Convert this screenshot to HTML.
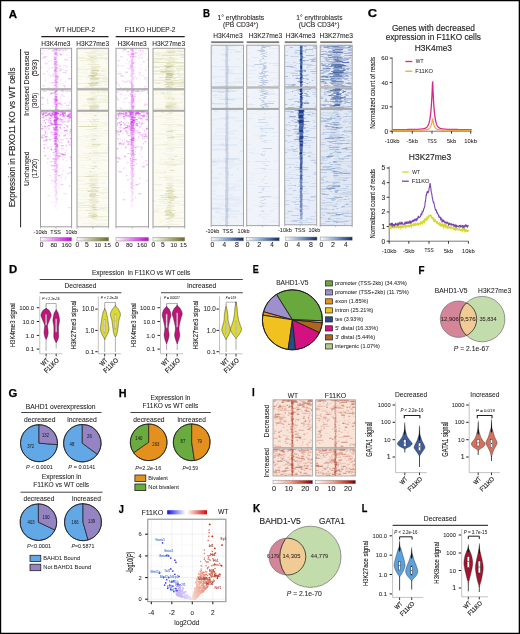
<!DOCTYPE html>
<html><head><meta charset="utf-8"><style>
html,body{margin:0;padding:0;background:#fff;overflow:hidden;width:520px;height:634px;}
svg{display:block;font-family:"Liberation Sans", sans-serif;will-change:transform;}
text{stroke:#231f20;stroke-width:0.18px;}
</style></head><body>
<svg width="520" height="634" viewBox="0 0 520 634" font-family="Liberation Sans, sans-serif" fill="#231f20">
<rect x="0" y="0" width="520" height="634" fill="#fff"/>
<defs><filter id="soft" x="-5%" y="-5%" width="110%" height="110%"><feGaussianBlur stdDeviation="0.35"/></filter></defs>
<text x="8.70" y="17.59" font-size="10.6" font-weight="bold" fill="#000" style="stroke:#000;stroke-width:0.25px" textLength="8.3" lengthAdjust="spacingAndGlyphs">A</text>
<text x="75.14" y="32.10" font-size="6.396" text-anchor="middle" style="stroke-width:0.06px" textLength="39.68" lengthAdjust="spacingAndGlyphs">WT HUDEP-2</text>
<text x="150.09" y="32.16" font-size="6.549" text-anchor="middle" style="stroke-width:0.07px" textLength="50.83" lengthAdjust="spacingAndGlyphs">F11KO HUDEP-2</text>
<line x1="41.30" y1="36.60" x2="108.50" y2="36.60" stroke="#231f20" stroke-width="1.1" />
<line x1="115.70" y1="36.60" x2="184.70" y2="36.60" stroke="#231f20" stroke-width="1.1" />
<text x="55.93" y="45.66" font-size="6.543" text-anchor="middle" style="stroke-width:0.07px" textLength="29.10" lengthAdjust="spacingAndGlyphs">H3K4me3</text>
<text x="92.68" y="45.66" font-size="6.557" text-anchor="middle" style="stroke-width:0.07px" textLength="32.81" lengthAdjust="spacingAndGlyphs">H3K27me3</text>
<text x="132.13" y="45.66" font-size="6.543" text-anchor="middle" style="stroke-width:0.07px" textLength="29.10" lengthAdjust="spacingAndGlyphs">H3K4me3</text>
<text x="168.73" y="45.66" font-size="6.557" text-anchor="middle" style="stroke-width:0.07px" textLength="32.81" lengthAdjust="spacingAndGlyphs">H3K27me3</text>
<rect x="40.50" y="48.30" width="31.10" height="40.50" fill="#ffffff" />
<g filter="url(#soft)">
<path fill="#cc22e6" fill-opacity="0.08" d="M65.6 48.3h3.3v1.0h-3.3zM43.6 48.3h1.8v1.0h-1.8zM40.5 52.3h0.7v1.0h-0.7zM67.1 55.3h2.0v1.0h-2.0zM57.2 58.3h1.3v1.0h-1.3zM46.3 58.3h1.4v1.0h-1.4zM63.9 61.3h1.2v1.0h-1.2zM70.8 62.3h0.8v1.0h-0.8zM66.5 64.3h0.5v1.0h-0.5zM67.5 68.3h1.5v1.0h-1.5zM40.6 74.3h1.1v1.0h-1.1zM45.2 77.3h0.8v1.0h-0.8zM57.9 84.3h1.5v1.0h-1.5zM68.7 84.3h2.3v1.0h-2.3zM57.4 85.3h1.4v1.0h-1.4zM64.1 86.3h0.6v1.0h-0.6z"/>
<path fill="#cc22e6" fill-opacity="0.16" d="M42.3 48.3h1.4v1.0h-1.4zM45.7 48.3h0.8v1.0h-0.8zM55.7 49.3h2.3v1.0h-2.3zM56.6 49.3h1.6v1.0h-1.6zM50.9 49.3h2.8v1.0h-2.8zM57.7 50.3h2.2v1.0h-2.2zM43.8 50.3h0.5v1.0h-0.5zM62.7 50.3h1.4v1.0h-1.4zM69.6 50.3h1.1v1.0h-1.1zM46.4 50.3h0.6v1.0h-0.6zM71.0 51.3h0.6v1.0h-0.6zM62.5 51.3h0.9v1.0h-0.9zM63.0 53.3h1.2v1.0h-1.2zM58.4 53.3h3.2v1.0h-3.2zM54.1 54.3h1.1v1.0h-1.1zM52.5 55.3h0.8v1.0h-0.8zM68.8 57.3h2.3v1.0h-2.3zM41.3 58.3h1.7v1.0h-1.7zM58.4 59.3h0.5v1.0h-0.5zM69.5 60.3h1.9v1.0h-1.9zM53.3 62.3h1.3v1.0h-1.3zM45.8 62.3h0.8v1.0h-0.8zM51.3 63.3h0.6v1.0h-0.6zM63.0 65.3h3.5v1.0h-3.5zM59.3 65.3h2.3v1.0h-2.3zM70.0 66.3h0.8v1.0h-0.8zM58.6 66.3h1.9v1.0h-1.9zM59.8 69.3h1.8v1.0h-1.8zM48.1 74.3h1.8v1.0h-1.8zM50.0 75.3h4.2v1.0h-4.2zM71.1 75.3h0.5v1.0h-0.5zM52.8 76.3h1.8v1.0h-1.8zM68.2 78.3h2.6v1.0h-2.6zM45.0 79.3h0.9v1.0h-0.9zM44.4 80.3h1.3v1.0h-1.3zM55.1 81.3h1.5v1.0h-1.5zM49.3 82.3h4.2v1.0h-4.2zM60.1 83.3h1.2v1.0h-1.2zM70.3 86.3h1.3v1.0h-1.3zM47.6 87.3h1.8v1.0h-1.8z"/>
<path fill="#cc22e6" fill-opacity="0.26" d="M55.3 48.3h2.5v1.0h-2.5zM53.4 48.3h2.1v1.0h-2.1zM69.5 48.3h0.6v1.0h-0.6zM49.8 48.3h1.0v1.0h-1.0zM59.8 48.3h1.0v1.0h-1.0zM70.2 48.3h0.8v1.0h-0.8zM64.4 48.3h1.1v1.0h-1.1zM58.6 49.3h4.2v1.0h-4.2zM65.6 49.3h2.2v1.0h-2.2zM47.7 49.3h1.8v1.0h-1.8zM62.2 49.3h3.4v1.0h-3.4zM55.5 49.3h1.4v1.0h-1.4zM61.4 49.3h0.7v1.0h-0.7zM63.9 49.3h0.7v1.0h-0.7zM55.1 50.3h2.3v1.0h-2.3zM59.4 50.3h2.0v1.0h-2.0zM57.2 50.3h1.3v1.0h-1.3zM65.3 50.3h0.7v1.0h-0.7zM44.6 50.3h0.6v1.0h-0.6zM42.3 50.3h0.7v1.0h-0.7zM54.2 51.3h2.7v1.0h-2.7zM53.1 51.3h0.8v1.0h-0.8zM40.5 53.3h2.9v1.0h-2.9zM66.6 54.3h0.7v1.0h-0.7zM59.8 54.3h0.9v1.0h-0.9zM55.6 55.3h2.3v1.0h-2.3zM56.9 55.3h1.7v1.0h-1.7zM53.9 56.3h2.8v1.0h-2.8zM43.1 56.3h4.2v1.0h-4.2zM45.1 56.3h1.6v1.0h-1.6zM42.9 57.3h2.7v1.0h-2.7zM63.9 59.3h4.2v1.0h-4.2zM55.7 60.3h2.2v1.0h-2.2zM49.7 60.3h0.9v1.0h-0.9zM51.0 60.3h0.6v1.0h-0.6zM48.5 61.3h0.8v1.0h-0.8zM55.2 62.3h3.0v1.0h-3.0zM44.8 63.3h2.8v1.0h-2.8zM71.2 64.3h0.4v1.0h-0.4zM54.2 66.3h2.1v1.0h-2.1zM66.2 66.3h1.6v1.0h-1.6zM51.5 67.3h2.1v1.0h-2.1zM41.2 67.3h1.1v1.0h-1.1zM59.6 68.3h2.4v1.0h-2.4zM48.7 68.3h1.3v1.0h-1.3zM62.5 69.3h1.0v1.0h-1.0zM64.8 70.3h2.7v1.0h-2.7zM54.0 70.3h1.9v1.0h-1.9zM56.5 71.3h1.7v1.0h-1.7zM46.4 71.3h1.3v1.0h-1.3zM54.1 72.3h2.4v1.0h-2.4zM62.8 72.3h3.3v1.0h-3.3zM66.4 72.3h0.7v1.0h-0.7zM52.3 73.3h1.1v1.0h-1.1zM43.3 73.3h1.9v1.0h-1.9zM53.7 74.3h3.0v1.0h-3.0zM54.8 76.3h4.2v1.0h-4.2zM54.9 77.3h2.4v1.0h-2.4zM56.4 77.3h2.0v1.0h-2.0zM68.0 78.3h3.6v1.0h-3.6zM60.4 79.3h0.9v1.0h-0.9zM60.1 80.3h0.7v1.0h-0.7zM65.0 81.3h1.0v1.0h-1.0zM52.5 82.3h4.2v1.0h-4.2zM55.0 83.3h2.0v1.0h-2.0zM62.6 83.3h0.6v1.0h-0.6zM42.5 85.3h2.3v1.0h-2.3zM62.7 85.3h2.4v1.0h-2.4zM64.0 86.3h1.5v1.0h-1.5zM54.8 87.3h3.4v1.0h-3.4zM52.7 87.3h0.5v1.0h-0.5zM53.9 88.3h2.4v0.5h-2.4zM68.7 88.3h0.7v0.5h-0.7zM42.3 88.3h0.9v0.5h-0.9z"/>
<path fill="#cc22e6" fill-opacity="0.4" d="M56.2 48.3h3.6v1.0h-3.6zM53.8 49.3h3.2v1.0h-3.2zM54.5 49.3h0.9v1.0h-0.9zM52.3 50.3h2.0v1.0h-2.0zM54.5 52.3h2.2v1.0h-2.2zM55.3 52.3h2.3v1.0h-2.3zM54.6 54.3h2.9v1.0h-2.9zM59.9 54.3h2.1v1.0h-2.1zM53.7 57.3h3.2v1.0h-3.2zM54.0 58.3h2.4v1.0h-2.4zM55.6 62.3h1.3v1.0h-1.3zM54.6 64.3h3.0v1.0h-3.0zM53.5 64.3h4.8v1.0h-4.8zM54.7 65.3h2.3v1.0h-2.3zM54.9 68.3h3.0v1.0h-3.0zM53.8 70.3h3.3v1.0h-3.3zM59.2 70.3h1.6v1.0h-1.6zM54.4 71.3h2.3v1.0h-2.3zM54.7 73.3h2.1v1.0h-2.1zM54.9 75.3h3.3v1.0h-3.3zM55.1 76.3h2.8v1.0h-2.8zM55.2 78.3h3.1v1.0h-3.1zM54.7 79.3h2.7v1.0h-2.7zM54.5 80.3h2.2v1.0h-2.2zM54.9 81.3h2.7v1.0h-2.7zM55.5 82.3h2.9v1.0h-2.9zM54.6 84.3h2.8v1.0h-2.8zM53.7 85.3h3.0v1.0h-3.0zM55.6 86.3h1.9v1.0h-1.9z"/>
<path fill="#cc22e6" fill-opacity="0.6" d="M54.2 53.3h3.1v1.0h-3.1zM53.8 59.3h2.7v1.0h-2.7zM53.8 61.3h2.9v1.0h-2.9zM54.1 63.3h2.2v1.0h-2.2zM54.6 67.3h2.9v1.0h-2.9zM54.3 69.3h2.1v1.0h-2.1z"/>
</g>
<rect x="40.50" y="48.30" width="31.10" height="40.50" fill="none" stroke="#9d9d9d" stroke-width="1"/>
<rect x="40.50" y="89.80" width="31.10" height="20.50" fill="#ffffff" />
<g filter="url(#soft)">
<path fill="#cc22e6" fill-opacity="0.08" d="M70.7 89.8h0.8v1.0h-0.8zM49.6 89.8h1.2v1.0h-1.2zM45.9 90.8h0.5v1.0h-0.5zM42.9 90.8h0.5v1.0h-0.5zM50.8 91.8h1.9v1.0h-1.9zM66.1 91.8h0.9v1.0h-0.9zM49.3 92.8h3.3v1.0h-3.3zM68.0 92.8h1.8v1.0h-1.8zM51.8 100.8h4.2v1.0h-4.2zM40.5 104.8h0.4v1.0h-0.4zM59.6 106.8h1.7v1.0h-1.7zM64.1 107.8h0.6v1.0h-0.6zM66.1 107.8h2.5v1.0h-2.5zM68.8 108.8h2.2v1.0h-2.2z"/>
<path fill="#cc22e6" fill-opacity="0.16" d="M60.9 89.8h1.3v1.0h-1.3zM54.9 89.8h1.0v1.0h-1.0zM52.5 89.8h1.7v1.0h-1.7zM51.8 89.8h3.1v1.0h-3.1zM52.5 89.8h1.7v1.0h-1.7zM60.6 90.8h1.0v1.0h-1.0zM67.7 90.8h1.3v1.0h-1.3zM68.1 90.8h2.1v1.0h-2.1zM61.6 94.8h1.9v1.0h-1.9zM63.1 95.8h1.9v1.0h-1.9zM54.3 95.8h1.2v1.0h-1.2zM40.6 96.8h3.6v1.0h-3.6zM52.9 98.8h2.0v1.0h-2.0zM47.5 98.8h0.6v1.0h-0.6zM55.5 99.8h3.5v1.0h-3.5zM69.5 99.8h1.6v1.0h-1.6zM69.5 101.8h2.1v1.0h-2.1zM63.7 102.8h2.2v1.0h-2.2zM46.6 102.8h2.3v1.0h-2.3zM62.1 106.8h0.5v1.0h-0.5zM68.0 107.8h1.4v1.0h-1.4zM57.7 109.8h1.4v0.5h-1.4z"/>
<path fill="#cc22e6" fill-opacity="0.26" d="M49.2 89.8h0.8v1.0h-0.8zM42.9 89.8h0.8v1.0h-0.8zM61.2 89.8h2.6v1.0h-2.6zM52.7 89.8h1.2v1.0h-1.2zM61.7 90.8h0.7v1.0h-0.7zM61.5 90.8h2.9v1.0h-2.9zM69.9 90.8h1.0v1.0h-1.0zM43.0 90.8h2.7v1.0h-2.7zM65.4 90.8h2.3v1.0h-2.3zM45.8 90.8h0.7v1.0h-0.7zM50.4 93.8h1.4v1.0h-1.4zM61.5 93.8h0.9v1.0h-0.9zM56.6 93.8h0.9v1.0h-0.9zM54.3 94.8h2.1v1.0h-2.1zM54.1 94.8h1.1v1.0h-1.1zM60.5 95.8h0.9v1.0h-0.9zM54.4 96.8h2.3v1.0h-2.3zM41.1 97.8h2.8v1.0h-2.8zM60.2 97.8h0.9v1.0h-0.9zM46.9 98.8h0.8v1.0h-0.8zM56.4 99.8h0.8v1.0h-0.8zM41.5 100.8h0.6v1.0h-0.6zM46.8 100.8h1.3v1.0h-1.3zM67.0 101.8h0.7v1.0h-0.7zM69.2 102.8h1.2v1.0h-1.2zM59.0 103.8h3.8v1.0h-3.8zM40.9 103.8h2.8v1.0h-2.8zM57.7 103.8h2.4v1.0h-2.4zM66.1 104.8h4.2v1.0h-4.2zM61.8 104.8h0.7v1.0h-0.7zM52.6 105.8h0.9v1.0h-0.9zM55.3 105.8h1.4v1.0h-1.4zM70.3 108.8h1.3v1.0h-1.3zM67.7 109.8h1.5v0.5h-1.5z"/>
<path fill="#cc22e6" fill-opacity="0.4" d="M54.3 92.8h2.1v1.0h-2.1zM50.4 92.8h3.7v1.0h-3.7zM55.2 93.8h2.2v1.0h-2.2zM54.0 97.8h2.8v1.0h-2.8zM54.4 98.8h2.8v1.0h-2.8zM54.4 101.8h2.9v1.0h-2.9zM53.7 101.8h1.3v1.0h-1.3zM54.4 102.8h2.1v1.0h-2.1zM56.8 102.8h4.1v1.0h-4.1zM54.8 105.8h3.3v1.0h-3.3zM54.9 107.8h2.0v1.0h-2.0z"/>
<path fill="#cc22e6" fill-opacity="0.6" d="M55.8 89.8h2.1v1.0h-2.1zM55.2 90.8h1.8v1.0h-1.8zM54.9 90.8h1.0v1.0h-1.0zM54.1 91.8h2.3v1.0h-2.3zM55.1 95.8h2.0v1.0h-2.0zM55.3 96.8h2.2v1.0h-2.2zM55.3 98.8h2.3v1.0h-2.3zM54.3 99.8h3.2v1.0h-3.2zM54.7 100.8h2.7v1.0h-2.7zM54.4 103.8h2.9v1.0h-2.9zM55.9 104.8h1.9v1.0h-1.9zM55.2 106.8h1.9v1.0h-1.9zM55.1 108.8h3.2v1.0h-3.2zM54.7 109.8h1.8v0.5h-1.8z"/>
</g>
<rect x="40.50" y="89.80" width="31.10" height="20.50" fill="none" stroke="#9d9d9d" stroke-width="1"/>
<rect x="40.50" y="111.20" width="31.10" height="115.60" fill="#ffffff" />
<g filter="url(#soft)">
<path fill="#cc22e6" fill-opacity="0.08" d="M54.2 189.2h2.8v1.0h-2.8zM54.0 196.2h2.8v1.0h-2.8zM55.6 197.2h2.0v1.0h-2.0zM55.7 200.2h2.0v1.0h-2.0zM53.9 201.2h2.8v1.0h-2.8zM55.0 202.2h2.1v1.0h-2.1zM55.9 203.2h1.7v1.0h-1.7zM54.3 204.2h1.8v1.0h-1.8zM54.9 205.2h1.8v1.0h-1.8zM53.9 206.2h2.5v1.0h-2.5zM55.2 208.2h1.9v1.0h-1.9z"/>
<path fill="#cc22e6" fill-opacity="0.16" d="M44.2 111.2h4.0v1.0h-4.0zM47.2 112.2h1.3v1.0h-1.3zM46.9 112.2h1.7v1.0h-1.7zM52.6 112.2h5.4v1.0h-5.4zM44.9 113.2h0.8v1.0h-0.8zM61.8 113.2h1.3v1.0h-1.3zM48.7 113.2h1.7v1.0h-1.7zM64.3 114.2h1.6v1.0h-1.6zM51.4 115.2h4.2v1.0h-4.2zM63.0 118.2h0.5v1.0h-0.5zM44.0 118.2h1.8v1.0h-1.8zM60.6 121.2h3.4v1.0h-3.4zM45.0 123.2h1.3v1.0h-1.3zM68.0 125.2h0.9v1.0h-0.9zM60.1 126.2h1.1v1.0h-1.1zM48.7 127.2h0.7v1.0h-0.7zM44.8 128.2h2.1v1.0h-2.1zM55.9 128.2h1.2v1.0h-1.2zM45.7 130.2h1.5v1.0h-1.5zM45.6 131.2h0.6v1.0h-0.6zM52.0 132.2h1.0v1.0h-1.0zM55.7 133.2h1.0v1.0h-1.0zM70.2 135.2h1.4v1.0h-1.4zM40.7 135.2h4.2v1.0h-4.2zM51.0 138.2h1.9v1.0h-1.9zM59.4 142.2h2.9v1.0h-2.9zM51.7 143.2h0.5v1.0h-0.5zM45.5 144.2h1.5v1.0h-1.5zM62.5 146.2h0.9v1.0h-0.9zM51.7 149.2h2.1v1.0h-2.1zM65.9 150.2h1.5v1.0h-1.5zM42.7 151.2h2.3v1.0h-2.3zM55.8 153.2h2.3v1.0h-2.3zM69.3 156.2h2.3v1.0h-2.3zM61.8 156.2h1.3v1.0h-1.3zM64.1 157.2h1.5v1.0h-1.5zM55.1 163.2h0.5v1.0h-0.5zM65.7 166.2h0.6v1.0h-0.6zM62.4 170.2h2.1v1.0h-2.1zM53.8 171.2h1.3v1.0h-1.3zM54.7 175.2h2.1v1.0h-2.1zM54.6 178.2h2.3v1.0h-2.3zM50.3 182.2h1.3v1.0h-1.3zM54.8 184.2h1.8v1.0h-1.8zM55.5 185.2h2.0v1.0h-2.0zM54.5 186.2h2.4v1.0h-2.4zM54.2 187.2h1.9v1.0h-1.9zM54.8 188.2h2.3v1.0h-2.3zM54.4 190.2h2.6v1.0h-2.6zM55.7 192.2h2.4v1.0h-2.4zM55.1 193.2h2.0v1.0h-2.0zM63.5 193.2h3.3v1.0h-3.3zM55.0 194.2h2.4v1.0h-2.4zM54.7 195.2h2.1v1.0h-2.1zM47.5 195.2h3.2v1.0h-3.2zM55.4 198.2h2.9v1.0h-2.9zM55.6 199.2h2.3v1.0h-2.3zM68.2 207.2h3.0v1.0h-3.0z"/>
<path fill="#cc22e6" fill-opacity="0.26" d="M51.6 111.2h2.1v1.0h-2.1zM56.8 111.2h0.8v1.0h-0.8zM43.0 111.2h0.8v1.0h-0.8zM44.7 112.2h1.1v1.0h-1.1zM53.3 112.2h0.7v1.0h-0.7zM52.8 112.2h2.1v1.0h-2.1zM40.5 112.2h0.9v1.0h-0.9zM41.0 112.2h2.9v1.0h-2.9zM49.7 112.2h4.2v1.0h-4.2zM53.7 112.2h3.5v1.0h-3.5zM70.9 113.2h0.7v1.0h-0.7zM43.3 113.2h3.1v1.0h-3.1zM55.3 113.2h0.8v1.0h-0.8zM61.9 113.2h0.6v1.0h-0.6zM46.1 113.2h4.2v1.0h-4.2zM66.8 114.2h1.0v1.0h-1.0zM56.0 114.2h0.5v1.0h-0.5zM46.8 114.2h3.2v1.0h-3.2zM53.8 114.2h1.5v1.0h-1.5zM50.3 115.2h1.1v1.0h-1.1zM69.9 115.2h1.7v1.0h-1.7zM58.4 115.2h3.2v1.0h-3.2zM45.1 115.2h3.6v1.0h-3.6zM50.2 115.2h2.2v1.0h-2.2zM63.6 115.2h0.6v1.0h-0.6zM56.3 115.2h1.0v1.0h-1.0zM54.0 115.2h1.8v1.0h-1.8zM66.1 116.2h2.2v1.0h-2.2zM50.8 117.2h4.2v1.0h-4.2zM54.1 117.2h1.2v1.0h-1.2zM47.9 117.2h2.8v1.0h-2.8zM52.8 117.2h3.0v1.0h-3.0zM69.7 118.2h0.7v1.0h-0.7zM47.2 119.2h2.7v1.0h-2.7zM67.6 119.2h0.5v1.0h-0.5zM60.3 119.2h3.8v1.0h-3.8zM53.8 119.2h10.1v1.0h-10.1zM61.3 120.2h1.1v1.0h-1.1zM67.4 120.2h3.8v1.0h-3.8zM65.4 121.2h3.0v1.0h-3.0zM59.8 121.2h1.6v1.0h-1.6zM48.0 122.2h4.2v1.0h-4.2zM52.3 123.2h1.0v1.0h-1.0zM50.7 124.2h1.7v1.0h-1.7zM55.3 124.2h0.9v1.0h-0.9zM70.6 125.2h0.7v1.0h-0.7zM55.7 126.2h0.5v1.0h-0.5zM59.0 127.2h1.6v1.0h-1.6zM67.4 127.2h1.1v1.0h-1.1zM41.5 128.2h2.0v1.0h-2.0zM43.6 130.2h0.6v1.0h-0.6zM50.7 131.2h1.2v1.0h-1.2zM50.1 132.2h3.0v1.0h-3.0zM66.8 133.2h1.6v1.0h-1.6zM42.4 134.2h3.5v1.0h-3.5zM51.4 134.2h1.5v1.0h-1.5zM40.7 136.2h1.6v1.0h-1.6zM44.2 136.2h2.7v1.0h-2.7zM65.2 138.2h1.7v1.0h-1.7zM53.8 138.2h2.4v1.0h-2.4zM50.5 139.2h0.6v1.0h-0.6zM60.2 139.2h3.7v1.0h-3.7zM59.2 141.2h1.1v1.0h-1.1zM52.6 141.2h1.0v1.0h-1.0zM54.2 142.2h3.7v1.0h-3.7zM61.5 142.2h0.6v1.0h-0.6zM67.7 142.2h3.9v1.0h-3.9zM68.2 144.2h3.4v1.0h-3.4zM70.5 145.2h1.1v1.0h-1.1zM50.6 146.2h0.9v1.0h-0.9zM44.0 148.2h1.2v1.0h-1.2zM60.9 148.2h2.9v1.0h-2.9zM61.6 150.2h0.5v1.0h-0.5zM70.5 151.2h1.1v1.0h-1.1zM54.8 152.2h3.3v1.0h-3.3zM57.3 152.2h2.7v1.0h-2.7zM64.4 152.2h1.5v1.0h-1.5zM53.4 154.2h3.7v1.0h-3.7zM55.6 155.2h2.1v1.0h-2.1zM54.1 156.2h3.1v1.0h-3.1zM55.0 157.2h3.2v1.0h-3.2zM46.9 158.2h2.3v1.0h-2.3zM54.8 160.2h2.0v1.0h-2.0zM70.8 160.2h0.8v1.0h-0.8zM66.5 160.2h0.8v1.0h-0.8zM49.6 161.2h3.3v1.0h-3.3zM53.9 162.2h2.8v1.0h-2.8zM46.9 162.2h0.9v1.0h-0.9zM55.6 166.2h2.6v1.0h-2.6zM53.8 166.2h1.2v1.0h-1.2zM54.3 168.2h3.2v1.0h-3.2zM60.1 168.2h0.5v1.0h-0.5zM54.3 169.2h3.0v1.0h-3.0zM55.1 172.2h1.9v1.0h-1.9zM55.3 173.2h1.9v1.0h-1.9zM66.9 173.2h1.8v1.0h-1.8zM54.3 174.2h3.3v1.0h-3.3zM61.3 174.2h1.5v1.0h-1.5zM49.6 175.2h1.3v1.0h-1.3zM54.8 176.2h2.3v1.0h-2.3zM65.8 176.2h0.6v1.0h-0.6zM54.3 177.2h2.4v1.0h-2.4zM60.7 177.2h1.3v1.0h-1.3zM54.7 179.2h2.6v1.0h-2.6zM54.1 180.2h3.2v1.0h-3.2zM51.0 180.2h2.3v1.0h-2.3zM54.1 181.2h2.1v1.0h-2.1zM54.1 182.2h2.1v1.0h-2.1zM55.6 183.2h2.1v1.0h-2.1zM60.1 184.2h3.4v1.0h-3.4zM54.0 186.2h0.6v1.0h-0.6zM58.4 187.2h0.6v1.0h-0.6zM55.2 191.2h2.1v1.0h-2.1zM51.9 202.2h0.8v1.0h-0.8z"/>
<path fill="#cc22e6" fill-opacity="0.4" d="M52.0 111.2h1.6v1.0h-1.6zM41.1 111.2h1.5v1.0h-1.5zM65.6 111.2h0.7v1.0h-0.7zM53.8 111.2h1.6v1.0h-1.6zM59.8 111.2h1.7v1.0h-1.7zM46.7 111.2h0.7v1.0h-0.7zM53.5 111.2h1.7v1.0h-1.7zM59.9 111.2h2.6v1.0h-2.6zM53.3 111.2h4.0v1.0h-4.0zM61.3 111.2h2.9v1.0h-2.9zM67.8 111.2h2.8v1.0h-2.8zM56.7 111.2h2.5v1.0h-2.5zM65.0 112.2h0.7v1.0h-0.7zM60.5 112.2h0.8v1.0h-0.8zM43.2 112.2h4.1v1.0h-4.1zM40.5 112.2h0.6v1.0h-0.6zM57.5 113.2h1.3v1.0h-1.3zM42.3 113.2h1.5v1.0h-1.5zM63.8 113.2h0.6v1.0h-0.6zM71.3 113.2h0.3v1.0h-0.3zM40.5 113.2h4.0v1.0h-4.0zM51.8 113.2h2.8v1.0h-2.8zM56.0 113.2h3.7v1.0h-3.7zM47.4 114.2h2.0v1.0h-2.0zM57.1 114.2h0.5v1.0h-0.5zM42.1 114.2h0.9v1.0h-0.9zM43.1 114.2h1.0v1.0h-1.0zM55.0 114.2h0.6v1.0h-0.6zM59.6 114.2h1.0v1.0h-1.0zM49.1 114.2h1.1v1.0h-1.1zM53.9 115.2h3.6v1.0h-3.6zM63.4 115.2h3.3v1.0h-3.3zM64.1 115.2h0.8v1.0h-0.8zM66.1 115.2h4.2v1.0h-4.2zM59.4 115.2h0.7v1.0h-0.7zM64.6 115.2h1.5v1.0h-1.5zM54.2 115.2h2.0v1.0h-2.0zM67.2 116.2h1.9v1.0h-1.9zM61.6 116.2h3.5v1.0h-3.5zM50.6 116.2h1.1v1.0h-1.1zM69.4 117.2h0.6v1.0h-0.6zM41.6 117.2h2.4v1.0h-2.4zM68.1 118.2h1.6v1.0h-1.6zM48.9 118.2h2.3v1.0h-2.3zM65.3 118.2h0.5v1.0h-0.5zM59.2 118.2h2.1v1.0h-2.1zM56.1 118.2h2.7v1.0h-2.7zM56.5 119.2h1.5v1.0h-1.5zM45.8 119.2h1.2v1.0h-1.2zM60.4 119.2h2.1v1.0h-2.1zM42.5 120.2h0.6v1.0h-0.6zM53.9 120.2h1.9v1.0h-1.9zM48.3 120.2h1.2v1.0h-1.2zM54.2 121.2h1.4v1.0h-1.4zM68.4 121.2h1.1v1.0h-1.1zM63.5 121.2h1.5v1.0h-1.5zM53.6 121.2h1.1v1.0h-1.1zM42.7 122.2h0.9v1.0h-0.9zM50.1 122.2h1.6v1.0h-1.6zM62.4 122.2h1.0v1.0h-1.0zM55.0 123.2h1.5v1.0h-1.5zM49.9 123.2h3.8v1.0h-3.8zM40.5 124.2h1.5v1.0h-1.5zM54.6 125.2h2.3v1.0h-2.3zM66.5 125.2h1.3v1.0h-1.3zM44.6 125.2h0.7v1.0h-0.7zM55.7 125.2h1.2v1.0h-1.2zM46.6 126.2h1.3v1.0h-1.3zM42.2 126.2h1.1v1.0h-1.1zM66.6 126.2h1.2v1.0h-1.2zM63.5 127.2h1.7v1.0h-1.7zM58.9 127.2h1.8v1.0h-1.8zM48.3 128.2h1.3v1.0h-1.3zM60.5 128.2h0.9v1.0h-0.9zM40.5 128.2h2.7v1.0h-2.7zM53.6 129.2h2.1v1.0h-2.1zM53.1 129.2h1.7v1.0h-1.7zM53.9 130.2h3.0v1.0h-3.0zM57.4 130.2h1.5v1.0h-1.5zM44.4 130.2h0.5v1.0h-0.5zM54.6 131.2h3.6v1.0h-3.6zM45.4 131.2h0.6v1.0h-0.6zM47.1 133.2h0.5v1.0h-0.5zM69.4 133.2h1.2v1.0h-1.2zM64.7 134.2h1.3v1.0h-1.3zM53.8 134.2h1.5v1.0h-1.5zM55.3 135.2h2.2v1.0h-2.2zM63.2 135.2h2.5v1.0h-2.5zM45.2 136.2h2.6v1.0h-2.6zM54.3 136.2h1.1v1.0h-1.1zM40.5 137.2h1.5v1.0h-1.5zM71.2 137.2h0.4v1.0h-0.4zM42.1 137.2h1.6v1.0h-1.6zM45.6 137.2h0.6v1.0h-0.6zM67.5 138.2h0.8v1.0h-0.8zM55.1 139.2h3.1v1.0h-3.1zM48.9 139.2h2.0v1.0h-2.0zM71.1 140.2h0.5v1.0h-0.5zM43.2 140.2h4.2v1.0h-4.2zM53.7 140.2h2.3v1.0h-2.3zM71.0 141.2h0.6v1.0h-0.6zM67.5 141.2h1.5v1.0h-1.5zM55.8 143.2h1.5v1.0h-1.5zM54.3 143.2h1.6v1.0h-1.6zM43.5 144.2h1.4v1.0h-1.4zM65.4 145.2h1.6v1.0h-1.6zM60.8 145.2h2.6v1.0h-2.6zM54.9 147.2h3.2v1.0h-3.2zM47.3 147.2h1.3v1.0h-1.3zM43.6 147.2h1.6v1.0h-1.6zM54.5 148.2h2.7v1.0h-2.7zM50.9 148.2h0.7v1.0h-0.7zM55.1 150.2h3.5v1.0h-3.5zM52.5 152.2h2.0v1.0h-2.0zM55.6 153.2h2.3v1.0h-2.3zM59.6 153.2h3.7v1.0h-3.7zM55.7 153.2h1.5v1.0h-1.5zM62.8 154.2h0.7v1.0h-0.7zM44.2 155.2h1.9v1.0h-1.9zM70.7 155.2h0.6v1.0h-0.6zM54.9 155.2h6.0v1.0h-6.0zM57.4 156.2h3.0v1.0h-3.0zM54.1 158.2h3.5v1.0h-3.5zM52.5 158.2h1.6v1.0h-1.6zM57.3 158.2h1.4v1.0h-1.4zM53.7 159.2h3.5v1.0h-3.5zM62.6 159.2h1.0v1.0h-1.0zM70.5 159.2h1.1v1.0h-1.1zM53.8 161.2h3.0v1.0h-3.0zM54.6 161.2h2.1v1.0h-2.1zM54.0 163.2h2.6v1.0h-2.6zM55.6 164.2h2.5v1.0h-2.5zM57.4 164.2h1.2v1.0h-1.2zM53.8 165.2h3.4v1.0h-3.4zM50.7 165.2h3.4v1.0h-3.4zM55.7 167.2h2.0v1.0h-2.0zM68.6 167.2h3.0v1.0h-3.0zM52.4 169.2h1.4v1.0h-1.4zM54.7 170.2h2.9v1.0h-2.9zM54.7 171.2h2.9v1.0h-2.9zM69.5 172.2h1.7v1.0h-1.7zM57.8 175.2h2.6v1.0h-2.6zM64.8 178.2h0.6v1.0h-0.6zM69.1 185.2h1.2v1.0h-1.2z"/>
<path fill="#cc22e6" fill-opacity="0.6" d="M53.6 111.2h3.6v1.0h-3.6zM56.3 111.2h1.7v1.0h-1.7zM55.9 111.2h1.9v1.0h-1.9zM52.5 111.2h1.2v1.0h-1.2zM61.1 111.2h1.2v1.0h-1.2zM58.7 111.2h2.1v1.0h-2.1zM56.7 111.2h1.7v1.0h-1.7zM52.5 111.2h1.4v1.0h-1.4zM49.5 112.2h0.7v1.0h-0.7zM54.8 112.2h0.8v1.0h-0.8zM54.2 112.2h2.6v1.0h-2.6zM70.5 112.2h1.1v1.0h-1.1zM61.9 112.2h3.6v1.0h-3.6zM54.8 112.2h1.7v1.0h-1.7zM64.6 112.2h0.9v1.0h-0.9zM55.1 112.2h1.6v1.0h-1.6zM57.6 112.2h0.9v1.0h-0.9zM48.5 113.2h1.3v1.0h-1.3zM61.9 113.2h3.0v1.0h-3.0zM51.2 113.2h1.3v1.0h-1.3zM61.8 113.2h0.6v1.0h-0.6zM54.4 113.2h0.5v1.0h-0.5zM51.9 113.2h1.2v1.0h-1.2zM63.3 113.2h2.5v1.0h-2.5zM68.9 113.2h1.9v1.0h-1.9zM61.5 114.2h0.8v1.0h-0.8zM61.5 114.2h2.5v1.0h-2.5zM53.0 114.2h4.2v1.0h-4.2zM52.7 114.2h0.7v1.0h-0.7zM42.1 114.2h1.9v1.0h-1.9zM68.1 114.2h2.8v1.0h-2.8zM50.3 114.2h0.9v1.0h-0.9zM60.0 114.2h1.4v1.0h-1.4zM52.2 114.2h0.8v1.0h-0.8zM51.7 114.2h1.3v1.0h-1.3zM67.9 114.2h2.7v1.0h-2.7zM63.2 115.2h0.8v1.0h-0.8zM51.8 115.2h0.7v1.0h-0.7zM49.8 115.2h2.6v1.0h-2.6zM45.5 115.2h1.5v1.0h-1.5zM44.7 115.2h2.6v1.0h-2.6zM67.7 115.2h1.5v1.0h-1.5zM50.0 115.2h2.3v1.0h-2.3zM68.1 116.2h2.8v1.0h-2.8zM43.3 116.2h1.1v1.0h-1.1zM69.7 116.2h1.9v1.0h-1.9zM69.6 117.2h2.0v1.0h-2.0zM54.8 118.2h3.9v1.0h-3.9zM43.7 120.2h1.2v1.0h-1.2zM50.0 120.2h1.5v1.0h-1.5zM54.3 121.2h3.4v1.0h-3.4zM45.2 122.2h0.9v1.0h-0.9zM54.3 123.2h3.5v1.0h-3.5zM54.1 123.2h1.3v1.0h-1.3zM64.7 124.2h0.7v1.0h-0.7zM53.2 124.2h2.9v1.0h-2.9zM59.2 124.2h2.5v1.0h-2.5zM51.1 124.2h1.8v1.0h-1.8zM47.9 125.2h2.6v1.0h-2.6zM44.4 126.2h1.6v1.0h-1.6zM52.7 127.2h1.9v1.0h-1.9zM53.7 128.2h3.2v1.0h-3.2zM69.8 129.2h1.8v1.0h-1.8zM70.6 129.2h1.0v1.0h-1.0zM63.8 130.2h4.0v1.0h-4.0zM69.6 131.2h2.0v1.0h-2.0zM53.5 132.2h3.8v1.0h-3.8zM61.8 132.2h0.6v1.0h-0.6zM45.0 132.2h1.1v1.0h-1.1zM54.6 133.2h2.9v1.0h-2.9zM56.5 134.2h2.0v1.0h-2.0zM59.0 135.2h0.9v1.0h-0.9zM54.2 137.2h2.9v1.0h-2.9zM69.9 138.2h1.7v1.0h-1.7zM45.9 139.2h1.5v1.0h-1.5zM54.7 140.2h2.2v1.0h-2.2zM68.6 140.2h0.6v1.0h-0.6zM58.3 140.2h0.9v1.0h-0.9zM54.4 141.2h2.5v1.0h-2.5zM54.4 143.2h2.3v1.0h-2.3zM54.5 144.2h3.6v1.0h-3.6zM55.8 145.2h2.2v1.0h-2.2zM54.7 146.2h3.4v1.0h-3.4zM71.1 147.2h0.5v1.0h-0.5zM54.4 149.2h3.2v1.0h-3.2zM50.7 149.2h1.3v1.0h-1.3zM54.7 151.2h2.7v1.0h-2.7zM61.6 154.2h4.2v1.0h-4.2zM70.4 157.2h1.2v1.0h-1.2z"/>
<path fill="#cc22e6" fill-opacity="0.8" d="M54.5 112.2h2.8v1.0h-2.8zM54.9 113.2h3.9v1.0h-3.9zM53.8 114.2h2.8v1.0h-2.8zM54.2 116.2h3.1v1.0h-3.1zM54.2 117.2h4.1v1.0h-4.1zM54.2 119.2h3.6v1.0h-3.6zM53.4 120.2h3.6v1.0h-3.6zM53.9 122.2h3.3v1.0h-3.3zM54.7 124.2h3.9v1.0h-3.9zM55.4 126.2h2.3v1.0h-2.3zM54.8 127.2h2.8v1.0h-2.8zM54.5 129.2h3.6v1.0h-3.6zM53.7 134.2h2.9v1.0h-2.9zM54.8 136.2h2.4v1.0h-2.4zM54.2 138.2h3.7v1.0h-3.7z"/>
</g>
<rect x="40.50" y="111.20" width="31.10" height="115.60" fill="none" stroke="#9d9d9d" stroke-width="1"/>
<line x1="40.50" y1="226.80" x2="40.50" y2="228.60" stroke="#9d9d9d" stroke-width="0.7" />
<line x1="56.05" y1="226.80" x2="56.05" y2="228.60" stroke="#9d9d9d" stroke-width="0.7" />
<line x1="71.60" y1="226.80" x2="71.60" y2="228.60" stroke="#9d9d9d" stroke-width="0.7" />
<rect x="77.00" y="48.30" width="31.60" height="40.50" fill="#fbfbf2" />
<g filter="url(#soft)">
<path fill="#8e8f22" fill-opacity="0.06" d="M97.7 48.3h10.9v0.7h-10.9zM77.0 48.3h2.2v0.7h-2.2zM89.9 48.3h4.4v0.7h-4.4zM87.2 54.3h21.4v0.7h-21.4zM90.1 54.3h4.6v0.7h-4.6zM88.7 58.3h8.0v0.7h-8.0zM89.1 59.3h3.2v0.7h-3.2zM86.7 60.3h10.3v0.7h-10.3zM88.9 62.3h5.8v0.7h-5.8zM105.5 63.3h3.1v0.7h-3.1zM88.2 63.3h8.3v0.7h-8.3zM88.6 65.3h8.6v0.7h-8.6zM82.8 66.3h3.7v0.7h-3.7zM77.0 67.3h5.9v0.7h-5.9zM85.6 68.3h23.0v0.7h-23.0zM101.5 71.3h7.1v0.7h-7.1zM77.0 72.3h10.0v0.7h-10.0zM84.7 73.3h23.9v0.7h-23.9zM102.6 74.3h1.3v0.7h-1.3zM96.9 75.3h11.2v0.7h-11.2zM79.7 76.3h17.4v0.7h-17.4zM77.0 76.3h14.9v0.7h-14.9zM96.7 80.3h11.9v0.7h-11.9zM101.9 81.3h6.0v0.7h-6.0zM86.8 82.3h2.5v0.7h-2.5zM96.6 82.3h12.0v0.7h-12.0zM100.7 88.3h7.9v0.5h-7.9z"/>
<path fill="#8e8f22" fill-opacity="0.12" d="M101.2 49.3h2.6v0.7h-2.6zM77.0 49.3h31.6v0.7h-31.6zM90.7 49.3h9.0v0.7h-9.0zM97.3 50.3h0.6v0.7h-0.6zM93.0 50.3h5.5v0.7h-5.5zM98.9 51.3h9.7v0.7h-9.7zM103.3 51.3h5.3v0.7h-5.3zM89.8 51.3h8.4v0.7h-8.4zM84.6 52.3h7.5v0.7h-7.5zM88.5 52.3h7.5v0.7h-7.5zM92.6 53.3h16.0v0.7h-16.0zM94.1 53.3h13.5v0.7h-13.5zM87.4 53.3h8.9v0.7h-8.9zM94.9 55.3h8.4v0.7h-8.4zM77.0 55.3h0.4v0.7h-0.4zM86.9 55.3h10.0v0.7h-10.0zM94.3 57.3h14.3v0.7h-14.3zM77.0 57.3h8.2v0.7h-8.2zM93.6 57.3h4.2v0.7h-4.2zM77.0 58.3h31.6v0.7h-31.6zM89.5 58.3h9.9v0.7h-9.9zM105.0 59.3h3.6v0.7h-3.6zM87.0 59.3h10.1v0.7h-10.1zM79.6 60.3h14.7v0.7h-14.7zM90.0 61.3h2.4v0.7h-2.4zM90.9 61.3h8.0v0.7h-8.0zM107.8 62.3h0.8v0.7h-0.8zM91.2 62.3h4.6v0.7h-4.6zM99.3 66.3h1.2v0.7h-1.2zM103.3 68.3h1.1v0.7h-1.1zM77.0 69.3h15.3v0.7h-15.3zM82.3 69.3h11.0v0.7h-11.0zM78.7 70.3h0.8v0.7h-0.8zM97.3 70.3h9.0v0.7h-9.0zM101.3 71.3h1.9v0.7h-1.9zM90.1 73.3h4.2v0.7h-4.2zM91.4 74.3h9.4v0.7h-9.4zM88.7 75.3h16.8v0.7h-16.8zM92.5 77.3h15.3v0.7h-15.3zM91.2 77.3h17.4v0.7h-17.4zM99.4 78.3h6.3v0.7h-6.3zM91.4 78.3h17.2v0.7h-17.2zM79.4 79.3h1.2v0.7h-1.2zM102.0 79.3h6.6v0.7h-6.6zM89.2 80.3h6.5v0.7h-6.5zM97.8 81.3h10.8v0.7h-10.8zM90.8 81.3h7.0v0.7h-7.0zM77.0 83.3h17.9v0.7h-17.9zM88.1 83.3h13.2v0.7h-13.2zM106.1 84.3h2.4v0.7h-2.4zM103.9 84.3h3.2v0.7h-3.2zM95.6 85.3h6.0v0.7h-6.0zM85.8 86.3h3.2v0.7h-3.2zM84.0 87.3h9.0v0.7h-9.0zM83.7 87.3h24.9v0.7h-24.9zM92.6 87.3h5.7v0.7h-5.7zM94.3 88.3h4.4v0.5h-4.4z"/>
<path fill="#8e8f22" fill-opacity="0.2" d="M87.8 56.3h9.0v0.7h-9.0zM95.7 64.3h4.0v0.7h-4.0zM87.4 64.3h9.1v0.7h-9.1zM90.9 66.3h9.6v0.7h-9.6zM90.7 67.3h8.5v0.7h-8.5zM94.3 68.3h2.1v0.7h-2.1zM91.6 68.3h4.6v0.7h-4.6zM93.6 69.3h2.0v0.7h-2.0zM91.7 69.3h7.3v0.7h-7.3zM91.2 70.3h5.9v0.7h-5.9zM90.4 71.3h1.3v0.7h-1.3zM91.9 71.3h7.2v0.7h-7.2zM93.6 74.3h4.4v0.7h-4.4zM87.5 77.3h9.2v0.7h-9.2zM90.2 86.3h3.7v0.7h-3.7zM89.9 88.3h4.3v0.5h-4.3z"/>
<path fill="#8e8f22" fill-opacity="0.32" d="M88.3 48.3h1.2v0.7h-1.2zM90.0 57.3h3.7v0.7h-3.7zM94.1 58.3h0.9v0.7h-0.9zM91.6 70.3h7.2v0.7h-7.2zM90.3 72.3h6.5v0.7h-6.5zM91.8 73.3h6.4v0.7h-6.4zM89.7 78.3h10.1v0.7h-10.1zM90.1 79.3h8.4v0.7h-8.4zM96.9 82.3h2.1v0.7h-2.1zM90.4 82.3h7.4v0.7h-7.4zM87.7 83.3h10.3v0.7h-10.3zM89.4 84.3h7.8v0.7h-7.8zM89.4 85.3h6.3v0.7h-6.3z"/>
<path fill="#8e8f22" fill-opacity="0.45" d="M88.6 75.3h8.0v0.7h-8.0zM90.7 76.3h4.1v0.7h-4.1z"/>
</g>
<rect x="77.00" y="48.30" width="31.60" height="40.50" fill="none" stroke="#9d9d9d" stroke-width="1"/>
<rect x="77.00" y="89.80" width="31.60" height="20.50" fill="#fbfbf2" />
<g filter="url(#soft)">
<path fill="#8e8f22" fill-opacity="0.06" d="M90.0 89.8h9.1v0.7h-9.1zM91.6 90.8h7.8v0.7h-7.8zM107.3 93.8h1.3v0.7h-1.3zM89.8 93.8h5.9v0.7h-5.9zM77.0 94.8h18.5v0.7h-18.5zM89.0 94.8h10.0v0.7h-10.0zM94.7 95.8h12.3v0.7h-12.3zM90.6 96.8h6.3v0.7h-6.3zM86.5 98.8h6.3v0.7h-6.3zM92.0 99.8h16.6v0.7h-16.6zM83.8 101.8h24.8v0.7h-24.8zM106.5 102.8h2.1v0.7h-2.1zM106.7 103.8h1.9v0.7h-1.9zM82.9 105.8h5.5v0.7h-5.5zM81.5 105.8h27.1v0.7h-27.1zM95.5 107.8h4.0v0.7h-4.0z"/>
<path fill="#8e8f22" fill-opacity="0.12" d="M77.0 89.8h10.6v0.7h-10.6zM95.1 89.8h13.5v0.7h-13.5zM101.7 90.8h6.9v0.7h-6.9zM95.8 91.8h12.8v0.7h-12.8zM89.9 91.8h18.2v0.7h-18.2zM88.5 91.8h7.2v0.7h-7.2zM90.0 92.8h5.4v0.7h-5.4zM97.2 94.8h9.5v0.7h-9.5zM106.8 95.8h1.0v0.7h-1.0zM92.2 95.8h5.0v0.7h-5.0zM105.4 96.8h3.2v0.7h-3.2zM101.9 97.8h0.9v0.7h-0.9zM87.8 97.8h9.4v0.7h-9.4zM94.7 98.8h11.8v0.7h-11.8zM87.1 98.8h10.2v0.7h-10.2zM103.6 99.8h5.0v0.7h-5.0zM89.6 99.8h4.7v0.7h-4.7zM86.9 100.8h10.4v0.7h-10.4zM91.9 101.8h16.7v0.7h-16.7zM90.4 101.8h9.1v0.7h-9.1zM98.9 102.8h1.2v0.7h-1.2zM77.0 103.8h0.4v0.7h-0.4zM82.4 104.8h6.7v0.7h-6.7zM88.9 108.8h9.8v0.7h-9.8z"/>
<path fill="#8e8f22" fill-opacity="0.2" d="M97.5 91.8h1.6v0.7h-1.6zM90.2 97.8h3.8v0.7h-3.8zM88.3 102.8h7.4v0.7h-7.4zM93.0 103.8h3.9v0.7h-3.9zM90.3 104.8h8.7v0.7h-8.7zM88.6 105.8h2.6v0.7h-2.6zM93.3 106.8h1.8v0.7h-1.8zM91.0 107.8h7.2v0.7h-7.2zM89.4 108.8h5.7v0.7h-5.7zM88.9 109.8h9.3v0.5h-9.3z"/>
<path fill="#8e8f22" fill-opacity="0.32" d="M86.6 98.8h8.7v0.7h-8.7zM90.5 105.8h8.4v0.7h-8.4zM89.1 106.8h9.7v0.7h-9.7zM90.5 107.8h1.4v0.7h-1.4z"/>
</g>
<rect x="77.00" y="89.80" width="31.60" height="20.50" fill="none" stroke="#9d9d9d" stroke-width="1"/>
<rect x="77.00" y="111.20" width="31.60" height="115.60" fill="#fbfbf2" />
<g filter="url(#soft)">
<path fill="#8e8f22" fill-opacity="0.06" d="M89.7 111.2h4.6v0.7h-4.6zM82.6 113.2h10.5v0.7h-10.5zM89.5 114.2h10.1v0.7h-10.1zM100.1 115.2h8.5v0.7h-8.5zM92.7 115.2h5.2v0.7h-5.2zM91.4 116.2h3.7v0.7h-3.7zM90.9 117.2h7.5v0.7h-7.5zM86.2 119.2h2.0v0.7h-2.0zM87.6 119.2h8.8v0.7h-8.8zM77.0 121.2h15.1v0.7h-15.1zM93.8 122.2h14.8v0.7h-14.8zM91.0 122.2h6.3v0.7h-6.3zM101.2 123.2h7.4v0.7h-7.4zM90.5 123.2h7.2v0.7h-7.2zM103.3 124.2h5.3v0.7h-5.3zM92.5 125.2h14.9v0.7h-14.9zM77.0 126.2h29.0v0.7h-29.0zM90.7 126.2h5.8v0.7h-5.8zM98.7 128.2h4.2v0.7h-4.2zM91.1 128.2h8.8v0.7h-8.8zM91.1 129.2h7.3v0.7h-7.3zM93.6 130.2h3.5v0.7h-3.5zM88.8 131.2h6.3v0.7h-6.3zM96.1 133.2h12.5v0.7h-12.5zM91.1 133.2h5.5v0.7h-5.5zM88.4 134.2h7.2v0.7h-7.2zM82.5 135.2h20.5v0.7h-20.5zM93.0 135.2h4.3v0.7h-4.3zM77.0 136.2h25.5v0.7h-25.5zM90.1 136.2h5.2v0.7h-5.2zM91.4 137.2h6.4v0.7h-6.4zM77.0 138.2h3.8v0.7h-3.8zM91.6 138.2h7.6v0.7h-7.6zM83.6 140.2h3.9v0.7h-3.9zM86.9 140.2h10.0v0.7h-10.0zM88.9 141.2h7.8v0.7h-7.8zM90.6 142.2h5.6v0.7h-5.6zM93.6 143.2h10.9v0.7h-10.9zM88.2 143.2h9.6v0.7h-9.6zM98.3 144.2h10.3v0.7h-10.3zM88.2 144.2h7.3v0.7h-7.3zM92.5 147.2h5.2v0.7h-5.2zM87.4 148.2h8.9v0.7h-8.9zM101.6 149.2h1.3v0.7h-1.3zM103.6 150.2h5.0v0.7h-5.0zM91.4 150.2h6.2v0.7h-6.2zM107.0 151.2h1.6v0.7h-1.6zM90.6 151.2h7.3v0.7h-7.3zM88.8 152.2h10.4v0.7h-10.4zM88.7 153.2h8.6v0.7h-8.6zM93.7 154.2h6.0v0.7h-6.0zM77.0 155.2h25.4v0.7h-25.4zM89.9 155.2h8.8v0.7h-8.8zM86.5 156.2h20.1v0.7h-20.1zM80.1 157.2h9.2v0.7h-9.2zM84.7 158.2h10.9v0.7h-10.9zM90.7 158.2h8.8v0.7h-8.8zM101.9 159.2h4.4v0.7h-4.4zM79.5 160.2h11.2v0.7h-11.2zM81.7 160.2h26.9v0.7h-26.9zM91.9 161.2h1.4v0.7h-1.4zM92.6 161.2h5.3v0.7h-5.3zM92.1 163.2h4.7v0.7h-4.7zM78.7 165.2h7.8v0.7h-7.8zM88.5 165.2h7.3v0.7h-7.3zM81.1 167.2h3.5v0.7h-3.5zM93.3 167.2h4.6v0.7h-4.6zM88.3 168.2h9.3v0.7h-9.3zM92.7 171.2h4.6v0.7h-4.6zM101.2 172.2h7.4v0.7h-7.4zM90.0 172.2h6.4v0.7h-6.4zM85.2 173.2h23.4v0.7h-23.4zM97.9 174.2h0.6v0.7h-0.6zM89.2 174.2h10.0v0.7h-10.0zM87.3 176.2h9.9v0.7h-9.9zM91.0 177.2h6.8v0.7h-6.8zM88.1 178.2h9.6v0.7h-9.6zM89.7 179.2h10.7v0.7h-10.7zM102.9 179.2h2.1v0.7h-2.1zM102.7 182.2h2.2v0.7h-2.2zM91.9 182.2h7.0v0.7h-7.0zM83.8 183.2h22.1v0.7h-22.1zM78.7 184.2h19.7v0.7h-19.7zM89.1 185.2h5.2v0.7h-5.2zM86.3 187.2h22.3v0.7h-22.3zM81.5 188.2h6.9v0.7h-6.9zM77.9 188.2h8.2v0.7h-8.2zM77.0 190.2h15.2v0.7h-15.2zM86.3 192.2h1.1v0.7h-1.1zM79.1 194.2h11.6v0.7h-11.6zM106.6 195.2h2.0v0.7h-2.0zM82.1 196.2h5.4v0.7h-5.4zM98.8 197.2h9.8v0.7h-9.8zM103.1 198.2h4.8v0.7h-4.8zM77.0 199.2h8.4v0.7h-8.4zM77.0 199.2h14.0v0.7h-14.0zM78.3 200.2h1.2v0.7h-1.2zM85.3 201.2h4.8v0.7h-4.8zM77.0 202.2h11.7v0.7h-11.7zM95.9 204.2h0.6v0.7h-0.6zM79.5 205.2h27.5v0.7h-27.5zM91.1 206.2h6.8v0.7h-6.8zM100.7 208.2h7.9v0.7h-7.9zM90.4 209.2h14.6v0.7h-14.6zM77.0 210.2h31.6v0.7h-31.6zM106.8 211.2h1.8v0.7h-1.8zM92.1 216.2h16.5v0.7h-16.5zM77.0 217.2h26.2v0.7h-26.2zM92.3 218.2h0.6v0.7h-0.6zM96.4 219.2h12.2v0.7h-12.2zM91.8 219.2h7.8v0.7h-7.8zM87.8 220.2h20.8v0.7h-20.8zM87.9 220.2h20.7v0.7h-20.7zM89.0 220.2h5.9v0.7h-5.9zM89.4 222.2h6.7v0.7h-6.7zM82.3 223.2h26.3v0.7h-26.3zM89.8 223.2h8.4v0.7h-8.4zM96.2 224.2h12.4v0.7h-12.4zM90.7 224.2h4.3v0.7h-4.3zM98.2 225.2h4.9v0.7h-4.9zM85.0 226.2h8.8v0.6h-8.8z"/>
<path fill="#8e8f22" fill-opacity="0.12" d="M97.4 112.2h1.8v0.7h-1.8zM105.8 114.2h2.8v0.7h-2.8zM84.7 115.2h1.1v0.7h-1.1zM89.5 120.2h0.5v0.7h-0.5zM91.4 124.2h7.4v0.7h-7.4zM85.8 129.2h7.3v0.7h-7.3zM104.1 130.2h4.5v0.7h-4.5zM96.5 131.2h2.6v0.7h-2.6zM85.3 137.2h2.6v0.7h-2.6zM97.6 141.2h1.5v0.7h-1.5zM91.0 145.2h8.4v0.7h-8.4zM85.9 146.2h4.8v0.7h-4.8zM90.7 146.2h8.5v0.7h-8.5zM106.8 147.2h1.8v0.7h-1.8zM107.0 148.2h1.6v0.7h-1.6zM93.7 152.2h14.9v0.7h-14.9zM83.2 153.2h25.4v0.7h-25.4zM92.1 162.2h4.1v0.7h-4.1zM90.9 166.2h3.8v0.7h-3.8zM98.0 168.2h2.1v0.7h-2.1zM88.3 175.2h9.6v0.7h-9.6zM77.0 176.2h31.6v0.7h-31.6zM89.4 179.2h9.3v0.7h-9.3zM77.0 180.2h6.3v0.7h-6.3zM89.1 180.2h7.8v0.7h-7.8zM89.0 181.2h9.6v0.7h-9.6zM88.4 186.2h8.0v0.7h-8.0zM90.7 188.2h7.8v0.7h-7.8zM103.1 189.2h5.5v0.7h-5.5zM86.3 190.2h5.9v0.7h-5.9zM87.3 191.2h2.2v0.7h-2.2zM97.4 192.2h11.2v0.7h-11.2zM96.3 192.2h4.3v0.7h-4.3zM91.0 192.2h9.4v0.7h-9.4zM101.3 193.2h3.2v0.7h-3.2zM89.5 200.2h1.0v0.7h-1.0zM77.0 203.2h7.9v0.7h-7.9zM90.2 203.2h8.1v0.7h-8.1zM77.0 205.2h18.3v0.7h-18.3zM92.2 205.2h3.9v0.7h-3.9zM77.0 207.2h31.6v0.7h-31.6zM99.1 208.2h5.4v0.7h-5.4zM90.4 208.2h5.6v0.7h-5.6zM93.1 209.2h3.2v0.7h-3.2zM92.2 210.2h5.6v0.7h-5.6zM90.2 211.2h4.1v0.7h-4.1zM90.0 212.2h7.7v0.7h-7.7zM88.3 215.2h9.4v0.7h-9.4zM96.7 216.2h11.9v0.7h-11.9zM95.6 225.2h3.9v0.7h-3.9z"/>
<path fill="#8e8f22" fill-opacity="0.2" d="M92.2 119.2h6.9v0.7h-6.9zM93.6 120.2h1.9v0.7h-1.9zM89.6 121.2h9.6v0.7h-9.6zM93.5 128.2h3.1v0.7h-3.1zM94.4 135.2h2.6v0.7h-2.6zM84.8 176.2h7.9v0.7h-7.9zM87.4 183.2h9.5v0.7h-9.5zM90.8 184.2h4.6v0.7h-4.6zM89.5 185.2h7.8v0.7h-7.8zM94.6 189.2h1.9v0.7h-1.9zM90.7 189.2h6.1v0.7h-6.1zM92.6 190.2h2.5v0.7h-2.5zM90.8 190.2h8.4v0.7h-8.4zM89.9 195.2h1.2v0.7h-1.2zM90.5 197.2h7.8v0.7h-7.8zM90.8 198.2h4.3v0.7h-4.3zM88.5 199.2h9.1v0.7h-9.1zM88.9 200.2h8.8v0.7h-8.8zM91.4 201.2h8.6v0.7h-8.6zM89.6 202.2h8.9v0.7h-8.9zM91.0 206.2h3.5v0.7h-3.5zM89.3 206.2h5.8v0.7h-5.8zM92.7 209.2h5.6v0.7h-5.6zM85.7 210.2h5.5v0.7h-5.5zM89.6 213.2h6.9v0.7h-6.9zM93.4 215.2h4.4v0.7h-4.4zM88.8 215.2h7.5v0.7h-7.5zM87.6 216.2h10.0v0.7h-10.0zM89.7 217.2h5.0v0.7h-5.0zM92.3 218.2h5.4v0.7h-5.4z"/>
<path fill="#8e8f22" fill-opacity="0.32" d="M94.3 115.2h2.2v0.7h-2.2zM87.7 125.2h1.0v0.7h-1.0zM78.6 126.2h18.5v0.7h-18.5zM91.3 139.2h4.8v0.7h-4.8zM92.3 144.2h8.0v0.7h-8.0zM89.3 159.2h1.3v0.7h-1.3zM94.4 166.2h2.8v0.7h-2.8zM91.6 168.2h2.4v0.7h-2.4zM89.3 171.2h2.1v0.7h-2.1zM96.8 187.2h2.5v0.7h-2.5zM91.7 187.2h5.0v0.7h-5.0zM87.9 191.2h10.5v0.7h-10.5zM89.8 193.2h6.4v0.7h-6.4zM89.5 194.2h6.6v0.7h-6.6zM89.1 195.2h9.4v0.7h-9.4zM89.4 196.2h5.9v0.7h-5.9zM92.1 204.2h3.6v0.7h-3.6zM92.1 207.2h1.0v0.7h-1.0zM92.7 207.2h3.9v0.7h-3.9zM88.2 213.2h1.7v0.7h-1.7zM91.6 214.2h5.1v0.7h-5.1zM92.1 216.2h4.0v0.7h-4.0z"/>
</g>
<rect x="77.00" y="111.20" width="31.60" height="115.60" fill="none" stroke="#9d9d9d" stroke-width="1"/>
<line x1="77.00" y1="226.80" x2="77.00" y2="228.60" stroke="#9d9d9d" stroke-width="0.7" />
<line x1="92.80" y1="226.80" x2="92.80" y2="228.60" stroke="#9d9d9d" stroke-width="0.7" />
<line x1="108.60" y1="226.80" x2="108.60" y2="228.60" stroke="#9d9d9d" stroke-width="0.7" />
<rect x="116.00" y="48.30" width="32.50" height="40.50" fill="#ffffff" />
<g filter="url(#soft)">
<path fill="#cc22e6" fill-opacity="0.08" d="M146.5 48.3h1.6v1.0h-1.6zM125.6 48.3h2.0v1.0h-2.0zM138.3 48.3h3.0v1.0h-3.0zM142.5 49.3h1.4v1.0h-1.4zM145.9 49.3h2.6v1.0h-2.6zM123.0 49.3h1.7v1.0h-1.7zM121.5 50.3h1.1v1.0h-1.1zM141.6 50.3h2.2v1.0h-2.2zM134.0 50.3h0.9v1.0h-0.9zM116.7 55.3h1.4v1.0h-1.4zM137.8 58.3h1.2v1.0h-1.2zM146.3 58.3h2.2v1.0h-2.2zM119.4 60.3h0.9v1.0h-0.9zM134.8 62.3h0.9v1.0h-0.9zM147.5 64.3h1.0v1.0h-1.0zM116.0 71.3h0.8v1.0h-0.8zM138.7 72.3h2.4v1.0h-2.4zM116.0 73.3h0.7v1.0h-0.7zM143.5 74.3h1.5v1.0h-1.5zM117.1 77.3h1.8v1.0h-1.8zM128.0 86.3h1.5v1.0h-1.5zM124.2 88.3h0.9v0.5h-0.9zM116.6 88.3h1.1v0.5h-1.1z"/>
<path fill="#cc22e6" fill-opacity="0.16" d="M122.3 48.3h2.4v1.0h-2.4zM122.7 48.3h0.9v1.0h-0.9zM119.2 48.3h1.4v1.0h-1.4zM129.8 48.3h2.9v1.0h-2.9zM138.0 48.3h2.5v1.0h-2.5zM131.2 49.3h1.5v1.0h-1.5zM123.2 49.3h1.4v1.0h-1.4zM122.5 49.3h4.2v1.0h-4.2zM140.0 50.3h1.6v1.0h-1.6zM137.8 50.3h1.2v1.0h-1.2zM130.8 50.3h0.5v1.0h-0.5zM138.5 50.3h2.2v1.0h-2.2zM138.0 50.3h0.6v1.0h-0.6zM131.4 50.3h2.7v1.0h-2.7zM142.4 51.3h2.2v1.0h-2.2zM126.8 51.3h2.5v1.0h-2.5zM122.6 52.3h1.0v1.0h-1.0zM136.7 52.3h1.5v1.0h-1.5zM145.3 53.3h0.9v1.0h-0.9zM131.5 55.3h2.3v1.0h-2.3zM137.8 55.3h1.2v1.0h-1.2zM132.2 55.3h0.6v1.0h-0.6zM130.4 57.3h3.0v1.0h-3.0zM140.9 57.3h2.1v1.0h-2.1zM116.9 60.3h0.8v1.0h-0.8zM131.3 61.3h1.2v1.0h-1.2zM127.8 63.3h1.2v1.0h-1.2zM140.2 64.3h0.9v1.0h-0.9zM135.5 66.3h0.5v1.0h-0.5zM133.7 67.3h0.5v1.0h-0.5zM127.1 68.3h3.8v1.0h-3.8zM146.0 70.3h0.6v1.0h-0.6zM125.4 71.3h2.1v1.0h-2.1zM119.4 71.3h1.0v1.0h-1.0zM130.8 72.3h2.5v1.0h-2.5zM142.8 75.3h1.3v1.0h-1.3zM131.3 76.3h2.2v1.0h-2.2zM137.6 77.3h0.6v1.0h-0.6zM143.7 77.3h4.2v1.0h-4.2zM131.6 78.3h0.5v1.0h-0.5zM143.9 78.3h0.6v1.0h-0.6zM130.3 79.3h2.5v1.0h-2.5zM146.3 79.3h1.0v1.0h-1.0zM127.3 80.3h2.4v1.0h-2.4zM131.2 81.3h2.6v1.0h-2.6zM146.3 81.3h1.7v1.0h-1.7zM116.5 82.3h1.8v1.0h-1.8zM116.0 83.3h1.6v1.0h-1.6zM132.1 84.3h0.6v1.0h-0.6zM118.3 85.3h1.7v1.0h-1.7zM143.6 86.3h3.3v1.0h-3.3zM124.2 87.3h1.2v1.0h-1.2z"/>
<path fill="#cc22e6" fill-opacity="0.26" d="M132.0 48.3h2.1v1.0h-2.1zM139.9 48.3h1.0v1.0h-1.0zM133.4 48.3h1.1v1.0h-1.1zM134.6 48.3h0.9v1.0h-0.9zM124.5 49.3h1.9v1.0h-1.9zM132.1 49.3h1.1v1.0h-1.1zM145.2 49.3h1.0v1.0h-1.0zM135.4 49.3h2.0v1.0h-2.0zM131.9 50.3h2.0v1.0h-2.0zM122.8 50.3h1.0v1.0h-1.0zM142.3 50.3h0.8v1.0h-0.8zM140.0 50.3h0.7v1.0h-0.7zM132.0 51.3h2.0v1.0h-2.0zM130.5 52.3h2.8v1.0h-2.8zM134.8 52.3h2.4v1.0h-2.4zM131.5 53.3h2.5v1.0h-2.5zM133.6 53.3h0.5v1.0h-0.5zM141.5 53.3h1.4v1.0h-1.4zM130.6 54.3h3.0v1.0h-3.0zM139.3 54.3h1.4v1.0h-1.4zM127.6 54.3h4.2v1.0h-4.2zM132.4 56.3h4.2v1.0h-4.2zM120.3 56.3h2.4v1.0h-2.4zM138.4 57.3h1.3v1.0h-1.3zM131.2 58.3h2.1v1.0h-2.1zM131.3 58.3h1.8v1.0h-1.8zM130.6 59.3h2.5v1.0h-2.5zM126.8 59.3h1.1v1.0h-1.1zM147.2 59.3h1.3v1.0h-1.3zM130.8 60.3h2.9v1.0h-2.9zM117.9 60.3h1.6v1.0h-1.6zM130.8 61.3h2.6v1.0h-2.6zM142.8 61.3h2.0v1.0h-2.0zM133.8 62.3h0.9v1.0h-0.9zM125.7 63.3h0.7v1.0h-0.7zM130.2 64.3h2.7v1.0h-2.7zM117.0 65.3h2.1v1.0h-2.1zM120.6 65.3h0.8v1.0h-0.8zM121.9 65.3h1.5v1.0h-1.5zM146.7 66.3h1.1v1.0h-1.1zM129.8 67.3h3.4v1.0h-3.4zM134.5 67.3h0.6v1.0h-0.6zM130.5 68.3h3.1v1.0h-3.1zM140.8 68.3h0.7v1.0h-0.7zM131.1 69.3h2.6v1.0h-2.6zM133.6 69.3h0.8v1.0h-0.8zM145.2 69.3h1.1v1.0h-1.1zM131.2 70.3h3.3v1.0h-3.3zM116.6 70.3h0.6v1.0h-0.6zM116.0 70.3h1.1v1.0h-1.1zM131.1 71.3h2.9v1.0h-2.9zM125.4 72.3h2.3v1.0h-2.3zM139.7 72.3h1.0v1.0h-1.0zM117.5 73.3h4.2v1.0h-4.2zM130.4 74.3h1.9v1.0h-1.9zM139.3 74.3h1.1v1.0h-1.1zM130.1 75.3h3.0v1.0h-3.0zM141.2 75.3h0.9v1.0h-0.9zM120.0 75.3h3.8v1.0h-3.8zM134.5 76.3h1.4v1.0h-1.4zM122.6 76.3h0.6v1.0h-0.6zM131.3 77.3h2.5v1.0h-2.5zM132.2 78.3h1.8v1.0h-1.8zM133.3 78.3h1.0v1.0h-1.0zM136.0 78.3h1.3v1.0h-1.3zM132.7 79.3h0.9v1.0h-0.9zM144.7 79.3h0.9v1.0h-0.9zM130.7 80.3h2.0v1.0h-2.0zM122.2 80.3h1.0v1.0h-1.0zM123.4 81.3h4.2v1.0h-4.2zM129.1 81.3h2.2v1.0h-2.2zM130.3 82.3h2.8v1.0h-2.8zM129.8 82.3h1.2v1.0h-1.2zM130.8 83.3h1.8v1.0h-1.8zM147.9 83.3h0.6v1.0h-0.6zM131.0 84.3h2.9v1.0h-2.9zM118.9 84.3h0.7v1.0h-0.7zM131.1 85.3h0.8v1.0h-0.8zM120.2 87.3h1.2v1.0h-1.2zM130.4 88.3h2.9v0.5h-2.9zM143.5 88.3h4.2v0.5h-4.2z"/>
<path fill="#cc22e6" fill-opacity="0.4" d="M130.2 49.3h2.8v1.0h-2.8zM127.6 51.3h1.3v1.0h-1.3zM131.5 53.3h4.0v1.0h-4.0zM131.2 54.3h2.7v1.0h-2.7zM129.9 56.3h3.0v1.0h-3.0zM132.3 56.3h1.9v1.0h-1.9zM129.1 61.3h1.2v1.0h-1.2zM131.5 62.3h2.3v1.0h-2.3zM131.2 63.3h3.3v1.0h-3.3zM130.9 63.3h1.1v1.0h-1.1zM130.2 65.3h2.7v1.0h-2.7zM130.5 66.3h3.3v1.0h-3.3zM131.3 73.3h3.3v1.0h-3.3zM131.3 83.3h0.9v1.0h-0.9zM131.2 85.3h2.3v1.0h-2.3zM131.7 86.3h2.1v1.0h-2.1zM131.0 87.3h1.8v1.0h-1.8z"/>
</g>
<rect x="116.00" y="48.30" width="32.50" height="40.50" fill="none" stroke="#9d9d9d" stroke-width="1"/>
<rect x="116.00" y="89.80" width="32.50" height="20.50" fill="#ffffff" />
<g filter="url(#soft)">
<path fill="#cc22e6" fill-opacity="0.08" d="M142.0 89.8h1.6v1.0h-1.6zM129.1 89.8h1.0v1.0h-1.0zM138.8 90.8h2.2v1.0h-2.2zM123.4 94.8h2.6v1.0h-2.6zM130.5 94.8h0.6v1.0h-0.6zM128.6 95.8h0.7v1.0h-0.7zM116.0 96.8h1.3v1.0h-1.3zM147.1 97.8h1.4v1.0h-1.4zM136.3 100.8h2.8v1.0h-2.8zM144.3 102.8h0.6v1.0h-0.6zM123.0 103.8h0.8v1.0h-0.8zM144.7 104.8h1.0v1.0h-1.0zM144.1 105.8h0.6v1.0h-0.6z"/>
<path fill="#cc22e6" fill-opacity="0.16" d="M143.5 89.8h0.9v1.0h-0.9zM123.0 89.8h1.2v1.0h-1.2zM132.8 89.8h1.8v1.0h-1.8zM135.7 89.8h0.8v1.0h-0.8zM127.6 90.8h2.0v1.0h-2.0zM121.9 90.8h0.7v1.0h-0.7zM128.9 90.8h0.9v1.0h-0.9zM116.0 90.8h0.7v1.0h-0.7zM147.1 91.8h1.4v1.0h-1.4zM121.5 91.8h0.9v1.0h-0.9zM144.9 95.8h0.7v1.0h-0.7zM116.0 96.8h2.0v1.0h-2.0zM124.6 97.8h3.4v1.0h-3.4zM147.3 98.8h1.0v1.0h-1.0zM118.4 99.8h0.9v1.0h-0.9zM133.7 100.8h1.0v1.0h-1.0zM133.0 100.8h1.2v1.0h-1.2zM122.6 101.8h2.1v1.0h-2.1zM128.6 102.8h1.3v1.0h-1.3zM143.7 104.8h1.2v1.0h-1.2zM145.3 105.8h0.5v1.0h-0.5zM140.2 106.8h0.6v1.0h-0.6zM128.7 106.8h3.3v1.0h-3.3zM126.8 108.8h0.5v1.0h-0.5zM129.0 108.8h0.6v1.0h-0.6z"/>
<path fill="#cc22e6" fill-opacity="0.26" d="M132.6 89.8h1.6v1.0h-1.6zM147.5 89.8h1.0v1.0h-1.0zM143.9 89.8h1.2v1.0h-1.2zM119.2 89.8h1.2v1.0h-1.2zM127.6 89.8h1.0v1.0h-1.0zM136.9 90.8h1.5v1.0h-1.5zM141.6 90.8h0.7v1.0h-0.7zM138.2 90.8h1.0v1.0h-1.0zM140.7 90.8h2.9v1.0h-2.9zM125.7 90.8h2.4v1.0h-2.4zM116.1 91.8h2.9v1.0h-2.9zM130.2 92.8h3.3v1.0h-3.3zM147.0 92.8h1.5v1.0h-1.5zM140.6 92.8h0.5v1.0h-0.5zM120.2 93.8h2.0v1.0h-2.0zM134.0 93.8h2.2v1.0h-2.2zM134.3 95.8h1.4v1.0h-1.4zM120.2 96.8h0.5v1.0h-0.5zM116.0 98.8h3.1v1.0h-3.1zM124.0 98.8h0.7v1.0h-0.7zM140.6 99.8h0.7v1.0h-0.7zM132.7 101.8h2.0v1.0h-2.0zM127.6 101.8h0.8v1.0h-0.8zM146.4 103.8h2.1v1.0h-2.1zM144.0 103.8h4.2v1.0h-4.2zM130.9 104.8h3.3v1.0h-3.3zM131.3 105.8h1.1v1.0h-1.1zM117.9 106.8h1.0v1.0h-1.0zM120.0 107.8h2.2v1.0h-2.2zM131.9 108.8h1.9v1.0h-1.9zM131.0 109.8h0.8v0.5h-0.8zM146.6 109.8h0.5v0.5h-0.5z"/>
<path fill="#cc22e6" fill-opacity="0.4" d="M130.7 89.8h2.7v1.0h-2.7zM131.0 90.8h2.7v1.0h-2.7zM134.5 90.8h4.4v1.0h-4.4zM131.5 91.8h2.4v1.0h-2.4zM130.9 91.8h2.1v1.0h-2.1zM133.4 95.8h1.5v1.0h-1.5zM131.1 96.8h2.4v1.0h-2.4zM130.9 98.8h3.3v1.0h-3.3zM131.6 100.8h2.4v1.0h-2.4zM131.3 102.8h1.8v1.0h-1.8zM130.3 103.8h2.2v1.0h-2.2zM131.4 106.8h3.3v1.0h-3.3z"/>
<path fill="#cc22e6" fill-opacity="0.6" d="M130.4 93.8h1.9v1.0h-1.9zM131.6 94.8h1.8v1.0h-1.8zM130.8 95.8h2.4v1.0h-2.4zM131.6 97.8h2.6v1.0h-2.6zM131.0 99.8h3.2v1.0h-3.2zM130.5 101.8h2.5v1.0h-2.5zM131.3 105.8h3.2v1.0h-3.2zM131.4 107.8h2.5v1.0h-2.5zM130.2 109.8h2.5v0.5h-2.5z"/>
</g>
<rect x="116.00" y="89.80" width="32.50" height="20.50" fill="none" stroke="#9d9d9d" stroke-width="1"/>
<rect x="116.00" y="111.20" width="32.50" height="115.60" fill="#ffffff" />
<g filter="url(#soft)">
<path fill="#cc22e6" fill-opacity="0.08" d="M130.9 194.2h2.5v1.0h-2.5zM131.4 196.2h1.8v1.0h-1.8zM131.0 197.2h2.3v1.0h-2.3zM131.7 201.2h1.8v1.0h-1.8zM130.6 202.2h1.7v1.0h-1.7zM131.4 203.2h1.9v1.0h-1.9zM131.3 204.2h1.8v1.0h-1.8zM130.1 205.2h2.7v1.0h-2.7zM131.2 206.2h1.7v1.0h-1.7z"/>
<path fill="#cc22e6" fill-opacity="0.16" d="M130.3 111.2h1.4v1.0h-1.4zM134.9 111.2h4.2v1.0h-4.2zM143.3 112.2h4.2v1.0h-4.2zM143.1 112.2h0.8v1.0h-0.8zM147.7 112.2h0.8v1.0h-0.8zM117.3 112.2h3.4v1.0h-3.4zM124.3 112.2h1.1v1.0h-1.1zM120.7 113.2h1.5v1.0h-1.5zM125.7 113.2h0.7v1.0h-0.7zM144.3 114.2h0.6v1.0h-0.6zM129.9 114.2h1.7v1.0h-1.7zM129.3 114.2h4.2v1.0h-4.2zM126.9 114.2h1.8v1.0h-1.8zM146.1 115.2h0.8v1.0h-0.8zM144.6 115.2h2.0v1.0h-2.0zM147.1 115.2h1.4v1.0h-1.4zM130.2 115.2h0.6v1.0h-0.6zM141.6 115.2h4.2v1.0h-4.2zM129.7 116.2h2.6v1.0h-2.6zM131.1 117.2h1.9v1.0h-1.9zM130.1 117.2h1.7v1.0h-1.7zM138.0 118.2h1.3v1.0h-1.3zM134.7 119.2h0.7v1.0h-0.7zM134.2 121.2h4.2v1.0h-4.2zM138.3 121.2h1.7v1.0h-1.7zM132.2 121.2h4.2v1.0h-4.2zM121.1 121.2h0.8v1.0h-0.8zM126.4 122.2h2.8v1.0h-2.8zM141.6 122.2h2.4v1.0h-2.4zM140.5 122.2h4.0v1.0h-4.0zM145.9 126.2h2.6v1.0h-2.6zM121.4 127.2h2.1v1.0h-2.1zM130.9 128.2h0.8v1.0h-0.8zM128.1 128.2h2.4v1.0h-2.4zM143.1 129.2h0.6v1.0h-0.6zM118.7 129.2h1.3v1.0h-1.3zM133.8 131.2h1.5v1.0h-1.5zM131.2 132.2h4.2v1.0h-4.2zM117.5 132.2h0.8v1.0h-0.8zM116.0 133.2h3.4v1.0h-3.4zM144.8 135.2h3.1v1.0h-3.1zM147.5 135.2h1.0v1.0h-1.0zM117.5 135.2h1.0v1.0h-1.0zM133.1 138.2h1.5v1.0h-1.5zM119.0 144.2h1.7v1.0h-1.7zM136.7 145.2h1.0v1.0h-1.0zM135.7 146.2h2.9v1.0h-2.9zM138.7 146.2h3.3v1.0h-3.3zM117.5 148.2h1.5v1.0h-1.5zM120.7 148.2h1.0v1.0h-1.0zM119.4 151.2h0.6v1.0h-0.6zM130.1 152.2h1.1v1.0h-1.1zM133.1 152.2h0.7v1.0h-0.7zM130.6 153.2h1.0v1.0h-1.0zM129.9 159.2h1.2v1.0h-1.2zM143.0 162.2h1.0v1.0h-1.0zM130.1 170.2h0.7v1.0h-0.7zM132.3 174.2h2.5v1.0h-2.5zM130.3 177.2h3.1v1.0h-3.1zM129.8 178.2h3.3v1.0h-3.3zM131.7 180.2h1.9v1.0h-1.9zM145.5 180.2h2.3v1.0h-2.3zM130.4 183.2h1.5v1.0h-1.5zM130.2 186.2h2.7v1.0h-2.7zM124.3 186.2h0.6v1.0h-0.6zM132.1 189.2h1.9v1.0h-1.9zM130.5 190.2h1.8v1.0h-1.8zM130.8 191.2h2.7v1.0h-2.7zM131.0 192.2h2.4v1.0h-2.4zM131.6 193.2h2.3v1.0h-2.3zM130.6 195.2h2.0v1.0h-2.0zM131.4 198.2h2.3v1.0h-2.3zM131.5 199.2h2.1v1.0h-2.1zM130.3 200.2h2.7v1.0h-2.7z"/>
<path fill="#cc22e6" fill-opacity="0.26" d="M131.6 111.2h1.6v1.0h-1.6zM128.6 111.2h2.8v1.0h-2.8zM141.3 111.2h2.5v1.0h-2.5zM136.1 112.2h2.8v1.0h-2.8zM130.2 112.2h1.4v1.0h-1.4zM141.5 112.2h1.0v1.0h-1.0zM122.9 113.2h1.3v1.0h-1.3zM138.7 113.2h1.0v1.0h-1.0zM130.3 113.2h0.7v1.0h-0.7zM136.5 113.2h4.2v1.0h-4.2zM136.3 113.2h0.9v1.0h-0.9zM137.7 113.2h1.3v1.0h-1.3zM129.9 114.2h3.5v1.0h-3.5zM146.7 114.2h1.8v1.0h-1.8zM144.1 114.2h0.9v1.0h-0.9zM138.4 114.2h1.1v1.0h-1.1zM143.4 114.2h1.6v1.0h-1.6zM117.4 114.2h1.6v1.0h-1.6zM119.6 115.2h0.6v1.0h-0.6zM139.1 115.2h1.9v1.0h-1.9zM140.2 115.2h1.6v1.0h-1.6zM129.5 115.2h0.9v1.0h-0.9zM140.9 115.2h0.8v1.0h-0.8zM131.0 115.2h0.5v1.0h-0.5zM120.6 115.2h0.6v1.0h-0.6zM124.6 115.2h7.0v1.0h-7.0zM117.9 116.2h1.7v1.0h-1.7zM126.6 116.2h1.1v1.0h-1.1zM132.6 117.2h2.8v1.0h-2.8zM123.3 117.2h1.1v1.0h-1.1zM116.0 117.2h1.4v1.0h-1.4zM123.1 118.2h1.8v1.0h-1.8zM139.9 118.2h2.5v1.0h-2.5zM133.1 119.2h1.1v1.0h-1.1zM131.6 120.2h1.1v1.0h-1.1zM134.6 121.2h1.7v1.0h-1.7zM130.0 121.2h4.7v1.0h-4.7zM138.5 122.2h1.4v1.0h-1.4zM125.8 123.2h1.0v1.0h-1.0zM139.4 123.2h1.4v1.0h-1.4zM129.3 123.2h2.5v1.0h-2.5zM116.8 125.2h0.9v1.0h-0.9zM129.3 126.2h1.3v1.0h-1.3zM125.5 127.2h1.4v1.0h-1.4zM134.5 127.2h1.4v1.0h-1.4zM142.5 128.2h0.6v1.0h-0.6zM130.2 128.2h0.7v1.0h-0.7zM130.1 129.2h2.0v1.0h-2.0zM117.7 130.2h0.8v1.0h-0.8zM132.8 130.2h5.6v1.0h-5.6zM143.1 133.2h3.3v1.0h-3.3zM132.6 134.2h1.8v1.0h-1.8zM144.1 136.2h0.8v1.0h-0.8zM142.3 136.2h1.8v1.0h-1.8zM138.0 137.2h0.9v1.0h-0.9zM146.5 137.2h2.0v1.0h-2.0zM143.8 138.2h0.9v1.0h-0.9zM129.4 139.2h1.4v1.0h-1.4zM120.1 139.2h1.3v1.0h-1.3zM132.2 140.2h1.1v1.0h-1.1zM131.1 141.2h2.4v1.0h-2.4zM127.6 142.2h0.9v1.0h-0.9zM119.3 142.2h1.7v1.0h-1.7zM121.6 144.2h2.4v1.0h-2.4zM124.2 145.2h0.5v1.0h-0.5zM116.0 148.2h2.5v1.0h-2.5zM128.6 149.2h0.7v1.0h-0.7zM140.3 149.2h1.7v1.0h-1.7zM130.5 150.2h3.1v1.0h-3.1zM130.7 150.2h1.5v1.0h-1.5zM129.7 153.2h0.7v1.0h-0.7zM127.4 153.2h4.1v1.0h-4.1zM139.3 154.2h0.5v1.0h-0.5zM124.2 155.2h0.8v1.0h-0.8zM148.0 155.2h0.5v1.0h-0.5zM131.2 156.2h2.7v1.0h-2.7zM130.6 156.2h1.7v1.0h-1.7zM131.8 157.2h2.3v1.0h-2.3zM131.4 159.2h3.4v1.0h-3.4zM118.4 159.2h0.5v1.0h-0.5zM146.5 160.2h0.8v1.0h-0.8zM130.1 162.2h3.0v1.0h-3.0zM126.6 162.2h2.2v1.0h-2.2zM135.7 163.2h1.5v1.0h-1.5zM131.3 164.2h3.5v1.0h-3.5zM131.1 166.2h1.9v1.0h-1.9zM130.3 167.2h3.3v1.0h-3.3zM131.5 169.2h2.1v1.0h-2.1zM131.7 171.2h2.1v1.0h-2.1zM130.0 172.2h3.1v1.0h-3.1zM129.6 172.2h0.8v1.0h-0.8zM131.4 173.2h3.3v1.0h-3.3zM130.4 174.2h2.3v1.0h-2.3zM131.1 175.2h2.6v1.0h-2.6zM116.0 175.2h0.5v1.0h-0.5zM139.1 177.2h0.6v1.0h-0.6zM139.7 178.2h1.0v1.0h-1.0zM131.4 179.2h2.2v1.0h-2.2zM127.1 179.2h1.8v1.0h-1.8zM130.8 181.2h2.3v1.0h-2.3zM131.3 182.2h2.1v1.0h-2.1zM130.6 183.2h2.2v1.0h-2.2zM130.3 184.2h2.3v1.0h-2.3zM131.0 185.2h2.9v1.0h-2.9zM130.4 187.2h2.8v1.0h-2.8zM130.8 188.2h2.2v1.0h-2.2zM122.5 199.2h2.9v1.0h-2.9z"/>
<path fill="#cc22e6" fill-opacity="0.4" d="M140.5 111.2h2.1v1.0h-2.1zM139.5 111.2h2.7v1.0h-2.7zM127.8 111.2h1.5v1.0h-1.5zM135.5 111.2h3.7v1.0h-3.7zM127.8 111.2h1.9v1.0h-1.9zM122.1 111.2h1.3v1.0h-1.3zM130.5 111.2h1.7v1.0h-1.7zM139.1 111.2h0.8v1.0h-0.8zM129.7 111.2h1.1v1.0h-1.1zM131.6 112.2h3.0v1.0h-3.0zM147.8 112.2h0.6v1.0h-0.6zM119.0 112.2h1.4v1.0h-1.4zM120.9 112.2h1.0v1.0h-1.0zM145.7 112.2h2.5v1.0h-2.5zM131.5 112.2h1.4v1.0h-1.4zM147.8 112.2h0.7v1.0h-0.7zM119.1 112.2h0.5v1.0h-0.5zM127.2 112.2h0.6v1.0h-0.6zM133.0 112.2h2.3v1.0h-2.3zM146.5 113.2h2.0v1.0h-2.0zM138.0 113.2h2.1v1.0h-2.1zM123.8 113.2h0.9v1.0h-0.9zM143.5 113.2h0.6v1.0h-0.6zM131.6 113.2h0.6v1.0h-0.6zM134.6 113.2h2.6v1.0h-2.6zM129.9 114.2h3.3v1.0h-3.3zM135.3 114.2h1.1v1.0h-1.1zM116.0 114.2h1.0v1.0h-1.0zM133.5 114.2h0.8v1.0h-0.8zM140.3 114.2h0.9v1.0h-0.9zM120.0 114.2h0.8v1.0h-0.8zM133.9 114.2h1.9v1.0h-1.9zM122.6 114.2h1.8v1.0h-1.8zM131.2 114.2h0.5v1.0h-0.5zM130.7 115.2h3.2v1.0h-3.2zM141.3 115.2h3.5v1.0h-3.5zM125.1 115.2h0.6v1.0h-0.6zM143.9 115.2h1.5v1.0h-1.5zM125.1 115.2h4.2v1.0h-4.2zM117.6 115.2h0.6v1.0h-0.6zM133.7 115.2h2.8v1.0h-2.8zM138.5 115.2h0.9v1.0h-0.9zM118.2 115.2h0.8v1.0h-0.8zM141.9 116.2h3.0v1.0h-3.0zM145.9 116.2h2.0v1.0h-2.0zM131.3 116.2h1.6v1.0h-1.6zM138.8 117.2h1.8v1.0h-1.8zM117.0 118.2h1.9v1.0h-1.9zM146.5 118.2h1.5v1.0h-1.5zM140.2 118.2h2.2v1.0h-2.2zM116.0 118.2h3.1v1.0h-3.1zM124.7 119.2h0.9v1.0h-0.9zM129.7 119.2h2.7v1.0h-2.7zM145.3 119.2h3.2v1.0h-3.2zM134.1 120.2h0.7v1.0h-0.7zM141.8 120.2h0.5v1.0h-0.5zM147.4 120.2h0.7v1.0h-0.7zM133.5 120.2h1.1v1.0h-1.1zM123.0 122.2h1.2v1.0h-1.2zM131.7 122.2h3.2v1.0h-3.2zM141.4 123.2h1.8v1.0h-1.8zM128.6 123.2h0.5v1.0h-0.5zM117.5 124.2h0.6v1.0h-0.6zM135.7 124.2h2.0v1.0h-2.0zM130.1 124.2h1.5v1.0h-1.5zM120.4 125.2h0.9v1.0h-0.9zM128.7 125.2h1.5v1.0h-1.5zM135.4 125.2h1.8v1.0h-1.8zM127.0 126.2h2.4v1.0h-2.4zM129.7 126.2h0.6v1.0h-0.6zM132.6 126.2h1.3v1.0h-1.3zM119.4 127.2h1.5v1.0h-1.5zM130.6 129.2h2.6v1.0h-2.6zM129.3 129.2h0.9v1.0h-0.9zM132.9 129.2h2.6v1.0h-2.6zM116.0 130.2h1.4v1.0h-1.4zM130.8 131.2h3.4v1.0h-3.4zM125.7 131.2h2.6v1.0h-2.6zM116.3 131.2h3.1v1.0h-3.1zM130.3 132.2h3.7v1.0h-3.7zM147.7 132.2h0.8v1.0h-0.8zM137.1 132.2h3.9v1.0h-3.9zM130.1 133.2h3.0v1.0h-3.0zM126.5 133.2h1.9v1.0h-1.9zM122.7 133.2h0.6v1.0h-0.6zM130.6 134.2h3.8v1.0h-3.8zM145.0 134.2h1.6v1.0h-1.6zM118.6 134.2h1.1v1.0h-1.1zM142.1 134.2h1.2v1.0h-1.2zM139.5 134.2h1.8v1.0h-1.8zM130.4 135.2h2.7v1.0h-2.7zM141.4 135.2h1.0v1.0h-1.0zM127.8 135.2h2.0v1.0h-2.0zM130.7 136.2h3.8v1.0h-3.8zM138.1 136.2h0.7v1.0h-0.7zM143.8 136.2h3.6v1.0h-3.6zM117.2 138.2h1.5v1.0h-1.5zM142.3 138.2h1.2v1.0h-1.2zM124.0 139.2h0.7v1.0h-0.7zM125.9 140.2h1.3v1.0h-1.3zM118.4 140.2h0.5v1.0h-0.5zM122.1 140.2h0.6v1.0h-0.6zM145.0 141.2h1.2v1.0h-1.2zM144.6 141.2h0.5v1.0h-0.5zM129.1 141.2h0.8v1.0h-0.8zM126.6 141.2h4.3v1.0h-4.3zM124.1 142.2h0.7v1.0h-0.7zM130.9 142.2h1.1v1.0h-1.1zM130.6 143.2h3.3v1.0h-3.3zM143.0 143.2h0.8v1.0h-0.8zM128.4 143.2h1.3v1.0h-1.3zM133.1 144.2h0.6v1.0h-0.6zM127.3 144.2h1.9v1.0h-1.9zM130.6 145.2h2.9v1.0h-2.9zM133.0 145.2h1.8v1.0h-1.8zM131.6 146.2h2.3v1.0h-2.3zM125.2 146.2h0.5v1.0h-0.5zM131.0 147.2h2.9v1.0h-2.9zM125.0 147.2h1.8v1.0h-1.8zM141.1 147.2h1.6v1.0h-1.6zM130.3 148.2h3.0v1.0h-3.0zM131.7 149.2h2.6v1.0h-2.6zM130.6 150.2h3.4v1.0h-3.4zM131.6 151.2h2.7v1.0h-2.7zM135.2 151.2h0.6v1.0h-0.6zM131.4 152.2h2.5v1.0h-2.5zM131.1 154.2h2.7v1.0h-2.7zM132.4 154.2h3.0v1.0h-3.0zM130.9 155.2h3.2v1.0h-3.2zM124.1 156.2h2.2v1.0h-2.2zM141.7 156.2h0.7v1.0h-0.7zM134.0 157.2h0.8v1.0h-0.8zM116.0 157.2h3.5v1.0h-3.5zM129.7 158.2h3.6v1.0h-3.6zM118.7 158.2h2.1v1.0h-2.1zM132.7 159.2h4.2v1.0h-4.2zM130.2 160.2h2.8v1.0h-2.8zM145.3 160.2h0.8v1.0h-0.8zM131.3 161.2h3.5v1.0h-3.5zM117.0 161.2h1.8v1.0h-1.8zM130.5 163.2h2.7v1.0h-2.7zM146.4 164.2h2.1v1.0h-2.1zM130.5 165.2h2.5v1.0h-2.5zM133.3 165.2h1.4v1.0h-1.4zM129.9 165.2h2.4v1.0h-2.4zM141.9 166.2h3.1v1.0h-3.1zM124.4 167.2h0.7v1.0h-0.7zM131.0 168.2h2.8v1.0h-2.8zM123.5 168.2h0.6v1.0h-0.6zM148.0 169.2h0.5v1.0h-0.5zM131.1 170.2h2.5v1.0h-2.5zM118.6 171.2h3.0v1.0h-3.0zM126.0 175.2h1.1v1.0h-1.1zM131.7 176.2h1.9v1.0h-1.9zM138.8 183.2h1.0v1.0h-1.0zM135.4 184.2h2.9v1.0h-2.9zM133.8 185.2h0.8v1.0h-0.8zM124.3 192.2h0.5v1.0h-0.5zM138.6 193.2h2.4v1.0h-2.4zM135.3 197.2h0.8v1.0h-0.8z"/>
<path fill="#cc22e6" fill-opacity="0.6" d="M130.5 111.2h0.6v1.0h-0.6zM126.5 111.2h0.7v1.0h-0.7zM128.2 111.2h1.3v1.0h-1.3zM128.0 111.2h2.9v1.0h-2.9zM138.4 111.2h1.0v1.0h-1.0zM136.4 111.2h0.6v1.0h-0.6zM140.8 111.2h4.2v1.0h-4.2zM143.4 111.2h1.7v1.0h-1.7zM123.2 111.2h1.4v1.0h-1.4zM129.3 112.2h4.4v1.0h-4.4zM135.4 112.2h1.9v1.0h-1.9zM137.4 112.2h1.4v1.0h-1.4zM124.9 112.2h0.7v1.0h-0.7zM124.8 112.2h2.1v1.0h-2.1zM137.1 112.2h2.0v1.0h-2.0zM129.4 113.2h4.4v1.0h-4.4zM147.2 113.2h0.9v1.0h-0.9zM117.2 113.2h4.2v1.0h-4.2zM146.7 113.2h0.6v1.0h-0.6zM139.0 113.2h1.5v1.0h-1.5zM126.0 113.2h1.5v1.0h-1.5zM125.3 113.2h0.8v1.0h-0.8zM120.5 113.2h3.4v1.0h-3.4zM135.0 113.2h3.9v1.0h-3.9zM129.5 114.2h1.8v1.0h-1.8zM124.7 114.2h0.6v1.0h-0.6zM118.5 114.2h1.0v1.0h-1.0zM125.4 114.2h0.9v1.0h-0.9zM142.8 115.2h0.5v1.0h-0.5zM131.5 116.2h2.7v1.0h-2.7zM122.9 116.2h2.3v1.0h-2.3zM128.5 116.2h2.2v1.0h-2.2zM138.2 117.2h0.5v1.0h-0.5zM135.0 117.2h0.8v1.0h-0.8zM130.9 118.2h2.7v1.0h-2.7zM130.4 119.2h3.3v1.0h-3.3zM133.5 119.2h3.4v1.0h-3.4zM135.7 119.2h2.1v1.0h-2.1zM133.1 120.2h2.1v1.0h-2.1zM133.9 120.2h1.3v1.0h-1.3zM120.8 121.2h1.1v1.0h-1.1zM118.3 122.2h2.2v1.0h-2.2zM130.3 123.2h3.7v1.0h-3.7zM135.8 123.2h2.4v1.0h-2.4zM117.1 123.2h0.8v1.0h-0.8zM130.9 124.2h3.2v1.0h-3.2zM141.1 124.2h0.6v1.0h-0.6zM119.7 124.2h2.3v1.0h-2.3zM124.0 124.2h1.5v1.0h-1.5zM130.5 125.2h3.8v1.0h-3.8zM126.6 125.2h1.5v1.0h-1.5zM137.0 125.2h1.3v1.0h-1.3zM139.5 126.2h1.3v1.0h-1.3zM130.0 127.2h4.0v1.0h-4.0zM124.9 127.2h3.4v1.0h-3.4zM123.4 128.2h1.9v1.0h-1.9zM146.0 128.2h2.4v1.0h-2.4zM146.4 129.2h0.6v1.0h-0.6zM120.2 130.2h1.5v1.0h-1.5zM125.3 130.2h1.1v1.0h-1.1zM144.3 130.2h0.8v1.0h-0.8zM119.5 131.2h1.7v1.0h-1.7zM131.2 137.2h2.9v1.0h-2.9zM131.5 137.2h2.2v1.0h-2.2zM130.9 138.2h3.9v1.0h-3.9zM130.3 139.2h3.5v1.0h-3.5zM130.2 139.2h1.3v1.0h-1.3zM130.9 142.2h2.5v1.0h-2.5zM118.6 143.2h3.0v1.0h-3.0zM122.8 143.2h1.0v1.0h-1.0zM130.3 144.2h2.5v1.0h-2.5zM134.6 147.2h1.9v1.0h-1.9zM131.8 153.2h2.5v1.0h-2.5z"/>
<path fill="#cc22e6" fill-opacity="0.8" d="M130.1 111.2h3.6v1.0h-3.6zM130.8 117.2h4.1v1.0h-4.1zM131.6 120.2h2.8v1.0h-2.8zM130.6 121.2h2.3v1.0h-2.3zM130.4 122.2h4.1v1.0h-4.1zM130.7 126.2h2.6v1.0h-2.6zM130.7 128.2h4.0v1.0h-4.0zM130.5 130.2h3.1v1.0h-3.1zM131.0 140.2h3.3v1.0h-3.3z"/>
</g>
<rect x="116.00" y="111.20" width="32.50" height="115.60" fill="none" stroke="#9d9d9d" stroke-width="1"/>
<line x1="116.00" y1="226.80" x2="116.00" y2="228.60" stroke="#9d9d9d" stroke-width="0.7" />
<line x1="132.25" y1="226.80" x2="132.25" y2="228.60" stroke="#9d9d9d" stroke-width="0.7" />
<line x1="148.50" y1="226.80" x2="148.50" y2="228.60" stroke="#9d9d9d" stroke-width="0.7" />
<rect x="153.00" y="48.30" width="31.70" height="40.50" fill="#fbfbf2" />
<g filter="url(#soft)">
<path fill="#8e8f22" fill-opacity="0.06" d="M184.1 49.3h0.6v0.7h-0.6zM177.7 49.3h7.0v0.7h-7.0zM169.2 52.3h3.4v0.7h-3.4zM153.0 56.3h18.9v0.7h-18.9zM164.3 56.3h7.7v0.7h-7.7zM182.8 57.3h1.9v0.7h-1.9zM167.8 58.3h7.2v0.7h-7.2zM163.5 59.3h21.2v0.7h-21.2zM153.9 60.3h15.0v0.7h-15.0zM155.6 60.3h8.5v0.7h-8.5zM175.0 61.3h2.5v0.7h-2.5zM164.7 64.3h1.3v0.7h-1.3zM158.3 64.3h9.1v0.7h-9.1zM154.8 65.3h2.2v0.7h-2.2zM159.8 66.3h23.0v0.7h-23.0zM153.0 67.3h31.7v0.7h-31.7zM176.2 68.3h6.5v0.7h-6.5zM176.8 76.3h2.3v0.7h-2.3zM160.0 77.3h2.6v0.7h-2.6zM157.0 79.3h18.2v0.7h-18.2zM153.0 79.3h11.4v0.7h-11.4zM182.2 81.3h2.5v0.7h-2.5zM166.9 86.3h17.8v0.7h-17.8z"/>
<path fill="#8e8f22" fill-opacity="0.12" d="M168.7 49.3h5.7v0.7h-5.7zM168.6 50.3h12.1v0.7h-12.1zM183.7 50.3h1.0v0.7h-1.0zM165.5 50.3h7.0v0.7h-7.0zM166.8 51.3h17.9v0.7h-17.9zM153.0 52.3h21.1v0.7h-21.1zM153.0 52.3h20.4v0.7h-20.4zM155.3 53.3h5.3v0.7h-5.3zM169.8 53.3h13.6v0.7h-13.6zM163.3 53.3h7.6v0.7h-7.6zM165.5 53.3h6.8v0.7h-6.8zM153.0 54.3h16.0v0.7h-16.0zM175.8 54.3h8.9v0.7h-8.9zM166.1 54.3h9.1v0.7h-9.1zM156.6 55.3h17.0v0.7h-17.0zM167.2 55.3h6.9v0.7h-6.9zM182.1 56.3h2.6v0.7h-2.6zM166.5 57.3h8.5v0.7h-8.5zM158.9 58.3h19.2v0.7h-19.2zM156.2 58.3h20.2v0.7h-20.2zM153.1 59.3h9.0v0.7h-9.0zM164.7 59.3h9.7v0.7h-9.7zM167.0 60.3h9.6v0.7h-9.6zM153.0 61.3h6.2v0.7h-6.2zM159.8 62.3h24.9v0.7h-24.9zM153.0 62.3h8.5v0.7h-8.5zM166.7 63.3h10.6v0.7h-10.6zM171.4 63.3h13.3v0.7h-13.3zM178.3 65.3h6.0v0.7h-6.0zM183.3 65.3h1.4v0.7h-1.4zM166.4 66.3h4.2v0.7h-4.2zM176.1 68.3h8.6v0.7h-8.6zM175.6 69.3h9.1v0.7h-9.1zM168.9 69.3h5.7v0.7h-5.7zM171.2 70.3h1.8v0.7h-1.8zM153.0 70.3h31.7v0.7h-31.7zM162.2 72.3h7.1v0.7h-7.1zM173.7 73.3h11.0v0.7h-11.0zM153.0 73.3h31.7v0.7h-31.7zM153.0 74.3h31.7v0.7h-31.7zM174.9 74.3h5.8v0.7h-5.8zM178.4 75.3h6.3v0.7h-6.3zM179.4 76.3h2.1v0.7h-2.1zM165.0 76.3h2.7v0.7h-2.7zM183.4 78.3h1.3v0.7h-1.3zM174.0 80.3h10.7v0.7h-10.7zM153.0 82.3h31.7v0.7h-31.7zM157.4 83.3h3.2v0.7h-3.2zM182.8 84.3h1.9v0.7h-1.9zM162.8 84.3h20.8v0.7h-20.8zM178.0 85.3h6.7v0.7h-6.7zM167.7 85.3h5.8v0.7h-5.8zM181.8 85.3h2.9v0.7h-2.9zM175.6 86.3h9.1v0.7h-9.1zM181.3 86.3h3.4v0.7h-3.4zM156.8 87.3h3.7v0.7h-3.7zM153.0 88.3h2.2v0.5h-2.2z"/>
<path fill="#8e8f22" fill-opacity="0.2" d="M182.6 48.3h2.1v0.7h-2.1zM172.0 48.3h11.3v0.7h-11.3zM166.4 48.3h9.9v0.7h-9.9zM178.3 51.3h6.4v0.7h-6.4zM167.1 51.3h1.8v0.7h-1.8zM166.5 51.3h9.2v0.7h-9.2zM168.1 52.3h7.4v0.7h-7.4zM181.2 54.3h2.8v0.7h-2.8zM162.3 55.3h22.4v0.7h-22.4zM163.2 55.3h5.3v0.7h-5.3zM180.2 57.3h4.5v0.7h-4.5zM169.4 57.3h2.5v0.7h-2.5zM153.0 58.3h11.1v0.7h-11.1zM170.0 61.3h1.4v0.7h-1.4zM168.0 61.3h7.1v0.7h-7.1zM153.0 62.3h31.7v0.7h-31.7zM163.2 62.3h9.5v0.7h-9.5zM170.6 63.3h0.8v0.7h-0.8zM165.8 63.3h4.6v0.7h-4.6zM167.1 64.3h8.1v0.7h-8.1zM153.0 66.3h31.7v0.7h-31.7zM153.0 67.3h6.7v0.7h-6.7zM166.7 67.3h2.7v0.7h-2.7zM165.8 68.3h7.7v0.7h-7.7zM159.3 69.3h9.2v0.7h-9.2zM164.9 70.3h8.0v0.7h-8.0zM153.0 71.3h18.1v0.7h-18.1zM177.6 71.3h1.6v0.7h-1.6zM160.0 72.3h7.1v0.7h-7.1zM167.5 72.3h7.0v0.7h-7.0zM177.5 73.3h2.5v0.7h-2.5zM166.6 73.3h6.1v0.7h-6.1zM169.2 75.3h3.7v0.7h-3.7zM158.5 77.3h26.2v0.7h-26.2zM183.7 78.3h1.0v0.7h-1.0zM166.3 78.3h9.7v0.7h-9.7zM178.9 79.3h5.8v0.7h-5.8zM153.0 80.3h25.7v0.7h-25.7zM167.1 80.3h4.3v0.7h-4.3zM180.7 81.3h4.0v0.7h-4.0zM164.1 81.3h2.0v0.7h-2.0zM163.8 81.3h10.1v0.7h-10.1zM170.6 82.3h14.1v0.7h-14.1zM174.9 83.3h9.8v0.7h-9.8zM155.0 83.3h5.1v0.7h-5.1zM166.0 83.3h2.4v0.7h-2.4zM165.0 84.3h10.5v0.7h-10.5zM167.0 85.3h6.7v0.7h-6.7zM164.7 87.3h2.0v0.7h-2.0zM174.1 87.3h1.3v0.7h-1.3zM172.3 88.3h2.8v0.5h-2.8zM163.9 88.3h0.6v0.5h-0.6zM167.3 88.3h6.6v0.5h-6.6z"/>
<path fill="#8e8f22" fill-opacity="0.32" d="M164.5 65.3h8.7v0.7h-8.7zM164.3 66.3h9.8v0.7h-9.8zM166.0 67.3h4.6v0.7h-4.6zM165.1 68.3h1.4v0.7h-1.4zM160.6 71.3h9.2v0.7h-9.2zM165.9 71.3h9.3v0.7h-9.3zM166.3 76.3h7.3v0.7h-7.3zM165.8 82.3h6.6v0.7h-6.6zM167.7 83.3h6.5v0.7h-6.5zM165.2 84.3h1.4v0.7h-1.4zM165.2 86.3h5.7v0.7h-5.7zM166.6 87.3h6.4v0.7h-6.4z"/>
<path fill="#8e8f22" fill-opacity="0.45" d="M166.2 73.3h6.0v0.7h-6.0zM166.2 74.3h8.4v0.7h-8.4zM166.1 75.3h6.3v0.7h-6.3zM165.3 77.3h7.1v0.7h-7.1zM164.9 79.3h5.9v0.7h-5.9z"/>
</g>
<rect x="153.00" y="48.30" width="31.70" height="40.50" fill="none" stroke="#9d9d9d" stroke-width="1"/>
<rect x="153.00" y="89.80" width="31.70" height="20.50" fill="#fbfbf2" />
<g filter="url(#soft)">
<path fill="#8e8f22" fill-opacity="0.06" d="M167.1 89.8h8.8v0.7h-8.8zM158.5 90.8h12.3v0.7h-12.3zM165.9 90.8h10.1v0.7h-10.1zM166.3 92.8h5.9v0.7h-5.9zM166.1 94.8h5.7v0.7h-5.7zM183.2 96.8h1.5v0.7h-1.5zM173.9 96.8h10.8v0.7h-10.8zM167.9 96.8h7.3v0.7h-7.3zM153.0 97.8h20.9v0.7h-20.9zM164.5 99.8h10.0v0.7h-10.0zM165.3 99.8h10.0v0.7h-10.0zM180.7 100.8h4.0v0.7h-4.0zM168.8 100.8h4.9v0.7h-4.9zM176.4 102.8h8.3v0.7h-8.3zM155.4 103.8h23.4v0.7h-23.4zM161.6 103.8h7.4v0.7h-7.4zM170.6 104.8h14.1v0.7h-14.1zM183.5 104.8h1.2v0.7h-1.2zM167.1 107.8h17.6v0.7h-17.6zM155.7 108.8h1.9v0.7h-1.9z"/>
<path fill="#8e8f22" fill-opacity="0.12" d="M175.0 89.8h9.7v0.7h-9.7zM155.8 91.8h2.3v0.7h-2.3zM166.0 91.8h5.9v0.7h-5.9zM181.7 92.8h3.0v0.7h-3.0zM166.9 92.8h1.4v0.7h-1.4zM162.8 93.8h21.9v0.7h-21.9zM153.0 93.8h7.6v0.7h-7.6zM165.1 93.8h6.2v0.7h-6.2zM182.0 94.8h2.7v0.7h-2.7zM163.1 95.8h9.9v0.7h-9.9zM168.0 97.8h7.0v0.7h-7.0zM168.4 98.8h16.3v0.7h-16.3zM167.0 98.8h7.9v0.7h-7.9zM168.0 101.8h14.2v0.7h-14.2zM163.5 101.8h10.0v0.7h-10.0zM164.4 105.8h14.0v0.7h-14.0zM178.2 106.8h3.0v0.7h-3.0zM174.0 106.8h10.7v0.7h-10.7zM153.0 107.8h25.0v0.7h-25.0zM183.8 109.8h0.9v0.5h-0.9zM153.6 109.8h19.7v0.5h-19.7zM165.4 109.8h10.5v0.5h-10.5z"/>
<path fill="#8e8f22" fill-opacity="0.2" d="M165.2 97.8h4.9v0.7h-4.9zM166.8 102.8h9.9v0.7h-9.9zM166.9 103.8h9.3v0.7h-9.3zM168.2 104.8h4.6v0.7h-4.6zM165.8 104.8h9.6v0.7h-9.6z"/>
<path fill="#8e8f22" fill-opacity="0.32" d="M160.6 92.8h4.2v0.7h-4.2zM172.3 98.8h1.4v0.7h-1.4zM165.6 106.8h9.6v0.7h-9.6zM166.1 107.8h4.2v0.7h-4.2zM169.6 108.8h3.9v0.7h-3.9z"/>
<path fill="#8e8f22" fill-opacity="0.45" d="M165.1 105.8h7.1v0.7h-7.1z"/>
</g>
<rect x="153.00" y="89.80" width="31.70" height="20.50" fill="none" stroke="#9d9d9d" stroke-width="1"/>
<rect x="153.00" y="111.20" width="31.70" height="115.60" fill="#fbfbf2" />
<g filter="url(#soft)">
<path fill="#8e8f22" fill-opacity="0.06" d="M168.9 111.2h5.5v0.7h-5.5zM160.7 112.2h2.3v0.7h-2.3zM163.4 113.2h10.2v0.7h-10.2zM167.5 114.2h3.7v0.7h-3.7zM165.9 115.2h9.7v0.7h-9.7zM159.5 115.2h23.7v0.7h-23.7zM154.0 116.2h8.6v0.7h-8.6zM159.3 117.2h11.3v0.7h-11.3zM165.4 117.2h5.7v0.7h-5.7zM165.1 118.2h6.4v0.7h-6.4zM165.8 118.2h8.1v0.7h-8.1zM166.0 119.2h14.2v0.7h-14.2zM164.6 120.2h7.6v0.7h-7.6zM173.8 121.2h1.6v0.7h-1.6zM163.8 122.2h0.7v0.7h-0.7zM161.3 122.2h8.3v0.7h-8.3zM165.1 122.2h9.6v0.7h-9.6zM165.4 123.2h1.5v0.7h-1.5zM171.4 126.2h13.3v0.7h-13.3zM166.2 126.2h9.3v0.7h-9.3zM168.1 127.2h0.7v0.7h-0.7zM168.8 127.2h5.8v0.7h-5.8zM166.2 128.2h5.6v0.7h-5.6zM160.9 129.2h9.1v0.7h-9.1zM169.7 129.2h3.6v0.7h-3.6zM170.8 130.2h4.9v0.7h-4.9zM172.3 130.2h9.4v0.7h-9.4zM169.1 131.2h5.4v0.7h-5.4zM169.0 132.2h3.1v0.7h-3.1zM166.6 132.2h6.6v0.7h-6.6zM157.8 133.2h10.0v0.7h-10.0zM167.7 133.2h5.3v0.7h-5.3zM153.0 134.2h17.1v0.7h-17.1zM167.9 134.2h4.2v0.7h-4.2zM179.9 135.2h4.8v0.7h-4.8zM168.4 136.2h5.6v0.7h-5.6zM175.7 137.2h9.0v0.7h-9.0zM168.9 137.2h5.2v0.7h-5.2zM153.0 138.2h8.5v0.7h-8.5zM166.1 138.2h8.7v0.7h-8.7zM166.9 139.2h6.6v0.7h-6.6zM169.3 140.2h3.4v0.7h-3.4zM181.9 140.2h2.8v0.7h-2.8zM168.1 140.2h6.5v0.7h-6.5zM177.3 141.2h7.4v0.7h-7.4zM166.5 141.2h3.9v0.7h-3.9zM163.8 142.2h8.1v0.7h-8.1zM179.2 143.2h5.5v0.7h-5.5zM165.6 143.2h10.0v0.7h-10.0zM153.0 144.2h9.2v0.7h-9.2zM153.0 144.2h31.7v0.7h-31.7zM165.5 144.2h6.5v0.7h-6.5zM153.0 145.2h31.7v0.7h-31.7zM163.7 145.2h8.7v0.7h-8.7zM168.7 146.2h4.4v0.7h-4.4zM165.7 147.2h9.9v0.7h-9.9zM153.0 148.2h4.1v0.7h-4.1zM158.0 149.2h15.9v0.7h-15.9zM170.0 149.2h3.5v0.7h-3.5zM169.2 150.2h5.0v0.7h-5.0zM165.7 151.2h8.0v0.7h-8.0zM183.1 152.2h1.6v0.7h-1.6zM184.0 153.2h0.7v0.7h-0.7zM168.3 153.2h3.7v0.7h-3.7zM173.0 154.2h10.9v0.7h-10.9zM165.0 154.2h9.4v0.7h-9.4zM166.4 155.2h11.3v0.7h-11.3zM166.0 155.2h4.6v0.7h-4.6zM182.7 156.2h0.7v0.7h-0.7zM168.6 156.2h13.7v0.7h-13.7zM184.2 157.2h0.5v0.7h-0.5zM167.8 157.2h7.5v0.7h-7.5zM169.7 158.2h4.2v0.7h-4.2zM159.5 159.2h20.5v0.7h-20.5zM169.4 159.2h4.3v0.7h-4.3zM176.7 160.2h7.6v0.7h-7.6zM169.3 160.2h4.5v0.7h-4.5zM175.6 161.2h9.1v0.7h-9.1zM153.0 161.2h31.7v0.7h-31.7zM157.0 163.2h27.7v0.7h-27.7zM165.9 163.2h1.9v0.7h-1.9zM167.0 164.2h9.3v0.7h-9.3zM175.3 165.2h2.4v0.7h-2.4zM166.5 165.2h5.8v0.7h-5.8zM167.0 166.2h1.3v0.7h-1.3zM168.5 166.2h3.7v0.7h-3.7zM167.7 167.2h3.7v0.7h-3.7zM182.6 168.2h2.1v0.7h-2.1zM166.1 169.2h7.4v0.7h-7.4zM156.2 170.2h5.3v0.7h-5.3zM158.9 172.2h14.0v0.7h-14.0zM153.6 172.2h9.3v0.7h-9.3zM165.2 172.2h9.3v0.7h-9.3zM160.9 173.2h6.5v0.7h-6.5zM164.2 175.2h7.4v0.7h-7.4zM163.7 176.2h21.0v0.7h-21.0zM168.0 176.2h6.0v0.7h-6.0zM165.2 178.2h7.0v0.7h-7.0zM173.3 179.2h6.6v0.7h-6.6zM162.3 180.2h22.4v0.7h-22.4zM166.0 180.2h3.8v0.7h-3.8zM173.4 181.2h11.3v0.7h-11.3zM169.1 181.2h3.7v0.7h-3.7zM181.5 182.2h3.2v0.7h-3.2zM166.9 182.2h5.6v0.7h-5.6zM167.1 183.2h17.6v0.7h-17.6zM158.1 185.2h4.6v0.7h-4.6zM174.2 186.2h10.5v0.7h-10.5zM182.4 187.2h2.3v0.7h-2.3zM153.0 189.2h1.5v0.7h-1.5zM153.0 190.2h31.7v0.7h-31.7zM170.3 192.2h4.2v0.7h-4.2zM164.9 194.2h19.8v0.7h-19.8zM155.2 195.2h20.6v0.7h-20.6zM174.8 196.2h9.9v0.7h-9.9zM172.9 197.2h11.8v0.7h-11.8zM184.0 198.2h0.7v0.7h-0.7zM153.0 201.2h31.7v0.7h-31.7zM159.8 202.2h5.6v0.7h-5.6zM177.5 205.2h7.2v0.7h-7.2zM154.5 205.2h16.3v0.7h-16.3zM171.7 206.2h1.0v0.7h-1.0zM168.0 206.2h3.2v0.7h-3.2zM155.0 208.2h9.4v0.7h-9.4zM153.0 211.2h5.9v0.7h-5.9zM153.0 212.2h31.0v0.7h-31.0zM174.2 213.2h2.3v0.7h-2.3zM172.5 214.2h4.0v0.7h-4.0zM162.9 215.2h17.2v0.7h-17.2zM170.4 217.2h14.3v0.7h-14.3zM158.2 220.2h5.9v0.7h-5.9zM169.9 221.2h11.6v0.7h-11.6zM182.9 221.2h1.8v0.7h-1.8zM167.9 221.2h7.9v0.7h-7.9zM180.8 223.2h1.7v0.7h-1.7zM168.3 223.2h5.0v0.7h-5.0zM160.9 225.2h5.5v0.7h-5.5zM164.3 225.2h7.7v0.7h-7.7zM164.1 226.2h9.6v0.6h-9.6z"/>
<path fill="#8e8f22" fill-opacity="0.12" d="M153.6 111.2h4.2v0.7h-4.2zM168.0 112.2h4.7v0.7h-4.7zM161.1 124.2h21.0v0.7h-21.0zM161.0 124.2h12.5v0.7h-12.5zM176.9 125.2h7.8v0.7h-7.8zM168.0 125.2h4.4v0.7h-4.4zM167.3 130.2h9.0v0.7h-9.0zM175.6 134.2h9.1v0.7h-9.1zM166.2 135.2h6.4v0.7h-6.4zM171.3 136.2h12.7v0.7h-12.7zM177.3 139.2h7.4v0.7h-7.4zM162.3 144.2h5.7v0.7h-5.7zM174.7 147.2h10.0v0.7h-10.0zM166.8 148.2h7.2v0.7h-7.2zM163.0 153.2h2.5v0.7h-2.5zM179.8 158.2h4.9v0.7h-4.9zM181.1 162.2h2.5v0.7h-2.5zM164.1 162.2h10.1v0.7h-10.1zM160.6 164.2h21.9v0.7h-21.9zM160.2 173.2h0.9v0.7h-0.9zM158.5 177.2h12.1v0.7h-12.1zM165.0 177.2h8.3v0.7h-8.3zM165.4 179.2h8.1v0.7h-8.1zM165.9 183.2h7.6v0.7h-7.6zM153.0 184.2h9.4v0.7h-9.4zM167.3 184.2h5.2v0.7h-5.2zM169.0 186.2h5.0v0.7h-5.0zM165.4 194.2h1.5v0.7h-1.5zM157.8 199.2h8.8v0.7h-8.8zM153.0 200.2h2.6v0.7h-2.6zM162.3 200.2h1.9v0.7h-1.9zM166.7 201.2h4.2v0.7h-4.2zM171.2 203.2h4.5v0.7h-4.5zM163.4 203.2h16.5v0.7h-16.5zM163.6 203.2h8.8v0.7h-8.8zM181.7 204.2h3.0v0.7h-3.0zM167.6 204.2h5.2v0.7h-5.2zM166.7 206.2h8.5v0.7h-8.5zM183.7 207.2h1.0v0.7h-1.0zM165.4 208.2h8.7v0.7h-8.7zM153.0 210.2h6.0v0.7h-6.0zM168.3 216.2h7.0v0.7h-7.0zM176.3 218.2h7.4v0.7h-7.4zM167.3 218.2h8.2v0.7h-8.2zM165.6 219.2h5.3v0.7h-5.3zM168.9 220.2h4.8v0.7h-4.8zM159.3 222.2h2.4v0.7h-2.4zM166.1 222.2h3.5v0.7h-3.5zM174.0 224.2h5.1v0.7h-5.1zM165.6 224.2h8.9v0.7h-8.9z"/>
<path fill="#8e8f22" fill-opacity="0.2" d="M162.1 112.2h1.6v0.7h-1.6zM169.6 113.2h2.7v0.7h-2.7zM170.3 117.2h1.2v0.7h-1.2zM168.2 158.2h1.5v0.7h-1.5zM171.8 165.2h4.1v0.7h-4.1zM163.8 171.2h2.3v0.7h-2.3zM166.6 185.2h7.4v0.7h-7.4zM166.1 188.2h6.6v0.7h-6.6zM167.5 189.2h7.7v0.7h-7.7zM168.3 192.2h4.4v0.7h-4.4zM167.8 194.2h6.4v0.7h-6.4zM160.1 195.2h11.0v0.7h-11.0zM167.8 195.2h4.9v0.7h-4.9zM167.4 197.2h3.8v0.7h-3.8zM163.8 199.2h10.3v0.7h-10.3zM167.2 205.2h7.6v0.7h-7.6zM165.6 207.2h6.7v0.7h-6.7zM167.3 209.2h4.3v0.7h-4.3zM164.3 212.2h7.0v0.7h-7.0zM170.5 216.2h3.8v0.7h-3.8zM168.1 217.2h4.9v0.7h-4.9zM165.3 218.2h5.0v0.7h-5.0z"/>
<path fill="#8e8f22" fill-opacity="0.32" d="M167.2 114.2h0.9v0.7h-0.9zM166.3 131.2h6.7v0.7h-6.7zM167.1 137.2h7.6v0.7h-7.6zM175.4 156.2h1.5v0.7h-1.5zM171.6 159.2h2.2v0.7h-2.2zM169.9 170.2h4.4v0.7h-4.4zM165.5 187.2h6.6v0.7h-6.6zM166.8 190.2h6.1v0.7h-6.1zM165.8 191.2h9.2v0.7h-9.2zM165.1 193.2h7.6v0.7h-7.6zM167.3 196.2h8.7v0.7h-8.7zM161.3 197.2h16.7v0.7h-16.7zM168.6 198.2h6.4v0.7h-6.4zM169.4 200.2h4.8v0.7h-4.8zM167.8 202.2h4.3v0.7h-4.3zM164.9 210.2h10.4v0.7h-10.4zM164.8 211.2h6.4v0.7h-6.4zM169.5 212.2h2.5v0.7h-2.5zM166.2 213.2h8.0v0.7h-8.0zM165.2 214.2h9.0v0.7h-9.0zM165.2 215.2h9.0v0.7h-9.0z"/>
</g>
<rect x="153.00" y="111.20" width="31.70" height="115.60" fill="none" stroke="#9d9d9d" stroke-width="1"/>
<line x1="153.00" y1="226.80" x2="153.00" y2="228.60" stroke="#9d9d9d" stroke-width="0.7" />
<line x1="168.85" y1="226.80" x2="168.85" y2="228.60" stroke="#9d9d9d" stroke-width="0.7" />
<line x1="184.70" y1="226.80" x2="184.70" y2="228.60" stroke="#9d9d9d" stroke-width="0.7" />
<text x="55.50" y="234.27" font-size="5.464" text-anchor="middle" style="stroke-width:0.04px" textLength="43.73" lengthAdjust="spacingAndGlyphs">-10kb&#160;&#160;TSS&#160;&#160;&#160;10kb</text>
<defs><linearGradient id="gMag"><stop offset="0" stop-color="#fff"/><stop offset="1" stop-color="#c800e0"/></linearGradient><linearGradient id="gOlv"><stop offset="0" stop-color="#fff"/><stop offset="1" stop-color="#6e6a1a"/></linearGradient></defs>
<rect x="40.50" y="237.40" width="31.10" height="3.60" fill="url(#gMag)" stroke="#8a8a8a" stroke-width="0.5" />
<text x="41.50" y="246.98" font-size="6.598" text-anchor="middle" style="stroke-width:0.07px" textLength="3.67" lengthAdjust="spacingAndGlyphs">0</text>
<text x="53.89" y="246.83" font-size="6.184" text-anchor="middle" style="stroke-width:0.05px" textLength="6.88" lengthAdjust="spacingAndGlyphs">80</text>
<text x="66.59" y="246.78" font-size="6.045" text-anchor="middle" style="stroke-width:0.05px" textLength="10.09" lengthAdjust="spacingAndGlyphs">160</text>
<rect x="77.00" y="237.40" width="31.60" height="3.60" fill="url(#gOlv)" stroke="#8a8a8a" stroke-width="0.5" />
<text x="77.30" y="246.98" font-size="6.598" text-anchor="middle" style="stroke-width:0.07px" textLength="3.67" lengthAdjust="spacingAndGlyphs">0</text>
<text x="86.80" y="247.03" font-size="6.737" text-anchor="middle" style="stroke-width:0.08px" textLength="3.75" lengthAdjust="spacingAndGlyphs">5</text>
<text x="97.79" y="246.76" font-size="6.0" text-anchor="middle" style="stroke-width:0.04px" textLength="6.67" lengthAdjust="spacingAndGlyphs">10</text>
<text x="107.40" y="246.77" font-size="6.03" text-anchor="middle" style="stroke-width:0.05px" textLength="6.71" lengthAdjust="spacingAndGlyphs">15</text>
<rect x="116.00" y="237.40" width="32.50" height="3.60" fill="url(#gMag)" stroke="#8a8a8a" stroke-width="0.5" />
<text x="117.00" y="246.98" font-size="6.598" text-anchor="middle" style="stroke-width:0.07px" textLength="3.67" lengthAdjust="spacingAndGlyphs">0</text>
<text x="129.39" y="246.83" font-size="6.184" text-anchor="middle" style="stroke-width:0.05px" textLength="6.88" lengthAdjust="spacingAndGlyphs">80</text>
<text x="142.09" y="246.78" font-size="6.045" text-anchor="middle" style="stroke-width:0.05px" textLength="10.09" lengthAdjust="spacingAndGlyphs">160</text>
<rect x="153.00" y="237.40" width="31.70" height="3.60" fill="url(#gOlv)" stroke="#8a8a8a" stroke-width="0.5" />
<text x="153.30" y="246.98" font-size="6.598" text-anchor="middle" style="stroke-width:0.07px" textLength="3.67" lengthAdjust="spacingAndGlyphs">0</text>
<text x="162.80" y="247.03" font-size="6.737" text-anchor="middle" style="stroke-width:0.08px" textLength="3.75" lengthAdjust="spacingAndGlyphs">5</text>
<text x="173.79" y="246.76" font-size="6.0" text-anchor="middle" style="stroke-width:0.04px" textLength="6.67" lengthAdjust="spacingAndGlyphs">10</text>
<text x="183.40" y="246.77" font-size="6.03" text-anchor="middle" style="stroke-width:0.05px" textLength="6.71" lengthAdjust="spacingAndGlyphs">15</text>
<line x1="20.60" y1="49.00" x2="20.60" y2="227.30" stroke="#231f20" stroke-width="1.0" />
<g transform="translate(12.00 137.20) rotate(-90)">
<text x="-0.18" y="2.94" font-size="8.167" text-anchor="middle" style="stroke-width:0.14px" textLength="139.94" lengthAdjust="spacingAndGlyphs">Expression in FBXO11 KO vs WT cells</text>
</g>
<g transform="translate(27.00 68.00) rotate(-90)">
<text x="-0.06" y="2.45" font-size="6.816" text-anchor="middle" style="stroke-width:0.08px" textLength="32.96" lengthAdjust="spacingAndGlyphs">Decreased</text>
</g>
<g transform="translate(34.70 68.00) rotate(-90)">
<text x="-0.00" y="2.65" font-size="7.359" text-anchor="middle" style="stroke-width:0.11px" textLength="17.18" lengthAdjust="spacingAndGlyphs">(593)</text>
</g>
<g transform="translate(27.00 101.00) rotate(-90)">
<text x="-0.09" y="2.41" font-size="6.698" text-anchor="middle" style="stroke-width:0.08px" textLength="29.42" lengthAdjust="spacingAndGlyphs">Increased</text>
</g>
<g transform="translate(34.70 100.50) rotate(-90)">
<text x="-0.00" y="2.44" font-size="6.772" text-anchor="middle" style="stroke-width:0.08px" textLength="15.81" lengthAdjust="spacingAndGlyphs">(305)</text>
</g>
<g transform="translate(27.00 168.70) rotate(-90)">
<text x="-0.05" y="2.42" font-size="6.727" text-anchor="middle" style="stroke-width:0.08px" textLength="34.41" lengthAdjust="spacingAndGlyphs">Unchanged</text>
</g>
<g transform="translate(34.70 168.70) rotate(-90)">
<text x="-0.01" y="2.46" font-size="6.847" text-anchor="middle" style="stroke-width:0.08px" textLength="19.79" lengthAdjust="spacingAndGlyphs">(1720)</text>
</g>
<text x="203.00" y="17.09" font-size="10.6" font-weight="bold" fill="#000" style="stroke:#000;stroke-width:0.25px" textLength="7.0" lengthAdjust="spacingAndGlyphs">B</text>
<text x="240.86" y="19.72" font-size="6.715" text-anchor="middle" style="stroke-width:0.08px" textLength="46.73" lengthAdjust="spacingAndGlyphs">1° erythroblasts</text>
<text x="240.70" y="27.48" font-size="6.9" text-anchor="middle" style="stroke-width:0.09px" textLength="35.20" lengthAdjust="spacingAndGlyphs">(PB CD34<tspan dy="-2.4" font-size="4.6">+</tspan><tspan dy="2.4">)</tspan></text>
<text x="319.36" y="19.69" font-size="6.642" text-anchor="middle" style="stroke-width:0.07px" textLength="46.22" lengthAdjust="spacingAndGlyphs">1° erythroblasts</text>
<text x="319.10" y="27.48" font-size="6.9" text-anchor="middle" style="stroke-width:0.09px" textLength="40.60" lengthAdjust="spacingAndGlyphs">(UCB CD34<tspan dy="-2.4" font-size="4.6">+</tspan><tspan dy="2.4">)</tspan></text>
<text x="227.97" y="37.88" font-size="6.613" text-anchor="middle" style="stroke-width:0.07px" textLength="29.41" lengthAdjust="spacingAndGlyphs">H3K4me3</text>
<rect x="211.20" y="41.30" width="32.30" height="1.80" fill="#7a7a7a" />
<text x="265.48" y="37.91" font-size="6.701" text-anchor="middle" style="stroke-width:0.08px" textLength="33.53" lengthAdjust="spacingAndGlyphs">H3K27me3</text>
<rect x="246.70" y="41.30" width="32.50" height="1.80" fill="#7a7a7a" />
<text x="300.67" y="37.91" font-size="6.682" text-anchor="middle" style="stroke-width:0.08px" textLength="29.71" lengthAdjust="spacingAndGlyphs">H3K4me3</text>
<rect x="284.70" y="41.30" width="32.00" height="1.80" fill="#7a7a7a" />
<text x="336.18" y="37.91" font-size="6.701" text-anchor="middle" style="stroke-width:0.08px" textLength="33.53" lengthAdjust="spacingAndGlyphs">H3K27me3</text>
<rect x="320.20" y="41.30" width="32.00" height="1.80" fill="#7a7a7a" />
<rect x="211.20" y="45.20" width="32.30" height="41.80" fill="#eef3fa" />
<g filter="url(#soft)">
<path fill="#1a3f8e" fill-opacity="0.05" d="M219.7 45.2h17.8v1.0h-17.8zM226.0 46.2h7.5v1.0h-7.5zM240.7 48.2h2.8v1.0h-2.8zM221.8 49.2h13.7v1.0h-13.7zM235.1 51.2h3.2v1.0h-3.2zM211.5 52.2h2.8v1.0h-2.8zM236.9 58.2h2.6v1.0h-2.6zM221.4 59.2h3.6v1.0h-3.6zM214.6 65.2h1.8v1.0h-1.8zM211.2 66.2h28.9v1.0h-28.9zM219.7 69.2h14.8v1.0h-14.8zM229.6 71.2h3.6v1.0h-3.6zM224.3 72.2h8.2v1.0h-8.2zM226.2 73.2h17.3v1.0h-17.3zM213.2 76.2h16.4v1.0h-16.4zM241.4 77.2h2.1v1.0h-2.1zM211.5 77.2h4.4v1.0h-4.4zM235.3 78.2h8.2v1.0h-8.2zM233.3 81.2h8.1v1.0h-8.1zM214.9 82.2h28.6v1.0h-28.6zM228.4 83.2h2.6v1.0h-2.6zM218.7 85.2h17.8v1.0h-17.8zM239.0 86.2h4.5v0.8h-4.5z"/>
<path fill="#1a3f8e" fill-opacity="0.1" d="M235.2 51.2h5.6v1.0h-5.6zM230.1 52.2h1.8v1.0h-1.8zM221.1 54.2h7.7v1.0h-7.7z"/>
<path fill="#1a3f8e" fill-opacity="0.18" d="M225.2 45.2h2.7v1.0h-2.7zM225.3 46.2h2.6v1.0h-2.6zM225.8 47.2h2.6v1.0h-2.6zM225.4 48.2h3.1v1.0h-3.1zM225.8 49.2h2.4v1.0h-2.4zM225.8 50.2h2.5v1.0h-2.5zM225.6 51.2h2.5v1.0h-2.5zM225.1 52.2h3.2v1.0h-3.2zM225.4 53.2h2.5v1.0h-2.5zM225.2 54.2h2.7v1.0h-2.7zM225.4 55.2h2.5v1.0h-2.5zM225.3 56.2h2.9v1.0h-2.9zM225.5 57.2h2.6v1.0h-2.6zM225.8 58.2h2.5v1.0h-2.5zM225.3 59.2h2.9v1.0h-2.9zM225.2 60.2h3.2v1.0h-3.2zM225.0 61.2h3.1v1.0h-3.1zM225.4 62.2h2.7v1.0h-2.7zM225.3 63.2h2.7v1.0h-2.7zM225.2 64.2h2.9v1.0h-2.9zM225.6 65.2h3.0v1.0h-3.0zM225.5 66.2h2.6v1.0h-2.6zM225.4 67.2h3.2v1.0h-3.2zM225.9 68.2h2.6v1.0h-2.6zM225.4 69.2h3.2v1.0h-3.2zM225.5 70.2h3.2v1.0h-3.2zM225.5 71.2h3.1v1.0h-3.1zM225.8 72.2h2.4v1.0h-2.4zM225.6 73.2h2.7v1.0h-2.7zM225.1 74.2h3.1v1.0h-3.1zM225.2 75.2h3.0v1.0h-3.0zM225.6 76.2h2.5v1.0h-2.5zM225.5 77.2h2.7v1.0h-2.7zM225.5 78.2h2.8v1.0h-2.8zM225.7 79.2h2.8v1.0h-2.8zM225.0 80.2h3.2v1.0h-3.2zM225.4 81.2h2.7v1.0h-2.7zM225.6 82.2h2.8v1.0h-2.8zM225.9 83.2h2.4v1.0h-2.4zM225.4 84.2h2.4v1.0h-2.4zM225.2 85.2h2.9v1.0h-2.9zM225.4 86.2h2.7v0.8h-2.7z"/>
</g>
<rect x="211.20" y="45.20" width="32.30" height="41.80" fill="none" stroke="#a3a3a3" stroke-width="1"/>
<rect x="211.20" y="88.00" width="32.30" height="20.40" fill="#eef3fa" />
<g filter="url(#soft)">
<path fill="#1a3f8e" fill-opacity="0.05" d="M214.6 89.0h19.1v1.0h-19.1zM211.2 90.0h27.7v1.0h-27.7zM242.1 93.0h1.4v1.0h-1.4zM214.1 94.0h4.2v1.0h-4.2zM211.7 95.0h6.7v1.0h-6.7zM219.7 95.0h3.0v1.0h-3.0zM214.3 97.0h12.4v1.0h-12.4zM224.7 98.0h18.7v1.0h-18.7zM229.8 100.0h5.4v1.0h-5.4zM224.8 103.0h7.0v1.0h-7.0zM213.6 104.0h12.5v1.0h-12.5zM236.9 107.0h6.6v1.0h-6.6z"/>
<path fill="#1a3f8e" fill-opacity="0.1" d="M211.2 88.0h29.6v1.0h-29.6zM211.2 91.0h25.0v1.0h-25.0zM218.2 92.0h6.5v1.0h-6.5zM219.0 99.0h16.1v1.0h-16.1zM211.5 102.0h1.9v1.0h-1.9zM211.2 103.0h12.5v1.0h-12.5zM243.1 104.0h0.4v1.0h-0.4zM211.2 108.0h20.1v0.4h-20.1z"/>
<path fill="#1a3f8e" fill-opacity="0.18" d="M225.3 88.0h3.1v1.0h-3.1zM225.5 89.0h2.8v1.0h-2.8zM225.8 90.0h2.5v1.0h-2.5zM225.4 91.0h3.2v1.0h-3.2zM225.8 92.0h2.4v1.0h-2.4zM225.3 93.0h2.5v1.0h-2.5zM225.3 94.0h2.9v1.0h-2.9zM225.2 95.0h3.2v1.0h-3.2zM225.3 96.0h2.9v1.0h-2.9zM225.3 97.0h2.7v1.0h-2.7zM225.4 98.0h3.1v1.0h-3.1zM225.3 99.0h3.0v1.0h-3.0zM225.8 100.0h2.7v1.0h-2.7zM225.4 101.0h2.6v1.0h-2.6zM225.3 102.0h2.7v1.0h-2.7zM225.4 103.0h2.6v1.0h-2.6zM225.6 104.0h2.5v1.0h-2.5zM225.6 105.0h2.4v1.0h-2.4zM225.6 106.0h2.8v1.0h-2.8zM225.2 107.0h3.1v1.0h-3.1zM225.6 108.0h2.4v0.4h-2.4z"/>
</g>
<rect x="211.20" y="88.00" width="32.30" height="20.40" fill="none" stroke="#a3a3a3" stroke-width="1"/>
<rect x="211.20" y="109.40" width="32.30" height="116.20" fill="#eef3fa" />
<g filter="url(#soft)">
<path fill="#1a3f8e" fill-opacity="0.05" d="M226.4 110.4h11.9v1.0h-11.9zM231.0 116.4h2.1v1.0h-2.1zM225.1 116.4h5.5v1.0h-5.5zM220.5 117.4h18.5v1.0h-18.5zM214.4 118.4h12.4v1.0h-12.4zM211.5 119.4h3.7v1.0h-3.7zM234.2 120.4h9.3v1.0h-9.3zM211.2 123.4h2.5v1.0h-2.5zM239.3 124.4h4.2v1.0h-4.2zM239.7 126.4h3.2v1.0h-3.2zM215.4 128.4h13.8v1.0h-13.8zM233.2 129.4h1.3v1.0h-1.3zM233.2 130.4h4.8v1.0h-4.8zM232.3 130.4h1.5v1.0h-1.5zM216.7 131.4h15.9v1.0h-15.9zM214.5 132.4h2.0v1.0h-2.0zM228.8 133.4h6.3v1.0h-6.3zM242.0 134.4h1.5v1.0h-1.5zM211.2 135.4h14.5v1.0h-14.5zM229.1 137.4h8.9v1.0h-8.9zM211.2 138.4h16.3v1.0h-16.3zM238.6 142.4h2.8v1.0h-2.8zM222.1 145.4h4.8v1.0h-4.8zM213.5 148.4h14.7v1.0h-14.7zM212.0 149.4h16.2v1.0h-16.2zM238.6 152.4h1.7v1.0h-1.7zM217.7 157.4h2.0v1.0h-2.0zM227.6 158.4h10.0v1.0h-10.0zM211.6 159.4h9.9v1.0h-9.9zM213.9 159.4h3.5v1.0h-3.5zM237.8 160.4h5.7v1.0h-5.7zM211.2 160.4h24.0v1.0h-24.0zM212.4 161.4h21.3v1.0h-21.3zM227.0 163.4h16.5v1.0h-16.5zM211.2 164.4h6.0v1.0h-6.0zM228.8 165.4h6.8v1.0h-6.8zM225.9 167.4h2.6v1.0h-2.6zM217.5 167.4h14.8v1.0h-14.8zM223.6 170.4h2.2v1.0h-2.2zM226.9 172.4h2.7v1.0h-2.7zM217.9 173.4h4.7v1.0h-4.7zM226.7 174.4h7.2v1.0h-7.2zM242.9 174.4h0.6v1.0h-0.6zM240.8 178.4h2.7v1.0h-2.7zM236.3 180.4h5.4v1.0h-5.4zM211.2 182.4h9.9v1.0h-9.9zM220.8 183.4h15.5v1.0h-15.5zM211.2 184.4h5.6v1.0h-5.6zM233.5 185.4h8.2v1.0h-8.2zM232.8 186.4h2.6v1.0h-2.6zM225.3 189.4h16.2v1.0h-16.2zM211.9 190.4h3.7v1.0h-3.7zM242.0 192.4h1.5v1.0h-1.5zM211.2 193.4h4.1v1.0h-4.1zM227.3 194.4h6.4v1.0h-6.4zM215.7 195.4h11.3v1.0h-11.3zM229.7 196.4h13.8v1.0h-13.8zM243.0 196.4h0.5v1.0h-0.5zM226.0 197.4h6.6v1.0h-6.6zM211.2 198.4h28.5v1.0h-28.5zM222.7 199.4h20.8v1.0h-20.8zM235.1 201.4h8.4v1.0h-8.4zM211.2 203.4h30.1v1.0h-30.1zM241.5 204.4h0.6v1.0h-0.6zM218.3 205.4h21.1v1.0h-21.1zM241.3 206.4h2.2v1.0h-2.2zM222.4 213.4h21.1v1.0h-21.1zM220.1 213.4h3.2v1.0h-3.2zM211.2 216.4h4.0v1.0h-4.0zM220.1 216.4h17.4v1.0h-17.4zM242.8 218.4h0.7v1.0h-0.7zM221.5 219.4h3.5v1.0h-3.5zM217.7 221.4h1.2v1.0h-1.2zM219.5 223.4h1.6v1.0h-1.6zM212.9 224.4h1.3v1.0h-1.3z"/>
<path fill="#1a3f8e" fill-opacity="0.1" d="M214.0 110.4h3.0v1.0h-3.0zM240.3 139.4h3.2v1.0h-3.2zM220.1 143.4h3.1v1.0h-3.1zM211.2 144.4h26.1v1.0h-26.1zM242.4 145.4h1.1v1.0h-1.1zM240.0 150.4h3.5v1.0h-3.5zM223.2 158.4h16.7v1.0h-16.7zM211.2 161.4h4.6v1.0h-4.6zM216.5 162.4h0.9v1.0h-0.9zM237.1 168.4h1.5v1.0h-1.5zM211.2 171.4h1.6v1.0h-1.6zM211.2 177.4h8.0v1.0h-8.0zM228.2 187.4h6.3v1.0h-6.3zM211.2 207.4h9.0v1.0h-9.0zM211.2 208.4h21.1v1.0h-21.1zM224.8 210.4h14.4v1.0h-14.4zM215.1 211.4h5.0v1.0h-5.0z"/>
<path fill="#1a3f8e" fill-opacity="0.18" d="M225.5 109.4h2.8v1.0h-2.8zM225.7 110.4h2.5v1.0h-2.5zM225.7 111.4h2.7v1.0h-2.7zM225.5 112.4h2.5v1.0h-2.5zM225.7 113.4h2.8v1.0h-2.8zM225.4 114.4h3.2v1.0h-3.2zM225.6 115.4h2.5v1.0h-2.5zM225.9 116.4h2.4v1.0h-2.4zM225.6 117.4h2.6v1.0h-2.6zM225.6 118.4h2.8v1.0h-2.8zM225.8 119.4h2.7v1.0h-2.7zM225.7 120.4h2.4v1.0h-2.4zM225.9 121.4h2.4v1.0h-2.4zM225.4 122.4h3.1v1.0h-3.1zM225.6 123.4h2.6v1.0h-2.6zM225.0 124.4h3.2v1.0h-3.2zM225.4 125.4h3.0v1.0h-3.0zM225.5 126.4h2.7v1.0h-2.7zM225.7 127.4h2.9v1.0h-2.9zM225.5 128.4h2.6v1.0h-2.6zM225.5 129.4h2.5v1.0h-2.5zM225.4 130.4h2.7v1.0h-2.7zM225.7 131.4h2.6v1.0h-2.6zM225.3 132.4h2.9v1.0h-2.9zM225.7 133.4h2.8v1.0h-2.8zM225.8 134.4h2.6v1.0h-2.6zM225.1 135.4h3.1v1.0h-3.1zM225.3 136.4h3.0v1.0h-3.0zM225.3 137.4h3.2v1.0h-3.2zM225.3 138.4h3.2v1.0h-3.2zM225.5 139.4h2.9v1.0h-2.9zM225.3 140.4h3.2v1.0h-3.2zM225.3 141.4h2.7v1.0h-2.7zM225.2 142.4h2.8v1.0h-2.8zM225.2 143.4h3.0v1.0h-3.0zM225.5 144.4h2.6v1.0h-2.6zM225.3 145.4h2.5v1.0h-2.5zM225.6 146.4h2.9v1.0h-2.9zM225.5 147.4h3.2v1.0h-3.2zM225.7 148.4h2.7v1.0h-2.7zM225.2 149.4h2.8v1.0h-2.8zM225.3 150.4h2.7v1.0h-2.7zM225.5 151.4h3.1v1.0h-3.1zM225.6 152.4h2.8v1.0h-2.8zM225.8 153.4h2.5v1.0h-2.5zM225.7 154.4h2.4v1.0h-2.4zM225.7 155.4h2.7v1.0h-2.7zM225.5 156.4h2.9v1.0h-2.9zM225.4 157.4h2.9v1.0h-2.9zM225.7 158.4h2.8v1.0h-2.8zM225.4 159.4h2.4v1.0h-2.4zM225.3 160.4h2.8v1.0h-2.8zM225.2 161.4h2.6v1.0h-2.6zM225.5 162.4h2.6v1.0h-2.6zM225.3 163.4h2.8v1.0h-2.8zM225.7 164.4h2.4v1.0h-2.4zM225.3 165.4h2.7v1.0h-2.7zM225.4 166.4h2.5v1.0h-2.5zM225.0 167.4h3.1v1.0h-3.1zM225.2 168.4h3.1v1.0h-3.1zM225.3 169.4h2.6v1.0h-2.6zM225.5 170.4h3.2v1.0h-3.2zM225.2 171.4h2.8v1.0h-2.8zM225.8 172.4h2.7v1.0h-2.7zM225.5 173.4h3.0v1.0h-3.0zM225.4 174.4h2.8v1.0h-2.8zM225.5 175.4h2.4v1.0h-2.4zM225.0 176.4h3.2v1.0h-3.2zM225.6 177.4h2.9v1.0h-2.9zM225.3 178.4h2.9v1.0h-2.9zM225.4 179.4h2.5v1.0h-2.5zM225.6 180.4h2.8v1.0h-2.8zM225.5 181.4h2.7v1.0h-2.7zM225.4 182.4h2.6v1.0h-2.6zM225.7 183.4h2.7v1.0h-2.7zM225.4 184.4h2.8v1.0h-2.8zM225.6 185.4h3.0v1.0h-3.0zM225.1 186.4h3.1v1.0h-3.1zM225.8 187.4h2.5v1.0h-2.5zM225.9 188.4h2.5v1.0h-2.5zM225.0 189.4h3.2v1.0h-3.2zM225.1 190.4h3.2v1.0h-3.2zM225.3 191.4h3.1v1.0h-3.1zM225.1 192.4h3.0v1.0h-3.0zM225.1 193.4h3.2v1.0h-3.2zM225.4 194.4h2.8v1.0h-2.8zM225.2 195.4h2.7v1.0h-2.7zM225.5 196.4h2.8v1.0h-2.8zM225.4 197.4h2.9v1.0h-2.9zM225.2 198.4h2.7v1.0h-2.7zM225.8 199.4h2.7v1.0h-2.7zM225.3 200.4h2.9v1.0h-2.9zM225.2 201.4h3.0v1.0h-3.0zM225.6 202.4h3.1v1.0h-3.1zM225.2 203.4h2.9v1.0h-2.9zM225.3 204.4h2.6v1.0h-2.6zM225.1 205.4h3.0v1.0h-3.0zM225.1 206.4h3.0v1.0h-3.0zM225.7 207.4h2.8v1.0h-2.8zM225.8 208.4h2.6v1.0h-2.6zM225.5 209.4h3.1v1.0h-3.1zM225.3 210.4h3.0v1.0h-3.0zM225.7 211.4h2.5v1.0h-2.5zM225.5 212.4h2.4v1.0h-2.4zM225.7 213.4h2.4v1.0h-2.4zM225.5 214.4h2.9v1.0h-2.9zM225.6 215.4h2.8v1.0h-2.8zM225.3 216.4h3.0v1.0h-3.0zM225.4 217.4h2.7v1.0h-2.7zM225.3 218.4h2.7v1.0h-2.7zM225.2 219.4h2.6v1.0h-2.6zM225.5 220.4h2.7v1.0h-2.7zM225.2 221.4h2.9v1.0h-2.9zM225.5 222.4h3.2v1.0h-3.2zM225.1 223.4h2.9v1.0h-2.9zM225.1 224.4h3.1v1.0h-3.1zM225.5 225.4h3.2v0.2h-3.2z"/>
</g>
<rect x="211.20" y="109.40" width="32.30" height="116.20" fill="none" stroke="#a3a3a3" stroke-width="1"/>
<line x1="211.20" y1="225.60" x2="211.20" y2="227.20" stroke="#a3a3a3" stroke-width="0.7" />
<line x1="226.85" y1="225.60" x2="226.85" y2="227.20" stroke="#a3a3a3" stroke-width="0.7" />
<line x1="243.50" y1="225.60" x2="243.50" y2="227.20" stroke="#a3a3a3" stroke-width="0.7" />
<rect x="246.70" y="45.20" width="32.50" height="41.80" fill="#f0f4fa" />
<g filter="url(#soft)">
<path fill="#1a3f8e" fill-opacity="0.05" d="M268.3 47.2h3.4v0.7h-3.4zM268.7 48.2h10.5v0.7h-10.5zM278.1 50.2h1.1v0.7h-1.1zM257.9 51.2h0.8v0.7h-0.8zM270.3 52.2h2.5v0.7h-2.5zM267.3 54.2h3.5v0.7h-3.5zM271.2 56.2h0.5v0.7h-0.5zM250.4 57.2h8.6v0.7h-8.6zM255.2 58.2h0.7v0.7h-0.7zM277.6 62.2h1.6v0.7h-1.6zM246.7 64.2h2.2v0.7h-2.2zM246.7 65.2h7.7v0.7h-7.7zM278.7 68.2h0.5v0.7h-0.5zM247.8 70.2h9.0v0.7h-9.0zM259.2 72.2h20.0v0.7h-20.0zM247.3 73.2h8.3v0.7h-8.3zM277.5 75.2h1.7v0.7h-1.7zM246.7 77.2h4.9v0.7h-4.9zM270.6 78.2h8.6v0.7h-8.6zM264.6 80.2h8.4v0.7h-8.4zM246.7 81.2h10.8v0.7h-10.8zM275.8 82.2h3.4v0.7h-3.4zM246.7 83.2h8.6v0.7h-8.6z"/>
<path fill="#1a3f8e" fill-opacity="0.1" d="M261.4 52.2h1.4v0.7h-1.4zM248.8 53.2h1.0v0.7h-1.0zM246.7 59.2h2.3v0.7h-2.3zM263.9 59.2h2.5v0.7h-2.5zM252.3 61.2h1.0v0.7h-1.0zM268.5 63.2h10.7v0.7h-10.7zM273.3 65.2h5.9v0.7h-5.9zM250.3 66.2h4.5v0.7h-4.5zM258.4 67.2h9.2v0.7h-9.2zM263.5 82.2h2.9v0.7h-2.9zM273.2 85.2h6.0v0.7h-6.0zM266.5 86.2h3.4v0.7h-3.4z"/>
<path fill="#1a3f8e" fill-opacity="0.18" d="M257.4 45.2h5.9v0.7h-5.9zM262.7 47.2h2.4v0.7h-2.4zM260.3 49.2h4.0v0.7h-4.0zM265.8 54.2h1.2v0.7h-1.2zM260.1 54.2h2.6v0.7h-2.6zM263.3 55.2h1.7v0.7h-1.7zM262.6 57.2h1.1v0.7h-1.1zM261.4 58.2h2.6v0.7h-2.6zM260.3 59.2h2.4v0.7h-2.4zM259.2 60.2h1.6v0.7h-1.6zM263.7 62.2h3.3v0.7h-3.3zM259.9 63.2h2.7v0.7h-2.7zM261.0 63.2h5.6v0.7h-5.6zM265.8 71.2h2.9v0.7h-2.9zM260.6 74.2h1.7v0.7h-1.7zM263.3 74.2h1.7v0.7h-1.7zM258.6 78.2h4.1v0.7h-4.1zM262.4 79.2h1.2v0.7h-1.2zM261.9 79.2h1.8v0.7h-1.8zM261.7 81.2h3.7v0.7h-3.7zM261.1 85.2h1.3v0.7h-1.3z"/>
<path fill="#1a3f8e" fill-opacity="0.28" d="M261.8 45.2h2.2v0.7h-2.2zM263.2 46.2h3.4v0.7h-3.4zM261.5 46.2h8.7v0.7h-8.7zM261.4 47.2h4.7v0.7h-4.7zM260.9 48.2h1.6v0.7h-1.6zM260.4 50.2h4.9v0.7h-4.9zM257.3 50.2h4.6v0.7h-4.6zM261.0 51.2h3.3v0.7h-3.3zM259.6 51.2h5.2v0.7h-5.2zM265.5 52.2h1.4v0.7h-1.4zM261.7 53.2h3.8v0.7h-3.8zM263.2 55.2h0.9v0.7h-0.9zM261.6 56.2h1.2v0.7h-1.2zM263.6 56.2h3.5v0.7h-3.5zM263.0 58.2h0.9v0.7h-0.9zM259.8 61.2h1.5v0.7h-1.5zM254.2 64.2h9.4v0.7h-9.4zM262.7 65.2h1.9v0.7h-1.9zM264.3 65.2h1.6v0.7h-1.6zM263.3 66.2h3.2v0.7h-3.2zM263.7 67.2h1.6v0.7h-1.6zM264.6 67.2h1.2v0.7h-1.2zM262.6 68.2h3.7v0.7h-3.7zM262.3 69.2h2.7v0.7h-2.7zM261.9 70.2h1.2v0.7h-1.2zM262.3 71.2h3.8v0.7h-3.8zM264.6 72.2h1.1v0.7h-1.1zM261.2 72.2h1.8v0.7h-1.8zM261.6 73.2h3.2v0.7h-3.2zM258.7 73.2h4.8v0.7h-4.8zM263.2 75.2h5.2v0.7h-5.2zM263.2 75.2h4.1v0.7h-4.1zM258.8 76.2h6.9v0.7h-6.9zM262.2 77.2h1.1v0.7h-1.1zM264.9 77.2h1.3v0.7h-1.3zM261.4 78.2h1.2v0.7h-1.2zM263.4 80.2h4.6v0.7h-4.6zM260.4 80.2h3.7v0.7h-3.7zM259.4 82.2h8.8v0.7h-8.8zM262.3 83.2h1.6v0.7h-1.6zM263.8 84.2h2.2v0.7h-2.2zM262.4 84.2h1.9v0.7h-1.9zM258.1 85.2h4.5v0.7h-4.5zM263.0 86.2h1.2v0.7h-1.2z"/>
</g>
<rect x="246.70" y="45.20" width="32.50" height="41.80" fill="none" stroke="#a3a3a3" stroke-width="1"/>
<rect x="246.70" y="88.00" width="32.50" height="20.40" fill="#f0f4fa" />
<g filter="url(#soft)">
<path fill="#1a3f8e" fill-opacity="0.05" d="M247.7 88.0h2.9v0.7h-2.9zM270.4 89.0h3.5v0.7h-3.5zM261.0 91.0h12.9v0.7h-12.9zM259.5 92.0h9.7v0.7h-9.7zM264.2 94.0h15.0v0.7h-15.0zM253.5 97.0h1.5v0.7h-1.5zM270.7 98.0h1.4v0.7h-1.4zM267.5 100.0h2.6v0.7h-2.6zM250.6 103.0h1.3v0.7h-1.3zM261.6 105.0h8.3v0.7h-8.3zM266.2 106.0h2.3v0.7h-2.3z"/>
<path fill="#1a3f8e" fill-opacity="0.1" d="M262.5 93.0h12.7v0.7h-12.7zM247.0 96.0h2.2v0.7h-2.2zM268.2 101.0h7.5v0.7h-7.5zM269.7 102.0h0.9v0.7h-0.9zM246.7 104.0h8.3v0.7h-8.3z"/>
<path fill="#1a3f8e" fill-opacity="0.18" d="M260.7 88.0h1.2v0.7h-1.2zM260.8 89.0h3.8v0.7h-3.8zM260.6 90.0h7.0v0.7h-7.0zM260.7 92.0h1.9v0.7h-1.9zM263.3 93.0h2.6v0.7h-2.6zM261.5 94.0h7.3v0.7h-7.3zM262.1 95.0h2.0v0.7h-2.0zM261.4 97.0h1.9v0.7h-1.9zM262.6 97.0h3.5v0.7h-3.5zM260.2 99.0h1.8v0.7h-1.8zM262.2 101.0h2.0v0.7h-2.0zM262.0 102.0h1.2v0.7h-1.2zM261.5 102.0h4.1v0.7h-4.1zM261.9 106.0h2.4v0.7h-2.4zM261.7 107.0h2.3v0.7h-2.3z"/>
<path fill="#1a3f8e" fill-opacity="0.28" d="M258.9 90.0h1.1v0.7h-1.1zM262.9 91.0h1.4v0.7h-1.4zM260.8 91.0h4.1v0.7h-4.1zM266.0 92.0h1.7v0.7h-1.7zM264.6 93.0h1.7v0.7h-1.7zM260.1 95.0h2.2v0.7h-2.2zM264.3 96.0h2.2v0.7h-2.2zM263.0 98.0h2.8v0.7h-2.8zM259.3 98.0h1.4v0.7h-1.4zM261.6 100.0h2.4v0.7h-2.4zM261.9 100.0h2.6v0.7h-2.6zM264.4 103.0h9.5v0.7h-9.5zM262.9 104.0h2.3v0.7h-2.3zM261.8 104.0h5.4v0.7h-5.4zM259.8 105.0h2.1v0.7h-2.1zM264.7 105.0h1.1v0.7h-1.1zM265.7 106.0h2.7v0.7h-2.7zM261.7 107.0h2.7v0.7h-2.7zM261.3 108.0h7.3v0.4h-7.3z"/>
</g>
<rect x="246.70" y="88.00" width="32.50" height="20.40" fill="none" stroke="#a3a3a3" stroke-width="1"/>
<rect x="246.70" y="109.40" width="32.50" height="116.20" fill="#f0f4fa" />
<g filter="url(#soft)">
<path fill="#1a3f8e" fill-opacity="0.05" d="M267.6 116.4h11.1v0.7h-11.1zM275.2 121.4h1.9v0.7h-1.9zM264.0 124.4h6.4v0.7h-6.4zM252.8 126.4h14.5v0.7h-14.5zM270.1 127.4h4.0v0.7h-4.0zM259.0 128.4h2.9v0.7h-2.9zM265.1 130.4h7.6v0.7h-7.6zM261.3 131.4h3.8v0.7h-3.8zM257.3 134.4h5.8v0.7h-5.8zM253.1 135.4h6.8v0.7h-6.8zM271.9 136.4h7.2v0.7h-7.2zM278.2 139.4h1.0v0.7h-1.0zM268.1 142.4h5.2v0.7h-5.2zM247.5 149.4h8.8v0.7h-8.8zM278.0 150.4h1.2v0.7h-1.2zM272.9 160.4h6.3v0.7h-6.3zM246.7 161.4h4.2v0.7h-4.2zM266.0 169.4h11.5v0.7h-11.5zM246.7 173.4h15.7v0.7h-15.7zM250.9 175.4h4.4v0.7h-4.4zM246.7 179.4h3.2v0.7h-3.2zM246.7 184.4h9.7v0.7h-9.7zM270.6 185.4h8.6v0.7h-8.6zM258.3 186.4h3.2v0.7h-3.2zM246.7 188.4h1.6v0.7h-1.6zM262.8 191.4h8.9v0.7h-8.9zM246.7 192.4h2.4v0.7h-2.4zM256.2 195.4h1.4v0.7h-1.4zM277.9 196.4h1.3v0.7h-1.3zM272.7 198.4h6.5v0.7h-6.5zM275.4 202.4h0.8v0.7h-0.8zM272.7 203.4h6.5v0.7h-6.5zM270.9 204.4h8.3v0.7h-8.3zM251.4 205.4h15.7v0.7h-15.7zM260.0 206.4h19.2v0.7h-19.2zM273.5 208.4h3.0v0.7h-3.0zM246.7 209.4h5.9v0.7h-5.9zM274.9 213.4h0.5v0.7h-0.5zM257.6 216.4h14.0v0.7h-14.0zM261.1 218.4h5.4v0.7h-5.4zM257.8 224.4h9.2v0.7h-9.2z"/>
<path fill="#1a3f8e" fill-opacity="0.1" d="M258.3 110.4h9.8v0.7h-9.8zM256.5 111.4h1.8v0.7h-1.8zM251.6 113.4h2.3v0.7h-2.3zM269.2 117.4h3.4v0.7h-3.4zM246.7 118.4h6.4v0.7h-6.4zM272.6 129.4h1.6v0.7h-1.6zM262.9 132.4h16.3v0.7h-16.3zM265.7 140.4h6.1v0.7h-6.1zM246.7 144.4h3.5v0.7h-3.5zM278.4 147.4h0.8v0.7h-0.8zM264.4 148.4h7.7v0.7h-7.7zM249.3 152.4h3.3v0.7h-3.3zM250.7 153.4h12.2v0.7h-12.2zM264.0 154.4h1.3v0.7h-1.3zM265.0 157.4h1.1v0.7h-1.1zM274.4 162.4h1.7v0.7h-1.7zM254.8 168.4h8.2v0.7h-8.2zM262.0 172.4h6.5v0.7h-6.5zM249.5 177.4h3.0v0.7h-3.0zM251.1 180.4h2.1v0.7h-2.1zM272.6 187.4h2.3v0.7h-2.3zM260.1 190.4h3.6v0.7h-3.6zM257.6 197.4h21.6v0.7h-21.6zM260.4 207.4h2.5v0.7h-2.5zM270.2 210.4h3.4v0.7h-3.4zM269.3 211.4h3.8v0.7h-3.8zM259.0 214.4h11.4v0.7h-11.4zM263.1 217.4h2.0v0.7h-2.0zM272.5 220.4h1.9v0.7h-1.9zM270.0 221.4h9.2v0.7h-9.2z"/>
<path fill="#1a3f8e" fill-opacity="0.18" d="M263.0 117.4h3.2v0.7h-3.2zM259.3 120.4h1.3v0.7h-1.3zM259.9 126.4h2.3v0.7h-2.3zM259.1 136.4h6.1v0.7h-6.1zM259.3 138.4h3.6v0.7h-3.6zM263.2 140.4h3.7v0.7h-3.7zM260.9 141.4h4.2v0.7h-4.2zM264.4 142.4h2.3v0.7h-2.3zM262.3 151.4h2.9v0.7h-2.9zM264.5 153.4h0.9v0.7h-0.9zM254.9 161.4h15.4v0.7h-15.4zM262.4 163.4h3.2v0.7h-3.2zM261.8 168.4h4.5v0.7h-4.5zM261.8 179.4h2.8v0.7h-2.8zM264.4 183.4h3.5v0.7h-3.5zM258.9 186.4h11.7v0.7h-11.7zM259.2 197.4h5.5v0.7h-5.5zM259.7 201.4h1.1v0.7h-1.1zM259.2 202.4h2.3v0.7h-2.3zM261.6 205.4h2.0v0.7h-2.0zM258.3 206.4h4.2v0.7h-4.2zM260.1 211.4h3.9v0.7h-3.9zM258.8 215.4h1.3v0.7h-1.3zM263.0 221.4h1.4v0.7h-1.4z"/>
<path fill="#1a3f8e" fill-opacity="0.28" d="M263.9 113.4h1.1v0.7h-1.1zM258.3 119.4h7.0v0.7h-7.0zM258.3 122.4h9.9v0.7h-9.9zM266.4 125.4h1.4v0.7h-1.4zM259.8 128.4h14.3v0.7h-14.3zM260.9 129.4h1.8v0.7h-1.8zM263.5 130.4h0.9v0.7h-0.9zM260.8 131.4h1.3v0.7h-1.3zM265.6 132.4h1.3v0.7h-1.3zM260.5 135.4h6.0v0.7h-6.0zM261.9 148.4h10.1v0.7h-10.1zM260.8 154.4h2.3v0.7h-2.3zM261.8 155.4h3.0v0.7h-3.0zM265.0 159.4h1.2v0.7h-1.2zM264.7 165.4h3.8v0.7h-3.8zM263.8 169.4h1.5v0.7h-1.5zM264.8 176.4h1.2v0.7h-1.2zM261.3 181.4h1.0v0.7h-1.0zM262.0 188.4h2.7v0.7h-2.7zM262.0 189.4h1.8v0.7h-1.8zM258.2 192.4h3.7v0.7h-3.7zM261.3 196.4h10.1v0.7h-10.1zM263.9 199.4h1.9v0.7h-1.9zM260.6 200.4h3.1v0.7h-3.1zM261.4 203.4h4.2v0.7h-4.2zM261.6 210.4h2.0v0.7h-2.0zM263.7 212.4h0.8v0.7h-0.8zM265.6 219.4h0.9v0.7h-0.9z"/>
</g>
<rect x="246.70" y="109.40" width="32.50" height="116.20" fill="none" stroke="#a3a3a3" stroke-width="1"/>
<line x1="246.70" y1="225.60" x2="246.70" y2="227.20" stroke="#a3a3a3" stroke-width="0.7" />
<line x1="262.45" y1="225.60" x2="262.45" y2="227.20" stroke="#a3a3a3" stroke-width="0.7" />
<line x1="279.20" y1="225.60" x2="279.20" y2="227.20" stroke="#a3a3a3" stroke-width="0.7" />
<rect x="284.70" y="45.20" width="32.00" height="41.80" fill="#e6edf8" />
<g filter="url(#soft)">
<path fill="#1a3f8e" fill-opacity="0.1" d="M288.8 49.2h1.4v0.7h-1.4zM295.6 50.2h4.6v0.7h-4.6zM312.1 51.2h1.5v0.7h-1.5zM295.2 53.2h2.8v0.7h-2.8zM306.1 57.2h1.0v0.7h-1.0zM285.0 62.2h4.3v0.7h-4.3zM303.5 63.2h2.4v0.7h-2.4zM287.2 65.2h2.5v0.7h-2.5zM306.7 66.2h4.4v0.7h-4.4zM314.9 69.2h1.8v0.7h-1.8zM301.5 69.2h13.3v0.7h-13.3zM315.3 70.2h1.4v0.7h-1.4zM285.9 72.2h9.2v0.7h-9.2zM292.2 76.2h1.1v0.7h-1.1zM312.8 77.2h3.4v0.7h-3.4zM286.3 78.2h4.6v0.7h-4.6zM298.5 79.2h3.7v0.7h-3.7zM285.2 86.2h1.3v0.7h-1.3z"/>
<path fill="#1a3f8e" fill-opacity="0.2" d="M286.4 45.2h2.7v0.7h-2.7zM294.0 45.2h6.7v0.7h-6.7zM304.2 46.2h2.1v0.7h-2.1zM313.3 47.2h3.4v0.7h-3.4zM312.1 48.2h4.6v0.7h-4.6zM295.0 50.2h11.9v0.7h-11.9zM287.0 51.2h0.8v0.7h-0.8zM299.7 51.2h6.5v0.7h-6.5zM293.9 52.2h4.2v0.7h-4.2zM305.2 52.2h0.6v0.7h-0.6zM295.4 53.2h0.7v0.7h-0.7zM315.6 54.2h1.1v0.7h-1.1zM284.7 55.2h3.5v0.7h-3.5zM290.6 56.2h7.9v0.7h-7.9zM314.3 57.2h2.2v0.7h-2.2zM316.0 58.2h0.7v0.7h-0.7zM312.6 58.2h4.1v0.7h-4.1zM314.8 59.2h1.9v0.7h-1.9zM303.2 61.2h2.2v0.7h-2.2zM303.2 61.2h0.8v0.7h-0.8zM293.1 62.2h2.7v0.7h-2.7zM296.5 63.2h1.2v0.7h-1.2zM290.1 64.2h1.1v0.7h-1.1zM302.4 64.2h9.3v0.7h-9.3zM300.6 64.2h3.7v0.7h-3.7zM306.9 65.2h9.6v0.7h-9.6zM315.4 67.2h1.3v0.7h-1.3zM290.1 67.2h5.3v0.7h-5.3zM306.6 67.2h2.1v0.7h-2.1zM301.4 68.2h0.5v0.7h-0.5zM314.8 68.2h1.9v0.7h-1.9zM295.6 68.2h1.2v0.7h-1.2zM294.1 70.2h9.1v0.7h-9.1zM295.5 71.2h10.6v0.7h-10.6zM290.8 73.2h7.2v0.7h-7.2zM311.8 73.2h4.3v0.7h-4.3zM306.5 74.2h2.3v0.7h-2.3zM296.5 77.2h1.5v0.7h-1.5zM294.5 78.2h14.0v0.7h-14.0zM300.7 81.2h2.6v0.7h-2.6zM298.7 82.2h7.2v0.7h-7.2zM306.8 83.2h1.3v0.7h-1.3zM284.7 84.2h9.6v0.7h-9.6zM288.3 85.2h4.5v0.7h-4.5zM287.6 86.2h11.6v0.7h-11.6z"/>
<path fill="#1a3f8e" fill-opacity="0.35" d="M302.1 45.2h2.4v0.7h-2.4zM304.6 46.2h1.7v0.7h-1.7zM313.2 46.2h2.9v0.7h-2.9zM289.8 47.2h2.9v0.7h-2.9zM299.7 47.2h1.3v0.7h-1.3zM315.3 48.2h1.4v0.7h-1.4zM305.1 49.2h7.8v0.7h-7.8zM305.1 52.2h0.8v0.7h-0.8zM309.9 55.2h4.5v0.7h-4.5zM305.9 55.2h4.3v0.7h-4.3zM302.2 56.2h1.2v0.7h-1.2zM302.3 57.2h2.8v0.7h-2.8zM309.2 59.2h6.1v0.7h-6.1zM311.5 60.2h2.8v0.7h-2.8zM305.5 60.2h3.3v0.7h-3.3zM310.9 61.2h5.8v0.7h-5.8zM298.9 63.2h3.6v0.7h-3.6zM294.7 65.2h0.9v0.7h-0.9zM285.5 66.2h7.8v0.7h-7.8zM310.4 71.2h6.3v0.7h-6.3zM294.8 75.2h12.9v0.7h-12.9zM292.5 75.2h1.6v0.7h-1.6zM284.8 76.2h3.2v0.7h-3.2zM300.0 77.2h2.7v0.7h-2.7zM296.0 78.2h8.1v0.7h-8.1zM306.3 79.2h2.7v0.7h-2.7zM311.7 80.2h1.6v0.7h-1.6zM301.8 81.2h1.1v0.7h-1.1zM309.1 82.2h1.1v0.7h-1.1zM299.5 82.2h0.9v0.7h-0.9zM306.5 83.2h1.9v0.7h-1.9zM292.4 84.2h3.6v0.7h-3.6zM291.9 85.2h1.9v0.7h-1.9zM293.7 85.2h1.5v0.7h-1.5zM305.2 86.2h3.1v0.7h-3.1z"/>
<path fill="#1a3f8e" fill-opacity="0.55" d="M300.9 54.2h1.4v0.7h-1.4zM300.0 60.2h5.2v0.7h-5.2zM303.2 70.2h2.8v0.7h-2.8zM304.4 71.2h1.3v0.7h-1.3zM297.4 81.2h3.9v0.7h-3.9z"/>
<path fill="#1a3f8e" fill-opacity="0.8" d="M299.9 45.2h2.5v1.0h-2.5zM300.0 46.2h2.7v1.0h-2.7zM299.9 48.2h2.6v1.0h-2.6zM300.2 49.2h2.1v1.0h-2.1zM299.8 50.2h2.6v1.0h-2.6zM300.1 51.2h2.5v1.0h-2.5zM299.8 54.2h2.6v1.0h-2.6zM300.3 55.2h2.1v1.0h-2.1zM300.3 57.2h2.5v1.0h-2.5zM299.7 60.2h2.7v1.0h-2.7zM300.2 61.2h2.2v1.0h-2.2zM300.2 63.2h2.1v1.0h-2.1zM300.2 64.2h2.1v1.0h-2.1zM300.3 69.2h2.3v1.0h-2.3zM299.6 70.2h2.7v1.0h-2.7zM300.2 72.2h2.4v1.0h-2.4zM300.1 75.2h2.5v1.0h-2.5zM300.0 78.2h2.1v1.0h-2.1zM299.7 80.2h2.4v1.0h-2.4zM300.0 83.2h2.1v1.0h-2.1zM300.0 85.2h2.2v1.0h-2.2z"/>
<path fill="#1a3f8e" fill-opacity="1.0" d="M299.9 47.2h2.5v1.0h-2.5zM299.8 52.2h2.5v1.0h-2.5zM299.9 53.2h2.7v1.0h-2.7zM300.2 56.2h2.5v1.0h-2.5zM300.3 58.2h2.3v1.0h-2.3zM299.8 59.2h2.4v1.0h-2.4zM300.3 62.2h2.3v1.0h-2.3zM299.9 65.2h2.5v1.0h-2.5zM300.1 66.2h2.2v1.0h-2.2zM300.2 67.2h2.1v1.0h-2.1zM300.1 68.2h2.1v1.0h-2.1zM299.8 71.2h2.7v1.0h-2.7zM299.7 73.2h2.4v1.0h-2.4zM300.3 74.2h2.1v1.0h-2.1zM300.4 76.2h2.1v1.0h-2.1zM299.9 77.2h2.5v1.0h-2.5zM300.0 79.2h2.3v1.0h-2.3zM300.1 81.2h2.7v1.0h-2.7zM300.0 82.2h2.3v1.0h-2.3zM300.3 84.2h2.3v1.0h-2.3zM299.9 86.2h2.2v0.8h-2.2z"/>
</g>
<rect x="284.70" y="45.20" width="32.00" height="41.80" fill="none" stroke="#a3a3a3" stroke-width="1"/>
<rect x="284.70" y="88.00" width="32.00" height="20.40" fill="#e6edf8" />
<g filter="url(#soft)">
<path fill="#1a3f8e" fill-opacity="0.1" d="M310.7 90.0h6.0v0.7h-6.0zM284.7 92.0h4.3v0.7h-4.3zM313.9 96.0h2.8v0.7h-2.8zM291.4 98.0h7.1v0.7h-7.1zM304.6 101.0h1.4v0.7h-1.4zM313.9 106.0h2.8v0.7h-2.8zM306.2 108.0h7.9v0.4h-7.9z"/>
<path fill="#1a3f8e" fill-opacity="0.2" d="M309.0 88.0h2.9v0.7h-2.9zM294.0 90.0h10.8v0.7h-10.8zM298.2 91.0h6.6v0.7h-6.6zM312.4 92.0h3.7v0.7h-3.7zM303.2 93.0h2.0v0.7h-2.0zM312.6 94.0h4.1v0.7h-4.1zM294.2 95.0h2.0v0.7h-2.0zM299.1 97.0h5.0v0.7h-5.0zM288.3 99.0h4.4v0.7h-4.4zM301.6 100.0h0.5v0.7h-0.5zM305.9 100.0h1.3v0.7h-1.3zM305.7 102.0h2.2v0.7h-2.2zM313.2 103.0h1.3v0.7h-1.3zM301.1 103.0h4.4v0.7h-4.4zM291.6 104.0h2.5v0.7h-2.5zM290.6 105.0h1.1v0.7h-1.1zM296.3 106.0h3.6v0.7h-3.6zM299.3 107.0h1.1v0.7h-1.1zM316.0 108.0h0.7v0.4h-0.7z"/>
<path fill="#1a3f8e" fill-opacity="0.35" d="M315.9 88.0h0.8v0.7h-0.8zM296.8 89.0h14.0v0.7h-14.0zM315.3 89.0h1.4v0.7h-1.4zM306.6 91.0h2.2v0.7h-2.2zM298.3 93.0h1.9v0.7h-1.9zM306.2 94.0h2.3v0.7h-2.3zM301.9 95.0h6.2v0.7h-6.2zM305.9 96.0h4.4v0.7h-4.4zM294.2 101.0h5.4v0.7h-5.4zM297.8 102.0h11.3v0.7h-11.3zM284.7 104.0h2.6v0.7h-2.6zM315.5 106.0h0.8v0.7h-0.8zM287.9 107.0h6.7v0.7h-6.7zM297.2 108.0h1.9v0.4h-1.9z"/>
<path fill="#1a3f8e" fill-opacity="0.55" d="M301.2 88.0h1.4v0.7h-1.4zM291.9 91.0h1.2v0.7h-1.2zM304.5 93.0h2.4v0.7h-2.4zM301.3 98.0h1.1v0.7h-1.1zM301.0 99.0h1.9v0.7h-1.9zM304.1 103.0h5.2v0.7h-5.2zM302.5 105.0h0.8v0.7h-0.8z"/>
<path fill="#1a3f8e" fill-opacity="0.8" d="M300.2 88.0h2.1v1.0h-2.1zM300.5 92.0h2.1v1.0h-2.1zM300.3 95.0h2.1v1.0h-2.1zM300.0 98.0h2.6v1.0h-2.6zM299.7 99.0h2.5v1.0h-2.5zM299.9 100.0h2.3v1.0h-2.3zM299.9 101.0h2.4v1.0h-2.4zM300.4 102.0h2.3v1.0h-2.3zM300.3 103.0h2.4v1.0h-2.4zM300.1 105.0h2.2v1.0h-2.2zM299.7 106.0h2.6v1.0h-2.6zM299.7 107.0h2.7v1.0h-2.7z"/>
<path fill="#1a3f8e" fill-opacity="1.0" d="M299.5 89.0h2.7v1.0h-2.7zM299.9 90.0h2.3v1.0h-2.3zM300.0 91.0h2.2v1.0h-2.2zM300.3 93.0h2.4v1.0h-2.4zM299.7 94.0h2.4v1.0h-2.4zM300.0 96.0h2.3v1.0h-2.3zM300.2 97.0h2.3v1.0h-2.3zM300.3 104.0h2.2v1.0h-2.2zM299.7 108.0h2.5v0.4h-2.5z"/>
</g>
<rect x="284.70" y="88.00" width="32.00" height="20.40" fill="none" stroke="#a3a3a3" stroke-width="1"/>
<rect x="284.70" y="109.40" width="32.00" height="115.40" fill="#e6edf8" />
<g filter="url(#soft)">
<path fill="#1a3f8e" fill-opacity="0.1" d="M291.6 109.4h1.5v0.7h-1.5zM287.0 110.4h4.1v0.7h-4.1zM315.0 110.4h1.7v0.7h-1.7zM309.2 111.4h4.9v0.7h-4.9zM287.5 111.4h7.0v0.7h-7.0zM285.0 114.4h7.3v0.7h-7.3zM295.6 115.4h3.6v0.7h-3.6zM312.9 115.4h2.6v0.7h-2.6zM287.9 115.4h3.3v0.7h-3.3zM310.6 116.4h5.9v0.7h-5.9zM284.7 117.4h1.2v0.7h-1.2zM304.7 117.4h3.3v0.7h-3.3zM285.7 118.4h3.2v0.7h-3.2zM292.2 118.4h2.1v0.7h-2.1zM314.7 119.4h2.0v0.7h-2.0zM304.7 119.4h1.0v0.7h-1.0zM311.4 120.4h5.3v0.7h-5.3zM306.8 124.4h0.9v0.7h-0.9zM302.5 125.4h8.4v0.7h-8.4zM287.7 126.4h1.8v0.7h-1.8zM286.8 126.4h3.9v0.7h-3.9zM289.6 129.4h2.5v0.7h-2.5zM285.3 129.4h1.6v0.7h-1.6zM285.5 131.4h4.8v0.7h-4.8zM284.7 133.4h4.1v0.7h-4.1zM313.0 138.4h3.2v0.7h-3.2zM302.7 139.4h2.2v0.7h-2.2zM284.7 140.4h2.4v0.7h-2.4zM303.1 142.4h11.4v0.7h-11.4zM306.9 142.4h3.9v0.7h-3.9zM291.8 143.4h4.1v0.7h-4.1zM294.5 144.4h1.5v0.7h-1.5zM305.7 145.4h0.9v0.7h-0.9zM305.4 147.4h1.4v0.7h-1.4zM303.2 150.4h1.9v0.7h-1.9zM309.2 151.4h2.3v0.7h-2.3zM304.2 153.4h9.3v0.7h-9.3zM292.3 153.4h3.0v0.7h-3.0zM311.1 154.4h5.6v0.7h-5.6zM291.2 154.4h2.3v0.7h-2.3zM299.5 156.4h1.9v0.7h-1.9zM296.3 157.4h7.8v0.7h-7.8zM308.9 157.4h7.8v0.7h-7.8zM305.9 158.4h0.5v0.7h-0.5zM311.6 159.4h5.1v0.7h-5.1zM284.7 159.4h1.1v0.7h-1.1zM315.0 160.4h1.7v0.7h-1.7zM296.6 165.4h4.9v0.7h-4.9zM302.9 166.4h1.6v0.7h-1.6zM286.7 168.4h2.3v0.7h-2.3zM305.5 170.4h4.0v0.7h-4.0zM291.3 170.4h2.7v0.7h-2.7zM300.0 171.4h6.3v0.7h-6.3zM293.8 171.4h0.9v0.7h-0.9zM312.6 173.4h4.1v0.7h-4.1zM285.7 174.4h11.8v0.7h-11.8zM298.5 175.4h1.9v0.7h-1.9zM284.7 176.4h4.2v0.7h-4.2zM303.8 180.4h2.5v0.7h-2.5zM294.5 181.4h1.4v0.7h-1.4zM310.6 181.4h1.5v0.7h-1.5zM304.4 188.4h4.8v0.7h-4.8zM297.9 192.4h0.7v0.7h-0.7zM296.9 195.4h5.0v0.7h-5.0zM314.0 199.4h2.7v0.7h-2.7zM284.7 201.4h3.3v0.7h-3.3zM315.1 205.4h1.6v0.7h-1.6zM289.1 206.4h0.9v0.7h-0.9zM294.3 207.4h2.7v0.7h-2.7zM287.1 210.4h3.9v0.7h-3.9zM298.1 213.4h4.8v0.7h-4.8zM300.0 214.4h0.8v0.7h-0.8zM314.7 215.4h1.6v0.7h-1.6zM300.0 219.4h2.1v1.0h-2.1zM299.9 220.4h2.3v1.0h-2.3zM299.7 221.4h2.7v1.0h-2.7zM300.1 222.4h2.4v1.0h-2.4zM300.0 223.4h2.7v1.0h-2.7zM291.7 223.4h0.7v0.7h-0.7zM300.1 224.4h2.7v0.4h-2.7z"/>
<path fill="#1a3f8e" fill-opacity="0.2" d="M301.8 112.4h1.7v0.7h-1.7zM302.4 112.4h11.3v0.7h-11.3zM311.9 114.4h2.1v0.7h-2.1zM303.8 114.4h7.9v0.7h-7.9zM308.6 115.4h3.2v0.7h-3.2zM297.9 116.4h2.4v0.7h-2.4zM315.4 116.4h1.3v0.7h-1.3zM287.4 117.4h12.8v0.7h-12.8zM302.1 118.4h2.3v0.7h-2.3zM295.6 119.4h3.5v0.7h-3.5zM292.2 121.4h5.9v0.7h-5.9zM293.9 121.4h1.4v0.7h-1.4zM313.6 121.4h1.3v0.7h-1.3zM288.6 122.4h2.4v0.7h-2.4zM313.2 122.4h3.5v0.7h-3.5zM305.1 124.4h0.6v0.7h-0.6zM285.2 124.4h4.8v0.7h-4.8zM289.1 125.4h8.1v0.7h-8.1zM304.0 127.4h1.7v0.7h-1.7zM309.9 128.4h6.2v0.7h-6.2zM293.8 128.4h7.8v0.7h-7.8zM305.0 130.4h5.5v0.7h-5.5zM304.1 130.4h7.1v0.7h-7.1zM303.8 132.4h0.9v0.7h-0.9zM295.1 132.4h3.6v0.7h-3.6zM292.4 133.4h5.6v0.7h-5.6zM298.9 136.4h9.1v0.7h-9.1zM288.0 136.4h1.9v0.7h-1.9zM284.7 137.4h0.8v0.7h-0.8zM295.4 137.4h4.5v0.7h-4.5zM300.3 139.4h1.6v0.7h-1.6zM284.7 140.4h3.4v0.7h-3.4zM289.3 141.4h8.7v0.7h-8.7zM284.7 141.4h2.3v0.7h-2.3zM287.3 142.4h3.4v0.7h-3.4zM306.5 143.4h1.0v0.7h-1.0zM316.4 144.4h0.3v0.7h-0.3zM296.3 145.4h14.0v0.7h-14.0zM310.0 145.4h0.8v0.7h-0.8zM309.5 146.4h0.9v0.7h-0.9zM308.2 147.4h2.7v0.7h-2.7zM315.7 148.4h1.0v0.7h-1.0zM284.7 148.4h3.6v0.7h-3.6zM291.3 148.4h2.2v0.7h-2.2zM288.2 149.4h2.6v0.7h-2.6zM294.8 149.4h0.7v0.7h-0.7zM286.5 150.4h8.7v0.7h-8.7zM300.6 151.4h0.9v0.7h-0.9zM300.0 152.4h12.0v0.7h-12.0zM301.1 153.4h1.6v0.7h-1.6zM308.2 155.4h2.0v0.7h-2.0zM308.6 155.4h2.5v0.7h-2.5zM295.0 155.4h1.4v0.7h-1.4zM309.2 156.4h0.9v0.7h-0.9zM298.8 158.4h4.2v0.7h-4.2zM287.3 158.4h14.0v0.7h-14.0zM284.7 161.4h0.6v0.7h-0.6zM302.6 161.4h0.8v0.7h-0.8zM296.3 162.4h1.9v0.7h-1.9zM304.5 163.4h0.6v0.7h-0.6zM314.8 163.4h1.7v0.7h-1.7zM284.7 164.4h4.9v0.7h-4.9zM288.8 164.4h5.2v0.7h-5.2zM316.3 166.4h0.4v0.7h-0.4zM295.3 169.4h6.2v0.7h-6.2zM288.2 172.4h2.3v0.7h-2.3zM296.0 175.4h8.1v0.7h-8.1zM306.4 176.4h4.2v0.7h-4.2zM312.2 177.4h1.4v0.7h-1.4zM290.0 177.4h2.4v0.7h-2.4zM286.0 178.4h13.4v0.7h-13.4zM315.2 179.4h1.5v0.7h-1.5zM298.7 179.4h4.1v0.7h-4.1zM285.1 180.4h5.4v0.7h-5.4zM300.5 182.4h8.5v0.7h-8.5zM311.4 183.4h5.3v0.7h-5.3zM316.2 184.4h0.5v0.7h-0.5zM287.3 185.4h9.0v0.7h-9.0zM308.8 186.4h7.9v0.7h-7.9zM284.7 187.4h1.3v0.7h-1.3zM288.5 188.4h3.6v0.7h-3.6zM288.7 189.4h0.8v0.7h-0.8zM284.7 189.4h1.2v0.7h-1.2zM306.4 190.4h0.8v0.7h-0.8zM303.1 191.4h3.6v0.7h-3.6zM285.2 191.4h2.0v0.7h-2.0zM284.7 192.4h0.7v0.7h-0.7zM288.8 193.4h0.6v0.7h-0.6zM300.5 193.4h8.2v0.7h-8.2zM288.6 194.4h4.2v0.7h-4.2zM284.7 194.4h3.1v0.7h-3.1zM315.2 195.4h1.5v0.7h-1.5zM311.3 196.4h1.2v0.7h-1.2zM309.8 197.4h5.5v0.7h-5.5zM292.9 197.4h7.7v0.7h-7.7zM300.1 198.4h1.1v0.7h-1.1zM295.8 199.4h14.0v0.7h-14.0zM307.8 200.4h6.9v0.7h-6.9zM285.3 200.4h4.4v0.7h-4.4zM290.7 201.4h12.0v0.7h-12.0zM308.6 202.4h1.6v0.7h-1.6zM302.4 203.4h0.7v0.7h-0.7zM300.4 205.4h6.6v0.7h-6.6zM299.4 206.4h9.8v0.7h-9.8zM294.8 208.4h3.4v0.7h-3.4zM306.6 208.4h2.0v0.7h-2.0zM296.7 209.4h7.1v0.7h-7.1zM313.9 212.4h2.6v0.7h-2.6zM285.2 213.4h3.9v0.7h-3.9zM290.5 214.4h0.6v0.7h-0.6zM310.4 216.4h5.0v0.7h-5.0zM286.2 217.4h2.5v0.7h-2.5zM305.6 218.4h6.2v0.7h-6.2zM296.9 218.4h5.6v0.7h-5.6zM309.8 219.4h6.5v0.7h-6.5zM306.7 219.4h1.7v0.7h-1.7zM302.4 220.4h5.3v0.7h-5.3zM306.4 222.4h7.1v0.7h-7.1zM297.8 222.4h14.0v0.7h-14.0zM287.4 224.4h9.5v0.4h-9.5zM308.3 224.4h7.6v0.4h-7.6z"/>
<path fill="#1a3f8e" fill-opacity="0.35" d="M301.9 109.4h1.3v0.7h-1.3zM293.7 109.4h7.7v0.7h-7.7zM292.9 109.4h4.9v0.7h-4.9zM315.2 110.4h1.5v0.7h-1.5zM301.9 110.4h2.7v0.7h-2.7zM284.7 111.4h9.2v0.7h-9.2zM290.1 112.4h3.8v0.7h-3.8zM297.0 112.4h2.9v0.7h-2.9zM300.2 112.4h3.0v0.7h-3.0zM312.0 113.4h4.7v0.7h-4.7zM316.0 113.4h0.7v0.7h-0.7zM296.5 113.4h5.0v0.7h-5.0zM298.9 113.4h2.0v0.7h-2.0zM302.1 118.4h4.3v0.7h-4.3zM290.7 120.4h2.6v0.7h-2.6zM298.8 120.4h4.8v0.7h-4.8zM303.0 120.4h1.2v0.7h-1.2zM296.7 121.4h4.7v0.7h-4.7zM287.9 122.4h1.2v0.7h-1.2zM298.4 123.4h2.3v0.7h-2.3zM297.5 123.4h5.6v0.7h-5.6zM297.9 123.4h1.9v0.7h-1.9zM285.7 125.4h1.6v0.7h-1.6zM295.0 125.4h2.5v0.7h-2.5zM313.5 126.4h3.2v0.7h-3.2zM303.3 127.4h2.5v0.7h-2.5zM306.8 127.4h1.3v0.7h-1.3zM302.2 127.4h2.2v0.7h-2.2zM285.2 129.4h2.0v0.7h-2.0zM287.8 130.4h2.8v0.7h-2.8zM298.2 131.4h3.3v0.7h-3.3zM305.9 131.4h2.9v0.7h-2.9zM294.5 131.4h5.4v0.7h-5.4zM305.3 132.4h1.2v0.7h-1.2zM301.6 132.4h1.9v0.7h-1.9zM294.9 133.4h0.6v0.7h-0.6zM307.5 134.4h1.0v0.7h-1.0zM296.2 134.4h3.5v0.7h-3.5zM300.0 135.4h2.2v0.7h-2.2zM286.5 135.4h5.9v0.7h-5.9zM296.3 136.4h4.9v0.7h-4.9zM307.2 137.4h9.5v0.7h-9.5zM303.7 138.4h1.7v0.7h-1.7zM296.8 138.4h10.3v0.7h-10.3zM294.2 139.4h6.0v0.7h-6.0zM303.3 140.4h8.3v0.7h-8.3zM301.7 141.4h1.7v0.7h-1.7zM298.7 143.4h7.4v0.7h-7.4zM290.3 146.4h3.5v0.7h-3.5zM295.8 148.4h1.9v0.7h-1.9zM292.0 149.4h4.6v0.7h-4.6zM292.9 151.4h5.1v0.7h-5.1zM284.7 152.4h2.6v0.7h-2.6zM303.1 152.4h1.3v0.7h-1.3zM307.7 156.4h2.9v0.7h-2.9zM313.2 160.4h2.3v0.7h-2.3zM310.5 160.4h4.4v0.7h-4.4zM313.4 162.4h3.3v0.7h-3.3zM295.9 165.4h0.7v0.7h-0.7zM289.2 167.4h1.9v0.7h-1.9zM294.4 167.4h14.0v0.7h-14.0zM298.8 169.4h9.1v0.7h-9.1zM314.2 172.4h2.5v0.7h-2.5zM313.8 174.4h2.5v0.7h-2.5zM300.4 182.4h0.9v0.7h-0.9zM290.1 183.4h0.8v0.7h-0.8zM294.3 185.4h1.5v0.7h-1.5zM297.5 186.4h8.1v0.7h-8.1zM292.9 190.4h3.5v0.7h-3.5zM311.0 196.4h5.2v0.7h-5.2zM293.6 202.4h2.2v0.7h-2.2zM294.9 204.4h4.1v0.7h-4.1zM284.7 204.4h4.5v0.7h-4.5zM301.5 207.4h0.7v0.7h-0.7zM299.9 208.4h2.7v1.0h-2.7zM305.2 209.4h0.5v0.7h-0.5zM287.5 211.4h5.1v0.7h-5.1zM300.4 212.4h2.3v1.0h-2.3zM299.9 215.4h2.5v1.0h-2.5zM291.5 215.4h7.7v0.7h-7.7zM300.3 216.4h2.3v1.0h-2.3zM299.9 217.4h2.7v1.0h-2.7zM300.1 218.4h2.1v1.0h-2.1zM291.9 220.4h8.1v0.7h-8.1zM293.0 221.4h4.2v0.7h-4.2zM290.3 221.4h1.1v0.7h-1.1z"/>
<path fill="#1a3f8e" fill-opacity="0.55" d="M305.7 109.4h3.3v0.7h-3.3zM301.3 111.4h3.3v0.7h-3.3zM298.2 115.4h5.5v0.7h-5.5zM303.8 117.4h0.8v0.7h-0.8zM300.4 117.4h2.9v0.7h-2.9zM301.0 119.4h1.6v0.7h-1.6zM294.3 122.4h6.7v0.7h-6.7zM300.1 124.4h5.8v0.7h-5.8zM295.3 126.4h1.4v0.7h-1.4zM303.3 128.4h2.4v0.7h-2.4zM292.9 129.4h10.0v0.7h-10.0zM302.5 135.4h0.9v0.7h-0.9zM301.8 136.4h6.3v0.7h-6.3zM301.2 137.4h2.2v0.7h-2.2zM294.0 139.4h5.9v0.7h-5.9zM302.7 142.4h1.3v0.7h-1.3zM303.1 154.4h2.1v0.7h-2.1zM300.2 169.4h2.5v1.0h-2.5zM300.4 172.4h2.3v1.0h-2.3zM300.0 173.4h2.4v1.0h-2.4zM299.9 179.4h2.7v1.0h-2.7zM299.7 180.4h2.7v1.0h-2.7zM300.1 182.4h2.5v1.0h-2.5zM299.9 183.4h2.1v1.0h-2.1zM299.5 184.4h2.7v1.0h-2.7zM300.2 186.4h2.1v1.0h-2.1zM300.4 189.4h2.1v1.0h-2.1zM299.6 190.4h2.6v1.0h-2.6zM299.9 192.4h2.2v1.0h-2.2zM300.3 193.4h2.1v1.0h-2.1zM300.1 195.4h2.7v1.0h-2.7zM299.7 196.4h2.7v1.0h-2.7zM300.0 197.4h2.4v1.0h-2.4zM300.4 198.4h2.1v1.0h-2.1zM300.2 199.4h2.4v1.0h-2.4zM299.7 200.4h2.6v1.0h-2.6zM299.7 201.4h2.3v1.0h-2.3zM300.2 202.4h2.1v1.0h-2.1zM299.8 203.4h2.7v1.0h-2.7zM300.2 204.4h2.5v1.0h-2.5zM299.8 205.4h2.4v1.0h-2.4zM299.7 206.4h2.5v1.0h-2.5zM300.4 207.4h2.1v1.0h-2.1zM299.8 209.4h2.6v1.0h-2.6zM299.6 210.4h2.6v1.0h-2.6zM300.0 211.4h2.6v1.0h-2.6zM300.3 213.4h2.4v1.0h-2.4zM300.0 214.4h2.3v1.0h-2.3z"/>
<path fill="#1a3f8e" fill-opacity="0.8" d="M294.9 110.4h4.0v0.7h-4.0zM301.6 111.4h2.0v0.7h-2.0zM297.9 113.4h5.9v1.0h-5.9zM297.9 113.4h1.8v0.7h-1.8zM308.1 114.4h1.1v0.7h-1.1zM289.4 116.4h6.4v0.7h-6.4zM298.9 118.4h4.9v1.0h-4.9zM294.3 119.4h1.0v0.7h-1.0zM296.9 120.4h4.8v0.7h-4.8zM298.2 121.4h11.2v0.7h-11.2zM298.9 123.4h5.2v1.0h-5.2zM299.0 125.4h4.8v1.0h-4.8zM299.1 126.4h4.4v1.0h-4.4zM298.7 127.4h4.5v1.0h-4.5zM299.3 128.4h4.1v1.0h-4.1zM298.6 132.4h4.6v1.0h-4.6zM296.8 133.4h2.1v0.7h-2.1zM299.4 134.4h3.4v1.0h-3.4zM299.1 139.4h4.0v1.0h-4.0zM299.4 142.4h3.3v1.0h-3.3zM299.1 146.4h3.6v1.0h-3.6zM299.6 148.4h3.2v1.0h-3.2zM299.7 149.4h2.7v1.0h-2.7zM299.8 150.4h2.9v1.0h-2.9zM299.7 154.4h2.4v1.0h-2.4zM299.5 156.4h2.6v1.0h-2.6zM300.2 157.4h2.7v1.0h-2.7zM299.6 158.4h2.7v1.0h-2.7zM300.2 159.4h2.4v1.0h-2.4zM300.3 161.4h2.1v1.0h-2.1zM300.1 162.4h2.7v1.0h-2.7zM299.8 163.4h2.5v1.0h-2.5zM299.9 164.4h2.4v1.0h-2.4zM300.1 165.4h2.3v1.0h-2.3zM299.8 166.4h2.5v1.0h-2.5zM299.6 167.4h2.7v1.0h-2.7zM299.8 168.4h2.7v1.0h-2.7zM299.9 170.4h2.4v1.0h-2.4zM299.7 171.4h2.4v1.0h-2.4zM299.9 174.4h2.6v1.0h-2.6zM300.3 175.4h2.3v1.0h-2.3zM299.8 176.4h2.2v1.0h-2.2zM299.8 177.4h2.6v1.0h-2.6zM300.1 178.4h2.4v1.0h-2.4zM299.7 181.4h2.4v1.0h-2.4zM300.2 185.4h2.5v1.0h-2.5zM300.1 187.4h2.6v1.0h-2.6zM299.8 188.4h2.6v1.0h-2.6zM299.8 191.4h2.2v1.0h-2.2zM299.8 194.4h2.6v1.0h-2.6z"/>
<path fill="#1a3f8e" fill-opacity="1.0" d="M298.2 109.4h5.9v1.0h-5.9zM298.5 110.4h5.8v1.0h-5.8zM298.8 111.4h4.5v1.0h-4.5zM298.7 112.4h5.1v1.0h-5.1zM298.4 114.4h5.8v1.0h-5.8zM298.7 115.4h4.4v1.0h-4.4zM298.4 116.4h5.2v1.0h-5.2zM298.5 117.4h4.9v1.0h-4.9zM299.3 119.4h4.3v1.0h-4.3zM298.3 120.4h5.5v1.0h-5.5zM298.6 121.4h4.8v1.0h-4.8zM298.9 122.4h4.9v1.0h-4.9zM299.3 124.4h4.2v1.0h-4.2zM298.7 129.4h4.6v1.0h-4.6zM299.3 130.4h3.7v1.0h-3.7zM299.2 131.4h4.4v1.0h-4.4zM299.6 133.4h3.6v1.0h-3.6zM299.6 135.4h3.4v1.0h-3.4zM299.4 136.4h4.1v1.0h-4.1zM299.2 137.4h4.2v1.0h-4.2zM299.3 138.4h3.3v1.0h-3.3zM298.8 140.4h4.1v1.0h-4.1zM299.6 141.4h3.6v1.0h-3.6zM299.9 143.4h3.2v1.0h-3.2zM299.4 144.4h3.3v1.0h-3.3zM300.0 145.4h3.1v1.0h-3.1zM299.6 147.4h3.1v1.0h-3.1zM299.9 151.4h2.6v1.0h-2.6zM299.4 152.4h2.8v1.0h-2.8zM299.4 153.4h3.1v1.0h-3.1zM300.0 155.4h2.8v1.0h-2.8zM299.9 160.4h2.6v1.0h-2.6z"/>
</g>
<rect x="284.70" y="109.40" width="32.00" height="115.40" fill="none" stroke="#a3a3a3" stroke-width="1"/>
<line x1="284.70" y1="224.80" x2="284.70" y2="226.40" stroke="#a3a3a3" stroke-width="0.7" />
<line x1="300.20" y1="224.80" x2="300.20" y2="226.40" stroke="#a3a3a3" stroke-width="0.7" />
<line x1="316.70" y1="224.80" x2="316.70" y2="226.40" stroke="#a3a3a3" stroke-width="0.7" />
<rect x="320.20" y="45.20" width="32.00" height="41.80" fill="#e2e9f5" />
<g filter="url(#soft)">
<path fill="#1a3f8e" fill-opacity="0.1" d="M347.4 45.2h1.9v0.7h-1.9zM348.7 55.2h3.5v0.7h-3.5zM329.9 55.2h0.8v0.7h-0.8zM323.6 58.2h12.8v0.7h-12.8zM332.2 63.2h1.2v0.7h-1.2zM343.6 63.2h7.5v0.7h-7.5zM348.3 69.2h3.5v0.7h-3.5zM322.4 69.2h2.4v0.7h-2.4zM331.7 71.2h0.7v0.7h-0.7zM320.2 72.2h4.9v0.7h-4.9zM351.2 76.2h1.0v0.7h-1.0zM343.2 82.2h9.0v0.7h-9.0zM345.8 82.2h1.4v0.7h-1.4z"/>
<path fill="#1a3f8e" fill-opacity="0.2" d="M349.9 45.2h2.3v0.7h-2.3zM339.8 45.2h0.6v0.7h-0.6zM329.9 45.2h12.4v0.7h-12.4zM320.2 46.2h4.9v0.7h-4.9zM331.3 47.2h0.6v0.7h-0.6zM329.8 47.2h12.7v0.7h-12.7zM343.9 48.2h4.7v0.7h-4.7zM349.2 48.2h3.0v0.7h-3.0zM320.4 49.2h2.3v0.7h-2.3zM340.3 50.2h1.4v0.7h-1.4zM328.0 51.2h12.3v0.7h-12.3zM331.8 51.2h4.9v0.7h-4.9zM331.9 51.2h2.7v0.7h-2.7zM343.1 51.2h3.7v0.7h-3.7zM325.8 52.2h1.9v0.7h-1.9zM322.8 53.2h5.3v0.7h-5.3zM340.6 53.2h6.1v0.7h-6.1zM323.4 53.2h3.7v0.7h-3.7zM330.0 53.2h13.9v0.7h-13.9zM330.4 54.2h0.5v0.7h-0.5zM349.1 55.2h3.1v0.7h-3.1zM343.3 56.2h0.8v0.7h-0.8zM342.0 56.2h0.8v0.7h-0.8zM333.6 57.2h9.6v0.7h-9.6zM344.0 57.2h7.4v0.7h-7.4zM324.6 58.2h2.8v0.7h-2.8zM338.8 58.2h3.7v0.7h-3.7zM345.6 59.2h3.3v0.7h-3.3zM336.4 61.2h6.4v0.7h-6.4zM320.5 61.2h6.2v0.7h-6.2zM328.8 62.2h6.7v0.7h-6.7zM324.2 63.2h6.9v0.7h-6.9zM351.0 63.2h1.2v0.7h-1.2zM348.6 64.2h0.8v0.7h-0.8zM320.2 65.2h5.5v0.7h-5.5zM333.7 65.2h14.5v0.7h-14.5zM337.2 66.2h5.7v0.7h-5.7zM324.4 66.2h5.2v0.7h-5.2zM335.5 67.2h3.7v0.7h-3.7zM325.4 67.2h3.6v0.7h-3.6zM341.4 67.2h4.6v0.7h-4.6zM348.4 67.2h3.2v0.7h-3.2zM346.5 68.2h2.9v0.7h-2.9zM322.9 69.2h7.8v0.7h-7.8zM336.8 69.2h11.8v0.7h-11.8zM320.2 70.2h2.6v0.7h-2.6zM346.2 71.2h2.3v0.7h-2.3zM339.9 71.2h1.4v0.7h-1.4zM333.5 72.2h4.4v0.7h-4.4zM321.7 72.2h4.9v0.7h-4.9zM338.3 73.2h12.6v0.7h-12.6zM339.7 73.2h5.1v0.7h-5.1zM343.9 74.2h4.0v0.7h-4.0zM322.4 75.2h7.1v0.7h-7.1zM333.9 77.2h1.2v0.7h-1.2zM350.2 78.2h1.4v0.7h-1.4zM320.4 79.2h4.1v0.7h-4.1zM321.1 79.2h2.4v0.7h-2.4zM322.4 80.2h13.5v0.7h-13.5zM348.2 80.2h1.8v0.7h-1.8zM332.0 80.2h0.7v0.7h-0.7zM347.3 80.2h1.5v0.7h-1.5zM331.8 80.2h10.7v0.7h-10.7zM320.2 81.2h4.9v0.7h-4.9zM320.9 82.2h3.1v0.7h-3.1zM333.2 82.2h2.8v0.7h-2.8zM322.4 83.2h5.4v0.7h-5.4zM346.5 83.2h4.6v0.7h-4.6zM347.8 84.2h4.4v0.7h-4.4zM337.2 84.2h1.6v0.7h-1.6zM351.3 84.2h0.9v0.7h-0.9zM338.2 84.2h2.5v0.7h-2.5zM327.5 85.2h2.7v0.7h-2.7zM351.0 85.2h0.6v0.7h-0.6zM333.5 85.2h10.3v0.7h-10.3zM342.0 86.2h3.2v0.7h-3.2zM343.1 86.2h9.1v0.7h-9.1z"/>
<path fill="#1a3f8e" fill-opacity="0.35" d="M338.4 45.2h11.3v0.7h-11.3zM322.4 45.2h1.1v0.7h-1.1zM323.8 46.2h4.6v0.7h-4.6zM339.5 46.2h5.3v0.7h-5.3zM339.6 46.2h3.2v0.7h-3.2zM332.0 46.2h12.8v0.7h-12.8zM347.3 47.2h1.5v0.7h-1.5zM333.3 47.2h17.5v0.7h-17.5zM335.6 48.2h1.4v0.7h-1.4zM342.8 48.2h1.0v0.7h-1.0zM335.1 48.2h0.6v0.7h-0.6zM327.6 48.2h13.2v0.7h-13.2zM329.1 48.2h14.1v0.7h-14.1zM336.8 49.2h6.5v0.7h-6.5zM347.9 49.2h3.4v0.7h-3.4zM333.3 49.2h8.9v0.7h-8.9zM331.8 49.2h6.9v0.7h-6.9zM348.2 50.2h4.0v0.7h-4.0zM329.6 50.2h0.9v0.7h-0.9zM335.9 50.2h5.4v0.7h-5.4zM332.8 50.2h7.8v0.7h-7.8zM320.2 51.2h6.7v0.7h-6.7zM328.3 51.2h14.5v0.7h-14.5zM347.7 52.2h3.8v0.7h-3.8zM350.6 52.2h1.6v0.7h-1.6zM329.3 52.2h8.7v0.7h-8.7zM328.1 52.2h2.1v0.7h-2.1zM335.7 52.2h6.9v0.7h-6.9zM349.3 53.2h1.6v0.7h-1.6zM344.5 53.2h6.8v0.7h-6.8zM335.8 53.2h1.4v0.7h-1.4zM324.9 54.2h5.3v0.7h-5.3zM337.2 54.2h3.0v0.7h-3.0zM333.8 54.2h1.4v0.7h-1.4zM330.1 54.2h11.4v0.7h-11.4zM344.2 55.2h7.7v0.7h-7.7zM328.8 55.2h0.8v0.7h-0.8zM333.7 55.2h6.7v0.7h-6.7zM320.2 56.2h3.5v0.7h-3.5zM328.0 56.2h0.9v0.7h-0.9zM321.4 56.2h1.9v0.7h-1.9zM339.8 56.2h1.9v0.7h-1.9zM323.7 57.2h6.2v0.7h-6.2zM350.0 57.2h1.2v0.7h-1.2zM335.2 58.2h0.9v0.7h-0.9zM343.3 58.2h7.4v0.7h-7.4zM333.4 58.2h11.2v0.7h-11.2zM335.4 59.2h4.2v0.7h-4.2zM325.0 59.2h5.2v0.7h-5.2zM337.8 59.2h11.0v0.7h-11.0zM330.5 59.2h2.3v0.7h-2.3zM332.3 59.2h7.5v0.7h-7.5zM335.5 60.2h2.9v0.7h-2.9zM342.4 60.2h3.7v0.7h-3.7zM351.0 60.2h1.2v0.7h-1.2zM325.8 60.2h2.9v0.7h-2.9zM333.1 60.2h7.0v0.7h-7.0zM326.7 61.2h8.6v0.7h-8.6zM333.9 61.2h9.7v0.7h-9.7zM338.4 61.2h1.2v0.7h-1.2zM347.3 61.2h1.3v0.7h-1.3zM338.6 62.2h7.8v0.7h-7.8zM331.6 62.2h17.5v0.7h-17.5zM333.6 62.2h9.3v0.7h-9.3zM339.1 63.2h0.7v0.7h-0.7zM330.7 63.2h9.8v0.7h-9.8zM337.2 64.2h3.9v0.7h-3.9zM334.3 64.2h3.2v0.7h-3.2zM321.3 64.2h4.5v0.7h-4.5zM323.4 64.2h1.6v0.7h-1.6zM349.8 65.2h1.6v0.7h-1.6zM322.1 65.2h6.6v0.7h-6.6zM342.8 65.2h3.3v0.7h-3.3zM325.3 66.2h6.6v0.7h-6.6zM338.3 66.2h10.2v0.7h-10.2zM326.9 66.2h2.2v0.7h-2.2zM323.1 67.2h0.6v0.7h-0.6zM333.1 67.2h1.8v0.7h-1.8zM346.1 68.2h3.7v0.7h-3.7zM326.3 68.2h3.2v0.7h-3.2zM351.4 68.2h0.8v0.7h-0.8zM346.8 69.2h2.4v0.7h-2.4zM325.1 70.2h4.9v0.7h-4.9zM320.2 70.2h3.7v0.7h-3.7zM323.4 71.2h4.4v0.7h-4.4zM327.4 71.2h1.7v0.7h-1.7zM342.4 72.2h6.4v0.7h-6.4zM344.2 72.2h8.0v0.7h-8.0zM331.4 73.2h1.9v0.7h-1.9zM320.4 73.2h3.6v0.7h-3.6zM342.4 73.2h5.1v0.7h-5.1zM328.4 73.2h10.3v0.7h-10.3zM349.3 74.2h2.9v0.7h-2.9zM337.4 74.2h7.2v0.7h-7.2zM331.3 74.2h3.2v0.7h-3.2zM327.6 74.2h3.3v0.7h-3.3zM351.7 75.2h0.5v0.7h-0.5zM333.2 75.2h0.6v0.7h-0.6zM339.0 75.2h5.5v0.7h-5.5zM335.3 75.2h4.5v0.7h-4.5zM337.4 76.2h12.0v0.7h-12.0zM324.7 76.2h6.1v0.7h-6.1zM321.9 76.2h17.5v0.7h-17.5zM320.2 77.2h4.2v0.7h-4.2zM324.7 77.2h11.7v0.7h-11.7zM340.5 77.2h3.7v0.7h-3.7zM338.4 77.2h1.3v0.7h-1.3zM330.3 77.2h14.0v0.7h-14.0zM338.5 78.2h2.1v0.7h-2.1zM339.1 78.2h4.1v0.7h-4.1zM331.0 78.2h3.1v0.7h-3.1zM340.8 78.2h7.9v0.7h-7.9zM330.4 78.2h2.9v0.7h-2.9zM334.1 79.2h7.7v0.7h-7.7zM344.2 79.2h3.3v0.7h-3.3zM331.6 79.2h8.4v0.7h-8.4zM331.5 81.2h2.1v0.7h-2.1zM332.3 81.2h4.6v0.7h-4.6zM334.3 81.2h8.4v0.7h-8.4zM329.3 82.2h14.5v0.7h-14.5zM345.0 83.2h4.1v0.7h-4.1zM324.5 83.2h1.9v0.7h-1.9zM348.4 83.2h3.8v0.7h-3.8zM331.8 83.2h11.8v0.7h-11.8zM336.1 84.2h6.3v0.7h-6.3zM332.2 84.2h9.0v0.7h-9.0zM333.4 85.2h5.4v0.7h-5.4zM340.5 85.2h5.0v0.7h-5.0zM323.9 85.2h4.1v0.7h-4.1zM346.6 86.2h4.1v0.7h-4.1zM321.5 86.2h1.0v0.7h-1.0zM341.2 86.2h7.0v0.7h-7.0zM335.0 86.2h7.7v0.7h-7.7z"/>
<path fill="#1a3f8e" fill-opacity="0.55" d="M349.7 45.2h1.0v0.7h-1.0zM348.8 46.2h3.4v0.7h-3.4zM327.1 46.2h12.0v0.7h-12.0zM320.2 47.2h1.0v0.7h-1.0zM323.7 47.2h5.5v0.7h-5.5zM348.1 47.2h1.7v0.7h-1.7zM351.7 49.2h0.5v0.7h-0.5zM334.9 49.2h8.0v0.7h-8.0zM332.2 50.2h3.0v0.7h-3.0zM320.2 54.2h4.2v0.7h-4.2zM327.5 55.2h5.0v0.7h-5.0zM331.8 56.2h7.6v0.7h-7.6zM331.4 57.2h5.0v0.7h-5.0zM336.6 57.2h5.1v0.7h-5.1zM336.9 58.2h1.2v0.7h-1.2zM333.7 59.2h5.1v0.7h-5.1zM335.1 60.2h6.7v0.7h-6.7zM335.3 61.2h7.2v0.7h-7.2zM351.6 62.2h0.6v0.7h-0.6zM328.2 64.2h2.0v0.7h-2.0zM322.5 65.2h1.0v0.7h-1.0zM330.0 66.2h6.2v0.7h-6.2zM322.7 68.2h8.4v0.7h-8.4zM332.5 68.2h12.4v0.7h-12.4zM343.2 69.2h2.4v0.7h-2.4zM333.7 69.2h5.4v0.7h-5.4zM320.2 70.2h0.9v0.7h-0.9zM343.1 70.2h2.6v0.7h-2.6zM332.7 72.2h10.3v0.7h-10.3zM329.4 73.2h12.5v0.7h-12.5zM345.3 75.2h3.1v0.7h-3.1zM332.9 75.2h8.9v0.7h-8.9zM320.2 76.2h7.5v0.7h-7.5zM329.9 76.2h12.5v0.7h-12.5zM330.9 78.2h9.0v0.7h-9.0zM329.8 79.2h2.7v0.7h-2.7zM320.2 79.2h9.4v0.7h-9.4zM330.7 80.2h5.6v0.7h-5.6zM320.2 81.2h4.3v0.7h-4.3zM331.6 81.2h12.2v0.7h-12.2zM324.6 82.2h2.0v0.7h-2.0zM348.4 82.2h1.1v0.7h-1.1zM330.5 83.2h2.8v0.7h-2.8z"/>
<path fill="#1a3f8e" fill-opacity="0.75" d="M332.8 52.2h10.4v0.7h-10.4zM329.1 57.2h2.5v0.7h-2.5zM342.0 62.2h7.2v0.7h-7.2zM321.4 63.2h1.2v0.7h-1.2zM331.2 64.2h12.4v0.7h-12.4zM330.9 65.2h14.5v0.7h-14.5zM334.6 66.2h7.4v0.7h-7.4zM334.2 67.2h8.0v0.7h-8.0zM341.8 70.2h0.9v0.7h-0.9zM333.3 70.2h11.2v0.7h-11.2zM331.2 71.2h12.4v0.7h-12.4zM333.0 72.2h10.6v0.7h-10.6zM334.3 74.2h5.0v0.7h-5.0zM326.5 77.2h1.2v0.7h-1.2z"/>
</g>
<rect x="320.20" y="45.20" width="32.00" height="41.80" fill="none" stroke="#a3a3a3" stroke-width="1"/>
<rect x="320.20" y="88.00" width="32.00" height="20.40" fill="#e2e9f5" />
<g filter="url(#soft)">
<path fill="#1a3f8e" fill-opacity="0.1" d="M337.7 89.0h7.7v0.7h-7.7zM344.6 90.0h1.7v0.7h-1.7zM324.1 91.0h6.2v0.7h-6.2zM350.1 91.0h2.1v0.7h-2.1zM324.4 93.0h2.6v0.7h-2.6zM333.2 93.0h8.1v0.7h-8.1zM325.5 95.0h16.9v0.7h-16.9zM340.3 97.0h6.4v0.7h-6.4zM338.8 102.0h1.7v0.7h-1.7zM348.6 103.0h3.6v0.7h-3.6zM338.7 103.0h7.0v0.7h-7.0zM330.4 108.0h10.8v0.4h-10.8z"/>
<path fill="#1a3f8e" fill-opacity="0.2" d="M324.0 89.0h9.2v0.7h-9.2zM327.9 90.0h10.2v0.7h-10.2zM346.2 93.0h3.4v0.7h-3.4zM350.4 93.0h1.8v0.7h-1.8zM324.0 94.0h3.0v0.7h-3.0zM350.5 94.0h1.7v0.7h-1.7zM329.6 95.0h13.2v0.7h-13.2zM324.0 96.0h0.5v0.7h-0.5zM333.7 96.0h4.5v0.7h-4.5zM320.2 96.0h1.9v0.7h-1.9zM320.2 97.0h3.6v0.7h-3.6zM325.2 98.0h1.4v0.7h-1.4zM335.0 99.0h0.9v0.7h-0.9zM346.4 99.0h5.8v0.7h-5.8zM348.6 99.0h0.8v0.7h-0.8zM342.5 100.0h6.4v0.7h-6.4zM332.9 100.0h1.0v0.7h-1.0zM335.0 100.0h4.8v0.7h-4.8zM335.8 100.0h6.7v0.7h-6.7zM351.5 101.0h0.7v0.7h-0.7zM350.3 101.0h1.9v0.7h-1.9zM347.5 102.0h4.7v0.7h-4.7zM338.9 102.0h3.0v0.7h-3.0zM336.7 103.0h4.8v0.7h-4.8zM337.6 104.0h2.1v0.7h-2.1zM328.8 105.0h12.1v0.7h-12.1zM320.2 105.0h5.7v0.7h-5.7zM342.7 105.0h1.5v0.7h-1.5zM330.3 106.0h17.5v0.7h-17.5zM351.7 106.0h0.5v0.7h-0.5zM333.6 106.0h9.4v0.7h-9.4zM336.5 107.0h5.6v0.7h-5.6zM340.6 107.0h8.7v0.7h-8.7zM320.2 108.0h10.3v0.4h-10.3zM333.2 108.0h6.9v0.4h-6.9z"/>
<path fill="#1a3f8e" fill-opacity="0.35" d="M324.7 88.0h2.4v0.7h-2.4zM340.0 88.0h5.5v0.7h-5.5zM338.5 88.0h13.7v0.7h-13.7zM342.7 88.0h9.5v0.7h-9.5zM343.7 88.0h8.5v0.7h-8.5zM345.1 89.0h7.1v0.7h-7.1zM350.8 89.0h1.4v0.7h-1.4zM335.4 89.0h4.4v0.7h-4.4zM334.8 89.0h0.9v0.7h-0.9zM341.7 90.0h2.3v0.7h-2.3zM321.0 90.0h0.7v0.7h-0.7zM339.5 90.0h0.7v0.7h-0.7zM326.4 91.0h8.6v0.7h-8.6zM329.1 91.0h4.6v0.7h-4.6zM327.0 92.0h4.1v0.7h-4.1zM347.6 92.0h2.6v0.7h-2.6zM350.9 92.0h1.0v0.7h-1.0zM336.1 92.0h3.3v0.7h-3.3zM323.7 92.0h2.1v0.7h-2.1zM336.8 93.0h1.7v0.7h-1.7zM344.6 94.0h2.9v0.7h-2.9zM328.0 95.0h3.9v0.7h-3.9zM331.0 95.0h7.7v0.7h-7.7zM345.6 95.0h3.5v0.7h-3.5zM330.9 96.0h0.8v0.7h-0.8zM336.0 96.0h2.9v0.7h-2.9zM341.0 97.0h2.7v0.7h-2.7zM333.0 97.0h7.9v0.7h-7.9zM332.6 97.0h6.7v0.7h-6.7zM340.1 98.0h0.8v0.7h-0.8zM320.2 98.0h2.9v0.7h-2.9zM335.2 98.0h0.8v0.7h-0.8zM342.4 98.0h9.8v0.7h-9.8zM330.9 98.0h1.9v0.7h-1.9zM324.9 99.0h1.7v0.7h-1.7zM325.1 100.0h2.2v0.7h-2.2zM339.9 100.0h1.5v0.7h-1.5zM334.9 101.0h3.5v0.7h-3.5zM323.9 101.0h5.4v0.7h-5.4zM351.0 101.0h1.2v0.7h-1.2zM339.8 101.0h7.6v0.7h-7.6zM346.1 102.0h3.7v0.7h-3.7zM344.6 102.0h1.4v0.7h-1.4zM332.8 102.0h8.2v0.7h-8.2zM334.5 103.0h3.8v0.7h-3.8zM351.7 103.0h0.5v0.7h-0.5zM344.5 103.0h1.2v0.7h-1.2zM329.7 104.0h0.7v0.7h-0.7zM320.2 104.0h11.3v0.7h-11.3zM334.8 104.0h6.7v0.7h-6.7zM322.6 105.0h3.2v0.7h-3.2zM330.0 105.0h9.5v0.7h-9.5zM348.1 106.0h4.1v0.7h-4.1zM329.8 106.0h5.6v0.7h-5.6zM330.4 106.0h1.7v0.7h-1.7zM335.5 107.0h7.6v0.7h-7.6zM323.6 107.0h17.5v0.7h-17.5zM320.2 107.0h1.6v0.7h-1.6zM332.2 107.0h11.8v0.7h-11.8zM340.8 108.0h1.3v0.4h-1.3zM321.8 108.0h0.9v0.4h-0.9zM347.2 108.0h3.5v0.4h-3.5zM332.2 108.0h2.3v0.4h-2.3z"/>
<path fill="#1a3f8e" fill-opacity="0.55" d="M351.8 91.0h0.4v0.7h-0.4zM334.6 91.0h4.8v0.7h-4.8zM333.3 92.0h5.8v0.7h-5.8zM332.4 93.0h9.6v0.7h-9.6zM323.7 94.0h0.5v0.7h-0.5zM331.1 94.0h2.1v0.7h-2.1zM336.7 94.0h2.5v0.7h-2.5zM328.8 95.0h2.3v0.7h-2.3zM343.9 96.0h1.8v0.7h-1.8zM333.4 96.0h7.7v0.7h-7.7zM331.4 97.0h14.3v0.7h-14.3zM344.1 99.0h1.6v0.7h-1.6zM330.2 99.0h11.0v0.7h-11.0zM335.6 100.0h2.1v0.7h-2.1zM329.9 101.0h12.4v0.7h-12.4zM351.2 104.0h1.0v0.7h-1.0z"/>
<path fill="#1a3f8e" fill-opacity="0.75" d="M334.9 88.0h4.9v0.7h-4.9zM332.8 89.0h9.1v0.7h-9.1zM331.4 90.0h5.1v0.7h-5.1zM330.0 90.0h10.8v0.7h-10.8zM342.7 91.0h3.3v0.7h-3.3zM342.3 92.0h1.9v0.7h-1.9zM336.1 94.0h5.0v0.7h-5.0zM332.4 98.0h10.0v0.7h-10.0zM334.6 104.0h5.4v0.7h-5.4zM333.3 105.0h6.6v0.7h-6.6z"/>
</g>
<rect x="320.20" y="88.00" width="32.00" height="20.40" fill="none" stroke="#a3a3a3" stroke-width="1"/>
<rect x="320.20" y="109.40" width="32.00" height="116.20" fill="#e2e9f5" />
<g filter="url(#soft)">
<path fill="#1a3f8e" fill-opacity="0.1" d="M339.3 109.4h1.9v0.7h-1.9zM341.7 110.4h1.3v0.7h-1.3zM336.3 110.4h5.4v0.7h-5.4zM340.3 111.4h0.7v0.7h-0.7zM320.2 112.4h17.3v0.7h-17.3zM330.6 112.4h6.6v0.7h-6.6zM335.0 112.4h3.0v0.7h-3.0zM320.2 113.4h3.7v0.7h-3.7zM351.4 114.4h0.8v0.7h-0.8zM338.8 117.4h5.6v0.7h-5.6zM324.4 118.4h6.7v0.7h-6.7zM323.0 119.4h5.8v0.7h-5.8zM345.7 119.4h4.7v0.7h-4.7zM320.2 120.4h7.5v0.7h-7.5zM333.2 121.4h4.8v0.7h-4.8zM342.3 122.4h1.5v0.7h-1.5zM320.2 122.4h3.5v0.7h-3.5zM348.1 122.4h4.1v0.7h-4.1zM332.8 123.4h2.4v0.7h-2.4zM333.0 124.4h8.0v0.7h-8.0zM341.2 125.4h4.3v0.7h-4.3zM333.3 125.4h6.7v0.7h-6.7zM333.6 126.4h8.7v0.7h-8.7zM323.6 127.4h17.5v0.7h-17.5zM345.5 127.4h6.7v0.7h-6.7zM350.8 128.4h1.4v0.7h-1.4zM334.6 128.4h4.5v0.7h-4.5zM321.5 129.4h0.7v0.7h-0.7zM335.3 129.4h3.2v0.7h-3.2zM332.2 130.4h6.2v0.7h-6.2zM334.3 130.4h5.0v0.7h-5.0zM348.7 132.4h2.8v0.7h-2.8zM333.9 132.4h4.6v0.7h-4.6zM334.0 133.4h5.6v0.7h-5.6zM325.4 134.4h9.4v0.7h-9.4zM330.0 135.4h5.1v0.7h-5.1zM332.7 135.4h3.9v0.7h-3.9zM336.1 136.4h5.1v0.7h-5.1zM335.5 138.4h0.8v0.7h-0.8zM325.1 138.4h1.1v0.7h-1.1zM336.4 138.4h4.3v0.7h-4.3zM320.2 139.4h11.3v0.7h-11.3zM347.0 139.4h5.2v0.7h-5.2zM332.6 140.4h8.6v0.7h-8.6zM333.3 141.4h6.9v0.7h-6.9zM335.5 142.4h6.1v0.7h-6.1zM321.0 143.4h1.6v0.7h-1.6zM339.8 143.4h10.0v0.7h-10.0zM335.1 144.4h6.4v0.7h-6.4zM320.5 145.4h1.8v0.7h-1.8zM322.9 145.4h8.2v0.7h-8.2zM333.7 145.4h5.5v0.7h-5.5zM342.7 148.4h6.0v0.7h-6.0zM335.3 148.4h2.4v0.7h-2.4zM327.0 148.4h7.6v0.7h-7.6zM335.0 148.4h5.5v0.7h-5.5zM332.2 149.4h6.0v0.7h-6.0zM320.2 150.4h13.5v0.7h-13.5zM324.2 150.4h14.2v0.7h-14.2zM332.7 150.4h6.4v0.7h-6.4zM320.2 151.4h8.2v0.7h-8.2zM340.2 152.4h12.0v0.7h-12.0zM332.2 152.4h7.7v0.7h-7.7zM348.2 153.4h1.5v0.7h-1.5zM339.7 153.4h0.9v0.7h-0.9zM334.6 153.4h4.8v0.7h-4.8zM335.0 154.4h3.3v0.7h-3.3zM339.0 154.4h2.5v0.7h-2.5zM327.2 154.4h1.5v0.7h-1.5zM334.4 154.4h7.2v0.7h-7.2zM332.2 155.4h6.4v0.7h-6.4zM331.7 156.4h7.4v0.7h-7.4zM335.4 157.4h4.4v0.7h-4.4zM322.3 158.4h8.4v0.7h-8.4zM333.9 158.4h8.3v0.7h-8.3zM333.3 159.4h7.5v0.7h-7.5zM350.0 160.4h2.1v0.7h-2.1zM336.1 160.4h4.6v0.7h-4.6zM334.8 161.4h8.8v0.7h-8.8zM332.2 162.4h7.3v0.7h-7.3zM348.6 163.4h1.0v0.7h-1.0zM350.7 163.4h1.5v0.7h-1.5zM342.0 163.4h10.2v0.7h-10.2zM334.2 163.4h3.7v0.7h-3.7zM344.5 164.4h2.5v0.7h-2.5zM333.2 164.4h5.9v0.7h-5.9zM340.7 165.4h2.9v0.7h-2.9zM325.4 165.4h1.0v0.7h-1.0zM334.3 165.4h7.6v0.7h-7.6zM328.3 166.4h2.6v0.7h-2.6zM335.3 166.4h5.1v0.7h-5.1zM348.4 167.4h2.4v0.7h-2.4zM333.6 167.4h7.3v0.7h-7.3zM331.3 168.4h8.1v0.7h-8.1zM331.7 169.4h1.4v0.7h-1.4zM336.6 169.4h4.7v0.7h-4.7zM341.5 170.4h5.3v0.7h-5.3zM331.1 170.4h8.7v0.7h-8.7zM334.4 171.4h6.4v0.7h-6.4zM333.2 172.4h8.6v0.7h-8.6zM347.0 173.4h4.2v0.7h-4.2zM334.3 173.4h4.7v0.7h-4.7zM328.4 174.4h0.9v0.7h-0.9zM347.3 174.4h3.3v0.7h-3.3zM334.4 174.4h3.3v0.7h-3.3zM338.6 175.4h7.6v0.7h-7.6zM334.9 175.4h13.7v0.7h-13.7zM344.1 175.4h8.1v0.7h-8.1zM335.5 175.4h3.3v0.7h-3.3zM335.8 176.4h4.1v0.7h-4.1zM335.1 177.4h5.4v0.7h-5.4zM334.1 178.4h8.4v0.7h-8.4zM333.5 179.4h5.5v0.7h-5.5zM342.4 180.4h5.1v0.7h-5.1zM333.6 180.4h8.4v0.7h-8.4zM331.1 181.4h1.7v0.7h-1.7zM326.1 181.4h3.8v0.7h-3.8zM342.6 181.4h2.4v0.7h-2.4zM332.8 181.4h7.8v0.7h-7.8zM338.1 183.4h0.8v0.7h-0.8zM332.2 183.4h8.6v0.7h-8.6zM332.0 184.4h6.8v0.7h-6.8zM326.3 185.4h8.5v0.7h-8.5zM337.3 185.4h3.2v0.7h-3.2zM332.3 186.4h8.9v0.7h-8.9zM326.6 186.4h2.6v0.7h-2.6zM334.4 186.4h3.8v0.7h-3.8zM326.8 187.4h6.2v0.7h-6.2zM331.9 187.4h8.0v0.7h-8.0zM347.3 188.4h0.6v0.7h-0.6zM341.7 188.4h7.4v0.7h-7.4zM332.4 188.4h8.9v0.7h-8.9zM344.5 189.4h7.7v0.7h-7.7zM336.3 189.4h5.3v0.7h-5.3zM345.0 190.4h0.7v0.7h-0.7zM335.0 190.4h4.2v0.7h-4.2zM343.0 192.4h2.9v0.7h-2.9zM332.4 193.4h0.9v0.7h-0.9zM333.0 193.4h4.6v0.7h-4.6zM333.2 194.4h6.6v0.7h-6.6zM333.1 194.4h5.1v0.7h-5.1zM344.3 195.4h7.9v0.7h-7.9zM326.2 195.4h1.6v0.7h-1.6zM338.9 196.4h10.1v0.7h-10.1zM332.2 197.4h7.9v0.7h-7.9zM335.8 197.4h6.8v0.7h-6.8zM333.0 197.4h8.9v0.7h-8.9zM337.5 200.4h4.7v0.7h-4.7zM342.8 201.4h9.4v0.7h-9.4zM324.6 202.4h8.6v0.7h-8.6zM349.2 202.4h1.5v0.7h-1.5zM320.5 203.4h4.8v0.7h-4.8zM351.0 204.4h1.2v0.7h-1.2zM323.8 204.4h15.9v0.7h-15.9zM323.2 206.4h3.7v0.7h-3.7zM320.2 207.4h1.8v0.7h-1.8zM341.0 207.4h8.0v0.7h-8.0zM325.3 208.4h2.1v0.7h-2.1zM320.7 208.4h1.8v0.7h-1.8zM342.4 210.4h2.5v0.7h-2.5zM347.8 210.4h4.4v0.7h-4.4zM345.5 210.4h2.8v0.7h-2.8zM342.0 211.4h1.9v0.7h-1.9zM346.3 211.4h5.9v0.7h-5.9zM327.0 212.4h10.4v0.7h-10.4zM327.8 213.4h2.9v0.7h-2.9zM321.6 215.4h1.1v0.7h-1.1zM329.1 216.4h8.0v0.7h-8.0zM351.4 217.4h0.8v0.7h-0.8zM320.3 218.4h17.5v0.7h-17.5zM339.2 219.4h5.1v0.7h-5.1zM332.5 220.4h5.2v0.7h-5.2zM335.9 220.4h1.6v0.7h-1.6zM351.5 222.4h0.7v0.7h-0.7zM324.3 224.4h11.1v0.7h-11.1z"/>
<path fill="#1a3f8e" fill-opacity="0.2" d="M337.8 109.4h4.3v0.7h-4.3zM320.2 109.4h1.5v0.7h-1.5zM333.5 109.4h6.3v0.7h-6.3zM335.9 110.4h1.0v0.7h-1.0zM349.8 110.4h2.4v0.7h-2.4zM333.6 110.4h8.8v0.7h-8.8zM333.7 111.4h3.6v0.7h-3.6zM348.2 111.4h2.9v0.7h-2.9zM347.3 111.4h4.9v0.7h-4.9zM334.6 111.4h3.1v0.7h-3.1zM333.1 112.4h5.1v0.7h-5.1zM327.6 113.4h11.0v0.7h-11.0zM326.3 113.4h12.3v0.7h-12.3zM344.0 113.4h3.2v0.7h-3.2zM336.0 113.4h3.6v0.7h-3.6zM331.6 114.4h1.6v0.7h-1.6zM320.2 114.4h3.2v0.7h-3.2zM335.1 114.4h5.7v0.7h-5.7zM331.9 115.4h3.5v0.7h-3.5zM322.8 115.4h13.9v0.7h-13.9zM330.5 115.4h6.9v0.7h-6.9zM335.8 115.4h3.6v0.7h-3.6zM331.1 116.4h1.5v0.7h-1.5zM333.7 116.4h7.5v0.7h-7.5zM345.9 116.4h1.0v0.7h-1.0zM333.6 116.4h6.5v0.7h-6.5zM336.1 117.4h0.6v0.7h-0.6zM332.5 117.4h6.8v0.7h-6.8zM333.5 117.4h5.1v0.7h-5.1zM329.8 118.4h8.2v0.7h-8.2zM349.7 118.4h0.9v0.7h-0.9zM334.8 118.4h3.7v0.7h-3.7zM351.2 119.4h1.0v0.7h-1.0zM334.7 119.4h6.2v0.7h-6.2zM320.2 120.4h11.5v0.7h-11.5zM351.2 120.4h1.0v0.7h-1.0zM343.6 120.4h2.7v0.7h-2.7zM334.6 120.4h6.4v0.7h-6.4zM321.3 121.4h2.3v0.7h-2.3zM324.0 121.4h3.5v0.7h-3.5zM342.4 121.4h9.8v0.7h-9.8zM343.3 122.4h2.9v0.7h-2.9zM333.6 122.4h6.1v0.7h-6.1zM324.8 123.4h13.2v0.7h-13.2zM333.2 123.4h6.7v0.7h-6.7zM323.6 125.4h4.6v0.7h-4.6zM348.1 126.4h4.1v0.7h-4.1zM324.8 126.4h0.6v0.7h-0.6zM323.9 126.4h4.2v0.7h-4.2zM350.0 126.4h2.2v0.7h-2.2zM345.2 127.4h2.9v0.7h-2.9zM335.4 127.4h6.6v0.7h-6.6zM326.1 128.4h14.7v0.7h-14.7zM340.8 128.4h1.0v0.7h-1.0zM330.5 129.4h4.5v0.7h-4.5zM334.6 129.4h2.8v0.7h-2.8zM344.6 130.4h7.6v0.7h-7.6zM334.4 130.4h1.0v0.7h-1.0zM348.8 131.4h3.4v0.7h-3.4zM337.0 131.4h2.8v0.7h-2.8zM334.9 131.4h4.8v0.7h-4.8zM331.4 132.4h5.2v0.7h-5.2zM344.2 132.4h3.6v0.7h-3.6zM321.8 133.4h1.1v0.7h-1.1zM331.4 133.4h2.9v0.7h-2.9zM320.5 134.4h5.0v0.7h-5.0zM336.4 134.4h5.7v0.7h-5.7zM333.5 134.4h9.0v0.7h-9.0zM343.5 135.4h4.1v0.7h-4.1zM329.5 135.4h17.5v0.7h-17.5zM333.9 135.4h5.4v0.7h-5.4zM334.2 136.4h5.1v0.7h-5.1zM346.8 136.4h3.4v0.7h-3.4zM326.8 137.4h10.1v0.7h-10.1zM339.4 137.4h9.5v0.7h-9.5zM336.5 137.4h3.5v0.7h-3.5zM342.7 139.4h1.1v0.7h-1.1zM331.9 139.4h7.6v0.7h-7.6zM339.8 140.4h11.6v0.7h-11.6zM335.7 140.4h2.9v0.7h-2.9zM339.2 140.4h1.2v0.7h-1.2zM347.5 141.4h2.7v0.7h-2.7zM328.4 141.4h8.5v0.7h-8.5zM330.0 142.4h2.3v0.7h-2.3zM320.2 142.4h5.4v0.7h-5.4zM351.2 142.4h1.0v0.7h-1.0zM344.9 143.4h7.3v0.7h-7.3zM334.9 143.4h7.9v0.7h-7.9zM350.8 144.4h1.4v0.7h-1.4zM338.0 144.4h1.2v0.7h-1.2zM351.6 145.4h0.6v0.7h-0.6zM326.5 146.4h0.8v0.7h-0.8zM327.9 146.4h2.4v0.7h-2.4zM332.1 146.4h2.0v0.7h-2.0zM332.9 146.4h7.8v0.7h-7.8zM338.9 147.4h0.8v0.7h-0.8zM351.4 147.4h0.8v0.7h-0.8zM322.5 147.4h1.4v0.7h-1.4zM336.1 147.4h4.0v0.7h-4.0zM343.8 148.4h3.6v0.7h-3.6zM336.2 149.4h8.7v0.7h-8.7zM326.1 149.4h1.2v0.7h-1.2zM345.4 150.4h2.0v0.7h-2.0zM343.6 151.4h1.5v0.7h-1.5zM334.1 151.4h6.8v0.7h-6.8zM339.8 152.4h0.7v0.7h-0.7zM349.4 152.4h2.8v0.7h-2.8zM329.9 153.4h2.2v0.7h-2.2zM329.5 154.4h2.3v0.7h-2.3zM348.2 155.4h3.4v0.7h-3.4zM337.1 155.4h1.8v0.7h-1.8zM346.4 155.4h5.8v0.7h-5.8zM327.6 156.4h3.7v0.7h-3.7zM322.9 156.4h9.0v0.7h-9.0zM320.2 156.4h3.0v0.7h-3.0zM320.2 157.4h10.4v0.7h-10.4zM343.0 157.4h1.7v0.7h-1.7zM321.7 158.4h5.8v0.7h-5.8zM327.3 159.4h0.7v0.7h-0.7zM339.2 159.4h2.5v0.7h-2.5zM320.2 159.4h4.2v0.7h-4.2zM320.2 160.4h7.3v0.7h-7.3zM321.8 160.4h1.4v0.7h-1.4zM336.3 161.4h7.5v0.7h-7.5zM340.4 161.4h11.8v0.7h-11.8zM346.2 161.4h3.8v0.7h-3.8zM321.2 162.4h2.7v0.7h-2.7zM321.7 163.4h8.3v0.7h-8.3zM334.0 164.4h7.2v0.7h-7.2zM347.6 165.4h3.3v0.7h-3.3zM346.8 166.4h4.2v0.7h-4.2zM335.7 167.4h5.0v0.7h-5.0zM330.2 168.4h8.5v0.7h-8.5zM335.0 168.4h6.9v0.7h-6.9zM326.5 168.4h16.6v0.7h-16.6zM343.8 169.4h3.1v0.7h-3.1zM340.8 169.4h0.9v0.7h-0.9zM329.9 169.4h2.7v0.7h-2.7zM320.2 170.4h15.1v0.7h-15.1zM349.9 170.4h1.7v0.7h-1.7zM342.4 171.4h6.6v0.7h-6.6zM332.2 171.4h1.8v0.7h-1.8zM338.7 172.4h13.5v0.7h-13.5zM330.2 172.4h11.9v0.7h-11.9zM346.3 173.4h4.7v0.7h-4.7zM340.5 174.4h1.7v0.7h-1.7zM333.1 176.4h3.6v0.7h-3.6zM326.7 176.4h0.8v0.7h-0.8zM322.7 176.4h5.0v0.7h-5.0zM340.2 177.4h5.2v0.7h-5.2zM344.2 177.4h7.9v0.7h-7.9zM320.2 177.4h5.8v0.7h-5.8zM351.2 177.4h1.0v0.7h-1.0zM343.0 178.4h3.3v0.7h-3.3zM320.2 178.4h2.8v0.7h-2.8zM339.4 179.4h1.9v0.7h-1.9zM338.2 179.4h7.8v0.7h-7.8zM324.6 182.4h9.5v0.7h-9.5zM320.2 182.4h4.9v0.7h-4.9zM320.2 182.4h4.9v0.7h-4.9zM335.3 182.4h3.1v0.7h-3.1zM322.0 183.4h1.8v0.7h-1.8zM320.2 183.4h3.0v0.7h-3.0zM344.2 184.4h8.0v0.7h-8.0zM332.9 184.4h0.8v0.7h-0.8zM337.9 185.4h2.2v0.7h-2.2zM335.4 185.4h0.9v0.7h-0.9zM321.4 186.4h10.2v0.7h-10.2zM341.3 188.4h5.3v0.7h-5.3zM320.2 188.4h14.5v0.7h-14.5zM330.3 189.4h0.9v0.7h-0.9zM330.6 189.4h1.3v0.7h-1.3zM338.2 190.4h1.2v0.7h-1.2zM335.7 190.4h11.0v0.7h-11.0zM336.9 190.4h3.2v0.7h-3.2zM320.2 191.4h5.8v0.7h-5.8zM346.5 191.4h5.3v0.7h-5.3zM348.0 192.4h2.9v0.7h-2.9zM341.7 192.4h7.1v0.7h-7.1zM338.3 193.4h13.2v0.7h-13.2zM322.8 194.4h0.7v0.7h-0.7zM340.3 194.4h11.9v0.7h-11.9zM339.3 195.4h1.5v0.7h-1.5zM345.3 196.4h2.8v0.7h-2.8zM333.8 196.4h4.3v0.7h-4.3zM323.8 197.4h3.2v0.7h-3.2zM330.2 198.4h2.1v0.7h-2.1zM330.8 198.4h8.2v0.7h-8.2zM348.0 198.4h2.1v0.7h-2.1zM320.2 199.4h1.5v0.7h-1.5zM339.2 199.4h10.7v0.7h-10.7zM322.3 200.4h2.9v0.7h-2.9zM336.5 201.4h5.0v0.7h-5.0zM320.2 202.4h12.2v0.7h-12.2zM322.9 203.4h1.1v0.7h-1.1zM345.1 203.4h3.7v0.7h-3.7zM343.7 204.4h2.5v0.7h-2.5zM347.5 204.4h3.2v0.7h-3.2zM345.3 205.4h1.3v0.7h-1.3zM320.2 205.4h2.7v0.7h-2.7zM325.6 205.4h11.2v0.7h-11.2zM347.8 206.4h4.4v0.7h-4.4zM340.8 207.4h2.3v0.7h-2.3zM320.2 208.4h6.5v0.7h-6.5zM328.1 209.4h2.6v0.7h-2.6zM320.2 209.4h11.0v0.7h-11.0zM322.9 209.4h1.3v0.7h-1.3zM347.6 211.4h0.5v0.7h-0.5zM320.2 212.4h10.2v0.7h-10.2zM331.6 212.4h17.5v0.7h-17.5zM329.2 213.4h1.5v0.7h-1.5zM342.5 214.4h1.7v0.7h-1.7zM334.7 214.4h3.0v0.7h-3.0zM320.2 214.4h4.1v0.7h-4.1zM343.0 215.4h5.5v0.7h-5.5zM329.4 217.4h1.3v0.7h-1.3zM324.4 217.4h0.8v0.7h-0.8zM339.7 218.4h1.7v0.7h-1.7zM336.1 218.4h3.9v0.7h-3.9zM337.5 219.4h0.8v0.7h-0.8zM332.9 220.4h1.7v0.7h-1.7zM344.6 220.4h7.6v0.7h-7.6zM327.6 221.4h9.9v0.7h-9.9zM338.5 222.4h6.0v0.7h-6.0zM333.9 222.4h5.6v0.7h-5.6zM320.2 223.4h6.0v0.7h-6.0zM350.9 223.4h1.3v0.7h-1.3zM344.0 223.4h1.5v0.7h-1.5zM321.2 224.4h1.4v0.7h-1.4zM325.1 225.4h9.3v0.2h-9.3zM337.0 225.4h1.8v0.2h-1.8zM320.2 225.4h9.5v0.2h-9.5z"/>
<path fill="#1a3f8e" fill-opacity="0.35" d="M345.0 109.4h1.6v0.7h-1.6zM349.3 112.4h1.1v0.7h-1.1zM335.9 114.4h2.2v0.7h-2.2zM346.4 114.4h2.0v0.7h-2.0zM343.1 116.4h9.1v0.7h-9.1zM320.2 117.4h2.9v0.7h-2.9zM320.2 118.4h15.2v0.7h-15.2zM344.9 119.4h0.6v0.7h-0.6zM324.2 120.4h1.7v0.7h-1.7zM324.6 121.4h1.5v0.7h-1.5zM320.3 121.4h9.2v0.7h-9.2zM326.6 123.4h4.3v0.7h-4.3zM349.0 123.4h1.9v0.7h-1.9zM320.2 124.4h1.2v0.7h-1.2zM333.4 124.4h3.8v0.7h-3.8zM339.7 124.4h1.5v0.7h-1.5zM338.0 124.4h2.1v0.7h-2.1zM325.2 125.4h2.6v0.7h-2.6zM334.5 125.4h3.6v0.7h-3.6zM336.1 127.4h7.1v0.7h-7.1zM336.2 128.4h4.4v0.7h-4.4zM323.1 129.4h1.5v0.7h-1.5zM326.7 129.4h10.0v0.7h-10.0zM344.0 130.4h1.5v0.7h-1.5zM331.2 131.4h1.0v0.7h-1.0zM342.0 131.4h10.2v0.7h-10.2zM322.5 132.4h12.6v0.7h-12.6zM350.7 133.4h1.5v0.7h-1.5zM323.2 133.4h0.9v0.7h-0.9zM342.1 134.4h1.8v0.7h-1.8zM330.4 134.4h0.8v0.7h-0.8zM329.5 136.4h4.0v0.7h-4.0zM328.4 137.4h12.0v0.7h-12.0zM336.9 137.4h5.8v0.7h-5.8zM343.4 138.4h1.5v0.7h-1.5zM333.2 138.4h8.0v0.7h-8.0zM340.2 140.4h4.7v0.7h-4.7zM328.9 141.4h3.1v0.7h-3.1zM326.9 141.4h9.0v0.7h-9.0zM328.8 142.4h2.5v0.7h-2.5zM331.7 143.4h17.5v0.7h-17.5zM320.2 144.4h4.8v0.7h-4.8zM340.7 144.4h1.0v0.7h-1.0zM329.1 145.4h2.8v0.7h-2.8zM344.9 147.4h7.3v0.7h-7.3zM329.1 149.4h9.4v0.7h-9.4zM345.4 149.4h6.8v0.7h-6.8zM335.0 151.4h1.4v0.7h-1.4zM333.5 152.4h1.5v0.7h-1.5zM330.0 153.4h3.1v0.7h-3.1zM347.3 155.4h3.5v0.7h-3.5zM328.0 155.4h6.2v0.7h-6.2zM344.3 156.4h6.4v0.7h-6.4zM327.3 157.4h2.3v0.7h-2.3zM338.3 158.4h11.1v0.7h-11.1zM330.4 162.4h0.7v0.7h-0.7zM341.4 162.4h0.9v0.7h-0.9zM332.5 162.4h4.5v0.7h-4.5zM329.0 162.4h2.1v0.7h-2.1zM337.8 164.4h3.0v0.7h-3.0zM326.4 166.4h6.8v0.7h-6.8zM322.3 166.4h4.5v0.7h-4.5zM322.5 167.4h8.0v0.7h-8.0zM351.2 167.4h1.0v0.7h-1.0zM333.5 171.4h6.7v0.7h-6.7zM320.5 172.4h5.8v0.7h-5.8zM320.2 172.4h6.7v0.7h-6.7zM339.9 172.4h2.7v0.7h-2.7zM343.4 173.4h6.8v0.7h-6.8zM334.1 177.4h1.0v0.7h-1.0zM346.2 178.4h2.1v0.7h-2.1zM320.2 179.4h3.1v0.7h-3.1zM348.6 180.4h0.5v0.7h-0.5zM322.2 180.4h1.7v0.7h-1.7zM342.8 180.4h3.7v0.7h-3.7zM325.7 181.4h2.6v0.7h-2.6zM332.4 182.4h7.3v0.7h-7.3zM333.5 183.4h2.0v0.7h-2.0zM342.7 184.4h0.8v0.7h-0.8zM328.0 185.4h12.1v0.7h-12.1zM345.6 186.4h3.4v0.7h-3.4zM326.6 187.4h1.7v0.7h-1.7zM329.7 187.4h4.7v0.7h-4.7zM321.1 189.4h5.9v0.7h-5.9zM334.2 190.4h4.4v0.7h-4.4zM330.0 191.4h2.2v0.7h-2.2zM320.2 193.4h4.8v0.7h-4.8zM334.3 196.4h0.8v0.7h-0.8zM326.7 198.4h8.3v0.7h-8.3zM331.2 199.4h4.9v0.7h-4.9zM344.3 199.4h2.1v0.7h-2.1zM331.8 200.4h2.8v0.7h-2.8zM350.0 201.4h2.2v0.7h-2.2zM335.5 203.4h2.0v0.7h-2.0zM333.3 206.4h3.7v0.7h-3.7zM334.1 206.4h1.8v0.7h-1.8zM341.8 213.4h9.9v0.7h-9.9zM326.4 213.4h10.9v0.7h-10.9zM330.8 215.4h9.3v0.7h-9.3zM344.2 216.4h8.0v0.7h-8.0zM349.0 216.4h0.7v0.7h-0.7zM320.2 217.4h2.1v0.7h-2.1zM327.6 219.4h2.6v0.7h-2.6zM330.1 219.4h1.6v0.7h-1.6zM325.0 221.4h4.9v0.7h-4.9zM328.3 221.4h0.9v0.7h-0.9zM333.2 221.4h15.1v0.7h-15.1zM344.5 224.4h1.0v0.7h-1.0z"/>
<path fill="#1a3f8e" fill-opacity="0.55" d="M330.2 117.4h1.7v0.7h-1.7zM339.4 118.4h2.0v0.7h-2.0zM327.1 119.4h4.7v0.7h-4.7zM331.4 122.4h7.7v0.7h-7.7zM330.0 124.4h8.4v0.7h-8.4zM325.1 126.4h8.9v0.7h-8.9zM337.9 137.4h5.7v0.7h-5.7zM328.9 147.4h9.8v0.7h-9.8zM341.8 148.4h5.7v0.7h-5.7zM336.6 152.4h4.8v0.7h-4.8zM342.0 159.4h1.6v0.7h-1.6zM330.2 164.4h2.5v0.7h-2.5zM332.4 168.4h2.8v0.7h-2.8zM320.2 169.4h11.5v0.7h-11.5zM332.6 171.4h4.1v0.7h-4.1zM333.5 173.4h13.8v0.7h-13.8zM333.1 175.4h5.2v0.7h-5.2zM328.0 189.4h3.0v0.7h-3.0zM334.7 191.4h3.2v0.7h-3.2zM335.1 192.4h2.4v0.7h-2.4zM322.1 194.4h6.8v0.7h-6.8zM334.7 197.4h7.7v0.7h-7.7zM346.1 204.4h2.0v0.7h-2.0zM341.8 206.4h3.2v0.7h-3.2zM336.7 208.4h1.4v0.7h-1.4zM332.2 209.4h2.1v0.7h-2.1zM323.6 215.4h0.9v0.7h-0.9zM328.1 218.4h1.7v0.7h-1.7zM336.3 222.4h1.2v0.7h-1.2zM335.4 225.4h1.4v0.2h-1.4z"/>
<path fill="#1a3f8e" fill-opacity="0.75" d="M331.2 109.4h2.2v0.7h-2.2zM337.3 116.4h2.1v0.7h-2.1zM331.8 127.4h6.3v0.7h-6.3zM324.5 138.4h9.2v0.7h-9.2zM326.5 156.4h6.3v0.7h-6.3zM333.1 161.4h3.2v0.7h-3.2zM320.2 163.4h1.6v0.7h-1.6zM332.2 186.4h8.0v0.7h-8.0zM326.5 188.4h8.9v0.7h-8.9zM336.1 214.4h6.6v0.7h-6.6z"/>
</g>
<rect x="320.20" y="109.40" width="32.00" height="116.20" fill="none" stroke="#a3a3a3" stroke-width="1"/>
<line x1="320.20" y1="225.60" x2="320.20" y2="227.20" stroke="#a3a3a3" stroke-width="0.7" />
<line x1="335.70" y1="225.60" x2="335.70" y2="227.20" stroke="#a3a3a3" stroke-width="0.7" />
<line x1="352.20" y1="225.60" x2="352.20" y2="227.20" stroke="#a3a3a3" stroke-width="0.7" />
<text x="227.60" y="233.47" font-size="5.464" text-anchor="middle" style="stroke-width:0.04px" textLength="43.73" lengthAdjust="spacingAndGlyphs">-10kb&#160;&#160;TSS&#160;&#160;&#160;10kb</text>
<text x="299.20" y="232.27" font-size="5.481" text-anchor="middle" style="stroke-width:0.04px" textLength="42.35" lengthAdjust="spacingAndGlyphs">-10kb&#160;&#160;TSS&#160;&#160;10kb</text>
<defs><linearGradient id="gBlu"><stop offset="0" stop-color="#fff"/><stop offset="0.5" stop-color="#7e9fcf"/><stop offset="1" stop-color="#0c2a6a"/></linearGradient></defs>
<rect x="211.20" y="237.70" width="32.30" height="3.20" fill="url(#gBlu)" stroke="#8a8a8a" stroke-width="0.5" />
<text x="212.50" y="247.05" font-size="6.804" text-anchor="middle" style="stroke-width:0.08px" textLength="3.78" lengthAdjust="spacingAndGlyphs">0</text>
<text x="224.22" y="246.93" font-size="6.471" text-anchor="middle" style="stroke-width:0.07px" textLength="3.60" lengthAdjust="spacingAndGlyphs">4</text>
<text x="236.90" y="247.10" font-size="6.947" text-anchor="middle" style="stroke-width:0.09px" textLength="3.86" lengthAdjust="spacingAndGlyphs">8</text>
<rect x="246.50" y="237.70" width="32.70" height="3.20" fill="url(#gBlu)" stroke="#8a8a8a" stroke-width="0.5" />
<text x="247.60" y="247.05" font-size="6.804" text-anchor="middle" style="stroke-width:0.08px" textLength="3.78" lengthAdjust="spacingAndGlyphs">0</text>
<text x="259.29" y="247.18" font-size="7.174" text-anchor="middle" style="stroke-width:0.10px" textLength="3.99" lengthAdjust="spacingAndGlyphs">2</text>
<text x="272.12" y="246.93" font-size="6.471" text-anchor="middle" style="stroke-width:0.07px" textLength="3.60" lengthAdjust="spacingAndGlyphs">4</text>
<rect x="285.20" y="237.00" width="31.80" height="3.20" fill="url(#gBlu)" stroke="#8a8a8a" stroke-width="0.5" />
<text x="286.50" y="247.05" font-size="6.804" text-anchor="middle" style="stroke-width:0.08px" textLength="3.78" lengthAdjust="spacingAndGlyphs">0</text>
<text x="298.22" y="246.93" font-size="6.471" text-anchor="middle" style="stroke-width:0.07px" textLength="3.60" lengthAdjust="spacingAndGlyphs">4</text>
<text x="310.90" y="247.10" font-size="6.947" text-anchor="middle" style="stroke-width:0.09px" textLength="3.86" lengthAdjust="spacingAndGlyphs">8</text>
<rect x="320.20" y="237.00" width="32.00" height="3.20" fill="url(#gBlu)" stroke="#8a8a8a" stroke-width="0.5" />
<text x="321.30" y="247.05" font-size="6.804" text-anchor="middle" style="stroke-width:0.08px" textLength="3.78" lengthAdjust="spacingAndGlyphs">0</text>
<text x="332.99" y="247.18" font-size="7.174" text-anchor="middle" style="stroke-width:0.10px" textLength="3.99" lengthAdjust="spacingAndGlyphs">2</text>
<text x="345.82" y="246.93" font-size="6.471" text-anchor="middle" style="stroke-width:0.07px" textLength="3.60" lengthAdjust="spacingAndGlyphs">4</text>
<text x="367.70" y="16.79" font-size="10.6" font-weight="bold" fill="#000" style="stroke:#000;stroke-width:0.25px" textLength="9.3" lengthAdjust="spacingAndGlyphs">C</text>
<text x="433.44" y="30.71" font-size="8.354" text-anchor="middle" style="stroke-width:0.14px" textLength="83.13" lengthAdjust="spacingAndGlyphs">Genes with decreased</text>
<text x="433.29" y="40.47" font-size="8.251" text-anchor="middle" style="stroke-width:0.14px" textLength="95.24" lengthAdjust="spacingAndGlyphs">expression in F11KO cells</text>
<text x="433.34" y="50.72" font-size="8.393" text-anchor="middle" style="stroke-width:0.14px" textLength="37.32" lengthAdjust="spacingAndGlyphs">H3K4me3</text>
<line x1="392.20" y1="57.50" x2="392.20" y2="131.70" stroke="#6a6a6a" stroke-width="0.9" />
<line x1="391.70" y1="131.20" x2="471.60" y2="131.20" stroke="#6a6a6a" stroke-width="0.9" />
<line x1="389.70" y1="131.20" x2="392.20" y2="131.20" stroke="#231f20" stroke-width="0.9" />
<text x="388.24" y="133.58" font-size="6.598" text-anchor="end" style="stroke-width:0.07px" textLength="3.67" lengthAdjust="spacingAndGlyphs">0</text>
<line x1="389.70" y1="106.83" x2="392.20" y2="106.83" stroke="#231f20" stroke-width="0.9" />
<text x="388.23" y="109.08" font-size="6.244" text-anchor="end" style="stroke-width:0.06px" textLength="6.95" lengthAdjust="spacingAndGlyphs">20</text>
<line x1="389.70" y1="82.47" x2="392.20" y2="82.47" stroke="#231f20" stroke-width="0.9" />
<text x="388.23" y="84.65" font-size="6.066" text-anchor="end" style="stroke-width:0.05px" textLength="6.75" lengthAdjust="spacingAndGlyphs">40</text>
<line x1="389.70" y1="58.10" x2="392.20" y2="58.10" stroke="#231f20" stroke-width="0.9" />
<text x="388.23" y="60.35" font-size="6.244" text-anchor="end" style="stroke-width:0.06px" textLength="6.95" lengthAdjust="spacingAndGlyphs">60</text>
<line x1="392.20" y1="131.20" x2="392.20" y2="133.70" stroke="#231f20" stroke-width="0.9" />
<text x="392.20" y="142.91" font-size="5.868" text-anchor="middle" style="stroke-width:0.04px" textLength="14.68" lengthAdjust="spacingAndGlyphs">-10kb</text>
<line x1="412.30" y1="131.20" x2="412.30" y2="133.70" stroke="#231f20" stroke-width="0.9" />
<text x="412.30" y="142.92" font-size="5.898" text-anchor="middle" style="stroke-width:0.04px" textLength="11.47" lengthAdjust="spacingAndGlyphs">-5kb</text>
<line x1="432.00" y1="131.20" x2="432.00" y2="133.70" stroke="#231f20" stroke-width="0.9" />
<text x="432.05" y="142.52" font-size="4.775" text-anchor="middle" style="stroke-width:0.04px" textLength="9.29" lengthAdjust="spacingAndGlyphs">TSS</text>
<line x1="451.50" y1="131.20" x2="451.50" y2="133.70" stroke="#231f20" stroke-width="0.9" />
<text x="451.51" y="142.92" font-size="5.882" text-anchor="middle" style="stroke-width:0.04px" textLength="9.48" lengthAdjust="spacingAndGlyphs">5kb</text>
<line x1="470.70" y1="131.20" x2="470.70" y2="133.70" stroke="#231f20" stroke-width="0.9" />
<text x="470.61" y="142.91" font-size="5.854" text-anchor="middle" style="stroke-width:0.04px" textLength="12.69" lengthAdjust="spacingAndGlyphs">10kb</text>
<g transform="translate(372.60 92.90) rotate(-90)">
<text x="0.00" y="2.70" font-size="7.5" text-anchor="middle" style="stroke-width:0.11px" textLength="71.90" lengthAdjust="spacingAndGlyphs">Normalized count of reads</text>
</g>
<line x1="405.40" y1="61.50" x2="412.30" y2="61.50" stroke="#d6268f" stroke-width="1.3" />
<text x="415.80" y="63.28" font-size="4.951" style="stroke-width:0.04px" textLength="7.70" lengthAdjust="spacingAndGlyphs">WT</text>
<line x1="405.40" y1="71.20" x2="412.30" y2="71.20" stroke="#f0a23a" stroke-width="1.3" />
<text x="415.34" y="73.26" font-size="5.734" style="stroke-width:0.04px" textLength="17.74" lengthAdjust="spacingAndGlyphs">F11KO</text>
<path d="M392.20 129.57 L392.40 129.57 L392.60 129.57 L392.80 129.56 L392.99 129.56 L393.19 129.56 L393.39 129.56 L393.59 129.56 L393.79 129.56 L393.99 129.56 L394.19 129.56 L394.38 129.56 L394.58 129.56 L394.78 129.56 L394.98 129.56 L395.18 129.56 L395.38 129.56 L395.57 129.56 L395.77 129.56 L395.97 129.56 L396.17 129.56 L396.37 129.56 L396.57 129.56 L396.77 129.56 L396.96 129.56 L397.16 129.56 L397.36 129.56 L397.56 129.56 L397.76 129.56 L397.96 129.56 L398.15 129.56 L398.35 129.56 L398.55 129.56 L398.75 129.56 L398.95 129.56 L399.15 129.56 L399.35 129.56 L399.54 129.56 L399.74 129.56 L399.94 129.56 L400.14 129.56 L400.34 129.55 L400.54 129.55 L400.74 129.55 L400.93 129.55 L401.13 129.55 L401.33 129.55 L401.53 129.55 L401.73 129.55 L401.93 129.55 L402.12 129.55 L402.32 129.55 L402.52 129.55 L402.72 129.55 L402.92 129.55 L403.12 129.55 L403.32 129.55 L403.51 129.55 L403.71 129.54 L403.91 129.54 L404.11 129.54 L404.31 129.54 L404.51 129.54 L404.71 129.54 L404.90 129.54 L405.10 129.54 L405.30 129.54 L405.50 129.54 L405.70 129.53 L405.90 129.53 L406.09 129.53 L406.29 129.53 L406.49 129.53 L406.69 129.53 L406.89 129.53 L407.09 129.53 L407.29 129.52 L407.48 129.52 L407.68 129.52 L407.88 129.52 L408.08 129.52 L408.28 129.52 L408.48 129.51 L408.68 129.51 L408.87 129.51 L409.07 129.51 L409.27 129.51 L409.47 129.50 L409.67 129.50 L409.87 129.50 L410.06 129.50 L410.26 129.50 L410.46 129.49 L410.66 129.49 L410.86 129.49 L411.06 129.48 L411.26 129.48 L411.45 129.48 L411.65 129.48 L411.85 129.47 L412.05 129.47 L412.25 129.47 L412.45 129.46 L412.65 129.46 L412.84 129.46 L413.04 129.45 L413.24 129.45 L413.44 129.44 L413.64 129.44 L413.84 129.44 L414.03 129.43 L414.23 129.43 L414.43 129.42 L414.63 129.42 L414.83 129.41 L415.03 129.41 L415.23 129.40 L415.42 129.39 L415.62 129.39 L415.82 129.38 L416.02 129.38 L416.22 129.37 L416.42 129.36 L416.62 129.35 L416.81 129.35 L417.01 129.34 L417.21 129.33 L417.41 129.32 L417.61 129.31 L417.81 129.31 L418.00 129.30 L418.20 129.29 L418.40 129.28 L418.60 129.27 L418.80 129.26 L419.00 129.24 L419.20 129.23 L419.39 129.22 L419.59 129.21 L419.79 129.19 L419.99 129.18 L420.19 129.16 L420.39 129.15 L420.59 129.13 L420.78 129.11 L420.98 129.10 L421.18 129.08 L421.38 129.06 L421.58 129.04 L421.78 129.01 L421.98 128.99 L422.17 128.96 L422.37 128.94 L422.57 128.91 L422.77 128.88 L422.97 128.84 L423.17 128.81 L423.36 128.77 L423.56 128.73 L423.76 128.68 L423.96 128.64 L424.16 128.58 L424.36 128.53 L424.56 128.46 L424.75 128.40 L424.95 128.32 L425.15 128.24 L425.35 128.15 L425.55 128.06 L425.75 127.95 L425.94 127.83 L426.14 127.70 L426.34 127.56 L426.54 127.40 L426.74 127.22 L426.94 127.02 L427.14 126.80 L427.33 126.56 L427.53 126.28 L427.73 125.98 L427.93 125.64 L428.13 125.26 L428.33 124.83 L428.53 124.35 L428.72 123.81 L428.92 123.21 L429.12 122.53 L429.32 121.77 L429.52 120.91 L429.72 119.95 L429.92 118.86 L430.11 117.64 L430.31 116.26 L430.51 114.71 L430.71 112.96 L430.91 110.99 L431.11 108.76 L431.30 106.24 L431.50 103.40 L431.70 100.20 L431.90 96.57 L432.10 92.48 L432.30 87.86 L432.50 82.64 L432.69 82.34 L432.89 87.60 L433.09 92.25 L433.29 96.37 L433.49 100.01 L433.69 103.24 L433.88 106.10 L434.08 108.63 L434.28 110.87 L434.48 112.86 L434.68 114.62 L434.88 116.19 L435.08 117.57 L435.27 118.80 L435.47 119.89 L435.67 120.86 L435.87 121.73 L436.07 122.49 L436.27 123.17 L436.47 123.78 L436.66 124.32 L436.86 124.80 L437.06 125.23 L437.26 125.62 L437.46 125.96 L437.66 126.27 L437.86 126.54 L438.05 126.79 L438.25 127.01 L438.45 127.21 L438.65 127.39 L438.85 127.55 L439.05 127.69 L439.24 127.83 L439.44 127.94 L439.64 128.05 L439.84 128.15 L440.04 128.24 L440.24 128.32 L440.44 128.39 L440.63 128.46 L440.83 128.52 L441.03 128.58 L441.23 128.63 L441.43 128.68 L441.63 128.73 L441.82 128.77 L442.02 128.81 L442.22 128.84 L442.42 128.87 L442.62 128.91 L442.82 128.94 L443.02 128.96 L443.21 128.99 L443.41 129.01 L443.61 129.03 L443.81 129.06 L444.01 129.08 L444.21 129.10 L444.41 129.11 L444.60 129.13 L444.80 129.15 L445.00 129.16 L445.20 129.18 L445.40 129.19 L445.60 129.21 L445.80 129.22 L445.99 129.23 L446.19 129.24 L446.39 129.25 L446.59 129.27 L446.79 129.28 L446.99 129.29 L447.18 129.30 L447.38 129.31 L447.58 129.31 L447.78 129.32 L447.98 129.33 L448.18 129.34 L448.38 129.35 L448.57 129.35 L448.77 129.36 L448.97 129.37 L449.17 129.38 L449.37 129.38 L449.57 129.39 L449.76 129.39 L449.96 129.40 L450.16 129.41 L450.36 129.41 L450.56 129.42 L450.76 129.42 L450.96 129.43 L451.15 129.43 L451.35 129.43 L451.55 129.44 L451.75 129.44 L451.95 129.45 L452.15 129.45 L452.35 129.46 L452.54 129.46 L452.74 129.46 L452.94 129.47 L453.14 129.47 L453.34 129.47 L453.54 129.48 L453.74 129.48 L453.93 129.48 L454.13 129.48 L454.33 129.49 L454.53 129.49 L454.73 129.49 L454.93 129.50 L455.12 129.50 L455.32 129.50 L455.52 129.50 L455.72 129.50 L455.92 129.51 L456.12 129.51 L456.32 129.51 L456.51 129.51 L456.71 129.51 L456.91 129.52 L457.11 129.52 L457.31 129.52 L457.51 129.52 L457.71 129.52 L457.90 129.52 L458.10 129.53 L458.30 129.53 L458.50 129.53 L458.70 129.53 L458.90 129.53 L459.09 129.53 L459.29 129.53 L459.49 129.53 L459.69 129.54 L459.89 129.54 L460.09 129.54 L460.29 129.54 L460.48 129.54 L460.68 129.54 L460.88 129.54 L461.08 129.54 L461.28 129.54 L461.48 129.54 L461.68 129.55 L461.87 129.55 L462.07 129.55 L462.27 129.55 L462.47 129.55 L462.67 129.55 L462.87 129.55 L463.06 129.55 L463.26 129.55 L463.46 129.55 L463.66 129.55 L463.86 129.55 L464.06 129.55 L464.26 129.55 L464.45 129.55 L464.65 129.55 L464.85 129.55 L465.05 129.56 L465.25 129.56 L465.45 129.56 L465.64 129.56 L465.84 129.56 L466.04 129.56 L466.24 129.56 L466.44 129.56 L466.64 129.56 L466.84 129.56 L467.03 129.56 L467.23 129.56 L467.43 129.56 L467.63 129.56 L467.83 129.56 L468.03 129.56 L468.23 129.56 L468.42 129.56 L468.62 129.56 L468.82 129.56 L469.02 129.56 L469.22 129.56 L469.42 129.56 L469.62 129.56 L469.81 129.56 L470.01 129.56 L470.21 129.56 L470.41 129.56 L470.61 129.56 L470.81 129.56 L471.00 129.56 L471.20 129.56 L471.40 129.56 L471.60 129.56" fill="none" stroke="#d6268f" stroke-width="1.3"/>
<path d="M392.20 130.33 L392.40 130.33 L392.60 130.33 L392.80 130.33 L392.99 130.33 L393.19 130.33 L393.39 130.33 L393.59 130.33 L393.79 130.33 L393.99 130.33 L394.19 130.33 L394.38 130.33 L394.58 130.33 L394.78 130.33 L394.98 130.33 L395.18 130.33 L395.38 130.33 L395.57 130.33 L395.77 130.33 L395.97 130.33 L396.17 130.33 L396.37 130.33 L396.57 130.33 L396.77 130.33 L396.96 130.33 L397.16 130.33 L397.36 130.33 L397.56 130.33 L397.76 130.33 L397.96 130.33 L398.15 130.33 L398.35 130.33 L398.55 130.33 L398.75 130.33 L398.95 130.33 L399.15 130.33 L399.35 130.33 L399.54 130.33 L399.74 130.33 L399.94 130.33 L400.14 130.33 L400.34 130.33 L400.54 130.33 L400.74 130.33 L400.93 130.33 L401.13 130.33 L401.33 130.33 L401.53 130.33 L401.73 130.33 L401.93 130.33 L402.12 130.33 L402.32 130.33 L402.52 130.33 L402.72 130.33 L402.92 130.33 L403.12 130.33 L403.32 130.33 L403.51 130.32 L403.71 130.32 L403.91 130.32 L404.11 130.32 L404.31 130.32 L404.51 130.32 L404.71 130.32 L404.90 130.32 L405.10 130.32 L405.30 130.32 L405.50 130.32 L405.70 130.32 L405.90 130.32 L406.09 130.32 L406.29 130.32 L406.49 130.32 L406.69 130.32 L406.89 130.32 L407.09 130.32 L407.29 130.32 L407.48 130.32 L407.68 130.32 L407.88 130.31 L408.08 130.31 L408.28 130.31 L408.48 130.31 L408.68 130.31 L408.87 130.31 L409.07 130.31 L409.27 130.31 L409.47 130.31 L409.67 130.31 L409.87 130.31 L410.06 130.31 L410.26 130.31 L410.46 130.30 L410.66 130.30 L410.86 130.30 L411.06 130.30 L411.26 130.30 L411.45 130.30 L411.65 130.30 L411.85 130.30 L412.05 130.29 L412.25 130.29 L412.45 130.29 L412.65 130.29 L412.84 130.29 L413.04 130.29 L413.24 130.29 L413.44 130.28 L413.64 130.28 L413.84 130.28 L414.03 130.28 L414.23 130.28 L414.43 130.28 L414.63 130.27 L414.83 130.27 L415.03 130.27 L415.23 130.27 L415.42 130.26 L415.62 130.26 L415.82 130.26 L416.02 130.26 L416.22 130.25 L416.42 130.25 L416.62 130.25 L416.81 130.25 L417.01 130.24 L417.21 130.24 L417.41 130.24 L417.61 130.23 L417.81 130.23 L418.00 130.23 L418.20 130.22 L418.40 130.22 L418.60 130.22 L418.80 130.21 L419.00 130.21 L419.20 130.20 L419.39 130.20 L419.59 130.19 L419.79 130.19 L419.99 130.18 L420.19 130.18 L420.39 130.17 L420.59 130.17 L420.78 130.16 L420.98 130.15 L421.18 130.15 L421.38 130.14 L421.58 130.13 L421.78 130.13 L421.98 130.12 L422.17 130.11 L422.37 130.10 L422.57 130.09 L422.77 130.08 L422.97 130.07 L423.17 130.06 L423.36 130.05 L423.56 130.04 L423.76 130.03 L423.96 130.01 L424.16 130.00 L424.36 129.98 L424.56 129.97 L424.75 129.95 L424.95 129.93 L425.15 129.91 L425.35 129.89 L425.55 129.86 L425.75 129.83 L425.94 129.81 L426.14 129.77 L426.34 129.74 L426.54 129.70 L426.74 129.66 L426.94 129.61 L427.14 129.56 L427.33 129.51 L427.53 129.45 L427.73 129.38 L427.93 129.30 L428.13 129.21 L428.33 129.12 L428.53 129.01 L428.72 128.89 L428.92 128.75 L429.12 128.60 L429.32 128.43 L429.52 128.23 L429.72 128.01 L429.92 127.77 L430.11 127.49 L430.31 127.17 L430.51 126.81 L430.71 126.41 L430.91 125.95 L431.11 125.42 L431.30 124.83 L431.50 124.16 L431.70 123.40 L431.90 122.53 L432.10 121.54 L432.30 120.42 L432.50 119.14 L432.69 119.07 L432.89 120.35 L433.09 121.48 L433.29 122.48 L433.49 123.35 L433.69 124.12 L433.88 124.80 L434.08 125.40 L434.28 125.92 L434.48 126.38 L434.68 126.79 L434.88 127.15 L435.08 127.47 L435.27 127.75 L435.47 128.00 L435.67 128.22 L435.87 128.42 L436.07 128.59 L436.27 128.74 L436.47 128.88 L436.66 129.00 L436.86 129.11 L437.06 129.21 L437.26 129.29 L437.46 129.37 L437.66 129.44 L437.86 129.50 L438.05 129.56 L438.25 129.61 L438.45 129.66 L438.65 129.70 L438.85 129.74 L439.05 129.77 L439.24 129.80 L439.44 129.83 L439.64 129.86 L439.84 129.88 L440.04 129.91 L440.24 129.93 L440.44 129.95 L440.63 129.96 L440.83 129.98 L441.03 130.00 L441.23 130.01 L441.43 130.02 L441.63 130.04 L441.82 130.05 L442.02 130.06 L442.22 130.07 L442.42 130.08 L442.62 130.09 L442.82 130.10 L443.02 130.11 L443.21 130.12 L443.41 130.13 L443.61 130.13 L443.81 130.14 L444.01 130.15 L444.21 130.15 L444.41 130.16 L444.60 130.17 L444.80 130.17 L445.00 130.18 L445.20 130.18 L445.40 130.19 L445.60 130.19 L445.80 130.20 L445.99 130.20 L446.19 130.21 L446.39 130.21 L446.59 130.22 L446.79 130.22 L446.99 130.22 L447.18 130.23 L447.38 130.23 L447.58 130.23 L447.78 130.24 L447.98 130.24 L448.18 130.24 L448.38 130.25 L448.57 130.25 L448.77 130.25 L448.97 130.25 L449.17 130.26 L449.37 130.26 L449.57 130.26 L449.76 130.26 L449.96 130.27 L450.16 130.27 L450.36 130.27 L450.56 130.27 L450.76 130.28 L450.96 130.28 L451.15 130.28 L451.35 130.28 L451.55 130.28 L451.75 130.28 L451.95 130.29 L452.15 130.29 L452.35 130.29 L452.54 130.29 L452.74 130.29 L452.94 130.29 L453.14 130.29 L453.34 130.30 L453.54 130.30 L453.74 130.30 L453.93 130.30 L454.13 130.30 L454.33 130.30 L454.53 130.30 L454.73 130.30 L454.93 130.31 L455.12 130.31 L455.32 130.31 L455.52 130.31 L455.72 130.31 L455.92 130.31 L456.12 130.31 L456.32 130.31 L456.51 130.31 L456.71 130.31 L456.91 130.31 L457.11 130.31 L457.31 130.31 L457.51 130.32 L457.71 130.32 L457.90 130.32 L458.10 130.32 L458.30 130.32 L458.50 130.32 L458.70 130.32 L458.90 130.32 L459.09 130.32 L459.29 130.32 L459.49 130.32 L459.69 130.32 L459.89 130.32 L460.09 130.32 L460.29 130.32 L460.48 130.32 L460.68 130.32 L460.88 130.32 L461.08 130.32 L461.28 130.32 L461.48 130.32 L461.68 130.32 L461.87 130.33 L462.07 130.33 L462.27 130.33 L462.47 130.33 L462.67 130.33 L462.87 130.33 L463.06 130.33 L463.26 130.33 L463.46 130.33 L463.66 130.33 L463.86 130.33 L464.06 130.33 L464.26 130.33 L464.45 130.33 L464.65 130.33 L464.85 130.33 L465.05 130.33 L465.25 130.33 L465.45 130.33 L465.64 130.33 L465.84 130.33 L466.04 130.33 L466.24 130.33 L466.44 130.33 L466.64 130.33 L466.84 130.33 L467.03 130.33 L467.23 130.33 L467.43 130.33 L467.63 130.33 L467.83 130.33 L468.03 130.33 L468.23 130.33 L468.42 130.33 L468.62 130.33 L468.82 130.33 L469.02 130.33 L469.22 130.33 L469.42 130.33 L469.62 130.33 L469.81 130.33 L470.01 130.33 L470.21 130.33 L470.41 130.33 L470.61 130.33 L470.81 130.33 L471.00 130.33 L471.20 130.33 L471.40 130.33 L471.60 130.33" fill="none" stroke="#f0a23a" stroke-width="1.2"/>
<text x="430.04" y="160.05" font-size="8.463" text-anchor="middle" style="stroke-width:0.14px" textLength="42.34" lengthAdjust="spacingAndGlyphs">H3K27me3</text>
<line x1="389.20" y1="166.50" x2="389.20" y2="241.70" stroke="#6a6a6a" stroke-width="0.9" />
<line x1="388.70" y1="241.20" x2="468.40" y2="241.20" stroke="#6a6a6a" stroke-width="0.9" />
<line x1="386.70" y1="241.20" x2="389.20" y2="241.20" stroke="#231f20" stroke-width="0.9" />
<text x="385.24" y="243.58" font-size="6.598" text-anchor="end" style="stroke-width:0.07px" textLength="3.67" lengthAdjust="spacingAndGlyphs">0</text>
<line x1="386.70" y1="226.56" x2="389.20" y2="226.56" stroke="#231f20" stroke-width="0.9" />
<text x="385.34" y="229.21" font-size="7.356" text-anchor="end" style="stroke-width:0.11px" textLength="4.09" lengthAdjust="spacingAndGlyphs">1</text>
<line x1="386.70" y1="211.92" x2="389.20" y2="211.92" stroke="#231f20" stroke-width="0.9" />
<text x="385.32" y="214.42" font-size="6.957" text-anchor="end" style="stroke-width:0.09px" textLength="3.87" lengthAdjust="spacingAndGlyphs">2</text>
<line x1="386.70" y1="197.28" x2="389.20" y2="197.28" stroke="#231f20" stroke-width="0.9" />
<text x="385.27" y="199.68" font-size="6.667" text-anchor="end" style="stroke-width:0.08px" textLength="3.71" lengthAdjust="spacingAndGlyphs">3</text>
<line x1="386.70" y1="182.64" x2="389.20" y2="182.64" stroke="#231f20" stroke-width="0.9" />
<text x="385.16" y="184.90" font-size="6.275" text-anchor="end" style="stroke-width:0.06px" textLength="3.49" lengthAdjust="spacingAndGlyphs">4</text>
<line x1="386.70" y1="168.00" x2="389.20" y2="168.00" stroke="#231f20" stroke-width="0.9" />
<text x="385.28" y="170.43" font-size="6.737" text-anchor="end" style="stroke-width:0.08px" textLength="3.75" lengthAdjust="spacingAndGlyphs">5</text>
<line x1="389.20" y1="241.20" x2="389.20" y2="243.70" stroke="#231f20" stroke-width="0.9" />
<text x="389.20" y="252.81" font-size="5.868" text-anchor="middle" style="stroke-width:0.04px" textLength="14.68" lengthAdjust="spacingAndGlyphs">-10kb</text>
<line x1="408.80" y1="241.20" x2="408.80" y2="243.70" stroke="#231f20" stroke-width="0.9" />
<text x="408.80" y="252.82" font-size="5.898" text-anchor="middle" style="stroke-width:0.04px" textLength="11.47" lengthAdjust="spacingAndGlyphs">-5kb</text>
<line x1="429.00" y1="241.20" x2="429.00" y2="243.70" stroke="#231f20" stroke-width="0.9" />
<text x="429.05" y="252.42" font-size="4.775" text-anchor="middle" style="stroke-width:0.04px" textLength="9.29" lengthAdjust="spacingAndGlyphs">TSS</text>
<line x1="448.50" y1="241.20" x2="448.50" y2="243.70" stroke="#231f20" stroke-width="0.9" />
<text x="448.51" y="252.82" font-size="5.882" text-anchor="middle" style="stroke-width:0.04px" textLength="9.48" lengthAdjust="spacingAndGlyphs">5kb</text>
<line x1="468.40" y1="241.20" x2="468.40" y2="243.70" stroke="#231f20" stroke-width="0.9" />
<text x="468.31" y="252.81" font-size="5.854" text-anchor="middle" style="stroke-width:0.04px" textLength="12.69" lengthAdjust="spacingAndGlyphs">10kb</text>
<g transform="translate(372.60 203.70) rotate(-90)">
<text x="0.00" y="2.70" font-size="7.5" text-anchor="middle" style="stroke-width:0.11px" textLength="69.50" lengthAdjust="spacingAndGlyphs">Normalized count of reads</text>
</g>
<line x1="402.00" y1="172.00" x2="408.80" y2="172.00" stroke="#d4d82a" stroke-width="1.3" />
<text x="412.30" y="173.78" font-size="4.951" style="stroke-width:0.04px" textLength="7.70" lengthAdjust="spacingAndGlyphs">WT</text>
<line x1="402.00" y1="181.20" x2="408.80" y2="181.20" stroke="#7b44a8" stroke-width="1.3" />
<text x="411.84" y="183.26" font-size="5.734" style="stroke-width:0.04px" textLength="17.74" lengthAdjust="spacingAndGlyphs">F11KO</text>
<path d="M389.20 226.44 L389.53 227.05 L389.86 227.49 L390.19 226.52 L390.52 228.07 L390.85 227.87 L391.18 227.05 L391.51 226.95 L391.84 227.76 L392.17 226.89 L392.50 226.41 L392.83 227.30 L393.16 227.18 L393.49 227.53 L393.82 227.40 L394.15 226.18 L394.48 227.21 L394.81 226.17 L395.14 226.23 L395.47 226.77 L395.80 227.35 L396.13 226.06 L396.46 226.89 L396.79 227.02 L397.12 227.17 L397.45 225.98 L397.78 226.83 L398.11 227.17 L398.44 226.81 L398.77 227.42 L399.10 226.52 L399.43 226.81 L399.76 227.05 L400.09 226.18 L400.42 226.07 L400.75 227.48 L401.08 226.55 L401.41 226.98 L401.74 225.79 L402.07 226.04 L402.40 226.96 L402.73 226.89 L403.06 227.07 L403.39 225.58 L403.72 226.77 L404.05 226.19 L404.38 226.40 L404.71 226.07 L405.04 226.12 L405.37 225.84 L405.70 226.91 L406.03 225.75 L406.36 226.53 L406.69 226.09 L407.02 226.40 L407.35 226.44 L407.68 225.99 L408.01 226.07 L408.34 226.21 L408.67 225.50 L409.00 225.73 L409.33 226.67 L409.66 226.25 L409.99 225.85 L410.32 224.99 L410.65 224.99 L410.98 225.55 L411.31 226.43 L411.64 225.04 L411.97 225.60 L412.30 225.29 L412.63 225.00 L412.96 225.07 L413.29 225.28 L413.62 224.46 L413.95 225.32 L414.28 225.24 L414.61 224.36 L414.94 225.44 L415.27 225.19 L415.60 224.17 L415.93 225.43 L416.26 223.99 L416.59 224.15 L416.92 224.52 L417.25 224.68 L417.58 223.71 L417.91 223.38 L418.24 224.62 L418.57 223.92 L418.90 223.68 L419.23 223.65 L419.56 223.81 L419.89 223.99 L420.22 223.09 L420.55 222.55 L420.88 223.70 L421.21 223.26 L421.54 222.06 L421.87 221.94 L422.20 221.98 L422.53 222.91 L422.86 221.49 L423.19 220.84 L423.52 220.59 L423.85 220.89 L424.18 221.80 L424.51 220.16 L424.84 221.00 L425.17 219.98 L425.50 219.16 L425.83 219.29 L426.16 220.00 L426.49 219.40 L426.82 217.97 L427.15 218.97 L427.48 217.79 L427.81 217.75 L428.14 217.79 L428.47 216.56 L428.80 217.14 L429.13 216.56 L429.46 215.61 L429.79 215.64 L430.12 215.54 L430.45 215.17 L430.78 215.39 L431.11 215.65 L431.44 217.43 L431.77 217.36 L432.10 218.01 L432.43 217.92 L432.76 218.52 L433.09 218.12 L433.42 219.48 L433.75 220.39 L434.08 219.60 L434.41 220.89 L434.74 220.36 L435.07 220.88 L435.40 220.46 L435.73 221.36 L436.06 221.51 L436.39 222.40 L436.72 222.14 L437.05 222.90 L437.38 222.25 L437.71 222.88 L438.04 223.77 L438.37 223.80 L438.70 223.75 L439.03 223.30 L439.36 224.46 L439.69 223.70 L440.02 223.98 L440.35 225.14 L440.68 224.28 L441.01 225.44 L441.34 225.53 L441.67 224.85 L442.00 225.62 L442.33 224.63 L442.66 225.46 L442.99 225.86 L443.32 225.15 L443.65 226.62 L443.98 225.52 L444.31 226.81 L444.64 226.75 L444.97 225.44 L445.30 226.02 L445.63 226.93 L445.96 227.22 L446.29 225.81 L446.62 226.44 L446.95 226.26 L447.28 227.54 L447.61 226.78 L447.94 227.34 L448.27 227.63 L448.60 227.54 L448.93 227.13 L449.26 227.67 L449.59 227.68 L449.92 228.19 L450.25 227.05 L450.58 227.44 L450.91 227.24 L451.24 227.96 L451.57 227.29 L451.90 227.95 L452.23 227.88 L452.56 227.98 L452.89 227.75 L453.22 228.42 L453.55 229.01 L453.88 229.18 L454.21 228.94 L454.54 229.29 L454.87 227.86 L455.20 228.63 L455.53 228.20 L455.86 229.59 L456.19 228.82 L456.52 228.14 L456.85 228.67 L457.18 229.06 L457.51 229.05 L457.84 229.75 L458.17 229.70 L458.50 229.75 L458.83 229.42 L459.16 229.46 L459.49 228.64 L459.82 229.97 L460.15 229.84 L460.48 229.85 L460.81 230.11 L461.14 229.94 L461.47 230.08 L461.80 229.69 L462.13 230.53 L462.46 229.01 L462.79 230.04 L463.12 229.09 L463.45 229.58 L463.78 229.65 L464.11 230.05 L464.44 229.27 L464.77 230.77 L465.10 229.85 L465.43 230.56 L465.76 229.93 L466.09 229.88 L466.42 230.93 L466.75 230.91 L467.08 231.26 L467.41 230.95 L467.74 231.26 L468.07 230.74 L468.40 229.78" fill="none" stroke="#d4d82a" stroke-width="1.4"/>
<path d="M389.20 224.79 L389.53 224.48 L389.86 224.32 L390.19 223.94 L390.52 224.39 L390.85 223.93 L391.18 225.99 L391.51 224.93 L391.84 223.78 L392.17 224.44 L392.50 223.82 L392.83 225.63 L393.16 224.77 L393.49 225.25 L393.82 224.53 L394.15 224.42 L394.48 225.70 L394.81 225.19 L395.14 225.01 L395.47 223.49 L395.80 223.81 L396.13 225.19 L396.46 223.66 L396.79 225.17 L397.12 224.01 L397.45 225.13 L397.78 225.38 L398.11 223.31 L398.44 224.83 L398.77 224.77 L399.10 222.94 L399.43 223.16 L399.76 224.49 L400.09 222.87 L400.42 223.82 L400.75 223.46 L401.08 224.52 L401.41 222.76 L401.74 223.30 L402.07 222.61 L402.40 222.74 L402.73 224.09 L403.06 223.89 L403.39 224.30 L403.72 224.30 L404.05 224.44 L404.38 223.84 L404.71 223.08 L405.04 224.43 L405.37 222.80 L405.70 223.54 L406.03 223.54 L406.36 222.29 L406.69 223.02 L407.02 223.35 L407.35 222.89 L407.68 222.30 L408.01 223.75 L408.34 221.52 L408.67 223.68 L409.00 221.90 L409.33 221.59 L409.66 223.45 L409.99 221.56 L410.32 222.45 L410.65 221.86 L410.98 223.09 L411.31 222.90 L411.64 222.48 L411.97 220.55 L412.30 222.21 L412.63 220.78 L412.96 220.24 L413.29 220.08 L413.62 221.33 L413.95 221.16 L414.28 220.60 L414.61 219.85 L414.94 221.24 L415.27 219.56 L415.60 219.26 L415.93 218.91 L416.26 220.62 L416.59 218.27 L416.92 220.04 L417.25 219.21 L417.58 218.31 L417.91 217.32 L418.24 218.38 L418.57 216.70 L418.90 217.27 L419.23 217.47 L419.56 217.10 L419.89 217.04 L420.22 216.87 L420.55 216.28 L420.88 214.56 L421.21 213.36 L421.54 214.81 L421.87 214.54 L422.20 211.78 L422.53 212.23 L422.86 211.88 L423.19 211.57 L423.52 209.94 L423.85 208.46 L424.18 208.18 L424.51 206.82 L424.84 205.89 L425.17 201.74 L425.50 201.45 L425.83 198.00 L426.16 195.10 L426.49 195.19 L426.82 192.83 L427.15 191.90 L427.48 192.51 L427.81 191.98 L428.14 193.17 L428.47 191.60 L428.80 191.07 L429.13 187.87 L429.46 187.31 L429.79 184.87 L430.12 183.05 L430.45 185.69 L430.78 187.57 L431.11 190.83 L431.44 192.67 L431.77 193.92 L432.10 196.22 L432.43 198.27 L432.76 199.53 L433.09 201.58 L433.42 202.40 L433.75 202.25 L434.08 203.53 L434.41 205.45 L434.74 206.83 L435.07 208.23 L435.40 209.78 L435.73 210.26 L436.06 209.93 L436.39 210.54 L436.72 212.50 L437.05 212.23 L437.38 212.94 L437.71 213.78 L438.04 214.47 L438.37 214.82 L438.70 216.30 L439.03 216.02 L439.36 217.51 L439.69 217.49 L440.02 217.27 L440.35 217.87 L440.68 219.19 L441.01 218.04 L441.34 219.09 L441.67 219.58 L442.00 221.23 L442.33 220.28 L442.66 221.26 L442.99 220.54 L443.32 221.29 L443.65 220.70 L443.98 221.33 L444.31 221.20 L444.64 222.46 L444.97 221.96 L445.30 221.93 L445.63 221.89 L445.96 223.18 L446.29 222.19 L446.62 222.28 L446.95 222.85 L447.28 222.31 L447.61 222.49 L447.94 223.64 L448.27 223.73 L448.60 224.69 L448.93 223.23 L449.26 223.09 L449.59 224.27 L449.92 223.86 L450.25 223.88 L450.58 223.94 L450.91 225.33 L451.24 223.98 L451.57 224.52 L451.90 224.39 L452.23 225.03 L452.56 224.62 L452.89 224.32 L453.22 224.71 L453.55 224.56 L453.88 226.24 L454.21 225.98 L454.54 225.37 L454.87 224.93 L455.20 225.98 L455.53 224.93 L455.86 225.10 L456.19 226.52 L456.52 225.55 L456.85 226.16 L457.18 226.60 L457.51 226.44 L457.84 226.05 L458.17 226.39 L458.50 226.40 L458.83 226.79 L459.16 225.81 L459.49 226.04 L459.82 225.52 L460.15 225.60 L460.48 226.44 L460.81 224.91 L461.14 227.04 L461.47 226.12 L461.80 226.43 L462.13 226.14 L462.46 226.85 L462.79 225.19 L463.12 226.28 L463.45 227.09 L463.78 225.75 L464.11 226.98 L464.44 225.94 L464.77 226.44 L465.10 225.89 L465.43 225.02 L465.76 225.36 L466.09 226.31 L466.42 225.40 L466.75 225.81 L467.08 226.46 L467.41 227.00 L467.74 225.95 L468.07 226.04 L468.40 225.12" fill="none" stroke="#7b44a8" stroke-width="1.1"/>
<text x="9.10" y="273.39" font-size="10.6" font-weight="bold" fill="#000" style="stroke:#000;stroke-width:0.25px" textLength="8.2" lengthAdjust="spacingAndGlyphs">D</text>
<text x="141.05" y="274.85" font-size="6.539" text-anchor="middle" style="stroke-width:0.07px" textLength="98.24" lengthAdjust="spacingAndGlyphs">Expression&#160;&#160;in F11KO vs WT cells</text>
<line x1="39.70" y1="279.50" x2="242.80" y2="279.50" stroke="#444" stroke-width="1.1" />
<text x="80.44" y="288.18" font-size="6.603" text-anchor="middle" style="stroke-width:0.07px" textLength="31.93" lengthAdjust="spacingAndGlyphs">Decreased</text>
<text x="201.61" y="288.21" font-size="6.698" text-anchor="middle" style="stroke-width:0.08px" textLength="29.42" lengthAdjust="spacingAndGlyphs">Increased</text>
<line x1="39.70" y1="292.70" x2="121.40" y2="292.70" stroke="#444" stroke-width="1.1" />
<line x1="161.00" y1="292.70" x2="242.80" y2="292.70" stroke="#444" stroke-width="1.1" />
<line x1="39.75" y1="296.40" x2="39.75" y2="353.80" stroke="#9a9a9a" stroke-width="0.6" />
<line x1="39.75" y1="353.80" x2="62.40" y2="353.80" stroke="#9a9a9a" stroke-width="0.6" />
<line x1="36.75" y1="307.70" x2="39.15" y2="307.70" stroke="#231f20" stroke-width="1.0" />
<text x="34.23" y="309.87" font-size="6.025" text-anchor="end" style="stroke-width:0.05px" textLength="15.08" lengthAdjust="spacingAndGlyphs">100.0</text>
<line x1="36.75" y1="321.50" x2="39.15" y2="321.50" stroke="#231f20" stroke-width="1.0" />
<text x="34.22" y="323.66" font-size="5.995" text-anchor="end" style="stroke-width:0.04px" textLength="11.67" lengthAdjust="spacingAndGlyphs">10.0</text>
<line x1="36.75" y1="335.40" x2="39.15" y2="335.40" stroke="#231f20" stroke-width="1.0" />
<text x="34.22" y="337.65" font-size="6.25" text-anchor="end" style="stroke-width:0.06px" textLength="8.69" lengthAdjust="spacingAndGlyphs">1.0</text>
<line x1="36.75" y1="349.10" x2="39.15" y2="349.10" stroke="#231f20" stroke-width="1.0" />
<text x="34.28" y="351.30" font-size="6.107" text-anchor="end" style="stroke-width:0.05px" textLength="8.49" lengthAdjust="spacingAndGlyphs">0.1</text>
<g transform="translate(12.30 325.20) rotate(-90)">
<text x="0.00" y="2.77" font-size="7.7" text-anchor="middle" style="stroke-width:0.12px" textLength="44.10" lengthAdjust="spacingAndGlyphs">H3K4me3 signal</text>
</g>
<path d="M46.10 306.50V303.50H56.20V306.50" fill="none" stroke="#555" stroke-width="0.45"/>
<text x="51.03" y="299.71" font-size="3.36" text-anchor="middle" style="stroke-width:0.04px" textLength="17.41" lengthAdjust="spacingAndGlyphs"><tspan font-style="italic">P</tspan> &lt; 2.2e-16</text>
<line x1="46.10" y1="304.50" x2="46.10" y2="351.00" stroke="#9a9a9a" stroke-width="0.8" />
<path d="M46.10 308.00 L46.56 308.50 L47.21 309.00 L47.96 309.50 L48.69 310.00 L49.30 310.50 L49.58 311.00 L49.86 311.50 L50.14 312.00 L50.40 312.50 L50.64 313.00 L50.84 313.50 L51.01 314.00 L51.13 314.50 L51.19 315.00 L51.19 315.50 L51.12 316.00 L50.99 316.50 L50.82 317.00 L50.61 317.50 L50.39 318.00 L50.15 318.50 L49.92 319.00 L49.70 319.50 L49.54 320.00 L49.36 320.50 L49.16 321.00 L48.95 321.50 L48.74 322.00 L48.53 322.50 L48.33 323.00 L48.14 323.50 L47.96 324.00 L47.81 324.50 L47.69 325.00 L47.60 325.50 L47.54 326.00 L47.53 326.50 L47.56 327.00 L47.62 327.50 L47.71 328.00 L47.80 328.50 L47.88 329.00 L47.96 329.50 L48.00 330.00 L48.04 330.50 L48.08 331.00 L48.11 331.50 L48.14 332.00 L48.15 332.50 L48.14 333.00 L48.10 333.50 L48.04 334.00 L47.95 334.50 L47.84 335.00 L47.72 335.50 L47.58 336.00 L47.44 336.50 L47.30 337.00 L47.07 337.50 L46.79 338.00 L46.51 338.50 L46.27 339.00 L46.10 339.50 L46.10 339.50 L45.93 339.00 L45.69 338.50 L45.41 338.00 L45.13 337.50 L44.90 337.00 L44.76 336.50 L44.62 336.00 L44.48 335.50 L44.36 335.00 L44.25 334.50 L44.16 334.00 L44.10 333.50 L44.06 333.00 L44.05 332.50 L44.06 332.00 L44.09 331.50 L44.12 331.00 L44.16 330.50 L44.20 330.00 L44.24 329.50 L44.32 329.00 L44.40 328.50 L44.49 328.00 L44.58 327.50 L44.64 327.00 L44.67 326.50 L44.66 326.00 L44.60 325.50 L44.51 325.00 L44.39 324.50 L44.24 324.00 L44.06 323.50 L43.87 323.00 L43.67 322.50 L43.46 322.00 L43.25 321.50 L43.04 321.00 L42.84 320.50 L42.66 320.00 L42.50 319.50 L42.28 319.00 L42.05 318.50 L41.81 318.00 L41.59 317.50 L41.38 317.00 L41.21 316.50 L41.08 316.00 L41.01 315.50 L41.01 315.00 L41.07 314.50 L41.19 314.00 L41.36 313.50 L41.56 313.00 L41.80 312.50 L42.06 312.00 L42.34 311.50 L42.62 311.00 L42.90 310.50 L43.51 310.00 L44.24 309.50 L44.99 309.00 L45.64 308.50 L46.10 308.00Z" fill="#c0137c" stroke="#231f20" stroke-width="0.45"/>
<rect x="45.50" y="314.60" width="1.20" height="10.40" fill="#e8e8e8" stroke="#9a9a9a" stroke-width="0.4"/>
<line x1="45.50" y1="320.00" x2="46.70" y2="320.00" stroke="#9a9a9a" stroke-width="0.5" />
<line x1="56.20" y1="306.00" x2="56.20" y2="348.50" stroke="#9a9a9a" stroke-width="0.8" />
<path d="M56.20 309.50 L56.39 310.00 L56.65 310.51 L56.96 311.01 L57.30 311.52 L57.64 312.02 L57.95 312.53 L58.21 313.03 L58.32 313.54 L58.44 314.04 L58.56 314.55 L58.68 315.05 L58.79 315.55 L58.91 316.06 L59.01 316.56 L59.11 317.07 L59.21 317.57 L59.29 318.08 L59.36 318.58 L59.42 319.09 L59.46 319.59 L59.49 320.10 L59.50 320.60 L59.48 321.10 L59.43 321.61 L59.35 322.11 L59.25 322.62 L59.14 323.12 L59.03 323.63 L58.92 324.13 L58.81 324.64 L58.71 325.14 L58.64 325.65 L58.59 326.15 L58.55 326.65 L58.52 327.16 L58.50 327.66 L58.49 328.17 L58.49 328.67 L58.49 329.18 L58.49 329.68 L58.50 330.19 L58.50 330.69 L58.50 331.20 L58.51 331.70 L58.53 332.20 L58.55 332.71 L58.57 333.21 L58.60 333.72 L58.62 334.22 L58.64 334.73 L58.65 335.23 L58.65 335.74 L58.64 336.24 L58.62 336.75 L58.56 337.25 L58.45 337.75 L58.30 338.26 L58.13 338.76 L57.95 339.27 L57.76 339.77 L57.58 340.28 L57.34 340.78 L57.02 341.29 L56.69 341.79 L56.40 342.30 L56.20 342.80 L56.20 342.80 L56.00 342.30 L55.71 341.79 L55.38 341.29 L55.06 340.78 L54.82 340.28 L54.64 339.77 L54.45 339.27 L54.27 338.76 L54.10 338.26 L53.95 337.75 L53.84 337.25 L53.78 336.75 L53.76 336.24 L53.75 335.74 L53.75 335.23 L53.76 334.73 L53.78 334.22 L53.80 333.72 L53.83 333.21 L53.85 332.71 L53.87 332.20 L53.89 331.70 L53.90 331.20 L53.90 330.69 L53.90 330.19 L53.91 329.68 L53.91 329.18 L53.91 328.67 L53.91 328.17 L53.90 327.66 L53.88 327.16 L53.85 326.65 L53.81 326.15 L53.76 325.65 L53.69 325.14 L53.59 324.64 L53.48 324.13 L53.37 323.63 L53.26 323.12 L53.15 322.62 L53.05 322.11 L52.97 321.61 L52.92 321.10 L52.90 320.60 L52.91 320.10 L52.94 319.59 L52.98 319.09 L53.04 318.58 L53.11 318.08 L53.19 317.57 L53.29 317.07 L53.39 316.56 L53.49 316.06 L53.61 315.55 L53.72 315.05 L53.84 314.55 L53.96 314.04 L54.08 313.54 L54.19 313.03 L54.45 312.53 L54.76 312.02 L55.10 311.52 L55.44 311.01 L55.75 310.51 L56.01 310.00 L56.20 309.50Z" fill="#c0137c" stroke="#231f20" stroke-width="0.45"/>
<rect x="55.60" y="319.00" width="1.20" height="13.00" fill="#e8e8e8" stroke="#9a9a9a" stroke-width="0.4"/>
<line x1="55.60" y1="326.00" x2="56.80" y2="326.00" stroke="#9a9a9a" stroke-width="0.5" />
<line x1="46.10" y1="353.80" x2="46.10" y2="356.40" stroke="#231f20" stroke-width="0.9" />
<g transform="translate(47.70 359.00) rotate(-45)"><text x="0" y="2.45" font-size="6.8" text-anchor="end" textLength="8.0" lengthAdjust="spacingAndGlyphs">WT</text></g>
<line x1="56.20" y1="353.80" x2="56.20" y2="356.40" stroke="#231f20" stroke-width="0.9" />
<g transform="translate(57.80 359.00) rotate(-45)"><text x="0" y="2.45" font-size="6.8" text-anchor="end" textLength="18.0" lengthAdjust="spacingAndGlyphs">F11KO</text></g>
<line x1="98.30" y1="296.40" x2="98.30" y2="353.80" stroke="#9a9a9a" stroke-width="0.6" />
<line x1="98.30" y1="353.80" x2="121.00" y2="353.80" stroke="#9a9a9a" stroke-width="0.6" />
<line x1="95.30" y1="309.10" x2="97.70" y2="309.10" stroke="#231f20" stroke-width="1.0" />
<text x="94.23" y="311.38" font-size="6.322" text-anchor="end" style="stroke-width:0.06px" textLength="12.30" lengthAdjust="spacingAndGlyphs">10.0</text>
<line x1="95.30" y1="330.40" x2="97.70" y2="330.40" stroke="#231f20" stroke-width="1.0" />
<text x="94.23" y="332.71" font-size="6.406" text-anchor="end" style="stroke-width:0.06px" textLength="8.91" lengthAdjust="spacingAndGlyphs">1.0</text>
<line x1="95.30" y1="351.70" x2="97.70" y2="351.70" stroke="#231f20" stroke-width="1.0" />
<text x="94.28" y="353.95" font-size="6.26" text-anchor="end" style="stroke-width:0.06px" textLength="8.70" lengthAdjust="spacingAndGlyphs">0.1</text>
<g transform="translate(73.50 325.10) rotate(-90)">
<text x="0.00" y="2.77" font-size="7.7" text-anchor="middle" style="stroke-width:0.12px" textLength="49.00" lengthAdjust="spacingAndGlyphs">H3K27me3 signal</text>
</g>
<path d="M104.70 305.50V302.50H115.40V305.50" fill="none" stroke="#555" stroke-width="0.45"/>
<text x="109.53" y="299.41" font-size="3.36" text-anchor="middle" style="stroke-width:0.04px" textLength="17.41" lengthAdjust="spacingAndGlyphs"><tspan font-style="italic">P</tspan> &lt; 2.2e-16</text>
<line x1="104.70" y1="305.00" x2="104.70" y2="352.00" stroke="#9a9a9a" stroke-width="0.8" />
<path d="M104.70 308.40 L104.84 308.90 L105.04 309.40 L105.28 309.90 L105.53 310.41 L105.79 310.91 L106.04 311.41 L106.26 311.91 L106.39 312.41 L106.51 312.91 L106.62 313.42 L106.72 313.92 L106.82 314.42 L106.92 314.92 L107.02 315.42 L107.12 315.92 L107.21 316.43 L107.30 316.93 L107.40 317.43 L107.49 317.93 L107.57 318.43 L107.65 318.93 L107.73 319.44 L107.81 319.94 L107.88 320.44 L107.96 320.94 L108.04 321.44 L108.11 321.94 L108.18 322.45 L108.25 322.95 L108.32 323.45 L108.38 323.95 L108.44 324.45 L108.49 324.95 L108.58 325.45 L108.67 325.96 L108.76 326.46 L108.85 326.96 L108.92 327.46 L108.98 327.96 L109.02 328.46 L109.04 328.97 L109.02 329.47 L108.96 329.97 L108.86 330.47 L108.71 330.97 L108.54 331.47 L108.34 331.98 L108.13 332.48 L107.92 332.98 L107.71 333.48 L107.51 333.98 L107.26 334.48 L106.99 334.99 L106.71 335.49 L106.44 335.99 L106.17 336.49 L105.92 336.99 L105.70 337.49 L105.37 338.00 L105.09 338.50 L104.86 339.00 L104.70 339.50 L104.70 339.50 L104.54 339.00 L104.31 338.50 L104.03 338.00 L103.70 337.49 L103.48 336.99 L103.23 336.49 L102.96 335.99 L102.69 335.49 L102.41 334.99 L102.14 334.48 L101.89 333.98 L101.69 333.48 L101.48 332.98 L101.27 332.48 L101.06 331.98 L100.86 331.47 L100.69 330.97 L100.54 330.47 L100.44 329.97 L100.38 329.47 L100.36 328.97 L100.38 328.46 L100.42 327.96 L100.48 327.46 L100.55 326.96 L100.64 326.46 L100.73 325.96 L100.82 325.45 L100.91 324.95 L100.96 324.45 L101.02 323.95 L101.08 323.45 L101.15 322.95 L101.22 322.45 L101.29 321.94 L101.36 321.44 L101.44 320.94 L101.52 320.44 L101.59 319.94 L101.67 319.44 L101.75 318.93 L101.83 318.43 L101.91 317.93 L102.00 317.43 L102.10 316.93 L102.19 316.43 L102.28 315.92 L102.38 315.42 L102.48 314.92 L102.58 314.42 L102.68 313.92 L102.78 313.42 L102.89 312.91 L103.01 312.41 L103.14 311.91 L103.36 311.41 L103.61 310.91 L103.87 310.41 L104.12 309.90 L104.36 309.40 L104.56 308.90 L104.70 308.40Z" fill="#dbd932" stroke="#231f20" stroke-width="0.45"/>
<rect x="104.10" y="319.50" width="1.20" height="13.50" fill="#e8e8e8" stroke="#9a9a9a" stroke-width="0.4"/>
<line x1="104.10" y1="326.00" x2="105.30" y2="326.00" stroke="#9a9a9a" stroke-width="0.5" />
<line x1="115.40" y1="302.50" x2="115.40" y2="352.00" stroke="#9a9a9a" stroke-width="0.8" />
<path d="M115.40 305.60 L115.70 306.11 L116.11 306.61 L116.60 307.12 L117.11 307.63 L117.59 308.13 L117.99 308.64 L118.31 309.15 L118.62 309.65 L118.92 310.16 L119.20 310.66 L119.45 311.17 L119.68 311.68 L119.88 312.18 L120.08 312.69 L120.25 313.20 L120.37 313.70 L120.43 314.21 L120.41 314.72 L120.35 315.22 L120.26 315.73 L120.14 316.24 L120.00 316.74 L119.84 317.25 L119.67 317.75 L119.50 318.26 L119.33 318.77 L119.18 319.27 L119.05 319.78 L118.95 320.29 L118.86 320.79 L118.79 321.30 L118.72 321.81 L118.65 322.31 L118.58 322.82 L118.52 323.33 L118.46 323.83 L118.40 324.34 L118.35 324.85 L118.28 325.35 L118.22 325.86 L118.15 326.36 L118.09 326.87 L118.02 327.38 L117.96 327.88 L117.89 328.39 L117.83 328.90 L117.76 329.40 L117.69 329.91 L117.63 330.42 L117.56 330.92 L117.48 331.43 L117.41 331.94 L117.28 332.44 L117.14 332.95 L117.00 333.45 L116.85 333.96 L116.70 334.47 L116.55 334.97 L116.41 335.48 L116.04 335.99 L115.66 336.49 L115.40 337.00 L115.40 337.00 L115.14 336.49 L114.76 335.99 L114.39 335.48 L114.25 334.97 L114.10 334.47 L113.95 333.96 L113.80 333.45 L113.66 332.95 L113.52 332.44 L113.39 331.94 L113.32 331.43 L113.24 330.92 L113.17 330.42 L113.11 329.91 L113.04 329.40 L112.97 328.90 L112.91 328.39 L112.84 327.88 L112.78 327.38 L112.71 326.87 L112.65 326.36 L112.58 325.86 L112.52 325.35 L112.45 324.85 L112.40 324.34 L112.34 323.83 L112.28 323.33 L112.22 322.82 L112.15 322.31 L112.08 321.81 L112.01 321.30 L111.94 320.79 L111.85 320.29 L111.75 319.78 L111.62 319.27 L111.47 318.77 L111.30 318.26 L111.13 317.75 L110.96 317.25 L110.80 316.74 L110.66 316.24 L110.54 315.73 L110.45 315.22 L110.39 314.72 L110.37 314.21 L110.43 313.70 L110.55 313.20 L110.72 312.69 L110.92 312.18 L111.12 311.68 L111.35 311.17 L111.60 310.66 L111.88 310.16 L112.18 309.65 L112.49 309.15 L112.81 308.64 L113.21 308.13 L113.69 307.63 L114.20 307.12 L114.69 306.61 L115.10 306.11 L115.40 305.60Z" fill="#dbd932" stroke="#231f20" stroke-width="0.45"/>
<rect x="114.80" y="314.00" width="1.20" height="15.00" fill="#e8e8e8" stroke="#9a9a9a" stroke-width="0.4"/>
<line x1="114.80" y1="321.00" x2="116.00" y2="321.00" stroke="#9a9a9a" stroke-width="0.5" />
<line x1="104.70" y1="353.80" x2="104.70" y2="356.40" stroke="#231f20" stroke-width="0.9" />
<g transform="translate(106.30 359.00) rotate(-45)"><text x="0" y="2.45" font-size="6.8" text-anchor="end" textLength="8.0" lengthAdjust="spacingAndGlyphs">WT</text></g>
<line x1="115.40" y1="353.80" x2="115.40" y2="356.40" stroke="#231f20" stroke-width="0.9" />
<g transform="translate(117.00 359.00) rotate(-45)"><text x="0" y="2.45" font-size="6.8" text-anchor="end" textLength="18.0" lengthAdjust="spacingAndGlyphs">F11KO</text></g>
<line x1="160.50" y1="296.40" x2="160.50" y2="353.80" stroke="#9a9a9a" stroke-width="0.6" />
<line x1="160.50" y1="353.80" x2="183.20" y2="353.80" stroke="#9a9a9a" stroke-width="0.6" />
<line x1="157.50" y1="307.70" x2="159.90" y2="307.70" stroke="#231f20" stroke-width="1.0" />
<text x="155.03" y="309.87" font-size="6.025" text-anchor="end" style="stroke-width:0.05px" textLength="15.08" lengthAdjust="spacingAndGlyphs">100.0</text>
<line x1="157.50" y1="321.50" x2="159.90" y2="321.50" stroke="#231f20" stroke-width="1.0" />
<text x="155.02" y="323.66" font-size="5.995" text-anchor="end" style="stroke-width:0.04px" textLength="11.67" lengthAdjust="spacingAndGlyphs">10.0</text>
<line x1="157.50" y1="335.40" x2="159.90" y2="335.40" stroke="#231f20" stroke-width="1.0" />
<text x="155.02" y="337.65" font-size="6.25" text-anchor="end" style="stroke-width:0.06px" textLength="8.69" lengthAdjust="spacingAndGlyphs">1.0</text>
<line x1="157.50" y1="349.10" x2="159.90" y2="349.10" stroke="#231f20" stroke-width="1.0" />
<text x="155.08" y="351.30" font-size="6.107" text-anchor="end" style="stroke-width:0.05px" textLength="8.49" lengthAdjust="spacingAndGlyphs">0.1</text>
<g transform="translate(133.50 325.20) rotate(-90)">
<text x="0.00" y="2.77" font-size="7.7" text-anchor="middle" style="stroke-width:0.12px" textLength="44.10" lengthAdjust="spacingAndGlyphs">H3K4me3 signal</text>
</g>
<path d="M166.60 306.50V303.50H177.20V306.50" fill="none" stroke="#555" stroke-width="0.45"/>
<text x="171.95" y="299.39" font-size="3.305" text-anchor="middle" style="stroke-width:0.04px" textLength="16.02" lengthAdjust="spacingAndGlyphs"><tspan font-style="italic">P</tspan> = 0.0027</text>
<line x1="166.60" y1="304.00" x2="166.60" y2="350.00" stroke="#9a9a9a" stroke-width="0.8" />
<path d="M166.60 306.30 L166.90 306.80 L167.32 307.31 L167.81 307.81 L168.33 308.31 L168.83 308.81 L169.27 309.32 L169.53 309.82 L169.73 310.32 L169.93 310.82 L170.11 311.33 L170.29 311.83 L170.45 312.33 L170.59 312.83 L170.71 313.34 L170.80 313.84 L170.87 314.34 L170.90 314.85 L170.89 315.35 L170.85 315.85 L170.77 316.35 L170.66 316.86 L170.53 317.36 L170.39 317.86 L170.24 318.36 L170.09 318.87 L169.95 319.37 L169.83 319.87 L169.73 320.37 L169.62 320.88 L169.51 321.38 L169.40 321.88 L169.28 322.39 L169.17 322.89 L169.06 323.39 L168.95 323.89 L168.85 324.40 L168.76 324.90 L168.68 325.40 L168.61 325.90 L168.53 326.41 L168.46 326.91 L168.41 327.41 L168.38 327.91 L168.36 328.42 L168.37 328.92 L168.38 329.42 L168.41 329.93 L168.46 330.43 L168.54 330.93 L168.62 331.43 L168.72 331.94 L168.82 332.44 L168.91 332.94 L168.99 333.44 L169.06 333.95 L169.09 334.45 L169.10 334.95 L169.07 335.45 L169.02 335.96 L168.95 336.46 L168.85 336.96 L168.75 337.47 L168.63 337.97 L168.50 338.47 L168.37 338.97 L168.23 339.48 L168.11 339.98 L167.93 340.48 L167.73 340.98 L167.51 341.49 L167.29 341.99 L167.08 342.49 L166.88 342.99 L166.72 343.50 L166.60 344.00 L166.60 344.00 L166.48 343.50 L166.32 342.99 L166.12 342.49 L165.91 341.99 L165.69 341.49 L165.47 340.98 L165.27 340.48 L165.09 339.98 L164.97 339.48 L164.83 338.97 L164.70 338.47 L164.57 337.97 L164.45 337.47 L164.35 336.96 L164.25 336.46 L164.18 335.96 L164.13 335.45 L164.10 334.95 L164.11 334.45 L164.14 333.95 L164.21 333.44 L164.29 332.94 L164.38 332.44 L164.48 331.94 L164.58 331.43 L164.66 330.93 L164.74 330.43 L164.79 329.93 L164.82 329.42 L164.83 328.92 L164.84 328.42 L164.82 327.91 L164.79 327.41 L164.74 326.91 L164.67 326.41 L164.59 325.90 L164.52 325.40 L164.44 324.90 L164.35 324.40 L164.25 323.89 L164.14 323.39 L164.03 322.89 L163.92 322.39 L163.80 321.88 L163.69 321.38 L163.58 320.88 L163.47 320.37 L163.37 319.87 L163.25 319.37 L163.11 318.87 L162.96 318.36 L162.81 317.86 L162.67 317.36 L162.54 316.86 L162.43 316.35 L162.35 315.85 L162.31 315.35 L162.30 314.85 L162.33 314.34 L162.40 313.84 L162.49 313.34 L162.61 312.83 L162.75 312.33 L162.91 311.83 L163.09 311.33 L163.27 310.82 L163.47 310.32 L163.67 309.82 L163.93 309.32 L164.37 308.81 L164.87 308.31 L165.39 307.81 L165.88 307.31 L166.30 306.80 L166.60 306.30Z" fill="#c0137c" stroke="#231f20" stroke-width="0.45"/>
<rect x="166.00" y="314.00" width="1.20" height="14.00" fill="#e8e8e8" stroke="#9a9a9a" stroke-width="0.4"/>
<line x1="166.00" y1="321.00" x2="167.20" y2="321.00" stroke="#9a9a9a" stroke-width="0.5" />
<line x1="177.20" y1="303.00" x2="177.20" y2="350.00" stroke="#9a9a9a" stroke-width="0.8" />
<path d="M177.20 305.00 L177.48 305.50 L177.87 306.00 L178.33 306.50 L178.83 307.00 L179.33 307.50 L179.80 308.00 L180.20 308.50 L180.46 309.00 L180.73 309.50 L180.99 310.00 L181.25 310.50 L181.49 311.00 L181.70 311.50 L181.89 312.00 L182.04 312.50 L182.15 313.00 L182.21 313.50 L182.20 314.00 L182.14 314.50 L182.04 315.00 L181.89 315.50 L181.72 316.00 L181.54 316.50 L181.35 317.00 L181.16 317.50 L181.00 318.00 L180.90 318.50 L180.78 319.00 L180.66 319.50 L180.54 320.00 L180.41 320.50 L180.28 321.00 L180.15 321.50 L180.02 322.00 L179.90 322.50 L179.78 323.00 L179.67 323.50 L179.57 324.00 L179.48 324.50 L179.40 325.00 L179.30 325.50 L179.21 326.00 L179.14 326.50 L179.08 327.00 L179.04 327.50 L179.01 328.00 L178.99 328.50 L178.98 329.00 L178.99 329.50 L179.02 330.00 L179.07 330.50 L179.16 331.00 L179.26 331.50 L179.37 332.00 L179.48 332.50 L179.58 333.00 L179.68 333.50 L179.75 334.00 L179.79 334.50 L179.80 335.00 L179.77 335.50 L179.71 336.00 L179.62 336.50 L179.52 337.00 L179.39 337.50 L179.26 338.00 L179.12 338.50 L178.98 339.00 L178.83 339.50 L178.70 340.00 L178.52 340.50 L178.32 341.00 L178.10 341.50 L177.88 342.00 L177.67 342.50 L177.48 343.00 L177.32 343.50 L177.20 344.00 L177.20 344.00 L177.08 343.50 L176.92 343.00 L176.73 342.50 L176.52 342.00 L176.30 341.50 L176.08 341.00 L175.88 340.50 L175.70 340.00 L175.57 339.50 L175.42 339.00 L175.28 338.50 L175.14 338.00 L175.01 337.50 L174.88 337.00 L174.78 336.50 L174.69 336.00 L174.63 335.50 L174.60 335.00 L174.61 334.50 L174.65 334.00 L174.72 333.50 L174.82 333.00 L174.92 332.50 L175.03 332.00 L175.14 331.50 L175.24 331.00 L175.33 330.50 L175.38 330.00 L175.41 329.50 L175.42 329.00 L175.41 328.50 L175.39 328.00 L175.36 327.50 L175.32 327.00 L175.26 326.50 L175.19 326.00 L175.10 325.50 L175.00 325.00 L174.92 324.50 L174.83 324.00 L174.73 323.50 L174.62 323.00 L174.50 322.50 L174.38 322.00 L174.25 321.50 L174.12 321.00 L173.99 320.50 L173.86 320.00 L173.74 319.50 L173.62 319.00 L173.50 318.50 L173.40 318.00 L173.24 317.50 L173.05 317.00 L172.86 316.50 L172.68 316.00 L172.51 315.50 L172.36 315.00 L172.26 314.50 L172.20 314.00 L172.19 313.50 L172.25 313.00 L172.36 312.50 L172.51 312.00 L172.70 311.50 L172.91 311.00 L173.15 310.50 L173.41 310.00 L173.67 309.50 L173.94 309.00 L174.20 308.50 L174.60 308.00 L175.07 307.50 L175.57 307.00 L176.07 306.50 L176.53 306.00 L176.92 305.50 L177.20 305.00Z" fill="#c0137c" stroke="#231f20" stroke-width="0.45"/>
<rect x="176.60" y="313.00" width="1.20" height="14.00" fill="#e8e8e8" stroke="#9a9a9a" stroke-width="0.4"/>
<line x1="176.60" y1="320.00" x2="177.80" y2="320.00" stroke="#9a9a9a" stroke-width="0.5" />
<line x1="166.60" y1="353.80" x2="166.60" y2="356.40" stroke="#231f20" stroke-width="0.9" />
<g transform="translate(168.20 359.00) rotate(-45)"><text x="0" y="2.45" font-size="6.8" text-anchor="end" textLength="8.0" lengthAdjust="spacingAndGlyphs">WT</text></g>
<line x1="177.20" y1="353.80" x2="177.20" y2="356.40" stroke="#231f20" stroke-width="0.9" />
<g transform="translate(178.80 359.00) rotate(-45)"><text x="0" y="2.45" font-size="6.8" text-anchor="end" textLength="18.0" lengthAdjust="spacingAndGlyphs">F11KO</text></g>
<line x1="219.50" y1="296.40" x2="219.50" y2="353.80" stroke="#9a9a9a" stroke-width="0.6" />
<line x1="219.50" y1="353.80" x2="242.40" y2="353.80" stroke="#9a9a9a" stroke-width="0.6" />
<line x1="216.50" y1="309.10" x2="218.90" y2="309.10" stroke="#231f20" stroke-width="1.0" />
<text x="215.73" y="311.38" font-size="6.322" text-anchor="end" style="stroke-width:0.06px" textLength="12.30" lengthAdjust="spacingAndGlyphs">10.0</text>
<line x1="216.50" y1="330.40" x2="218.90" y2="330.40" stroke="#231f20" stroke-width="1.0" />
<text x="215.73" y="332.71" font-size="6.406" text-anchor="end" style="stroke-width:0.06px" textLength="8.91" lengthAdjust="spacingAndGlyphs">1.0</text>
<line x1="216.50" y1="351.70" x2="218.90" y2="351.70" stroke="#231f20" stroke-width="1.0" />
<text x="215.78" y="353.95" font-size="6.26" text-anchor="end" style="stroke-width:0.06px" textLength="8.70" lengthAdjust="spacingAndGlyphs">0.1</text>
<g transform="translate(195.60 325.10) rotate(-90)">
<text x="0.00" y="2.77" font-size="7.7" text-anchor="middle" style="stroke-width:0.12px" textLength="49.00" lengthAdjust="spacingAndGlyphs">H3K27me3 signal</text>
</g>
<path d="M226.10 305.20V302.20H236.00V305.20" fill="none" stroke="#555" stroke-width="0.45"/>
<text x="230.95" y="299.20" font-size="2.77" text-anchor="middle" style="stroke-width:0.04px" textLength="10.35" lengthAdjust="spacingAndGlyphs"><tspan font-style="italic">P</tspan> = 0.19</text>
<line x1="226.10" y1="304.00" x2="226.10" y2="352.00" stroke="#9a9a9a" stroke-width="0.8" />
<path d="M226.10 306.30 L226.19 306.80 L226.31 307.31 L226.45 307.81 L226.60 308.31 L226.76 308.82 L226.91 309.32 L227.05 309.82 L227.15 310.32 L227.23 310.83 L227.30 311.33 L227.38 311.83 L227.45 312.34 L227.53 312.84 L227.60 313.34 L227.67 313.85 L227.73 314.35 L227.79 314.85 L227.84 315.35 L227.89 315.86 L227.94 316.36 L227.96 316.86 L227.97 317.37 L227.98 317.87 L227.98 318.37 L227.99 318.88 L228.02 319.38 L228.08 319.88 L228.16 320.38 L228.25 320.89 L228.36 321.39 L228.49 321.89 L228.62 322.40 L228.75 322.90 L228.89 323.40 L229.03 323.91 L229.16 324.41 L229.28 324.91 L229.41 325.42 L229.56 325.92 L229.72 326.42 L229.88 326.92 L230.03 327.43 L230.17 327.93 L230.28 328.43 L230.36 328.94 L230.40 329.44 L230.39 329.94 L230.32 330.45 L230.21 330.95 L230.07 331.45 L229.89 331.95 L229.70 332.46 L229.50 332.96 L229.30 333.46 L229.11 333.97 L228.88 334.47 L228.62 334.97 L228.35 335.48 L228.07 335.98 L227.79 336.48 L227.54 336.98 L227.31 337.49 L226.94 337.99 L226.59 338.49 L226.30 339.00 L226.10 339.50 L226.10 339.50 L225.90 339.00 L225.61 338.49 L225.26 337.99 L224.89 337.49 L224.66 336.98 L224.41 336.48 L224.13 335.98 L223.85 335.48 L223.58 334.97 L223.32 334.47 L223.09 333.97 L222.90 333.46 L222.70 332.96 L222.50 332.46 L222.31 331.95 L222.13 331.45 L221.99 330.95 L221.88 330.45 L221.81 329.94 L221.80 329.44 L221.84 328.94 L221.92 328.43 L222.03 327.93 L222.17 327.43 L222.32 326.92 L222.48 326.42 L222.64 325.92 L222.79 325.42 L222.92 324.91 L223.04 324.41 L223.17 323.91 L223.31 323.40 L223.45 322.90 L223.58 322.40 L223.71 321.89 L223.84 321.39 L223.95 320.89 L224.04 320.38 L224.12 319.88 L224.18 319.38 L224.21 318.88 L224.22 318.37 L224.22 317.87 L224.23 317.37 L224.24 316.86 L224.26 316.36 L224.31 315.86 L224.36 315.35 L224.41 314.85 L224.47 314.35 L224.53 313.85 L224.60 313.34 L224.67 312.84 L224.75 312.34 L224.82 311.83 L224.90 311.33 L224.97 310.83 L225.05 310.32 L225.15 309.82 L225.29 309.32 L225.44 308.82 L225.60 308.31 L225.75 307.81 L225.89 307.31 L226.01 306.80 L226.10 306.30Z" fill="#dbd932" stroke="#231f20" stroke-width="0.45"/>
<rect x="225.50" y="322.00" width="1.20" height="12.00" fill="#e8e8e8" stroke="#9a9a9a" stroke-width="0.4"/>
<line x1="225.50" y1="328.00" x2="226.70" y2="328.00" stroke="#9a9a9a" stroke-width="0.5" />
<line x1="236.00" y1="301.00" x2="236.00" y2="350.00" stroke="#9a9a9a" stroke-width="0.8" />
<path d="M236.00 302.00 L236.06 302.50 L236.14 303.00 L236.24 303.50 L236.35 304.00 L236.46 304.50 L236.58 305.00 L236.70 305.50 L236.81 306.00 L236.91 306.50 L237.00 307.00 L237.05 307.50 L237.10 308.00 L237.15 308.50 L237.19 309.00 L237.23 309.50 L237.26 310.00 L237.30 310.50 L237.34 311.00 L237.37 311.50 L237.41 312.00 L237.45 312.50 L237.50 313.00 L237.55 313.50 L237.60 314.00 L237.67 314.50 L237.74 315.00 L237.81 315.50 L237.88 316.00 L237.96 316.50 L238.04 317.00 L238.12 317.50 L238.21 318.00 L238.30 318.50 L238.39 319.00 L238.49 319.50 L238.60 320.00 L238.74 320.50 L238.89 321.00 L239.05 321.50 L239.21 322.00 L239.38 322.50 L239.55 323.00 L239.72 323.50 L239.89 324.00 L240.05 324.50 L240.20 325.00 L240.37 325.50 L240.56 326.00 L240.75 326.50 L240.95 327.00 L241.13 327.50 L241.29 328.00 L241.41 328.50 L241.49 329.00 L241.51 329.50 L241.46 330.00 L241.34 330.50 L241.15 331.00 L240.91 331.50 L240.64 332.00 L240.35 332.50 L240.05 333.00 L239.77 333.50 L239.50 334.00 L239.12 334.50 L238.71 335.00 L238.30 335.50 L237.90 336.00 L237.52 336.50 L237.20 337.00 L236.67 337.50 L236.27 338.00 L236.00 338.50 L236.00 338.50 L235.73 338.00 L235.33 337.50 L234.80 337.00 L234.48 336.50 L234.10 336.00 L233.70 335.50 L233.29 335.00 L232.88 334.50 L232.50 334.00 L232.23 333.50 L231.95 333.00 L231.65 332.50 L231.36 332.00 L231.09 331.50 L230.85 331.00 L230.66 330.50 L230.54 330.00 L230.49 329.50 L230.51 329.00 L230.59 328.50 L230.71 328.00 L230.87 327.50 L231.05 327.00 L231.25 326.50 L231.44 326.00 L231.63 325.50 L231.80 325.00 L231.95 324.50 L232.11 324.00 L232.28 323.50 L232.45 323.00 L232.62 322.50 L232.79 322.00 L232.95 321.50 L233.11 321.00 L233.26 320.50 L233.40 320.00 L233.51 319.50 L233.61 319.00 L233.70 318.50 L233.79 318.00 L233.88 317.50 L233.96 317.00 L234.04 316.50 L234.12 316.00 L234.19 315.50 L234.26 315.00 L234.33 314.50 L234.40 314.00 L234.45 313.50 L234.50 313.00 L234.55 312.50 L234.59 312.00 L234.63 311.50 L234.66 311.00 L234.70 310.50 L234.74 310.00 L234.77 309.50 L234.81 309.00 L234.85 308.50 L234.90 308.00 L234.95 307.50 L235.00 307.00 L235.09 306.50 L235.19 306.00 L235.30 305.50 L235.42 305.00 L235.54 304.50 L235.65 304.00 L235.76 303.50 L235.86 303.00 L235.94 302.50 L236.00 302.00Z" fill="#dbd932" stroke="#231f20" stroke-width="0.45"/>
<rect x="235.40" y="321.00" width="1.20" height="13.00" fill="#e8e8e8" stroke="#9a9a9a" stroke-width="0.4"/>
<line x1="235.40" y1="328.00" x2="236.60" y2="328.00" stroke="#9a9a9a" stroke-width="0.5" />
<line x1="226.10" y1="353.80" x2="226.10" y2="356.40" stroke="#231f20" stroke-width="0.9" />
<g transform="translate(227.70 359.00) rotate(-45)"><text x="0" y="2.45" font-size="6.8" text-anchor="end" textLength="8.0" lengthAdjust="spacingAndGlyphs">WT</text></g>
<line x1="236.00" y1="353.80" x2="236.00" y2="356.40" stroke="#231f20" stroke-width="0.9" />
<g transform="translate(237.60 359.00) rotate(-45)"><text x="0" y="2.45" font-size="6.8" text-anchor="end" textLength="18.0" lengthAdjust="spacingAndGlyphs">F11KO</text></g>
<text x="252.80" y="272.99" font-size="10.6" font-weight="bold" fill="#000" style="stroke:#000;stroke-width:0.25px" textLength="6.0" lengthAdjust="spacingAndGlyphs">E</text>
<text x="292.27" y="285.07" font-size="6.583" text-anchor="middle" style="stroke-width:0.07px" textLength="32.20" lengthAdjust="spacingAndGlyphs">BAHD1-V5</text>
<path d="M292.40 319.80L322.39 320.74A30.00 30.00 0 0 0 276.44 294.40Z" fill="#69a83d" stroke="#231f20" stroke-width="0.9" stroke-linejoin="round"/>
<path d="M292.40 319.80L276.44 294.40A30.00 30.00 0 0 0 263.50 311.76Z" fill="#9d90cc" stroke="#231f20" stroke-width="0.9" stroke-linejoin="round"/>
<path d="M292.40 319.80L263.50 311.76A30.00 30.00 0 0 0 262.76 315.16Z" fill="#e8921c" stroke="#231f20" stroke-width="0.9" stroke-linejoin="round"/>
<path d="M292.40 319.80L262.76 315.16A30.00 30.00 0 0 0 288.15 349.50Z" fill="#f1c21f" stroke="#231f20" stroke-width="0.9" stroke-linejoin="round"/>
<path d="M292.40 319.80L288.15 349.50A30.00 30.00 0 0 0 295.54 349.63Z" fill="#294a8c" stroke="#231f20" stroke-width="0.9" stroke-linejoin="round"/>
<path d="M292.40 319.80L295.54 349.63A30.00 30.00 0 0 0 319.54 332.57Z" fill="#d4127f" stroke="#231f20" stroke-width="0.9" stroke-linejoin="round"/>
<path d="M292.40 319.80L319.54 332.57A30.00 30.00 0 0 0 322.26 322.74Z" fill="#b0651d" stroke="#231f20" stroke-width="0.9" stroke-linejoin="round"/>
<path d="M292.40 319.80L322.26 322.74A30.00 30.00 0 0 0 322.39 320.72Z" fill="#b2c98a" stroke="#231f20" stroke-width="0.9" stroke-linejoin="round"/>
<circle cx="292.40" cy="319.80" r="30.00" fill="none" stroke="#231f20" stroke-width="0.9"/>
<rect x="325.40" y="280.80" width="7.10" height="5.20" fill="#69a83d" stroke="#231f20" stroke-width="0.7" />
<text x="335.07" y="285.36" font-size="5.446" style="stroke-width:0.04px" textLength="71.73" lengthAdjust="spacingAndGlyphs">promoter (TSS-2kb) (34.43%)</text>
<rect x="325.40" y="289.80" width="7.10" height="5.20" fill="#9d90cc" stroke="#231f20" stroke-width="0.7" />
<text x="335.07" y="294.39" font-size="5.525" style="stroke-width:0.04px" textLength="73.75" lengthAdjust="spacingAndGlyphs">promoter (TSS+2kb) (11.75%)</text>
<rect x="325.40" y="298.80" width="7.10" height="5.20" fill="#e8921c" stroke="#231f20" stroke-width="0.7" />
<text x="335.18" y="303.41" font-size="5.573" style="stroke-width:0.04px" textLength="33.15" lengthAdjust="spacingAndGlyphs">exon (1.85%)</text>
<rect x="325.40" y="307.80" width="7.10" height="5.20" fill="#f1c21f" stroke="#231f20" stroke-width="0.7" />
<text x="335.04" y="312.41" font-size="5.585" style="stroke-width:0.04px" textLength="38.19" lengthAdjust="spacingAndGlyphs">intron (25.21%)</text>
<rect x="325.40" y="316.80" width="7.10" height="5.20" fill="#294a8c" stroke="#231f20" stroke-width="0.7" />
<text x="335.32" y="321.35" font-size="5.417" style="stroke-width:0.04px" textLength="27.70" lengthAdjust="spacingAndGlyphs">tes (3.93%)</text>
<rect x="325.40" y="325.80" width="7.10" height="5.20" fill="#d4127f" stroke="#231f20" stroke-width="0.7" />
<text x="335.18" y="330.40" font-size="5.569" style="stroke-width:0.04px" textLength="42.85" lengthAdjust="spacingAndGlyphs">5' distal (16.33%)</text>
<rect x="325.40" y="334.80" width="7.10" height="5.20" fill="#b0651d" stroke="#231f20" stroke-width="0.7" />
<text x="335.20" y="339.41" font-size="5.593" style="stroke-width:0.04px" textLength="39.93" lengthAdjust="spacingAndGlyphs">3' distal (5.44%)</text>
<rect x="325.40" y="343.80" width="7.10" height="5.20" fill="#b2c98a" stroke="#231f20" stroke-width="0.7" />
<text x="335.04" y="348.39" font-size="5.532" style="stroke-width:0.04px" textLength="44.89" lengthAdjust="spacingAndGlyphs">intergenic (1.07%)</text>
<text x="418.50" y="273.69" font-size="10.6" font-weight="bold" fill="#000" style="stroke:#000;stroke-width:0.25px" textLength="6.0" lengthAdjust="spacingAndGlyphs">F</text>
<text x="451.07" y="292.71" font-size="6.688" text-anchor="middle" style="stroke-width:0.08px" textLength="32.71" lengthAdjust="spacingAndGlyphs">BAHD1-V5</text>
<text x="494.68" y="292.68" font-size="6.619" text-anchor="middle" style="stroke-width:0.07px" textLength="33.12" lengthAdjust="spacingAndGlyphs">H3K27me3</text>
<circle cx="458.5" cy="319.2" r="18.2" fill="#d48597" stroke="#6e6e6e" stroke-width="0.7"/>
<circle cx="482.2" cy="319.1" r="22.7" fill="#c3dcac" stroke="#6e6e6e" stroke-width="0.7"/>
<clipPath id="cpF"><circle cx="458.5" cy="319.2" r="18.2"/></clipPath>
<circle cx="482.2" cy="319.1" r="22.7" fill="#f1cb94" clip-path="url(#cpF)"/>
<path d="" />
<circle cx="482.2" cy="319.1" r="22.7" fill="none" stroke="#2b2b2b" stroke-width="0.8" clip-path="url(#cpF)"/>
<clipPath id="cpF2"><circle cx="482.2" cy="319.1" r="22.7"/></clipPath>
<circle cx="458.5" cy="319.2" r="18.2" fill="none" stroke="#2b2b2b" stroke-width="0.8" clip-path="url(#cpF2)"/>
<text x="449.79" y="321.30" font-size="5.84" text-anchor="middle" style="stroke-width:0.04px" textLength="17.86" lengthAdjust="spacingAndGlyphs">12,906</text>
<text x="467.99" y="321.45" font-size="6.253" text-anchor="middle" style="stroke-width:0.06px" textLength="15.65" lengthAdjust="spacingAndGlyphs">9,576</text>
<text x="487.97" y="321.20" font-size="5.567" text-anchor="middle" style="stroke-width:0.04px" textLength="17.03" lengthAdjust="spacingAndGlyphs">35,834</text>
<text x="471.48" y="351.35" font-size="6.805" text-anchor="middle" style="stroke-width:0.08px" textLength="35.25" lengthAdjust="spacingAndGlyphs"><tspan font-style="italic">P</tspan> = 2.1e-67</text>
<text x="8.50" y="396.79" font-size="10.6" font-weight="bold" fill="#000" style="stroke:#000;stroke-width:0.25px" textLength="8.8" lengthAdjust="spacingAndGlyphs">G</text>
<text x="60.73" y="408.62" font-size="6.709" text-anchor="middle" style="stroke-width:0.08px" textLength="69.73" lengthAdjust="spacingAndGlyphs">BAHD1 overexpression</text>
<line x1="21.20" y1="412.50" x2="101.50" y2="412.50" stroke="#444" stroke-width="1.0" />
<text x="39.77" y="421.72" font-size="6.718" text-anchor="middle" style="stroke-width:0.08px" textLength="31.37" lengthAdjust="spacingAndGlyphs">decreased</text>
<text x="81.99" y="421.75" font-size="6.793" text-anchor="middle" style="stroke-width:0.08px" textLength="29.46" lengthAdjust="spacingAndGlyphs">increased</text>
<path d="M39.00 443.20L39.00 424.70A18.50 18.50 0 1 0 57.45 444.58Z" fill="#62a8e6" stroke="#231f20" stroke-width="0.75" stroke-linejoin="round"/>
<path d="M39.00 443.20L57.45 444.58A18.50 18.50 0 0 0 39.00 424.70Z" fill="#9584c4" stroke="#231f20" stroke-width="0.75" stroke-linejoin="round"/>
<circle cx="39.00" cy="443.20" r="18.50" fill="none" stroke="#231f20" stroke-width="0.75"/>
<path d="M82.30 443.20L82.30 424.50A18.70 18.70 0 1 0 97.33 454.32Z" fill="#62a8e6" stroke="#231f20" stroke-width="0.75" stroke-linejoin="round"/>
<path d="M82.30 443.20L97.33 454.32A18.70 18.70 0 0 0 82.30 424.50Z" fill="#9584c4" stroke="#231f20" stroke-width="0.75" stroke-linejoin="round"/>
<circle cx="82.30" cy="443.20" r="18.70" fill="none" stroke="#231f20" stroke-width="0.75"/>
<text x="45.50" y="437.49" font-size="4.7" text-anchor="middle" style="stroke-width:0.04px" textLength="7.00" lengthAdjust="spacingAndGlyphs">132</text>
<text x="30.70" y="447.99" font-size="4.7" text-anchor="middle" style="stroke-width:0.04px" textLength="7.00" lengthAdjust="spacingAndGlyphs">372</text>
<text x="89.50" y="438.49" font-size="4.7" text-anchor="middle" style="stroke-width:0.04px" textLength="4.80" lengthAdjust="spacingAndGlyphs">26</text>
<text x="71.90" y="446.39" font-size="4.7" text-anchor="middle" style="stroke-width:0.04px" textLength="4.80" lengthAdjust="spacingAndGlyphs">48</text>
<text x="39.41" y="469.09" font-size="5.53" text-anchor="middle" style="stroke-width:0.04px" textLength="26.81" lengthAdjust="spacingAndGlyphs"><tspan font-style="italic">P</tspan> &lt; 0.0001</text>
<text x="81.91" y="469.11" font-size="5.593" text-anchor="middle" style="stroke-width:0.04px" textLength="27.11" lengthAdjust="spacingAndGlyphs"><tspan font-style="italic">P</tspan> = 0.0141</text>
<text x="61.64" y="479.28" font-size="6.604" text-anchor="middle" style="stroke-width:0.07px" textLength="39.64" lengthAdjust="spacingAndGlyphs">Expression in</text>
<text x="61.25" y="487.38" font-size="6.599" text-anchor="middle" style="stroke-width:0.07px" textLength="55.86" lengthAdjust="spacingAndGlyphs">F11KO vs WT cells</text>
<line x1="20.50" y1="492.20" x2="102.60" y2="492.20" stroke="#444" stroke-width="1.0" />
<text x="38.97" y="501.09" font-size="6.63" text-anchor="middle" style="stroke-width:0.07px" textLength="30.96" lengthAdjust="spacingAndGlyphs">decreased</text>
<text x="86.49" y="501.09" font-size="6.627" text-anchor="middle" style="stroke-width:0.07px" textLength="28.74" lengthAdjust="spacingAndGlyphs">increased</text>
<path d="M38.40 522.20L38.40 503.90A18.30 18.30 0 1 0 54.94 530.03Z" fill="#62a8e6" stroke="#231f20" stroke-width="0.75" stroke-linejoin="round"/>
<path d="M38.40 522.20L54.94 530.03A18.30 18.30 0 0 0 38.40 503.90Z" fill="#9584c4" stroke="#231f20" stroke-width="0.75" stroke-linejoin="round"/>
<circle cx="38.40" cy="522.20" r="18.30" fill="none" stroke="#231f20" stroke-width="0.75"/>
<path d="M83.00 522.20L83.00 503.70A18.50 18.50 0 1 0 88.08 539.99Z" fill="#62a8e6" stroke="#231f20" stroke-width="0.75" stroke-linejoin="round"/>
<path d="M83.00 522.20L88.08 539.99A18.50 18.50 0 0 0 83.00 503.70Z" fill="#9584c4" stroke="#231f20" stroke-width="0.75" stroke-linejoin="round"/>
<circle cx="83.00" cy="522.20" r="18.50" fill="none" stroke="#231f20" stroke-width="0.75"/>
<text x="46.10" y="518.79" font-size="4.7" text-anchor="middle" style="stroke-width:0.04px" textLength="7.00" lengthAdjust="spacingAndGlyphs">190</text>
<text x="31.10" y="524.49" font-size="4.7" text-anchor="middle" style="stroke-width:0.04px" textLength="7.00" lengthAdjust="spacingAndGlyphs">403</text>
<text x="75.10" y="524.49" font-size="4.7" text-anchor="middle" style="stroke-width:0.04px" textLength="7.00" lengthAdjust="spacingAndGlyphs">166</text>
<text x="91.60" y="523.49" font-size="4.7" text-anchor="middle" style="stroke-width:0.04px" textLength="7.00" lengthAdjust="spacingAndGlyphs">139</text>
<text x="39.10" y="547.70" font-size="5.568" text-anchor="middle" style="stroke-width:0.04px" textLength="24.00" lengthAdjust="spacingAndGlyphs"><tspan font-style="italic">P</tspan>&lt;0.0001</text>
<text x="82.91" y="547.61" font-size="5.305" text-anchor="middle" style="stroke-width:0.04px" textLength="22.86" lengthAdjust="spacingAndGlyphs"><tspan font-style="italic">P</tspan>=0.5871</text>
<rect x="30.00" y="555.30" width="10.80" height="6.20" fill="#62a8e6" stroke="#231f20" stroke-width="0.8" />
<rect x="30.00" y="564.20" width="10.80" height="6.50" fill="#9584c4" stroke="#231f20" stroke-width="0.8" />
<text x="43.35" y="560.43" font-size="5.64" style="stroke-width:0.04px" textLength="36.68" lengthAdjust="spacingAndGlyphs">BAHD1 Bound</text>
<text x="43.34" y="569.36" font-size="5.735" style="stroke-width:0.04px" textLength="47.82" lengthAdjust="spacingAndGlyphs">Not BAHD1 Bound</text>
<text x="118.80" y="396.79" font-size="10.6" font-weight="bold" fill="#000" style="stroke:#000;stroke-width:0.25px" textLength="7.8" lengthAdjust="spacingAndGlyphs">H</text>
<text x="170.44" y="400.49" font-size="6.638" text-anchor="middle" style="stroke-width:0.07px" textLength="39.85" lengthAdjust="spacingAndGlyphs">Expression in</text>
<text x="170.45" y="408.07" font-size="6.587" text-anchor="middle" style="stroke-width:0.07px" textLength="55.76" lengthAdjust="spacingAndGlyphs">F11KO vs WT cells</text>
<line x1="130.40" y1="412.50" x2="210.80" y2="412.50" stroke="#444" stroke-width="1.0" />
<text x="148.97" y="421.71" font-size="6.696" text-anchor="middle" style="stroke-width:0.08px" textLength="31.27" lengthAdjust="spacingAndGlyphs">decreased</text>
<text x="191.69" y="421.65" font-size="6.532" text-anchor="middle" style="stroke-width:0.07px" textLength="28.32" lengthAdjust="spacingAndGlyphs">increased</text>
<path d="M148.70 442.30L148.70 424.00A18.30 18.30 0 0 0 133.72 452.81Z" fill="#6aab40" stroke="#231f20" stroke-width="0.75" stroke-linejoin="round"/>
<path d="M148.70 442.30L133.72 452.81A18.30 18.30 0 1 0 148.70 424.00Z" fill="#e4901f" stroke="#231f20" stroke-width="0.75" stroke-linejoin="round"/>
<circle cx="148.70" cy="442.30" r="18.30" fill="none" stroke="#231f20" stroke-width="0.75"/>
<path d="M191.70 442.30L191.70 423.90A18.40 18.40 0 1 0 194.48 460.49Z" fill="#6aab40" stroke="#231f20" stroke-width="0.75" stroke-linejoin="round"/>
<path d="M191.70 442.30L194.48 460.49A18.40 18.40 0 0 0 191.70 423.90Z" fill="#e4901f" stroke="#231f20" stroke-width="0.75" stroke-linejoin="round"/>
<circle cx="191.70" cy="442.30" r="18.40" fill="none" stroke="#231f20" stroke-width="0.75"/>
<text x="138.80" y="440.19" font-size="4.7" text-anchor="middle" style="stroke-width:0.04px" textLength="7.00" lengthAdjust="spacingAndGlyphs">140</text>
<text x="155.80" y="445.89" font-size="4.7" text-anchor="middle" style="stroke-width:0.04px" textLength="7.00" lengthAdjust="spacingAndGlyphs">263</text>
<text x="182.90" y="442.69" font-size="4.7" text-anchor="middle" style="stroke-width:0.04px" textLength="4.80" lengthAdjust="spacingAndGlyphs">87</text>
<text x="199.60" y="442.69" font-size="4.7" text-anchor="middle" style="stroke-width:0.04px" textLength="4.80" lengthAdjust="spacingAndGlyphs">79</text>
<text x="148.30" y="469.91" font-size="5.597" text-anchor="middle" style="stroke-width:0.04px" textLength="25.99" lengthAdjust="spacingAndGlyphs"><tspan font-style="italic">P</tspan>=2.2e-16</text>
<text x="190.22" y="469.64" font-size="4.821" text-anchor="middle" style="stroke-width:0.04px" textLength="15.41" lengthAdjust="spacingAndGlyphs"><tspan font-style="italic">P</tspan>=0.59</text>
<rect x="134.90" y="475.00" width="10.90" height="6.40" fill="#e4901f" stroke="#231f20" stroke-width="0.8" />
<rect x="134.90" y="484.00" width="10.90" height="6.60" fill="#6aab40" stroke="#231f20" stroke-width="0.8" />
<text x="148.26" y="479.99" font-size="5.525" style="stroke-width:0.04px" textLength="19.66" lengthAdjust="spacingAndGlyphs">Bivalent</text>
<text x="148.23" y="489.20" font-size="5.827" style="stroke-width:0.04px" textLength="30.77" lengthAdjust="spacingAndGlyphs">Not bivalent</text>
<text x="252.00" y="395.69" font-size="10.6" font-weight="bold" fill="#000" style="stroke:#000;stroke-width:0.25px" textLength="2.7" lengthAdjust="spacingAndGlyphs">I</text>
<text x="292.87" y="397.79" font-size="6.645" text-anchor="middle" style="stroke-width:0.07px" textLength="10.33" lengthAdjust="spacingAndGlyphs">WT</text>
<text x="335.49" y="397.89" font-size="6.914" text-anchor="middle" style="stroke-width:0.09px" textLength="21.39" lengthAdjust="spacingAndGlyphs">F11KO</text>
<g transform="translate(266.70 421.00) rotate(-90)">
<text x="-0.06" y="2.43" font-size="6.752" text-anchor="middle" style="stroke-width:0.08px" textLength="32.65" lengthAdjust="spacingAndGlyphs">Decreased</text>
</g>
<g transform="translate(266.60 462.70) rotate(-90)">
<text x="-0.10" y="2.42" font-size="6.722" text-anchor="middle" style="stroke-width:0.08px" textLength="29.52" lengthAdjust="spacingAndGlyphs">Increased</text>
</g>
<rect x="273.00" y="399.80" width="39.60" height="47.80" fill="#f9e4d9" />
<g filter="url(#soft)">
<path fill="#b03a26" fill-opacity="0.1" d="M275.8 399.8h0.9v1.0h-0.9zM273.9 399.8h1.1v1.0h-1.1zM294.4 399.8h2.1v1.0h-2.1zM300.3 400.8h1.7v1.0h-1.7zM290.1 400.8h1.8v1.0h-1.8zM304.6 401.8h2.0v1.0h-2.0zM283.3 401.8h2.0v1.0h-2.0zM287.9 403.8h0.6v1.0h-0.6zM276.5 404.8h0.7v1.0h-0.7zM278.2 407.8h2.4v1.0h-2.4zM296.0 410.8h1.8v1.0h-1.8zM300.5 410.8h0.7v1.0h-0.7zM301.0 417.8h3.5v1.0h-3.5zM294.9 431.8h3.2v1.0h-3.2zM300.5 438.8h6.3v1.0h-6.3zM302.1 442.8h1.7v1.0h-1.7zM300.2 444.8h3.0v1.0h-3.0z"/>
<path fill="#b03a26" fill-opacity="0.2" d="M309.4 399.8h1.1v1.0h-1.1zM284.6 399.8h1.6v1.0h-1.6zM286.2 399.8h5.1v1.0h-5.1zM308.1 399.8h0.9v1.0h-0.9zM288.3 399.8h0.8v1.0h-0.8zM281.9 399.8h1.7v1.0h-1.7zM289.1 400.8h1.2v1.0h-1.2zM286.0 400.8h2.5v1.0h-2.5zM308.9 400.8h3.7v1.0h-3.7zM281.6 400.8h6.3v1.0h-6.3zM282.6 400.8h2.4v1.0h-2.4zM307.1 401.8h3.6v1.0h-3.6zM298.0 401.8h0.7v1.0h-0.7zM303.1 401.8h0.5v1.0h-0.5zM282.3 401.8h1.8v1.0h-1.8zM293.0 401.8h0.6v1.0h-0.6zM297.4 402.8h0.5v1.0h-0.5zM312.3 402.8h0.3v1.0h-0.3zM306.7 402.8h3.1v1.0h-3.1zM304.7 402.8h2.5v1.0h-2.5zM293.6 402.8h0.9v1.0h-0.9zM310.2 403.8h1.2v1.0h-1.2zM302.6 403.8h1.8v1.0h-1.8zM299.8 403.8h3.0v1.0h-3.0zM298.8 404.8h2.4v1.0h-2.4zM300.0 404.8h1.4v1.0h-1.4zM287.7 406.8h3.1v1.0h-3.1zM284.0 407.8h3.1v1.0h-3.1zM305.4 407.8h0.8v1.0h-0.8zM280.4 408.8h0.5v1.0h-0.5zM275.3 408.8h0.7v1.0h-0.7zM273.3 408.8h2.3v1.0h-2.3zM277.1 408.8h3.5v1.0h-3.5zM284.8 409.8h2.1v1.0h-2.1zM278.3 409.8h0.8v1.0h-0.8zM285.4 409.8h6.3v1.0h-6.3zM284.0 409.8h2.8v1.0h-2.8zM311.3 410.8h1.3v1.0h-1.3zM285.4 410.8h1.2v1.0h-1.2zM301.0 410.8h1.5v1.0h-1.5zM284.2 411.8h0.8v1.0h-0.8zM285.2 411.8h0.7v1.0h-0.7zM304.7 412.8h3.6v1.0h-3.6zM292.7 413.8h1.3v1.0h-1.3zM281.5 413.8h0.8v1.0h-0.8zM274.4 415.8h1.6v1.0h-1.6zM291.3 415.8h2.0v1.0h-2.0zM275.4 417.8h2.5v1.0h-2.5zM308.4 417.8h0.6v1.0h-0.6zM274.9 418.8h0.8v1.0h-0.8zM310.6 418.8h2.0v1.0h-2.0zM273.9 418.8h2.4v1.0h-2.4zM290.1 419.8h3.4v1.0h-3.4zM284.3 419.8h1.0v1.0h-1.0zM279.8 419.8h1.3v1.0h-1.3zM279.5 420.8h2.5v1.0h-2.5zM274.9 421.8h6.3v1.0h-6.3zM284.1 421.8h1.3v1.0h-1.3zM307.3 421.8h0.8v1.0h-0.8zM303.0 421.8h2.4v1.0h-2.4zM275.3 422.8h1.1v1.0h-1.1zM291.3 423.8h4.6v1.0h-4.6zM302.4 423.8h3.8v1.0h-3.8zM295.9 426.8h0.8v1.0h-0.8zM304.9 426.8h1.5v1.0h-1.5zM289.9 427.8h0.6v1.0h-0.6zM293.3 427.8h2.8v1.0h-2.8zM309.0 427.8h1.3v1.0h-1.3zM273.0 428.8h1.7v1.0h-1.7zM311.8 428.8h0.8v1.0h-0.8zM309.7 429.8h2.1v1.0h-2.1zM295.4 430.8h0.7v1.0h-0.7zM292.7 431.8h0.7v1.0h-0.7zM288.6 431.8h4.7v1.0h-4.7zM306.3 432.8h1.7v1.0h-1.7zM282.8 434.8h2.8v1.0h-2.8zM285.8 435.8h2.8v1.0h-2.8zM294.9 436.8h5.5v1.0h-5.5zM304.5 438.8h0.5v1.0h-0.5zM293.7 444.8h0.9v1.0h-0.9zM273.0 444.8h2.6v1.0h-2.6zM311.7 445.8h0.9v1.0h-0.9z"/>
<path fill="#b03a26" fill-opacity="0.32" d="M285.9 399.8h0.5v1.0h-0.5zM308.2 399.8h0.7v1.0h-0.7zM307.8 399.8h2.8v1.0h-2.8zM310.5 399.8h1.7v1.0h-1.7zM299.6 399.8h1.1v1.0h-1.1zM282.2 399.8h2.7v1.0h-2.7zM288.5 399.8h3.9v1.0h-3.9zM283.8 399.8h1.4v1.0h-1.4zM292.6 400.8h2.9v1.0h-2.9zM301.3 400.8h3.3v1.0h-3.3zM310.7 400.8h1.4v1.0h-1.4zM294.7 400.8h2.3v1.0h-2.3zM301.0 400.8h3.7v1.0h-3.7zM302.8 400.8h1.8v1.0h-1.8zM285.8 400.8h1.3v1.0h-1.3zM311.0 400.8h0.8v1.0h-0.8zM286.7 400.8h6.3v1.0h-6.3zM273.0 400.8h1.7v1.0h-1.7zM307.9 400.8h0.7v1.0h-0.7zM281.1 401.8h2.4v1.0h-2.4zM302.4 401.8h3.3v1.0h-3.3zM277.1 402.8h1.1v1.0h-1.1zM299.3 402.8h1.6v1.0h-1.6zM310.0 403.8h1.0v1.0h-1.0zM302.3 403.8h2.6v1.0h-2.6zM291.4 403.8h0.8v1.0h-0.8zM307.5 403.8h5.1v1.0h-5.1zM297.9 403.8h3.3v1.0h-3.3zM278.7 404.8h2.2v1.0h-2.2zM310.7 404.8h1.9v1.0h-1.9zM302.3 405.8h1.7v1.0h-1.7zM304.2 405.8h0.7v1.0h-0.7zM274.2 405.8h2.0v1.0h-2.0zM279.0 405.8h1.7v1.0h-1.7zM279.8 405.8h0.8v1.0h-0.8zM282.0 405.8h3.8v1.0h-3.8zM304.0 406.8h0.9v1.0h-0.9zM296.1 406.8h2.7v1.0h-2.7zM277.8 406.8h1.4v1.0h-1.4zM278.9 406.8h2.7v1.0h-2.7zM288.1 406.8h1.9v1.0h-1.9zM288.9 406.8h0.6v1.0h-0.6zM301.9 406.8h6.3v1.0h-6.3zM306.1 407.8h3.8v1.0h-3.8zM291.7 407.8h2.5v1.0h-2.5zM292.6 407.8h3.4v1.0h-3.4zM309.9 408.8h2.7v1.0h-2.7zM296.1 408.8h5.1v1.0h-5.1zM297.5 409.8h1.0v1.0h-1.0zM279.9 409.8h4.0v1.0h-4.0zM278.3 410.8h0.9v1.0h-0.9zM295.9 410.8h0.6v1.0h-0.6zM291.2 411.8h2.7v1.0h-2.7zM290.9 411.8h2.0v1.0h-2.0zM298.4 411.8h0.9v1.0h-0.9zM295.6 412.8h0.7v1.0h-0.7zM288.0 412.8h6.3v1.0h-6.3zM310.2 412.8h0.6v1.0h-0.6zM302.2 412.8h3.6v1.0h-3.6zM308.9 412.8h1.1v1.0h-1.1zM277.7 413.8h1.1v1.0h-1.1zM296.6 413.8h2.7v1.0h-2.7zM283.4 414.8h0.9v1.0h-0.9zM287.6 414.8h1.5v1.0h-1.5zM308.6 414.8h1.2v1.0h-1.2zM288.2 414.8h1.2v1.0h-1.2zM311.2 414.8h1.4v1.0h-1.4zM303.3 415.8h1.7v1.0h-1.7zM311.9 415.8h0.7v1.0h-0.7zM279.3 416.8h6.2v1.0h-6.2zM303.4 416.8h1.0v1.0h-1.0zM290.4 416.8h1.3v1.0h-1.3zM307.9 417.8h1.4v1.0h-1.4zM278.6 417.8h3.8v1.0h-3.8zM295.4 418.8h2.3v1.0h-2.3zM279.3 418.8h4.4v1.0h-4.4zM297.6 419.8h1.6v1.0h-1.6zM308.3 419.8h1.7v1.0h-1.7zM305.5 420.8h0.6v1.0h-0.6zM309.4 420.8h1.5v1.0h-1.5zM283.2 420.8h3.7v1.0h-3.7zM308.6 421.8h1.1v1.0h-1.1zM302.1 422.8h2.4v1.0h-2.4zM277.9 422.8h5.1v1.0h-5.1zM306.8 423.8h3.5v1.0h-3.5zM281.9 423.8h2.7v1.0h-2.7zM294.7 424.8h3.2v1.0h-3.2zM273.4 424.8h0.7v1.0h-0.7zM303.6 424.8h1.0v1.0h-1.0zM303.3 425.8h0.7v1.0h-0.7zM307.3 425.8h0.9v1.0h-0.9zM307.3 425.8h2.2v1.0h-2.2zM290.1 425.8h4.6v1.0h-4.6zM286.7 425.8h0.7v1.0h-0.7zM310.2 426.8h2.4v1.0h-2.4zM290.4 426.8h1.4v1.0h-1.4zM308.7 427.8h2.1v1.0h-2.1zM286.7 429.8h1.6v1.0h-1.6zM281.4 429.8h0.7v1.0h-0.7zM298.5 429.8h5.7v1.0h-5.7zM274.1 430.8h2.3v1.0h-2.3zM294.1 430.8h2.7v1.0h-2.7zM279.7 430.8h2.2v1.0h-2.2zM297.6 432.8h1.2v1.0h-1.2zM296.7 433.8h0.9v1.0h-0.9zM292.4 434.8h1.5v1.0h-1.5zM297.6 434.8h1.7v1.0h-1.7zM279.0 436.8h2.3v1.0h-2.3zM273.0 437.8h4.4v1.0h-4.4zM284.9 438.8h5.2v1.0h-5.2zM310.6 439.8h1.5v1.0h-1.5zM277.9 440.8h2.9v1.0h-2.9zM284.5 440.8h1.8v1.0h-1.8zM308.2 441.8h2.5v1.0h-2.5zM302.4 441.8h0.9v1.0h-0.9zM285.3 442.8h3.1v1.0h-3.1zM289.3 443.8h2.1v1.0h-2.1zM306.1 443.8h2.1v1.0h-2.1zM274.8 445.8h6.3v1.0h-6.3zM280.2 446.8h0.6v0.8h-0.6z"/>
<path fill="#b03a26" fill-opacity="0.5" d="M286.9 399.8h3.0v1.0h-3.0zM295.3 399.8h1.2v1.0h-1.2zM308.1 399.8h3.1v1.0h-3.1zM295.5 399.8h0.8v1.0h-0.8zM293.1 399.8h3.0v1.0h-3.0zM310.4 399.8h0.6v1.0h-0.6zM282.4 399.8h3.3v1.0h-3.3zM274.6 399.8h1.3v1.0h-1.3zM291.6 400.8h1.4v1.0h-1.4zM295.5 400.8h1.3v1.0h-1.3zM290.9 400.8h5.7v1.0h-5.7zM310.7 400.8h1.7v1.0h-1.7zM307.4 400.8h1.8v1.0h-1.8zM308.6 400.8h2.6v1.0h-2.6zM287.4 400.8h1.6v1.0h-1.6zM274.3 400.8h0.9v1.0h-0.9zM281.9 401.8h1.5v1.0h-1.5zM291.7 401.8h6.3v1.0h-6.3zM291.3 402.8h2.3v1.0h-2.3zM308.8 402.8h1.6v1.0h-1.6zM302.6 402.8h6.3v1.0h-6.3zM307.4 403.8h1.5v1.0h-1.5zM291.3 404.8h2.1v1.0h-2.1zM297.1 404.8h6.3v1.0h-6.3zM309.1 404.8h1.5v1.0h-1.5zM306.3 404.8h1.0v1.0h-1.0zM286.4 404.8h1.5v1.0h-1.5zM276.4 404.8h0.6v1.0h-0.6zM303.2 405.8h1.2v1.0h-1.2zM288.7 405.8h3.3v1.0h-3.3zM279.1 405.8h2.5v1.0h-2.5zM273.1 405.8h2.0v1.0h-2.0zM277.8 406.8h1.0v1.0h-1.0zM281.5 407.8h1.5v1.0h-1.5zM273.5 407.8h1.1v1.0h-1.1zM291.1 408.8h2.3v1.0h-2.3zM296.9 408.8h2.4v1.0h-2.4zM284.3 408.8h1.5v1.0h-1.5zM311.1 409.8h1.5v1.0h-1.5zM304.4 409.8h2.8v1.0h-2.8zM291.4 410.8h2.4v1.0h-2.4zM305.6 410.8h3.9v1.0h-3.9zM293.4 411.8h1.6v1.0h-1.6zM294.9 411.8h0.7v1.0h-0.7zM288.1 411.8h0.5v1.0h-0.5zM284.9 412.8h1.0v1.0h-1.0zM290.2 413.8h2.0v1.0h-2.0zM275.0 413.8h5.4v1.0h-5.4zM297.2 413.8h1.6v1.0h-1.6zM291.6 414.8h1.6v1.0h-1.6zM274.5 414.8h1.3v1.0h-1.3zM275.5 415.8h4.1v1.0h-4.1zM276.7 415.8h2.6v1.0h-2.6zM291.4 416.8h1.4v1.0h-1.4zM276.2 416.8h0.6v1.0h-0.6zM277.2 416.8h1.1v1.0h-1.1zM308.2 416.8h1.0v1.0h-1.0zM273.6 416.8h2.5v1.0h-2.5zM303.1 417.8h1.6v1.0h-1.6zM298.4 418.8h0.8v1.0h-0.8zM304.9 419.8h0.8v1.0h-0.8zM304.6 420.8h1.8v1.0h-1.8zM295.5 420.8h0.6v1.0h-0.6zM301.0 422.8h1.0v1.0h-1.0zM276.4 422.8h2.2v1.0h-2.2zM288.1 423.8h2.0v1.0h-2.0zM291.8 424.8h1.6v1.0h-1.6zM311.6 424.8h1.0v1.0h-1.0zM276.2 424.8h0.6v1.0h-0.6zM291.5 425.8h1.6v1.0h-1.6zM291.5 426.8h1.3v1.0h-1.3zM283.5 426.8h0.8v1.0h-0.8zM291.4 427.8h1.6v1.0h-1.6zM290.2 428.8h0.9v1.0h-0.9zM307.2 428.8h2.5v1.0h-2.5zM291.2 429.8h2.2v1.0h-2.2zM291.2 431.8h2.5v1.0h-2.5zM278.1 431.8h1.9v1.0h-1.9zM291.7 432.8h1.6v1.0h-1.6zM273.9 432.8h1.2v1.0h-1.2zM294.8 433.8h2.4v1.0h-2.4zM303.4 433.8h1.8v1.0h-1.8zM291.3 434.8h2.3v1.0h-2.3zM292.0 435.8h0.5v1.0h-0.5zM278.2 435.8h2.0v1.0h-2.0zM295.2 436.8h6.3v1.0h-6.3zM286.3 437.8h1.2v1.0h-1.2zM298.7 437.8h2.2v1.0h-2.2zM291.5 438.8h1.7v1.0h-1.7zM296.7 439.8h1.5v1.0h-1.5zM291.4 443.8h2.2v1.0h-2.2zM291.4 444.8h2.2v1.0h-2.2zM291.4 446.8h1.6v0.8h-1.6zM307.2 446.8h1.9v0.8h-1.9z"/>
<path fill="#b03a26" fill-opacity="0.75" d="M291.1 399.8h2.4v1.0h-2.4zM291.0 401.8h2.3v1.0h-2.3zM291.1 402.8h1.7v1.0h-1.7zM291.4 403.8h2.2v1.0h-2.2zM291.4 405.8h1.6v1.0h-1.6zM291.5 406.8h1.6v1.0h-1.6zM291.5 407.8h1.8v1.0h-1.8zM291.7 409.8h1.4v1.0h-1.4zM291.7 411.8h1.5v1.0h-1.5zM291.2 412.8h2.4v1.0h-2.4zM291.1 413.8h2.3v1.0h-2.3zM291.6 415.8h1.5v1.0h-1.5zM291.4 417.8h2.4v1.0h-2.4zM291.2 418.8h2.4v1.0h-2.4zM291.4 419.8h1.9v1.0h-1.9zM291.5 420.8h1.4v1.0h-1.4zM291.6 421.8h1.6v1.0h-1.6zM291.6 422.8h1.9v1.0h-1.9zM291.4 423.8h2.1v1.0h-2.1zM291.1 428.8h1.9v1.0h-1.9zM291.4 430.8h1.4v1.0h-1.4zM291.6 433.8h1.4v1.0h-1.4zM291.4 435.8h1.8v1.0h-1.8zM291.7 436.8h1.7v1.0h-1.7zM291.6 437.8h1.7v1.0h-1.7zM291.0 439.8h2.3v1.0h-2.3zM291.6 440.8h1.4v1.0h-1.4zM291.5 441.8h1.6v1.0h-1.6zM291.4 442.8h2.0v1.0h-2.0zM291.2 445.8h2.3v1.0h-2.3z"/>
</g>
<rect x="273.00" y="399.80" width="39.60" height="47.80" fill="none" stroke="#a8a8a8" stroke-width="0.9"/>
<rect x="273.00" y="448.80" width="39.60" height="27.20" fill="#f9e4d9" />
<g filter="url(#soft)">
<path fill="#b03a26" fill-opacity="0.1" d="M276.5 448.8h1.3v1.0h-1.3zM305.9 449.8h2.5v1.0h-2.5zM291.1 452.8h4.3v1.0h-4.3zM295.9 452.8h0.9v1.0h-0.9zM288.7 454.8h0.8v1.0h-0.8zM299.0 456.8h0.7v1.0h-0.7zM284.2 456.8h0.7v1.0h-0.7zM273.0 457.8h1.7v1.0h-1.7zM284.4 458.8h0.8v1.0h-0.8zM283.6 459.8h6.3v1.0h-6.3zM297.5 465.8h0.9v1.0h-0.9zM299.1 468.8h4.7v1.0h-4.7zM273.8 471.8h6.3v1.0h-6.3zM310.4 471.8h0.8v1.0h-0.8zM307.5 473.8h0.5v1.0h-0.5zM279.3 473.8h2.1v1.0h-2.1z"/>
<path fill="#b03a26" fill-opacity="0.2" d="M295.5 448.8h0.7v1.0h-0.7zM286.3 448.8h6.3v1.0h-6.3zM309.6 448.8h1.3v1.0h-1.3zM297.9 449.8h1.5v1.0h-1.5zM293.2 449.8h0.6v1.0h-0.6zM300.1 449.8h1.7v1.0h-1.7zM305.7 449.8h3.2v1.0h-3.2zM277.6 449.8h5.9v1.0h-5.9zM302.9 449.8h1.4v1.0h-1.4zM295.1 449.8h1.2v1.0h-1.2zM290.6 449.8h0.7v1.0h-0.7zM276.6 449.8h2.0v1.0h-2.0zM304.0 449.8h2.7v1.0h-2.7zM306.5 450.8h4.1v1.0h-4.1zM281.5 450.8h1.7v1.0h-1.7zM283.1 451.8h1.6v1.0h-1.6zM279.0 452.8h1.2v1.0h-1.2zM279.2 452.8h0.9v1.0h-0.9zM273.0 452.8h5.4v1.0h-5.4zM293.9 452.8h1.5v1.0h-1.5zM276.0 453.8h1.0v1.0h-1.0zM304.5 453.8h1.0v1.0h-1.0zM279.0 453.8h6.2v1.0h-6.2zM294.4 453.8h3.1v1.0h-3.1zM302.3 453.8h2.7v1.0h-2.7zM276.4 454.8h0.5v1.0h-0.5zM309.5 454.8h1.1v1.0h-1.1zM278.3 455.8h1.4v1.0h-1.4zM273.0 455.8h3.1v1.0h-3.1zM280.9 457.8h3.1v1.0h-3.1zM310.4 458.8h1.3v1.0h-1.3zM300.9 458.8h3.3v1.0h-3.3zM308.6 459.8h4.0v1.0h-4.0zM276.6 459.8h0.9v1.0h-0.9zM273.2 459.8h1.1v1.0h-1.1zM292.7 459.8h6.2v1.0h-6.2zM283.4 459.8h1.8v1.0h-1.8zM301.3 459.8h3.2v1.0h-3.2zM277.0 460.8h2.0v1.0h-2.0zM301.3 460.8h0.7v1.0h-0.7zM297.4 461.8h0.7v1.0h-0.7zM273.0 462.8h1.0v1.0h-1.0zM310.4 462.8h2.2v1.0h-2.2zM302.8 462.8h4.0v1.0h-4.0zM297.4 464.8h2.2v1.0h-2.2zM284.0 464.8h1.3v1.0h-1.3zM304.3 464.8h6.3v1.0h-6.3zM304.8 464.8h1.3v1.0h-1.3zM282.4 464.8h1.9v1.0h-1.9zM306.9 465.8h0.5v1.0h-0.5zM291.2 465.8h0.6v1.0h-0.6zM274.3 465.8h0.6v1.0h-0.6zM299.4 467.8h6.3v1.0h-6.3zM293.2 468.8h3.4v1.0h-3.4zM293.2 469.8h0.6v1.0h-0.6zM289.6 469.8h1.0v1.0h-1.0zM283.1 469.8h1.3v1.0h-1.3zM298.6 470.8h0.9v1.0h-0.9zM278.8 470.8h1.7v1.0h-1.7zM281.9 471.8h1.9v1.0h-1.9zM274.9 472.8h2.9v1.0h-2.9zM275.8 472.8h0.8v1.0h-0.8zM280.5 473.8h2.3v1.0h-2.3zM273.7 473.8h1.4v1.0h-1.4zM280.7 474.8h0.8v1.0h-0.8zM306.2 474.8h3.4v1.0h-3.4zM300.9 475.8h4.1v0.2h-4.1z"/>
<path fill="#b03a26" fill-opacity="0.32" d="M287.0 448.8h1.2v1.0h-1.2zM310.5 448.8h1.3v1.0h-1.3zM290.8 448.8h0.9v1.0h-0.9zM310.6 448.8h1.6v1.0h-1.6zM311.3 448.8h1.3v1.0h-1.3zM273.0 448.8h4.8v1.0h-4.8zM287.7 448.8h5.6v1.0h-5.6zM284.7 448.8h1.1v1.0h-1.1zM297.5 449.8h3.0v1.0h-3.0zM302.7 449.8h0.8v1.0h-0.8zM279.1 449.8h5.2v1.0h-5.2zM300.6 449.8h4.4v1.0h-4.4zM273.0 449.8h4.4v1.0h-4.4zM306.8 449.8h1.5v1.0h-1.5zM302.7 449.8h3.7v1.0h-3.7zM286.4 450.8h2.6v1.0h-2.6zM291.9 450.8h2.3v1.0h-2.3zM274.2 450.8h3.5v1.0h-3.5zM299.1 450.8h5.6v1.0h-5.6zM304.4 450.8h0.5v1.0h-0.5zM301.7 451.8h3.4v1.0h-3.4zM309.3 451.8h2.1v1.0h-2.1zM282.6 451.8h2.6v1.0h-2.6zM309.7 451.8h2.9v1.0h-2.9zM303.6 451.8h2.7v1.0h-2.7zM300.8 451.8h0.7v1.0h-0.7zM301.3 452.8h2.4v1.0h-2.4zM284.4 453.8h1.1v1.0h-1.1zM273.7 454.8h2.6v1.0h-2.6zM277.0 454.8h6.3v1.0h-6.3zM290.2 454.8h3.5v1.0h-3.5zM307.4 454.8h2.8v1.0h-2.8zM283.2 455.8h1.2v1.0h-1.2zM292.3 455.8h2.1v1.0h-2.1zM277.3 455.8h1.3v1.0h-1.3zM287.8 456.8h1.6v1.0h-1.6zM305.9 456.8h1.8v1.0h-1.8zM280.1 456.8h1.4v1.0h-1.4zM273.0 456.8h2.9v1.0h-2.9zM273.0 456.8h1.0v1.0h-1.0zM282.8 457.8h1.1v1.0h-1.1zM278.5 457.8h0.6v1.0h-0.6zM301.8 457.8h1.4v1.0h-1.4zM307.8 457.8h1.3v1.0h-1.3zM307.0 458.8h5.6v1.0h-5.6zM289.1 458.8h5.5v1.0h-5.5zM280.6 459.8h1.1v1.0h-1.1zM299.4 460.8h1.0v1.0h-1.0zM295.8 460.8h1.9v1.0h-1.9zM298.9 460.8h2.5v1.0h-2.5zM300.4 461.8h0.8v1.0h-0.8zM307.1 461.8h3.6v1.0h-3.6zM273.0 461.8h2.1v1.0h-2.1zM297.6 461.8h0.7v1.0h-0.7zM300.6 461.8h1.1v1.0h-1.1zM305.2 462.8h1.2v1.0h-1.2zM277.6 462.8h0.5v1.0h-0.5zM287.1 462.8h3.3v1.0h-3.3zM298.8 462.8h0.9v1.0h-0.9zM310.3 462.8h2.3v1.0h-2.3zM276.6 463.8h1.0v1.0h-1.0zM286.9 463.8h0.6v1.0h-0.6zM289.5 463.8h4.1v1.0h-4.1zM274.8 463.8h1.7v1.0h-1.7zM286.3 463.8h1.0v1.0h-1.0zM284.8 463.8h2.0v1.0h-2.0zM304.1 464.8h1.0v1.0h-1.0zM287.6 464.8h6.3v1.0h-6.3zM299.1 465.8h3.7v1.0h-3.7zM305.8 465.8h2.8v1.0h-2.8zM278.0 466.8h2.0v1.0h-2.0zM286.8 466.8h1.1v1.0h-1.1zM301.2 466.8h0.9v1.0h-0.9zM294.4 466.8h2.3v1.0h-2.3zM295.0 466.8h6.3v1.0h-6.3zM279.3 466.8h1.5v1.0h-1.5zM306.0 467.8h2.7v1.0h-2.7zM293.3 467.8h2.8v1.0h-2.8zM285.1 467.8h1.2v1.0h-1.2zM305.0 468.8h1.0v1.0h-1.0zM273.0 468.8h1.0v1.0h-1.0zM308.9 468.8h3.7v1.0h-3.7zM278.4 468.8h0.9v1.0h-0.9zM294.2 468.8h0.5v1.0h-0.5zM309.8 469.8h0.6v1.0h-0.6zM303.7 469.8h1.4v1.0h-1.4zM312.0 469.8h0.6v1.0h-0.6zM284.2 469.8h5.1v1.0h-5.1zM284.5 470.8h2.8v1.0h-2.8zM293.8 470.8h0.6v1.0h-0.6zM285.7 470.8h0.8v1.0h-0.8zM273.0 470.8h3.7v1.0h-3.7zM298.0 470.8h0.8v1.0h-0.8zM273.0 471.8h4.2v1.0h-4.2zM278.3 471.8h1.9v1.0h-1.9zM305.7 472.8h1.7v1.0h-1.7zM295.3 472.8h0.9v1.0h-0.9zM300.5 472.8h0.9v1.0h-0.9zM284.2 472.8h1.2v1.0h-1.2zM287.5 473.8h4.9v1.0h-4.9zM293.5 473.8h4.3v1.0h-4.3zM280.6 473.8h3.4v1.0h-3.4zM285.5 474.8h0.7v1.0h-0.7zM284.6 474.8h1.5v1.0h-1.5zM304.9 474.8h6.3v1.0h-6.3zM299.8 474.8h5.3v1.0h-5.3zM307.4 475.8h0.7v0.2h-0.7zM283.7 475.8h1.5v0.2h-1.5zM281.1 475.8h0.6v0.2h-0.6zM296.8 475.8h1.4v0.2h-1.4z"/>
<path fill="#b03a26" fill-opacity="0.5" d="M273.1 448.8h1.3v1.0h-1.3zM278.2 448.8h1.7v1.0h-1.7zM303.7 448.8h0.6v1.0h-0.6zM289.9 448.8h5.8v1.0h-5.8zM311.0 448.8h0.8v1.0h-0.8zM307.2 448.8h0.9v1.0h-0.9zM301.1 448.8h1.4v1.0h-1.4zM283.1 448.8h1.3v1.0h-1.3zM274.4 448.8h1.5v1.0h-1.5zM276.2 448.8h1.8v1.0h-1.8zM281.7 449.8h1.4v1.0h-1.4zM308.5 449.8h0.6v1.0h-0.6zM288.2 449.8h2.8v1.0h-2.8zM280.6 450.8h4.1v1.0h-4.1zM273.2 451.8h1.1v1.0h-1.1zM307.7 452.8h1.2v1.0h-1.2zM291.1 453.8h2.4v1.0h-2.4zM278.2 453.8h2.1v1.0h-2.1zM295.4 453.8h1.3v1.0h-1.3zM298.2 454.8h0.8v1.0h-0.8zM291.4 455.8h1.8v1.0h-1.8zM291.9 455.8h2.5v1.0h-2.5zM300.8 455.8h0.7v1.0h-0.7zM301.3 455.8h2.9v1.0h-2.9zM295.5 456.8h2.7v1.0h-2.7zM291.3 457.8h1.8v1.0h-1.8zM297.8 457.8h6.3v1.0h-6.3zM312.0 458.8h0.6v1.0h-0.6zM281.4 458.8h1.8v1.0h-1.8zM304.1 458.8h1.1v1.0h-1.1zM294.3 460.8h1.5v1.0h-1.5zM277.4 460.8h5.2v1.0h-5.2zM285.7 460.8h1.3v1.0h-1.3zM291.4 461.8h2.0v1.0h-2.0zM287.2 461.8h1.7v1.0h-1.7zM273.0 461.8h1.3v1.0h-1.3zM297.6 463.8h0.8v1.0h-0.8zM291.1 463.8h1.3v1.0h-1.3zM274.4 464.8h1.2v1.0h-1.2zM311.1 465.8h1.5v1.0h-1.5zM303.5 465.8h1.1v1.0h-1.1zM297.4 466.8h1.9v1.0h-1.9zM295.9 466.8h6.3v1.0h-6.3zM305.2 467.8h2.6v1.0h-2.6zM291.5 467.8h1.9v1.0h-1.9zM285.4 467.8h3.1v1.0h-3.1zM286.1 467.8h2.0v1.0h-2.0zM290.9 468.8h2.3v1.0h-2.3zM301.0 468.8h1.5v1.0h-1.5zM275.1 469.8h5.0v1.0h-5.0zM281.4 470.8h4.2v1.0h-4.2zM292.0 471.8h1.8v1.0h-1.8zM275.2 471.8h0.7v1.0h-0.7zM299.8 471.8h2.0v1.0h-2.0zM291.5 472.8h1.7v1.0h-1.7zM296.5 472.8h0.5v1.0h-0.5zM303.4 472.8h2.8v1.0h-2.8zM295.7 473.8h1.5v1.0h-1.5zM276.2 474.8h1.3v1.0h-1.3zM285.1 474.8h1.5v1.0h-1.5zM302.0 475.8h1.3v0.2h-1.3zM292.3 475.8h4.1v0.2h-4.1zM294.9 475.8h2.3v0.2h-2.3z"/>
<path fill="#b03a26" fill-opacity="0.75" d="M291.1 448.8h2.0v1.0h-2.0zM291.5 449.8h2.0v1.0h-2.0zM291.4 450.8h1.5v1.0h-1.5zM291.7 451.8h1.7v1.0h-1.7zM291.2 452.8h1.7v1.0h-1.7zM291.5 454.8h1.5v1.0h-1.5zM291.1 456.8h2.4v1.0h-2.4zM291.0 457.8h2.0v1.0h-2.0zM291.7 458.8h1.7v1.0h-1.7zM291.3 459.8h2.0v1.0h-2.0zM291.2 460.8h1.7v1.0h-1.7zM291.2 462.8h2.1v1.0h-2.1zM291.0 463.8h2.1v1.0h-2.1zM291.1 464.8h2.4v1.0h-2.4zM291.6 465.8h1.8v1.0h-1.8zM290.9 466.8h2.3v1.0h-2.3zM291.5 467.8h2.1v1.0h-2.1zM291.4 469.8h2.1v1.0h-2.1zM291.2 470.8h2.3v1.0h-2.3zM291.5 471.8h1.6v1.0h-1.6zM291.8 473.8h1.4v1.0h-1.4zM291.3 474.8h1.4v1.0h-1.4zM291.8 475.8h1.6v0.2h-1.6z"/>
</g>
<rect x="273.00" y="448.80" width="39.60" height="27.20" fill="none" stroke="#a8a8a8" stroke-width="0.9"/>
<rect x="315.70" y="399.80" width="39.80" height="47.80" fill="#f9e4d9" />
<g filter="url(#soft)">
<path fill="#b03a26" fill-opacity="0.1" d="M321.0 399.8h3.2v1.0h-3.2zM315.7 399.8h1.1v1.0h-1.1zM355.0 400.8h0.5v1.0h-0.5zM320.1 400.8h2.5v1.0h-2.5zM340.3 401.8h3.7v1.0h-3.7zM326.4 403.8h1.4v1.0h-1.4zM318.9 407.8h1.2v1.0h-1.2zM322.8 410.8h4.0v1.0h-4.0zM330.2 411.8h2.9v1.0h-2.9zM341.7 413.8h2.6v1.0h-2.6zM323.3 414.8h1.0v1.0h-1.0zM331.0 415.8h3.3v1.0h-3.3zM333.2 416.8h0.6v1.0h-0.6zM321.3 418.8h2.5v1.0h-2.5zM338.0 420.8h2.2v1.0h-2.2zM324.8 432.8h3.2v1.0h-3.2z"/>
<path fill="#b03a26" fill-opacity="0.2" d="M330.5 399.8h6.3v1.0h-6.3zM316.2 399.8h1.1v1.0h-1.1zM321.8 399.8h0.9v1.0h-0.9zM315.7 399.8h1.0v1.0h-1.0zM343.8 399.8h3.7v1.0h-3.7zM337.4 399.8h1.3v1.0h-1.3zM335.7 400.8h2.4v1.0h-2.4zM349.4 400.8h0.7v1.0h-0.7zM332.4 400.8h1.6v1.0h-1.6zM351.7 400.8h2.3v1.0h-2.3zM319.8 400.8h1.2v1.0h-1.2zM337.5 400.8h2.5v1.0h-2.5zM354.5 400.8h1.0v1.0h-1.0zM342.6 400.8h0.6v1.0h-0.6zM333.9 400.8h0.7v1.0h-0.7zM339.3 400.8h1.2v1.0h-1.2zM349.9 401.8h5.6v1.0h-5.6zM338.8 401.8h1.0v1.0h-1.0zM322.5 402.8h0.8v1.0h-0.8zM353.3 402.8h1.7v1.0h-1.7zM351.8 402.8h3.7v1.0h-3.7zM329.6 402.8h1.9v1.0h-1.9zM318.4 403.8h1.8v1.0h-1.8zM320.3 403.8h0.7v1.0h-0.7zM352.4 403.8h1.3v1.0h-1.3zM328.6 403.8h0.7v1.0h-0.7zM338.8 404.8h1.4v1.0h-1.4zM338.5 404.8h1.1v1.0h-1.1zM325.8 404.8h0.7v1.0h-0.7zM315.7 407.8h3.7v1.0h-3.7zM350.2 407.8h2.2v1.0h-2.2zM317.8 408.8h0.7v1.0h-0.7zM322.1 408.8h1.6v1.0h-1.6zM315.9 408.8h4.7v1.0h-4.7zM346.3 409.8h2.2v1.0h-2.2zM350.1 409.8h1.0v1.0h-1.0zM324.3 409.8h2.0v1.0h-2.0zM318.0 409.8h1.6v1.0h-1.6zM315.7 414.8h5.3v1.0h-5.3zM334.9 415.8h1.5v1.0h-1.5zM352.9 415.8h2.6v1.0h-2.6zM331.8 416.8h1.7v1.0h-1.7zM322.5 417.8h5.0v1.0h-5.0zM349.7 418.8h0.6v1.0h-0.6zM343.6 419.8h1.7v1.0h-1.7zM321.7 420.8h0.9v1.0h-0.9zM348.3 421.8h2.3v1.0h-2.3zM334.6 421.8h3.5v1.0h-3.5zM323.6 423.8h1.0v1.0h-1.0zM322.6 424.8h0.9v1.0h-0.9zM354.1 424.8h1.4v1.0h-1.4zM320.1 425.8h5.0v1.0h-5.0zM324.9 425.8h4.4v1.0h-4.4zM315.7 426.8h2.2v1.0h-2.2zM338.6 429.8h1.4v1.0h-1.4zM329.5 434.8h0.7v1.0h-0.7zM320.3 435.8h1.0v1.0h-1.0zM338.2 436.8h6.3v1.0h-6.3zM316.6 440.8h1.2v1.0h-1.2zM322.7 441.8h0.7v1.0h-0.7zM334.7 442.8h2.0v1.0h-2.0zM333.4 446.8h2.0v0.8h-2.0z"/>
<path fill="#b03a26" fill-opacity="0.32" d="M340.1 399.8h4.6v1.0h-4.6zM335.1 399.8h3.4v1.0h-3.4zM330.8 399.8h4.0v1.0h-4.0zM336.5 399.8h2.4v1.0h-2.4zM333.1 399.8h1.9v1.0h-1.9zM332.1 399.8h1.8v1.0h-1.8zM334.3 400.8h1.8v1.0h-1.8zM343.4 400.8h2.0v1.0h-2.0zM346.1 400.8h6.3v1.0h-6.3zM353.1 400.8h1.1v1.0h-1.1zM337.5 400.8h1.3v1.0h-1.3zM322.8 400.8h1.7v1.0h-1.7zM319.1 400.8h0.6v1.0h-0.6zM334.5 401.8h1.8v1.0h-1.8zM340.5 401.8h1.9v1.0h-1.9zM323.4 401.8h0.6v1.0h-0.6zM345.9 401.8h1.4v1.0h-1.4zM334.7 402.8h1.7v1.0h-1.7zM339.2 402.8h2.1v1.0h-2.1zM324.2 402.8h0.5v1.0h-0.5zM354.7 402.8h0.8v1.0h-0.8zM351.8 403.8h3.7v1.0h-3.7zM334.4 404.8h1.7v1.0h-1.7zM326.1 404.8h1.4v1.0h-1.4zM337.4 404.8h0.6v1.0h-0.6zM353.1 405.8h0.8v1.0h-0.8zM317.1 405.8h6.3v1.0h-6.3zM341.9 405.8h2.8v1.0h-2.8zM349.9 405.8h1.5v1.0h-1.5zM333.8 406.8h6.3v1.0h-6.3zM339.5 406.8h1.6v1.0h-1.6zM334.1 406.8h3.1v1.0h-3.1zM337.3 407.8h6.3v1.0h-6.3zM334.0 408.8h2.2v1.0h-2.2zM331.0 408.8h4.8v1.0h-4.8zM315.8 408.8h1.7v1.0h-1.7zM351.1 408.8h1.8v1.0h-1.8zM334.6 409.8h1.7v1.0h-1.7zM346.1 409.8h0.5v1.0h-0.5zM331.1 409.8h1.8v1.0h-1.8zM334.0 410.8h2.4v1.0h-2.4zM321.8 410.8h1.0v1.0h-1.0zM342.7 410.8h1.1v1.0h-1.1zM352.6 410.8h0.8v1.0h-0.8zM334.9 411.8h1.4v1.0h-1.4zM329.0 411.8h1.0v1.0h-1.0zM337.5 411.8h4.9v1.0h-4.9zM352.3 411.8h1.8v1.0h-1.8zM345.1 412.8h3.7v1.0h-3.7zM339.9 412.8h2.7v1.0h-2.7zM340.1 412.8h1.5v1.0h-1.5zM352.9 412.8h2.2v1.0h-2.2zM334.8 413.8h1.6v1.0h-1.6zM343.0 413.8h0.6v1.0h-0.6zM352.0 413.8h1.8v1.0h-1.8zM320.1 413.8h1.3v1.0h-1.3zM325.1 413.8h6.3v1.0h-6.3zM334.6 414.8h1.9v1.0h-1.9zM320.4 415.8h1.6v1.0h-1.6zM322.8 416.8h1.9v1.0h-1.9zM343.4 416.8h1.4v1.0h-1.4zM316.5 417.8h4.1v1.0h-4.1zM334.2 418.8h2.1v1.0h-2.1zM324.7 418.8h1.6v1.0h-1.6zM329.2 418.8h0.7v1.0h-0.7zM347.6 419.8h0.8v1.0h-0.8zM327.1 419.8h2.2v1.0h-2.2zM318.0 419.8h2.3v1.0h-2.3zM319.3 420.8h0.5v1.0h-0.5zM326.7 420.8h1.3v1.0h-1.3zM334.4 421.8h1.5v1.0h-1.5zM322.9 421.8h1.1v1.0h-1.1zM334.5 422.8h1.5v1.0h-1.5zM351.9 422.8h1.0v1.0h-1.0zM342.1 422.8h4.0v1.0h-4.0zM323.0 423.8h4.7v1.0h-4.7zM346.1 423.8h3.3v1.0h-3.3zM334.4 423.8h0.8v1.0h-0.8zM345.6 426.8h1.1v1.0h-1.1zM334.4 427.8h1.5v1.0h-1.5zM320.9 427.8h0.9v1.0h-0.9zM334.4 428.8h2.5v1.0h-2.5zM332.1 428.8h1.4v1.0h-1.4zM352.7 428.8h1.0v1.0h-1.0zM319.7 429.8h2.8v1.0h-2.8zM344.4 429.8h1.1v1.0h-1.1zM335.7 430.8h1.4v1.0h-1.4zM334.7 431.8h1.8v1.0h-1.8zM347.6 431.8h1.0v1.0h-1.0zM319.0 431.8h2.2v1.0h-2.2zM341.0 431.8h1.7v1.0h-1.7zM319.8 432.8h1.0v1.0h-1.0zM317.3 433.8h2.6v1.0h-2.6zM334.8 434.8h1.7v1.0h-1.7zM317.1 436.8h4.4v1.0h-4.4zM350.1 437.8h2.6v1.0h-2.6zM334.3 438.8h2.4v1.0h-2.4zM334.7 439.8h1.4v1.0h-1.4zM316.9 439.8h6.3v1.0h-6.3zM346.0 439.8h0.6v1.0h-0.6zM334.2 440.8h2.3v1.0h-2.3zM337.4 440.8h2.2v1.0h-2.2zM318.7 442.8h1.6v1.0h-1.6zM350.5 443.8h0.8v1.0h-0.8zM351.5 443.8h4.0v1.0h-4.0zM349.2 444.8h1.6v1.0h-1.6zM353.4 444.8h2.1v1.0h-2.1zM335.6 445.8h1.1v1.0h-1.1z"/>
<path fill="#b03a26" fill-opacity="0.5" d="M320.5 399.8h3.2v1.0h-3.2zM344.3 399.8h0.8v1.0h-0.8zM318.5 399.8h2.1v1.0h-2.1zM346.6 399.8h2.5v1.0h-2.5zM318.4 399.8h0.8v1.0h-0.8zM319.2 399.8h1.8v1.0h-1.8zM338.9 399.8h4.0v1.0h-4.0zM323.6 399.8h2.0v1.0h-2.0zM344.4 399.8h3.6v1.0h-3.6zM317.1 400.8h4.2v1.0h-4.2zM350.8 400.8h4.7v1.0h-4.7zM325.4 400.8h1.0v1.0h-1.0zM342.3 401.8h4.6v1.0h-4.6zM341.8 401.8h2.6v1.0h-2.6zM327.0 402.8h0.8v1.0h-0.8zM334.8 403.8h1.4v1.0h-1.4zM350.9 403.8h3.0v1.0h-3.0zM341.1 404.8h3.0v1.0h-3.0zM342.6 404.8h0.5v1.0h-0.5zM334.8 405.8h1.5v1.0h-1.5zM333.3 405.8h0.7v1.0h-0.7zM333.2 405.8h0.8v1.0h-0.8zM324.4 405.8h0.7v1.0h-0.7zM334.4 406.8h2.1v1.0h-2.1zM326.2 406.8h1.8v1.0h-1.8zM352.0 406.8h3.5v1.0h-3.5zM346.3 406.8h1.7v1.0h-1.7zM348.6 406.8h1.3v1.0h-1.3zM334.7 407.8h1.7v1.0h-1.7zM331.5 407.8h3.8v1.0h-3.8zM330.0 407.8h0.5v1.0h-0.5zM348.0 410.8h0.6v1.0h-0.6zM347.8 410.8h0.6v1.0h-0.6zM326.4 411.8h1.2v1.0h-1.2zM343.8 411.8h2.2v1.0h-2.2zM334.4 412.8h1.4v1.0h-1.4zM348.7 412.8h4.2v1.0h-4.2zM327.2 413.8h1.9v1.0h-1.9zM344.2 414.8h0.9v1.0h-0.9zM341.7 414.8h0.7v1.0h-0.7zM341.1 414.8h3.6v1.0h-3.6zM348.8 415.8h1.3v1.0h-1.3zM348.4 415.8h0.6v1.0h-0.6zM334.9 416.8h1.4v1.0h-1.4zM324.8 416.8h1.5v1.0h-1.5zM334.1 417.8h2.2v1.0h-2.2zM333.8 417.8h2.4v1.0h-2.4zM333.1 417.8h0.7v1.0h-0.7zM334.7 419.8h1.7v1.0h-1.7zM334.6 420.8h1.7v1.0h-1.7zM354.2 421.8h1.3v1.0h-1.3zM353.2 422.8h2.3v1.0h-2.3zM342.6 422.8h1.6v1.0h-1.6zM334.4 423.8h1.8v1.0h-1.8zM334.5 424.8h1.3v1.0h-1.3zM338.7 424.8h0.7v1.0h-0.7zM334.7 425.8h1.6v1.0h-1.6zM351.8 425.8h2.3v1.0h-2.3zM334.2 426.8h2.2v1.0h-2.2zM344.8 426.8h2.5v1.0h-2.5zM323.4 427.8h1.2v1.0h-1.2zM339.3 427.8h0.7v1.0h-0.7zM334.9 429.8h1.6v1.0h-1.6zM334.1 430.8h2.2v1.0h-2.2zM318.0 430.8h2.8v1.0h-2.8zM338.5 430.8h1.1v1.0h-1.1zM334.9 432.8h1.5v1.0h-1.5zM334.8 433.8h1.4v1.0h-1.4zM338.0 433.8h0.5v1.0h-0.5zM320.3 434.8h1.8v1.0h-1.8zM334.5 435.8h2.4v1.0h-2.4zM343.5 435.8h6.3v1.0h-6.3zM343.4 435.8h1.9v1.0h-1.9zM334.2 436.8h2.0v1.0h-2.0zM334.4 437.8h1.7v1.0h-1.7zM329.2 437.8h2.4v1.0h-2.4zM331.9 438.8h1.5v1.0h-1.5zM334.6 441.8h1.8v1.0h-1.8zM341.3 441.8h6.3v1.0h-6.3zM335.4 442.8h1.7v1.0h-1.7zM334.1 443.8h2.4v1.0h-2.4zM334.4 444.8h1.8v1.0h-1.8zM334.8 445.8h1.5v1.0h-1.5zM340.5 445.8h2.9v1.0h-2.9zM334.4 446.8h2.2v0.8h-2.2z"/>
<path fill="#b03a26" fill-opacity="0.75" d="M334.6 399.8h2.0v1.0h-2.0z"/>
</g>
<rect x="315.70" y="399.80" width="39.80" height="47.80" fill="none" stroke="#a8a8a8" stroke-width="0.9"/>
<rect x="315.70" y="448.80" width="39.80" height="27.20" fill="#f9e4d9" />
<g filter="url(#soft)">
<path fill="#b03a26" fill-opacity="0.1" d="M351.3 448.8h0.9v1.0h-0.9zM347.4 449.8h6.3v1.0h-6.3zM352.6 452.8h0.9v1.0h-0.9zM342.5 452.8h0.7v1.0h-0.7zM354.8 458.8h0.5v1.0h-0.5zM320.5 460.8h0.7v1.0h-0.7zM328.0 461.8h1.6v1.0h-1.6zM336.2 463.8h4.2v1.0h-4.2zM325.7 466.8h0.6v1.0h-0.6zM340.9 468.8h2.1v1.0h-2.1zM332.2 471.8h1.8v1.0h-1.8z"/>
<path fill="#b03a26" fill-opacity="0.2" d="M318.4 448.8h1.2v1.0h-1.2zM331.1 448.8h3.4v1.0h-3.4zM330.2 448.8h2.1v1.0h-2.1zM318.4 448.8h0.6v1.0h-0.6zM317.9 448.8h1.3v1.0h-1.3zM341.1 448.8h6.2v1.0h-6.2zM341.1 448.8h0.8v1.0h-0.8zM333.0 449.8h1.5v1.0h-1.5zM341.9 449.8h1.6v1.0h-1.6zM316.7 449.8h3.8v1.0h-3.8zM336.7 449.8h1.5v1.0h-1.5zM328.4 449.8h0.6v1.0h-0.6zM328.2 449.8h0.6v1.0h-0.6zM354.1 449.8h1.4v1.0h-1.4zM349.5 450.8h0.7v1.0h-0.7zM331.3 450.8h0.6v1.0h-0.6zM329.5 451.8h5.0v1.0h-5.0zM349.7 451.8h2.8v1.0h-2.8zM341.3 451.8h1.6v1.0h-1.6zM325.8 452.8h1.6v1.0h-1.6zM335.7 452.8h1.8v1.0h-1.8zM320.8 452.8h1.1v1.0h-1.1zM347.6 453.8h1.3v1.0h-1.3zM352.8 453.8h2.7v1.0h-2.7zM351.2 453.8h1.7v1.0h-1.7zM315.7 454.8h0.7v1.0h-0.7zM335.9 454.8h3.9v1.0h-3.9zM349.6 454.8h0.7v1.0h-0.7zM320.1 455.8h1.8v1.0h-1.8zM345.8 455.8h6.3v1.0h-6.3zM338.2 456.8h1.4v1.0h-1.4zM322.7 456.8h3.5v1.0h-3.5zM329.2 456.8h3.7v1.0h-3.7zM352.2 456.8h0.7v1.0h-0.7zM344.2 457.8h1.2v1.0h-1.2zM347.1 457.8h0.7v1.0h-0.7zM320.3 457.8h1.1v1.0h-1.1zM347.6 457.8h3.0v1.0h-3.0zM354.2 457.8h1.1v1.0h-1.1zM351.9 457.8h1.4v1.0h-1.4zM348.9 458.8h3.2v1.0h-3.2zM340.3 458.8h2.7v1.0h-2.7zM328.4 458.8h1.1v1.0h-1.1zM327.4 459.8h0.7v1.0h-0.7zM340.3 462.8h5.8v1.0h-5.8zM335.5 462.8h3.0v1.0h-3.0zM341.0 463.8h0.9v1.0h-0.9zM353.6 463.8h1.5v1.0h-1.5zM346.6 463.8h1.2v1.0h-1.2zM347.3 464.8h0.7v1.0h-0.7zM352.4 464.8h3.1v1.0h-3.1zM316.8 464.8h1.9v1.0h-1.9zM340.7 465.8h4.3v1.0h-4.3zM336.9 465.8h1.8v1.0h-1.8zM352.4 465.8h3.1v1.0h-3.1zM322.0 466.8h1.4v1.0h-1.4zM318.1 466.8h1.0v1.0h-1.0zM329.3 466.8h0.9v1.0h-0.9zM329.4 467.8h1.4v1.0h-1.4zM345.0 468.8h3.4v1.0h-3.4zM346.1 468.8h1.4v1.0h-1.4zM321.5 469.8h2.8v1.0h-2.8zM321.5 469.8h1.9v1.0h-1.9zM352.9 469.8h2.6v1.0h-2.6zM338.5 470.8h3.3v1.0h-3.3zM354.0 470.8h0.8v1.0h-0.8zM319.6 471.8h2.2v1.0h-2.2zM349.6 472.8h0.9v1.0h-0.9zM317.5 472.8h6.3v1.0h-6.3zM349.4 472.8h1.1v1.0h-1.1zM350.9 472.8h0.9v1.0h-0.9zM322.4 473.8h2.4v1.0h-2.4zM354.1 473.8h0.9v1.0h-0.9zM332.4 473.8h3.0v1.0h-3.0zM333.2 474.8h4.3v1.0h-4.3zM328.4 474.8h2.6v1.0h-2.6zM325.7 474.8h5.5v1.0h-5.5zM319.5 475.8h1.3v0.2h-1.3zM350.8 475.8h1.1v0.2h-1.1z"/>
<path fill="#b03a26" fill-opacity="0.32" d="M325.1 448.8h1.4v1.0h-1.4zM315.8 448.8h1.9v1.0h-1.9zM352.5 448.8h1.0v1.0h-1.0zM350.8 448.8h4.7v1.0h-4.7zM332.8 448.8h1.4v1.0h-1.4zM323.0 449.8h4.7v1.0h-4.7zM319.0 449.8h0.8v1.0h-0.8zM322.2 449.8h2.7v1.0h-2.7zM347.1 449.8h0.6v1.0h-0.6zM318.0 449.8h4.0v1.0h-4.0zM349.6 449.8h1.2v1.0h-1.2zM320.4 449.8h2.8v1.0h-2.8zM319.7 450.8h6.3v1.0h-6.3zM334.7 450.8h2.2v1.0h-2.2zM352.9 450.8h2.6v1.0h-2.6zM345.5 450.8h1.8v1.0h-1.8zM339.3 451.8h2.6v1.0h-2.6zM340.3 451.8h0.5v1.0h-0.5zM325.9 451.8h5.1v1.0h-5.1zM319.8 452.8h6.3v1.0h-6.3zM337.0 452.8h5.4v1.0h-5.4zM352.5 452.8h1.5v1.0h-1.5zM326.4 453.8h2.0v1.0h-2.0zM335.5 453.8h6.2v1.0h-6.2zM347.1 454.8h0.6v1.0h-0.6zM331.4 454.8h0.9v1.0h-0.9zM325.6 454.8h1.5v1.0h-1.5zM317.3 454.8h2.5v1.0h-2.5zM342.5 455.8h1.3v1.0h-1.3zM343.9 455.8h2.1v1.0h-2.1zM348.5 455.8h1.6v1.0h-1.6zM345.0 455.8h2.8v1.0h-2.8zM323.5 455.8h1.0v1.0h-1.0zM339.7 456.8h1.4v1.0h-1.4zM337.7 456.8h0.6v1.0h-0.6zM350.1 457.8h1.2v1.0h-1.2zM332.0 458.8h1.8v1.0h-1.8zM330.0 458.8h5.3v1.0h-5.3zM321.6 458.8h0.6v1.0h-0.6zM329.0 459.8h0.9v1.0h-0.9zM333.6 459.8h1.3v1.0h-1.3zM347.9 459.8h1.7v1.0h-1.7zM346.0 459.8h0.9v1.0h-0.9zM332.6 460.8h1.3v1.0h-1.3zM331.8 460.8h4.4v1.0h-4.4zM330.0 460.8h6.3v1.0h-6.3zM329.5 460.8h1.7v1.0h-1.7zM353.9 460.8h1.6v1.0h-1.6zM332.3 461.8h6.3v1.0h-6.3zM349.9 461.8h2.4v1.0h-2.4zM333.9 461.8h6.3v1.0h-6.3zM339.0 461.8h1.4v1.0h-1.4zM323.4 462.8h0.7v1.0h-0.7zM324.2 462.8h5.5v1.0h-5.5zM331.2 462.8h1.0v1.0h-1.0zM324.0 462.8h1.1v1.0h-1.1zM335.7 462.8h0.9v1.0h-0.9zM336.1 463.8h3.3v1.0h-3.3zM335.7 463.8h2.5v1.0h-2.5zM347.9 463.8h1.8v1.0h-1.8zM352.5 463.8h3.0v1.0h-3.0zM321.9 464.8h0.9v1.0h-0.9zM327.6 464.8h1.2v1.0h-1.2zM315.7 464.8h1.5v1.0h-1.5zM336.2 464.8h2.6v1.0h-2.6zM316.4 465.8h6.3v1.0h-6.3zM316.4 465.8h3.8v1.0h-3.8zM341.4 466.8h1.1v1.0h-1.1zM345.8 466.8h1.6v1.0h-1.6zM343.2 466.8h0.6v1.0h-0.6zM332.2 467.8h0.9v1.0h-0.9zM352.4 467.8h1.7v1.0h-1.7zM335.8 467.8h1.5v1.0h-1.5zM322.6 467.8h4.5v1.0h-4.5zM338.4 468.8h0.8v1.0h-0.8zM329.5 468.8h1.6v1.0h-1.6zM315.8 469.8h3.0v1.0h-3.0zM338.4 469.8h1.5v1.0h-1.5zM345.3 470.8h6.1v1.0h-6.1zM348.2 470.8h4.7v1.0h-4.7zM339.4 470.8h2.0v1.0h-2.0zM327.7 470.8h1.7v1.0h-1.7zM327.4 470.8h1.8v1.0h-1.8zM321.6 471.8h1.0v1.0h-1.0zM350.8 471.8h4.7v1.0h-4.7zM341.6 471.8h0.6v1.0h-0.6zM315.9 471.8h1.1v1.0h-1.1zM324.7 472.8h6.3v1.0h-6.3zM339.2 472.8h1.0v1.0h-1.0zM332.5 473.8h0.6v1.0h-0.6zM322.4 473.8h1.8v1.0h-1.8zM323.1 473.8h0.6v1.0h-0.6zM352.4 474.8h3.1v1.0h-3.1zM328.9 474.8h1.0v1.0h-1.0zM355.0 474.8h0.5v1.0h-0.5zM329.4 474.8h0.7v1.0h-0.7zM340.6 475.8h1.6v0.2h-1.6zM317.4 475.8h6.3v0.2h-6.3zM349.8 475.8h5.7v0.2h-5.7zM330.8 475.8h4.1v0.2h-4.1z"/>
<path fill="#b03a26" fill-opacity="0.5" d="M326.3 448.8h0.9v1.0h-0.9zM337.8 448.8h0.8v1.0h-0.8zM350.6 448.8h0.6v1.0h-0.6zM339.0 448.8h6.3v1.0h-6.3zM344.0 448.8h1.8v1.0h-1.8zM329.6 448.8h0.7v1.0h-0.7zM315.9 448.8h0.7v1.0h-0.7zM335.3 448.8h6.2v1.0h-6.2zM322.0 448.8h0.7v1.0h-0.7zM334.0 449.8h2.3v1.0h-2.3zM328.8 449.8h3.3v1.0h-3.3zM315.7 449.8h0.7v1.0h-0.7zM335.5 449.8h0.9v1.0h-0.9zM340.5 449.8h1.3v1.0h-1.3zM352.1 449.8h2.1v1.0h-2.1zM322.4 449.8h4.4v1.0h-4.4zM339.2 449.8h5.8v1.0h-5.8zM332.9 450.8h1.5v1.0h-1.5zM332.6 450.8h0.8v1.0h-0.8zM318.7 451.8h1.2v1.0h-1.2zM353.7 451.8h0.8v1.0h-0.8zM334.3 453.8h2.2v1.0h-2.2zM316.5 453.8h1.6v1.0h-1.6zM341.5 453.8h4.7v1.0h-4.7zM332.8 453.8h4.2v1.0h-4.2zM322.6 454.8h1.6v1.0h-1.6zM331.1 455.8h0.6v1.0h-0.6zM334.3 456.8h2.1v1.0h-2.1zM335.5 456.8h1.3v1.0h-1.3zM315.7 456.8h1.4v1.0h-1.4zM315.7 457.8h4.0v1.0h-4.0zM350.3 458.8h1.1v1.0h-1.1zM354.0 459.8h1.5v1.0h-1.5zM331.2 459.8h2.5v1.0h-2.5zM338.5 459.8h3.3v1.0h-3.3zM334.5 460.8h1.9v1.0h-1.9zM351.7 460.8h1.5v1.0h-1.5zM333.8 460.8h1.9v1.0h-1.9zM325.3 461.8h2.3v1.0h-2.3zM330.1 461.8h1.3v1.0h-1.3zM328.6 461.8h0.7v1.0h-0.7zM334.4 462.8h2.3v1.0h-2.3zM316.1 462.8h2.1v1.0h-2.1zM315.8 464.8h3.2v1.0h-3.2zM355.1 465.8h0.4v1.0h-0.4zM316.1 465.8h6.3v1.0h-6.3zM342.9 465.8h2.8v1.0h-2.8zM327.1 466.8h1.3v1.0h-1.3zM345.9 467.8h0.5v1.0h-0.5zM332.4 467.8h2.1v1.0h-2.1zM348.7 467.8h1.2v1.0h-1.2zM334.1 468.8h2.4v1.0h-2.4zM324.4 468.8h2.0v1.0h-2.0zM349.8 468.8h5.7v1.0h-5.7zM340.6 468.8h3.1v1.0h-3.1zM334.3 469.8h1.8v1.0h-1.8zM331.1 469.8h1.7v1.0h-1.7zM337.4 469.8h1.0v1.0h-1.0zM333.7 469.8h6.3v1.0h-6.3zM334.1 470.8h3.5v1.0h-3.5zM317.9 471.8h1.1v1.0h-1.1zM348.0 471.8h1.8v1.0h-1.8zM323.4 472.8h0.6v1.0h-0.6zM342.9 472.8h4.0v1.0h-4.0zM334.6 473.8h1.6v1.0h-1.6zM337.6 473.8h3.7v1.0h-3.7zM331.9 473.8h2.5v1.0h-2.5zM325.7 474.8h4.4v1.0h-4.4zM334.2 475.8h1.7v0.2h-1.7zM339.2 475.8h1.5v0.2h-1.5zM350.7 475.8h2.5v0.2h-2.5z"/>
<path fill="#b03a26" fill-opacity="0.75" d="M334.5 448.8h1.5v1.0h-1.5zM334.6 450.8h1.5v1.0h-1.5zM334.2 451.8h2.1v1.0h-2.1zM334.3 452.8h1.8v1.0h-1.8zM334.5 454.8h2.0v1.0h-2.0zM334.8 455.8h1.6v1.0h-1.6zM334.7 457.8h1.8v1.0h-1.8zM334.5 458.8h1.4v1.0h-1.4zM334.4 459.8h1.6v1.0h-1.6zM334.3 461.8h2.4v1.0h-2.4zM334.4 463.8h2.4v1.0h-2.4zM334.8 464.8h1.8v1.0h-1.8zM334.7 465.8h1.5v1.0h-1.5zM335.0 466.8h1.4v1.0h-1.4zM334.3 467.8h1.8v1.0h-1.8zM334.8 470.8h1.6v1.0h-1.6zM334.2 471.8h1.9v1.0h-1.9zM334.2 472.8h2.4v1.0h-2.4zM334.7 474.8h1.4v1.0h-1.4z"/>
</g>
<rect x="315.70" y="448.80" width="39.80" height="27.20" fill="none" stroke="#a8a8a8" stroke-width="0.9"/>
<defs><linearGradient id="gRed"><stop offset="0" stop-color="#fff"/><stop offset="0.45" stop-color="#f0a088"/><stop offset="0.8" stop-color="#c43020"/><stop offset="1" stop-color="#6a0010"/></linearGradient></defs>
<rect x="273.00" y="480.20" width="39.60" height="3.60" fill="url(#gRed)" stroke="#8a8a8a" stroke-width="0.5" />
<text x="274.00" y="491.29" font-size="7.19" text-anchor="middle" style="stroke-width:0.10px">0</text>
<text x="288.80" y="491.29" font-size="7.19" text-anchor="middle" style="stroke-width:0.10px">10</text>
<text x="305.30" y="491.29" font-size="7.19" text-anchor="middle" style="stroke-width:0.10px">20</text>
<rect x="315.70" y="480.20" width="39.80" height="3.60" fill="url(#gRed)" stroke="#8a8a8a" stroke-width="0.5" />
<text x="316.70" y="491.29" font-size="7.19" text-anchor="middle" style="stroke-width:0.10px">0</text>
<text x="331.50" y="491.29" font-size="7.19" text-anchor="middle" style="stroke-width:0.10px">10</text>
<text x="348.00" y="491.29" font-size="7.19" text-anchor="middle" style="stroke-width:0.10px">20</text>
<text x="411.14" y="397.49" font-size="6.645" text-anchor="middle" style="stroke-width:0.07px" textLength="32.14" lengthAdjust="spacingAndGlyphs">Decreased</text>
<line x1="395.60" y1="402.40" x2="395.60" y2="472.60" stroke="#9a9a9a" stroke-width="0.6" />
<line x1="395.60" y1="472.60" x2="426.80" y2="472.60" stroke="#9a9a9a" stroke-width="0.6" />
<line x1="392.60" y1="405.00" x2="395.00" y2="405.00" stroke="#231f20" stroke-width="1.0" />
<text x="390.60" y="407.08" font-size="5.768" text-anchor="end" style="stroke-width:0.04px" textLength="12.83" lengthAdjust="spacingAndGlyphs">1000</text>
<line x1="392.60" y1="422.30" x2="395.00" y2="422.30" stroke="#231f20" stroke-width="1.0" />
<text x="390.62" y="424.38" font-size="5.788" text-anchor="end" style="stroke-width:0.04px" textLength="9.66" lengthAdjust="spacingAndGlyphs">100</text>
<line x1="392.60" y1="439.70" x2="395.00" y2="439.70" stroke="#231f20" stroke-width="1.0" />
<text x="390.62" y="441.86" font-size="6.0" text-anchor="end" style="stroke-width:0.04px" textLength="6.67" lengthAdjust="spacingAndGlyphs">10</text>
<line x1="392.60" y1="457.00" x2="395.00" y2="457.00" stroke="#231f20" stroke-width="1.0" />
<text x="390.72" y="459.48" font-size="6.897" text-anchor="end" style="stroke-width:0.09px" textLength="3.84" lengthAdjust="spacingAndGlyphs">1</text>
<g transform="translate(369.20 439.40) rotate(-90)">
<text x="0.00" y="2.95" font-size="8.2" text-anchor="middle" style="stroke-width:0.14px" textLength="34.60" lengthAdjust="spacingAndGlyphs">GATA1 signal</text>
</g>
<path d="M404.30 418.30V415.50H419.90V418.30" fill="none" stroke="#231f20" stroke-width="1.1"/>
<text x="411.91" y="411.80" font-size="4.447" text-anchor="middle" style="stroke-width:0.04px" textLength="23.04" lengthAdjust="spacingAndGlyphs"><tspan font-style="italic">P</tspan> &lt; 2.2e-16</text>
<line x1="404.80" y1="449.00" x2="404.80" y2="452.50" stroke="#231f20" stroke-width="0.8" />
<path d="M404.80 430.00 L404.93 430.50 L405.12 431.00 L405.34 431.50 L405.57 432.00 L405.80 432.50 L406.00 433.00 L406.17 433.50 L406.32 434.00 L406.46 434.50 L406.61 435.00 L406.79 435.50 L407.00 436.00 L407.24 436.50 L407.48 437.00 L407.75 437.50 L408.05 438.00 L408.40 438.50 L408.80 439.00 L409.12 439.50 L409.52 440.00 L409.97 440.50 L410.44 441.00 L410.90 441.50 L411.33 442.00 L411.70 442.50 L411.99 443.00 L412.17 443.50 L412.20 444.00 L411.98 444.50 L411.56 445.00 L411.01 445.50 L410.40 446.00 L409.80 446.50 L408.84 447.00 L407.71 447.50 L406.63 448.00 L405.80 448.50 L405.05 449.00 L404.80 449.50 L404.80 449.50 L404.55 449.00 L403.80 448.50 L402.97 448.00 L401.89 447.50 L400.76 447.00 L399.80 446.50 L399.20 446.00 L398.59 445.50 L398.04 445.00 L397.62 444.50 L397.40 444.00 L397.43 443.50 L397.61 443.00 L397.90 442.50 L398.27 442.00 L398.70 441.50 L399.16 441.00 L399.63 440.50 L400.08 440.00 L400.48 439.50 L400.80 439.00 L401.20 438.50 L401.55 438.00 L401.85 437.50 L402.12 437.00 L402.36 436.50 L402.60 436.00 L402.81 435.50 L402.99 435.00 L403.14 434.50 L403.28 434.00 L403.43 433.50 L403.60 433.00 L403.80 432.50 L404.03 432.00 L404.26 431.50 L404.48 431.00 L404.67 430.50 L404.80 430.00Z" fill="#3d5d9c" stroke="#231f20" stroke-width="0.4"/>
<path d="M404.80 422.00 L404.84 422.50 L404.91 423.00 L404.98 423.50 L405.05 424.00 L405.07 424.50 L405.10 425.00 L405.12 425.50 L405.15 426.00 L405.18 426.50 L405.21 427.00 L405.23 427.50 L405.26 428.00 L405.28 428.50 L405.31 429.00 L405.33 429.50 L405.35 430.00 L405.39 430.50 L405.44 431.00 L405.49 431.50 L405.52 432.00 L405.53 432.50 L405.50 433.00 L405.37 433.50 L405.16 434.00 L404.95 434.50 L404.80 435.00 L404.80 435.00 L404.65 434.50 L404.44 434.00 L404.23 433.50 L404.10 433.00 L404.07 432.50 L404.08 432.00 L404.11 431.50 L404.16 431.00 L404.21 430.50 L404.25 430.00 L404.27 429.50 L404.29 429.00 L404.32 428.50 L404.34 428.00 L404.37 427.50 L404.39 427.00 L404.42 426.50 L404.45 426.00 L404.48 425.50 L404.50 425.00 L404.53 424.50 L404.55 424.00 L404.62 423.50 L404.69 423.00 L404.76 422.50 L404.80 422.00Z" fill="#111" stroke="#231f20" stroke-width="0.15"/>
<rect x="403.60" y="439.50" width="2.4" height="7.00" fill="#fff" stroke="#231f20" stroke-width="0.4"/>
<circle cx="404.80" cy="443.00" r="0.55" fill="#231f20"/>
<line x1="419.50" y1="455.00" x2="419.50" y2="467.00" stroke="#231f20" stroke-width="0.8" />
<path d="M419.50 433.00 L419.59 433.50 L419.71 434.00 L419.85 434.50 L420.01 435.00 L420.18 435.50 L420.36 436.00 L420.53 436.50 L420.70 437.00 L420.86 437.50 L421.03 438.00 L421.19 438.50 L421.36 439.00 L421.54 439.50 L421.72 440.00 L421.90 440.50 L422.10 441.00 L422.34 441.50 L422.61 442.00 L422.89 442.50 L423.16 443.00 L423.43 443.50 L423.68 444.00 L423.90 444.50 L424.14 445.00 L424.39 445.50 L424.62 446.00 L424.80 446.50 L424.91 447.00 L424.91 447.50 L424.81 448.00 L424.60 448.50 L424.32 449.00 L423.99 449.50 L423.62 450.00 L423.25 450.50 L422.90 451.00 L422.59 451.50 L422.25 452.00 L421.89 452.50 L421.52 453.00 L421.17 453.50 L420.84 454.00 L420.54 454.50 L420.30 455.00 L419.87 455.50 L419.64 456.00 L419.50 456.50 L419.50 456.50 L419.36 456.00 L419.13 455.50 L418.70 455.00 L418.46 454.50 L418.16 454.00 L417.83 453.50 L417.48 453.00 L417.11 452.50 L416.75 452.00 L416.41 451.50 L416.10 451.00 L415.75 450.50 L415.38 450.00 L415.01 449.50 L414.68 449.00 L414.40 448.50 L414.19 448.00 L414.09 447.50 L414.09 447.00 L414.20 446.50 L414.38 446.00 L414.61 445.50 L414.86 445.00 L415.10 444.50 L415.32 444.00 L415.57 443.50 L415.84 443.00 L416.11 442.50 L416.39 442.00 L416.66 441.50 L416.90 441.00 L417.10 440.50 L417.28 440.00 L417.46 439.50 L417.64 439.00 L417.81 438.50 L417.97 438.00 L418.14 437.50 L418.30 437.00 L418.47 436.50 L418.64 436.00 L418.82 435.50 L418.99 435.00 L419.15 434.50 L419.29 434.00 L419.41 433.50 L419.50 433.00Z" fill="#3d5d9c" stroke="#231f20" stroke-width="0.4"/>
<path d="M419.50 425.00 L419.54 425.50 L419.61 426.00 L419.68 426.50 L419.75 427.00 L419.77 427.50 L419.78 428.00 L419.80 428.50 L419.82 429.00 L419.83 429.50 L419.85 430.00 L419.87 430.50 L419.89 431.00 L419.91 431.50 L419.92 432.00 L419.94 432.50 L419.96 433.00 L419.98 433.50 L419.99 434.00 L420.01 434.50 L420.02 435.00 L420.04 435.50 L420.05 436.00 L420.09 436.50 L420.14 437.00 L420.19 437.50 L420.22 438.00 L420.23 438.50 L420.20 439.00 L420.07 439.50 L419.86 440.00 L419.65 440.50 L419.50 441.00 L419.50 441.00 L419.35 440.50 L419.14 440.00 L418.93 439.50 L418.80 439.00 L418.77 438.50 L418.78 438.00 L418.81 437.50 L418.86 437.00 L418.91 436.50 L418.95 436.00 L418.96 435.50 L418.98 435.00 L418.99 434.50 L419.01 434.00 L419.02 433.50 L419.04 433.00 L419.06 432.50 L419.08 432.00 L419.09 431.50 L419.11 431.00 L419.13 430.50 L419.15 430.00 L419.17 429.50 L419.18 429.00 L419.20 428.50 L419.22 428.00 L419.23 427.50 L419.25 427.00 L419.32 426.50 L419.39 426.00 L419.46 425.50 L419.50 425.00Z" fill="#111" stroke="#231f20" stroke-width="0.15"/>
<rect x="418.30" y="443.00" width="2.4" height="7.50" fill="#fff" stroke="#231f20" stroke-width="0.4"/>
<circle cx="419.50" cy="446.75" r="0.55" fill="#231f20"/>
<line x1="404.80" y1="472.60" x2="404.80" y2="475.20" stroke="#231f20" stroke-width="0.9" />
<g transform="translate(406.40 477.80) rotate(-45)"><text x="0" y="2.30" font-size="6.4" text-anchor="end" textLength="7.8" lengthAdjust="spacingAndGlyphs">WT</text></g>
<line x1="419.50" y1="472.60" x2="419.50" y2="475.20" stroke="#231f20" stroke-width="0.9" />
<g transform="translate(421.10 477.80) rotate(-45)"><text x="0" y="2.30" font-size="6.4" text-anchor="end" textLength="17.5" lengthAdjust="spacingAndGlyphs">F11KO</text></g>
<text x="484.91" y="397.49" font-size="6.627" text-anchor="middle" style="stroke-width:0.07px" textLength="29.10" lengthAdjust="spacingAndGlyphs">Increased</text>
<line x1="469.20" y1="402.40" x2="469.20" y2="472.60" stroke="#9a9a9a" stroke-width="0.6" />
<line x1="469.20" y1="472.60" x2="499.90" y2="472.60" stroke="#9a9a9a" stroke-width="0.6" />
<line x1="466.20" y1="405.00" x2="468.60" y2="405.00" stroke="#231f20" stroke-width="1.0" />
<text x="464.50" y="407.08" font-size="5.768" text-anchor="end" style="stroke-width:0.04px" textLength="12.83" lengthAdjust="spacingAndGlyphs">1000</text>
<line x1="466.20" y1="422.30" x2="468.60" y2="422.30" stroke="#231f20" stroke-width="1.0" />
<text x="464.52" y="424.38" font-size="5.788" text-anchor="end" style="stroke-width:0.04px" textLength="9.66" lengthAdjust="spacingAndGlyphs">100</text>
<line x1="466.20" y1="439.70" x2="468.60" y2="439.70" stroke="#231f20" stroke-width="1.0" />
<text x="464.52" y="441.86" font-size="6.0" text-anchor="end" style="stroke-width:0.04px" textLength="6.67" lengthAdjust="spacingAndGlyphs">10</text>
<line x1="466.20" y1="457.00" x2="468.60" y2="457.00" stroke="#231f20" stroke-width="1.0" />
<text x="464.62" y="459.48" font-size="6.897" text-anchor="end" style="stroke-width:0.09px" textLength="3.84" lengthAdjust="spacingAndGlyphs">1</text>
<g transform="translate(445.50 439.40) rotate(-90)">
<text x="0.00" y="2.95" font-size="8.2" text-anchor="middle" style="stroke-width:0.14px" textLength="34.60" lengthAdjust="spacingAndGlyphs">GATA1 signal</text>
</g>
<path d="M477.30 418.30V415.50H492.00V418.30" fill="none" stroke="#231f20" stroke-width="1.1"/>
<text x="485.43" y="411.78" font-size="4.394" text-anchor="middle" style="stroke-width:0.04px" textLength="18.86" lengthAdjust="spacingAndGlyphs"><tspan font-style="italic">P</tspan> = 0.019</text>
<line x1="478.20" y1="450.00" x2="478.20" y2="455.00" stroke="#231f20" stroke-width="0.8" />
<path d="M478.20 429.00 L478.30 429.50 L478.44 430.00 L478.60 430.50 L478.77 431.00 L478.96 431.50 L479.15 432.00 L479.33 432.50 L479.50 433.00 L479.65 433.50 L479.79 434.00 L479.93 434.50 L480.07 435.00 L480.21 435.50 L480.36 436.00 L480.52 436.50 L480.70 437.00 L480.96 437.50 L481.23 438.00 L481.52 438.50 L481.83 439.00 L482.15 439.50 L482.50 440.00 L482.85 440.50 L483.27 441.00 L483.72 441.50 L484.16 442.00 L484.54 442.50 L484.84 443.00 L485.00 443.50 L485.03 444.00 L484.93 444.50 L484.72 445.00 L484.44 445.50 L484.09 446.00 L483.70 446.50 L483.12 447.00 L482.39 447.50 L481.60 448.00 L480.84 448.50 L480.20 449.00 L479.35 449.50 L478.66 450.00 L478.20 450.50 L478.20 450.50 L477.74 450.00 L477.05 449.50 L476.20 449.00 L475.56 448.50 L474.80 448.00 L474.01 447.50 L473.28 447.00 L472.70 446.50 L472.31 446.00 L471.96 445.50 L471.68 445.00 L471.47 444.50 L471.37 444.00 L471.40 443.50 L471.56 443.00 L471.86 442.50 L472.24 442.00 L472.68 441.50 L473.13 441.00 L473.55 440.50 L473.90 440.00 L474.25 439.50 L474.57 439.00 L474.88 438.50 L475.17 438.00 L475.44 437.50 L475.70 437.00 L475.88 436.50 L476.04 436.00 L476.19 435.50 L476.33 435.00 L476.47 434.50 L476.61 434.00 L476.75 433.50 L476.90 433.00 L477.07 432.50 L477.25 432.00 L477.44 431.50 L477.62 431.00 L477.80 430.50 L477.96 430.00 L478.10 429.50 L478.20 429.00Z" fill="#d4705e" stroke="#231f20" stroke-width="0.4"/>
<path d="M478.20 420.50 L478.24 421.00 L478.31 421.50 L478.38 422.00 L478.45 422.50 L478.47 423.00 L478.49 423.50 L478.51 424.00 L478.53 424.50 L478.55 425.00 L478.57 425.50 L478.60 426.00 L478.62 426.50 L478.64 427.00 L478.66 427.50 L478.68 428.00 L478.70 428.50 L478.72 429.00 L478.73 429.50 L478.75 430.00 L478.79 430.50 L478.84 431.00 L478.89 431.50 L478.92 432.00 L478.93 432.50 L478.90 433.00 L478.77 433.50 L478.56 434.00 L478.35 434.50 L478.20 435.00 L478.20 435.00 L478.05 434.50 L477.84 434.00 L477.63 433.50 L477.50 433.00 L477.47 432.50 L477.48 432.00 L477.51 431.50 L477.56 431.00 L477.61 430.50 L477.65 430.00 L477.67 429.50 L477.68 429.00 L477.70 428.50 L477.72 428.00 L477.74 427.50 L477.76 427.00 L477.78 426.50 L477.80 426.00 L477.83 425.50 L477.85 425.00 L477.87 424.50 L477.89 424.00 L477.91 423.50 L477.93 423.00 L477.95 422.50 L478.02 422.00 L478.09 421.50 L478.16 421.00 L478.20 420.50Z" fill="#111" stroke="#231f20" stroke-width="0.15"/>
<rect x="477.00" y="439.50" width="2.4" height="6.50" fill="#fff" stroke="#231f20" stroke-width="0.4"/>
<circle cx="478.20" cy="442.75" r="0.55" fill="#231f20"/>
<line x1="491.50" y1="456.00" x2="491.50" y2="461.00" stroke="#231f20" stroke-width="0.8" />
<path d="M491.50 427.00 L491.60 427.50 L491.73 428.00 L491.88 428.50 L492.05 429.00 L492.24 429.50 L492.43 430.00 L492.62 430.50 L492.82 431.00 L493.00 431.50 L493.14 432.00 L493.29 432.50 L493.43 433.00 L493.57 433.50 L493.72 434.00 L493.87 434.50 L494.02 435.00 L494.18 435.50 L494.35 436.00 L494.52 436.50 L494.70 437.00 L494.89 437.50 L495.11 438.00 L495.35 438.50 L495.60 439.00 L495.86 439.50 L496.12 440.00 L496.36 440.50 L496.59 441.00 L496.78 441.50 L496.93 442.00 L497.04 442.50 L497.10 443.00 L497.08 443.50 L496.95 444.00 L496.74 444.50 L496.48 445.00 L496.17 445.50 L495.86 446.00 L495.56 446.50 L495.30 447.00 L495.05 447.50 L494.80 448.00 L494.53 448.50 L494.26 449.00 L494.00 449.50 L493.75 450.00 L493.51 450.50 L493.30 451.00 L493.11 451.50 L492.93 452.00 L492.77 452.50 L492.61 453.00 L492.47 453.50 L492.34 454.00 L492.22 454.50 L492.10 455.00 L491.89 455.50 L491.73 456.00 L491.59 456.50 L491.50 457.00 L491.50 457.00 L491.41 456.50 L491.27 456.00 L491.11 455.50 L490.90 455.00 L490.78 454.50 L490.66 454.00 L490.53 453.50 L490.39 453.00 L490.23 452.50 L490.07 452.00 L489.89 451.50 L489.70 451.00 L489.49 450.50 L489.25 450.00 L489.00 449.50 L488.74 449.00 L488.47 448.50 L488.20 448.00 L487.95 447.50 L487.70 447.00 L487.44 446.50 L487.14 446.00 L486.83 445.50 L486.52 445.00 L486.26 444.50 L486.05 444.00 L485.92 443.50 L485.90 443.00 L485.96 442.50 L486.07 442.00 L486.22 441.50 L486.41 441.00 L486.64 440.50 L486.88 440.00 L487.14 439.50 L487.40 439.00 L487.65 438.50 L487.89 438.00 L488.11 437.50 L488.30 437.00 L488.48 436.50 L488.65 436.00 L488.82 435.50 L488.98 435.00 L489.13 434.50 L489.28 434.00 L489.43 433.50 L489.57 433.00 L489.71 432.50 L489.86 432.00 L490.00 431.50 L490.18 431.00 L490.38 430.50 L490.57 430.00 L490.76 429.50 L490.95 429.00 L491.12 428.50 L491.27 428.00 L491.40 427.50 L491.50 427.00Z" fill="#d4705e" stroke="#231f20" stroke-width="0.4"/>
<path d="M491.50 418.80 L491.54 419.31 L491.61 419.81 L491.68 420.32 L491.75 420.83 L491.77 421.34 L491.79 421.84 L491.81 422.35 L491.84 422.86 L491.86 423.36 L491.88 423.87 L491.91 424.38 L491.93 424.89 L491.95 425.39 L491.97 425.90 L491.99 426.41 L492.01 426.91 L492.03 427.42 L492.05 427.93 L492.09 428.44 L492.14 428.94 L492.18 429.45 L492.22 429.96 L492.23 430.46 L492.20 430.97 L492.08 431.48 L491.87 431.99 L491.65 432.49 L491.50 433.00 L491.50 433.00 L491.35 432.49 L491.13 431.99 L490.92 431.48 L490.80 430.97 L490.77 430.46 L490.78 429.96 L490.82 429.45 L490.86 428.94 L490.91 428.44 L490.95 427.93 L490.97 427.42 L490.99 426.91 L491.01 426.41 L491.03 425.90 L491.05 425.39 L491.07 424.89 L491.09 424.38 L491.12 423.87 L491.14 423.36 L491.16 422.86 L491.19 422.35 L491.21 421.84 L491.23 421.34 L491.25 420.83 L491.32 420.32 L491.39 419.81 L491.46 419.31 L491.50 418.80Z" fill="#111" stroke="#231f20" stroke-width="0.15"/>
<rect x="490.30" y="439.50" width="2.4" height="8.00" fill="#fff" stroke="#231f20" stroke-width="0.4"/>
<circle cx="491.50" cy="443.50" r="0.55" fill="#231f20"/>
<line x1="478.20" y1="472.60" x2="478.20" y2="475.20" stroke="#231f20" stroke-width="0.9" />
<g transform="translate(479.80 477.80) rotate(-45)"><text x="0" y="2.30" font-size="6.4" text-anchor="end" textLength="7.8" lengthAdjust="spacingAndGlyphs">WT</text></g>
<line x1="491.50" y1="472.60" x2="491.50" y2="475.20" stroke="#231f20" stroke-width="0.9" />
<g transform="translate(493.10 477.80) rotate(-45)"><text x="0" y="2.30" font-size="6.4" text-anchor="end" textLength="17.5" lengthAdjust="spacingAndGlyphs">F11KO</text></g>
<text x="118.70" y="512.99" font-size="10.6" font-weight="bold" fill="#000" style="stroke:#000;stroke-width:0.25px" textLength="5.1" lengthAdjust="spacingAndGlyphs">J</text>
<text x="141.44" y="514.53" font-size="7.015" style="stroke-width:0.09px" textLength="21.70" lengthAdjust="spacingAndGlyphs">F11KO</text>
<text x="218.00" y="514.42" font-size="6.71" style="stroke-width:0.08px" textLength="10.43" lengthAdjust="spacingAndGlyphs">WT</text>
<defs><linearGradient id="gBW"><stop offset="0" stop-color="#1010e8"/><stop offset="0.46" stop-color="#ffffff"/><stop offset="0.5" stop-color="#ffffff"/><stop offset="0.56" stop-color="#fbe0d6"/><stop offset="1" stop-color="#d00a0a"/></linearGradient></defs>
<rect x="167.20" y="510.20" width="39.80" height="4.20" fill="url(#gBW)" />
<rect x="147.80" y="519.20" width="78.10" height="82.50" fill="#ffffff" stroke="#9a9a9a" stroke-width="0.8" />
<line x1="161.55" y1="519.70" x2="161.55" y2="601.20" stroke="#f0f0f0" stroke-width="0.5" />
<line x1="182.05" y1="519.70" x2="182.05" y2="601.20" stroke="#f0f0f0" stroke-width="0.5" />
<line x1="202.55" y1="519.70" x2="202.55" y2="601.20" stroke="#f0f0f0" stroke-width="0.5" />
<line x1="223.05" y1="519.70" x2="223.05" y2="601.20" stroke="#f0f0f0" stroke-width="0.5" />
<line x1="148.30" y1="588.37" x2="225.40" y2="588.37" stroke="#f0f0f0" stroke-width="0.5" />
<line x1="148.30" y1="566.71" x2="225.40" y2="566.71" stroke="#f0f0f0" stroke-width="0.5" />
<line x1="148.30" y1="545.05" x2="225.40" y2="545.05" stroke="#f0f0f0" stroke-width="0.5" />
<line x1="151.30" y1="519.70" x2="151.30" y2="601.20" stroke="#e6e6e6" stroke-width="0.6" />
<line x1="171.80" y1="519.70" x2="171.80" y2="601.20" stroke="#e6e6e6" stroke-width="0.6" />
<line x1="192.30" y1="519.70" x2="192.30" y2="601.20" stroke="#e6e6e6" stroke-width="0.6" />
<line x1="212.80" y1="519.70" x2="212.80" y2="601.20" stroke="#e6e6e6" stroke-width="0.6" />
<line x1="148.30" y1="599.20" x2="225.40" y2="599.20" stroke="#e6e6e6" stroke-width="0.6" />
<line x1="148.30" y1="577.54" x2="225.40" y2="577.54" stroke="#e6e6e6" stroke-width="0.6" />
<line x1="148.30" y1="555.88" x2="225.40" y2="555.88" stroke="#e6e6e6" stroke-width="0.6" />
<line x1="148.30" y1="534.22" x2="225.40" y2="534.22" stroke="#e6e6e6" stroke-width="0.6" />
<rect x="147.80" y="519.20" width="78.10" height="82.50" fill="none" stroke="#9a9a9a" stroke-width="0.8"/>
<line x1="145.10" y1="599.20" x2="147.80" y2="599.20" stroke="#231f20" stroke-width="1.1" />
<text x="140.20" y="601.28" font-size="5.78" text-anchor="middle" style="stroke-width:0.04px">0</text>
<line x1="145.10" y1="577.54" x2="147.80" y2="577.54" stroke="#231f20" stroke-width="1.1" />
<text x="140.20" y="579.62" font-size="5.78" text-anchor="middle" style="stroke-width:0.04px">2</text>
<line x1="145.10" y1="555.88" x2="147.80" y2="555.88" stroke="#231f20" stroke-width="1.1" />
<text x="140.20" y="557.96" font-size="5.78" text-anchor="middle" style="stroke-width:0.04px">4</text>
<line x1="145.10" y1="534.22" x2="147.80" y2="534.22" stroke="#231f20" stroke-width="1.1" />
<text x="140.20" y="536.30" font-size="5.78" text-anchor="middle" style="stroke-width:0.04px">6</text>
<line x1="151.30" y1="601.70" x2="151.30" y2="604.20" stroke="#231f20" stroke-width="1.1" />
<text x="151.25" y="614.74" font-size="6.788" text-anchor="middle" style="stroke-width:0.08px" textLength="6.04" lengthAdjust="spacingAndGlyphs">-4</text>
<line x1="171.80" y1="601.70" x2="171.80" y2="604.20" stroke="#231f20" stroke-width="1.1" />
<text x="171.81" y="614.80" font-size="6.957" text-anchor="middle" style="stroke-width:0.09px" textLength="6.19" lengthAdjust="spacingAndGlyphs">-2</text>
<line x1="192.30" y1="601.70" x2="192.30" y2="604.20" stroke="#231f20" stroke-width="1.1" />
<text x="192.30" y="614.53" font-size="6.186" text-anchor="middle" style="stroke-width:0.05px" textLength="3.44" lengthAdjust="spacingAndGlyphs">0</text>
<line x1="212.80" y1="601.70" x2="212.80" y2="604.20" stroke="#231f20" stroke-width="1.1" />
<text x="212.79" y="614.65" font-size="6.522" text-anchor="middle" style="stroke-width:0.07px" textLength="3.63" lengthAdjust="spacingAndGlyphs">2</text>
<text x="186.79" y="625.29" font-size="6.648" text-anchor="middle" style="stroke-width:0.07px" textLength="25.14" lengthAdjust="spacingAndGlyphs">log2Odd</text>
<g transform="translate(130.3 562.6) rotate(-90)"><text x="0" y="2.66" font-size="8.2" text-anchor="middle" textLength="21.5" lengthAdjust="spacingAndGlyphs">-log10(<tspan font-style="italic">P</tspan>)</text></g>
<circle cx="192.54" cy="599.20" r="0.75" fill="rgb(251,225,214)"/>
<circle cx="192.62" cy="599.05" r="0.75" fill="rgb(250,224,213)"/>
<circle cx="192.80" cy="598.92" r="0.75" fill="rgb(250,222,211)"/>
<circle cx="192.97" cy="599.17" r="0.75" fill="rgb(250,221,210)"/>
<circle cx="193.04" cy="599.14" r="0.75" fill="rgb(250,221,210)"/>
<circle cx="192.99" cy="598.58" r="0.75" fill="rgb(249,220,209)"/>
<circle cx="193.17" cy="599.12" r="0.75" fill="rgb(249,220,209)"/>
<circle cx="193.00" cy="598.39" r="0.75" fill="rgb(249,220,209)"/>
<circle cx="193.04" cy="598.40" r="0.75" fill="rgb(249,219,208)"/>
<circle cx="192.82" cy="597.13" r="0.75" fill="rgb(249,219,208)"/>
<circle cx="192.96" cy="597.72" r="0.75" fill="rgb(249,219,208)"/>
<circle cx="193.29" cy="599.10" r="0.75" fill="rgb(249,219,208)"/>
<circle cx="192.90" cy="597.12" r="0.75" fill="rgb(249,218,207)"/>
<circle cx="193.32" cy="598.88" r="0.75" fill="rgb(249,218,207)"/>
<circle cx="193.40" cy="599.16" r="0.75" fill="rgb(249,218,207)"/>
<circle cx="193.31" cy="598.79" r="0.75" fill="rgb(249,218,207)"/>
<circle cx="193.21" cy="598.29" r="0.75" fill="rgb(249,218,207)"/>
<circle cx="192.95" cy="596.93" r="0.75" fill="rgb(249,218,206)"/>
<circle cx="193.38" cy="598.76" r="0.75" fill="rgb(249,218,206)"/>
<circle cx="193.59" cy="599.18" r="0.75" fill="rgb(248,217,205)"/>
<circle cx="193.07" cy="596.67" r="0.75" fill="rgb(248,216,205)"/>
<circle cx="193.01" cy="596.45" r="0.75" fill="rgb(248,216,205)"/>
<circle cx="193.70" cy="599.18" r="0.75" fill="rgb(248,216,205)"/>
<circle cx="193.77" cy="599.20" r="0.75" fill="rgb(248,216,204)"/>
<circle cx="193.84" cy="599.20" r="0.75" fill="rgb(248,215,204)"/>
<circle cx="193.80" cy="598.89" r="0.75" fill="rgb(248,215,203)"/>
<circle cx="193.65" cy="598.19" r="0.75" fill="rgb(248,215,203)"/>
<circle cx="193.15" cy="596.03" r="0.75" fill="rgb(248,215,203)"/>
<circle cx="193.88" cy="599.07" r="0.75" fill="rgb(248,215,203)"/>
<circle cx="193.91" cy="599.18" r="0.75" fill="rgb(248,215,203)"/>
<circle cx="193.38" cy="596.89" r="0.75" fill="rgb(248,215,203)"/>
<circle cx="193.83" cy="598.60" r="0.75" fill="rgb(248,215,203)"/>
<circle cx="193.93" cy="598.87" r="0.75" fill="rgb(248,214,202)"/>
<circle cx="193.67" cy="597.43" r="0.75" fill="rgb(248,214,202)"/>
<circle cx="193.27" cy="595.45" r="0.75" fill="rgb(247,213,201)"/>
<circle cx="193.67" cy="596.85" r="0.75" fill="rgb(247,213,201)"/>
<circle cx="194.24" cy="599.18" r="0.75" fill="rgb(247,213,201)"/>
<circle cx="193.52" cy="596.07" r="0.75" fill="rgb(247,213,201)"/>
<circle cx="194.14" cy="598.68" r="0.75" fill="rgb(247,213,201)"/>
<circle cx="193.90" cy="597.43" r="0.75" fill="rgb(247,212,200)"/>
<circle cx="193.86" cy="597.01" r="0.75" fill="rgb(247,212,200)"/>
<circle cx="193.93" cy="597.22" r="0.75" fill="rgb(247,212,200)"/>
<circle cx="194.43" cy="599.19" r="0.75" fill="rgb(247,212,200)"/>
<circle cx="194.32" cy="598.71" r="0.75" fill="rgb(247,212,200)"/>
<circle cx="194.44" cy="599.11" r="0.75" fill="rgb(247,212,199)"/>
<circle cx="194.37" cy="598.70" r="0.75" fill="rgb(247,211,199)"/>
<circle cx="193.72" cy="595.86" r="0.75" fill="rgb(247,211,199)"/>
<circle cx="193.97" cy="596.83" r="0.75" fill="rgb(247,211,199)"/>
<circle cx="194.56" cy="599.20" r="0.75" fill="rgb(247,211,199)"/>
<circle cx="193.48" cy="593.82" r="0.75" fill="rgb(246,210,197)"/>
<circle cx="194.66" cy="598.74" r="0.75" fill="rgb(246,210,197)"/>
<circle cx="193.59" cy="594.24" r="0.75" fill="rgb(246,210,197)"/>
<circle cx="194.46" cy="597.72" r="0.75" fill="rgb(246,210,197)"/>
<circle cx="193.92" cy="595.40" r="0.75" fill="rgb(246,210,197)"/>
<circle cx="194.55" cy="598.06" r="0.75" fill="rgb(246,210,197)"/>
<circle cx="194.67" cy="598.36" r="0.75" fill="rgb(246,209,197)"/>
<circle cx="194.88" cy="599.19" r="0.75" fill="rgb(246,209,197)"/>
<circle cx="195.04" cy="599.19" r="0.75" fill="rgb(246,208,196)"/>
<circle cx="194.30" cy="595.97" r="0.75" fill="rgb(246,208,195)"/>
<circle cx="195.04" cy="598.97" r="0.75" fill="rgb(246,208,195)"/>
<circle cx="194.01" cy="594.56" r="0.75" fill="rgb(246,208,195)"/>
<circle cx="194.77" cy="597.71" r="0.75" fill="rgb(246,208,195)"/>
<circle cx="193.90" cy="593.88" r="0.75" fill="rgb(246,208,195)"/>
<circle cx="194.16" cy="594.93" r="0.75" fill="rgb(246,208,195)"/>
<circle cx="194.98" cy="598.32" r="0.75" fill="rgb(246,207,195)"/>
<circle cx="195.21" cy="599.20" r="0.75" fill="rgb(246,207,194)"/>
<circle cx="194.75" cy="597.07" r="0.75" fill="rgb(246,207,194)"/>
<circle cx="195.30" cy="599.20" r="0.75" fill="rgb(246,207,194)"/>
<circle cx="195.33" cy="599.20" r="0.75" fill="rgb(246,207,194)"/>
<circle cx="195.33" cy="599.20" r="0.75" fill="rgb(246,207,194)"/>
<circle cx="195.06" cy="597.99" r="0.75" fill="rgb(246,207,194)"/>
<circle cx="194.56" cy="595.69" r="0.75" fill="rgb(245,206,193)"/>
<circle cx="194.23" cy="594.19" r="0.75" fill="rgb(245,206,193)"/>
<circle cx="194.18" cy="593.95" r="0.75" fill="rgb(245,206,193)"/>
<circle cx="195.41" cy="598.98" r="0.75" fill="rgb(245,206,193)"/>
<circle cx="195.21" cy="598.00" r="0.75" fill="rgb(245,206,193)"/>
<circle cx="194.90" cy="596.41" r="0.75" fill="rgb(245,205,192)"/>
<circle cx="194.76" cy="595.78" r="0.75" fill="rgb(245,205,192)"/>
<circle cx="194.05" cy="592.67" r="0.75" fill="rgb(245,205,192)"/>
<circle cx="195.49" cy="598.72" r="0.75" fill="rgb(245,205,192)"/>
<circle cx="195.18" cy="597.04" r="0.75" fill="rgb(245,205,191)"/>
<circle cx="195.09" cy="596.35" r="0.75" fill="rgb(245,204,191)"/>
<circle cx="194.22" cy="591.88" r="0.75" fill="rgb(245,203,190)"/>
<circle cx="194.71" cy="593.69" r="0.75" fill="rgb(245,203,190)"/>
<circle cx="195.60" cy="597.41" r="0.75" fill="rgb(244,203,189)"/>
<circle cx="194.30" cy="591.75" r="0.75" fill="rgb(244,203,189)"/>
<circle cx="195.23" cy="595.30" r="0.75" fill="rgb(244,202,189)"/>
<circle cx="195.81" cy="597.66" r="0.75" fill="rgb(244,202,189)"/>
<circle cx="195.05" cy="593.95" r="0.75" fill="rgb(244,202,188)"/>
<circle cx="195.76" cy="596.94" r="0.75" fill="rgb(244,202,188)"/>
<circle cx="194.78" cy="592.70" r="0.75" fill="rgb(244,201,188)"/>
<circle cx="195.75" cy="596.72" r="0.75" fill="rgb(244,201,188)"/>
<circle cx="195.42" cy="595.12" r="0.75" fill="rgb(244,201,187)"/>
<circle cx="196.21" cy="597.15" r="0.75" fill="rgb(243,199,185)"/>
<circle cx="194.67" cy="590.45" r="0.75" fill="rgb(243,199,185)"/>
<circle cx="196.27" cy="597.07" r="0.75" fill="rgb(243,199,185)"/>
<circle cx="196.01" cy="595.88" r="0.75" fill="rgb(243,199,185)"/>
<circle cx="195.94" cy="595.14" r="0.75" fill="rgb(243,198,184)"/>
<circle cx="196.62" cy="597.97" r="0.75" fill="rgb(243,198,184)"/>
<circle cx="196.52" cy="596.92" r="0.75" fill="rgb(243,198,183)"/>
<circle cx="196.59" cy="596.92" r="0.75" fill="rgb(243,197,183)"/>
<circle cx="195.60" cy="592.22" r="0.75" fill="rgb(243,197,182)"/>
<circle cx="196.89" cy="597.60" r="0.75" fill="rgb(243,197,182)"/>
<circle cx="194.70" cy="588.32" r="0.75" fill="rgb(243,197,182)"/>
<circle cx="194.93" cy="589.01" r="0.75" fill="rgb(243,196,182)"/>
<circle cx="196.02" cy="593.36" r="0.75" fill="rgb(242,196,181)"/>
<circle cx="196.82" cy="596.67" r="0.75" fill="rgb(242,196,181)"/>
<circle cx="196.43" cy="594.83" r="0.75" fill="rgb(242,196,181)"/>
<circle cx="195.92" cy="592.62" r="0.75" fill="rgb(242,196,181)"/>
<circle cx="195.92" cy="592.43" r="0.75" fill="rgb(242,195,181)"/>
<circle cx="195.39" cy="590.17" r="0.75" fill="rgb(242,195,181)"/>
<circle cx="196.58" cy="594.72" r="0.75" fill="rgb(242,195,180)"/>
<circle cx="195.79" cy="591.40" r="0.75" fill="rgb(242,195,180)"/>
<circle cx="197.00" cy="595.79" r="0.75" fill="rgb(242,194,179)"/>
<circle cx="197.37" cy="597.07" r="0.75" fill="rgb(242,194,179)"/>
<circle cx="195.15" cy="587.63" r="0.75" fill="rgb(242,193,179)"/>
<circle cx="196.24" cy="592.07" r="0.75" fill="rgb(242,193,178)"/>
<circle cx="196.60" cy="593.45" r="0.75" fill="rgb(242,193,178)"/>
<circle cx="197.21" cy="595.80" r="0.75" fill="rgb(242,193,178)"/>
<circle cx="196.92" cy="594.34" r="0.75" fill="rgb(242,193,178)"/>
<circle cx="196.48" cy="592.04" r="0.75" fill="rgb(241,192,177)"/>
<circle cx="197.35" cy="595.40" r="0.75" fill="rgb(241,192,177)"/>
<circle cx="197.70" cy="596.82" r="0.75" fill="rgb(241,192,177)"/>
<circle cx="197.58" cy="596.02" r="0.75" fill="rgb(241,191,176)"/>
<circle cx="197.54" cy="595.75" r="0.75" fill="rgb(241,191,176)"/>
<circle cx="196.03" cy="589.29" r="0.75" fill="rgb(241,191,176)"/>
<circle cx="196.25" cy="589.92" r="0.75" fill="rgb(241,191,176)"/>
<circle cx="197.50" cy="594.75" r="0.75" fill="rgb(241,190,175)"/>
<circle cx="196.24" cy="589.32" r="0.75" fill="rgb(241,190,175)"/>
<circle cx="196.46" cy="590.22" r="0.75" fill="rgb(241,190,175)"/>
<circle cx="197.45" cy="594.26" r="0.75" fill="rgb(241,190,175)"/>
<circle cx="197.15" cy="592.26" r="0.75" fill="rgb(241,189,174)"/>
<circle cx="197.87" cy="595.18" r="0.75" fill="rgb(241,189,174)"/>
<circle cx="197.00" cy="591.15" r="0.75" fill="rgb(240,189,173)"/>
<circle cx="198.29" cy="596.12" r="0.75" fill="rgb(240,188,172)"/>
<circle cx="196.59" cy="588.75" r="0.75" fill="rgb(240,188,172)"/>
<circle cx="196.97" cy="589.21" r="0.75" fill="rgb(240,187,171)"/>
<circle cx="197.76" cy="592.41" r="0.75" fill="rgb(240,186,171)"/>
<circle cx="197.61" cy="591.37" r="0.75" fill="rgb(240,186,170)"/>
<circle cx="197.07" cy="589.06" r="0.75" fill="rgb(240,186,170)"/>
<circle cx="196.81" cy="587.84" r="0.75" fill="rgb(240,186,170)"/>
<circle cx="196.85" cy="587.91" r="0.75" fill="rgb(240,186,170)"/>
<circle cx="197.71" cy="591.44" r="0.75" fill="rgb(240,186,170)"/>
<circle cx="198.10" cy="593.03" r="0.75" fill="rgb(240,186,170)"/>
<circle cx="196.63" cy="586.50" r="0.75" fill="rgb(239,185,169)"/>
<circle cx="198.49" cy="593.81" r="0.75" fill="rgb(239,185,169)"/>
<circle cx="196.51" cy="585.22" r="0.75" fill="rgb(239,184,168)"/>
<circle cx="197.99" cy="591.43" r="0.75" fill="rgb(239,184,168)"/>
<circle cx="198.59" cy="593.75" r="0.75" fill="rgb(239,184,168)"/>
<circle cx="196.61" cy="585.30" r="0.75" fill="rgb(239,184,168)"/>
<circle cx="197.98" cy="591.07" r="0.75" fill="rgb(239,184,168)"/>
<circle cx="196.18" cy="583.32" r="0.75" fill="rgb(239,184,168)"/>
<circle cx="196.02" cy="582.54" r="0.75" fill="rgb(239,184,167)"/>
<circle cx="197.58" cy="589.03" r="0.75" fill="rgb(239,184,167)"/>
<circle cx="199.10" cy="595.29" r="0.75" fill="rgb(239,183,167)"/>
<circle cx="198.46" cy="592.43" r="0.75" fill="rgb(239,183,167)"/>
<circle cx="196.12" cy="582.25" r="0.75" fill="rgb(239,183,167)"/>
<circle cx="198.01" cy="590.19" r="0.75" fill="rgb(239,183,167)"/>
<circle cx="198.48" cy="592.21" r="0.75" fill="rgb(239,183,167)"/>
<circle cx="196.65" cy="584.21" r="0.75" fill="rgb(239,183,166)"/>
<circle cx="197.58" cy="588.12" r="0.75" fill="rgb(239,183,166)"/>
<circle cx="198.87" cy="592.85" r="0.75" fill="rgb(238,182,165)"/>
<circle cx="196.65" cy="583.20" r="0.75" fill="rgb(238,182,165)"/>
<circle cx="199.23" cy="593.92" r="0.75" fill="rgb(238,181,165)"/>
<circle cx="196.49" cy="582.34" r="0.75" fill="rgb(238,181,165)"/>
<circle cx="197.45" cy="586.17" r="0.75" fill="rgb(238,181,165)"/>
<circle cx="197.94" cy="587.89" r="0.75" fill="rgb(238,181,164)"/>
<circle cx="197.98" cy="587.59" r="0.75" fill="rgb(238,180,164)"/>
<circle cx="197.58" cy="585.80" r="0.75" fill="rgb(238,180,163)"/>
<circle cx="198.76" cy="590.70" r="0.75" fill="rgb(238,180,163)"/>
<circle cx="198.97" cy="591.13" r="0.75" fill="rgb(238,180,163)"/>
<circle cx="198.89" cy="590.74" r="0.75" fill="rgb(238,180,163)"/>
<circle cx="199.14" cy="591.75" r="0.75" fill="rgb(238,179,163)"/>
<circle cx="199.22" cy="591.83" r="0.75" fill="rgb(238,179,162)"/>
<circle cx="196.52" cy="580.13" r="0.75" fill="rgb(238,179,162)"/>
<circle cx="198.59" cy="588.13" r="0.75" fill="rgb(237,178,161)"/>
<circle cx="198.94" cy="589.25" r="0.75" fill="rgb(237,178,161)"/>
<circle cx="199.95" cy="593.37" r="0.75" fill="rgb(237,178,161)"/>
<circle cx="199.52" cy="591.31" r="0.75" fill="rgb(237,177,160)"/>
<circle cx="197.98" cy="584.35" r="0.75" fill="rgb(237,177,160)"/>
<circle cx="199.48" cy="589.29" r="0.75" fill="rgb(237,175,158)"/>
<circle cx="200.54" cy="593.63" r="0.75" fill="rgb(237,175,158)"/>
<circle cx="200.49" cy="593.40" r="0.75" fill="rgb(237,175,158)"/>
<circle cx="199.77" cy="590.33" r="0.75" fill="rgb(237,175,158)"/>
<circle cx="198.78" cy="585.93" r="0.75" fill="rgb(237,175,158)"/>
<circle cx="199.18" cy="587.59" r="0.75" fill="rgb(237,175,158)"/>
<circle cx="197.23" cy="579.09" r="0.75" fill="rgb(236,175,157)"/>
<circle cx="197.09" cy="578.48" r="0.75" fill="rgb(236,175,157)"/>
<circle cx="197.76" cy="581.32" r="0.75" fill="rgb(236,175,157)"/>
<circle cx="200.15" cy="591.02" r="0.75" fill="rgb(236,174,157)"/>
<circle cx="200.47" cy="592.03" r="0.75" fill="rgb(236,174,156)"/>
<circle cx="199.65" cy="588.37" r="0.75" fill="rgb(236,174,156)"/>
<circle cx="200.82" cy="592.65" r="0.75" fill="rgb(236,173,155)"/>
<circle cx="198.18" cy="581.47" r="0.75" fill="rgb(236,173,155)"/>
<circle cx="200.63" cy="591.63" r="0.75" fill="rgb(236,173,155)"/>
<circle cx="199.46" cy="586.46" r="0.75" fill="rgb(236,173,155)"/>
<circle cx="199.81" cy="587.60" r="0.75" fill="rgb(236,172,154)"/>
<circle cx="199.22" cy="584.68" r="0.75" fill="rgb(236,172,154)"/>
<circle cx="198.82" cy="582.77" r="0.75" fill="rgb(236,172,154)"/>
<circle cx="198.01" cy="579.29" r="0.75" fill="rgb(236,172,154)"/>
<circle cx="200.90" cy="591.47" r="0.75" fill="rgb(236,172,154)"/>
<circle cx="201.12" cy="592.39" r="0.75" fill="rgb(235,171,153)"/>
<circle cx="200.18" cy="588.38" r="0.75" fill="rgb(235,171,153)"/>
<circle cx="198.62" cy="581.16" r="0.75" fill="rgb(235,171,153)"/>
<circle cx="199.96" cy="586.76" r="0.75" fill="rgb(235,171,153)"/>
<circle cx="199.18" cy="582.72" r="0.75" fill="rgb(235,170,152)"/>
<circle cx="200.17" cy="586.72" r="0.75" fill="rgb(235,170,152)"/>
<circle cx="201.14" cy="590.60" r="0.75" fill="rgb(235,170,151)"/>
<circle cx="198.96" cy="581.38" r="0.75" fill="rgb(235,170,151)"/>
<circle cx="199.71" cy="584.24" r="0.75" fill="rgb(235,169,151)"/>
<circle cx="197.92" cy="576.56" r="0.75" fill="rgb(235,169,151)"/>
<circle cx="199.78" cy="583.73" r="0.75" fill="rgb(235,169,150)"/>
<circle cx="200.53" cy="586.49" r="0.75" fill="rgb(235,168,150)"/>
<circle cx="198.36" cy="577.20" r="0.75" fill="rgb(234,168,149)"/>
<circle cx="201.52" cy="589.89" r="0.75" fill="rgb(234,167,149)"/>
<circle cx="201.89" cy="591.39" r="0.75" fill="rgb(234,167,149)"/>
<circle cx="201.21" cy="588.22" r="0.75" fill="rgb(234,167,148)"/>
<circle cx="201.73" cy="590.20" r="0.75" fill="rgb(234,167,148)"/>
<circle cx="199.66" cy="581.24" r="0.75" fill="rgb(234,166,148)"/>
<circle cx="199.13" cy="578.54" r="0.75" fill="rgb(234,166,147)"/>
<circle cx="199.29" cy="579.14" r="0.75" fill="rgb(234,166,147)"/>
<circle cx="199.05" cy="577.96" r="0.75" fill="rgb(234,166,147)"/>
<circle cx="200.39" cy="583.37" r="0.75" fill="rgb(234,166,147)"/>
<circle cx="200.20" cy="582.28" r="0.75" fill="rgb(234,165,146)"/>
<circle cx="199.93" cy="581.13" r="0.75" fill="rgb(234,165,146)"/>
<circle cx="198.97" cy="576.95" r="0.75" fill="rgb(234,165,146)"/>
<circle cx="202.44" cy="591.59" r="0.75" fill="rgb(234,165,146)"/>
<circle cx="202.67" cy="592.05" r="0.75" fill="rgb(234,165,146)"/>
<circle cx="202.72" cy="592.14" r="0.75" fill="rgb(234,165,146)"/>
<circle cx="199.57" cy="578.68" r="0.75" fill="rgb(233,164,145)"/>
<circle cx="202.19" cy="589.70" r="0.75" fill="rgb(233,164,145)"/>
<circle cx="202.24" cy="589.78" r="0.75" fill="rgb(233,164,145)"/>
<circle cx="202.65" cy="591.18" r="0.75" fill="rgb(233,164,145)"/>
<circle cx="198.75" cy="574.43" r="0.75" fill="rgb(233,164,144)"/>
<circle cx="202.76" cy="590.89" r="0.75" fill="rgb(233,163,144)"/>
<circle cx="201.47" cy="585.39" r="0.75" fill="rgb(233,163,144)"/>
<circle cx="200.11" cy="579.33" r="0.75" fill="rgb(233,163,143)"/>
<circle cx="200.82" cy="582.23" r="0.75" fill="rgb(233,163,143)"/>
<circle cx="200.78" cy="582.06" r="0.75" fill="rgb(233,163,143)"/>
<circle cx="201.58" cy="585.28" r="0.75" fill="rgb(233,162,143)"/>
<circle cx="202.27" cy="588.11" r="0.75" fill="rgb(233,162,143)"/>
<circle cx="202.15" cy="587.53" r="0.75" fill="rgb(233,162,143)"/>
<circle cx="198.83" cy="573.38" r="0.75" fill="rgb(233,162,143)"/>
<circle cx="200.19" cy="578.98" r="0.75" fill="rgb(233,162,143)"/>
<circle cx="199.70" cy="576.60" r="0.75" fill="rgb(233,162,142)"/>
<circle cx="203.25" cy="591.40" r="0.75" fill="rgb(233,162,142)"/>
<circle cx="202.91" cy="589.96" r="0.75" fill="rgb(233,162,142)"/>
<circle cx="202.04" cy="585.93" r="0.75" fill="rgb(233,161,142)"/>
<circle cx="200.00" cy="576.70" r="0.75" fill="rgb(232,161,141)"/>
<circle cx="201.37" cy="582.26" r="0.75" fill="rgb(232,160,141)"/>
<circle cx="203.44" cy="590.83" r="0.75" fill="rgb(232,160,141)"/>
<circle cx="203.56" cy="591.06" r="0.75" fill="rgb(232,160,140)"/>
<circle cx="203.22" cy="589.49" r="0.75" fill="rgb(232,160,140)"/>
<circle cx="201.17" cy="580.79" r="0.75" fill="rgb(232,160,140)"/>
<circle cx="203.06" cy="587.85" r="0.75" fill="rgb(232,159,139)"/>
<circle cx="202.11" cy="583.52" r="0.75" fill="rgb(232,159,139)"/>
<circle cx="202.30" cy="583.98" r="0.75" fill="rgb(232,158,138)"/>
<circle cx="200.05" cy="574.22" r="0.75" fill="rgb(232,158,138)"/>
<circle cx="200.36" cy="575.37" r="0.75" fill="rgb(232,158,138)"/>
<circle cx="203.97" cy="590.50" r="0.75" fill="rgb(232,158,138)"/>
<circle cx="201.41" cy="579.39" r="0.75" fill="rgb(231,157,137)"/>
<circle cx="200.69" cy="576.35" r="0.75" fill="rgb(231,157,137)"/>
<circle cx="203.28" cy="587.14" r="0.75" fill="rgb(231,157,137)"/>
<circle cx="204.12" cy="590.55" r="0.75" fill="rgb(231,157,137)"/>
<circle cx="202.92" cy="585.18" r="0.75" fill="rgb(231,157,137)"/>
<circle cx="203.86" cy="588.82" r="0.75" fill="rgb(231,157,136)"/>
<circle cx="200.96" cy="576.27" r="0.75" fill="rgb(231,156,136)"/>
<circle cx="203.42" cy="586.39" r="0.75" fill="rgb(231,156,136)"/>
<circle cx="203.87" cy="588.18" r="0.75" fill="rgb(231,156,136)"/>
<circle cx="203.86" cy="587.96" r="0.75" fill="rgb(231,156,136)"/>
<circle cx="202.27" cy="581.15" r="0.75" fill="rgb(231,156,135)"/>
<circle cx="201.29" cy="576.94" r="0.75" fill="rgb(231,156,135)"/>
<circle cx="201.19" cy="576.31" r="0.75" fill="rgb(231,155,135)"/>
<circle cx="203.90" cy="587.50" r="0.75" fill="rgb(231,155,135)"/>
<circle cx="200.76" cy="574.09" r="0.75" fill="rgb(231,155,135)"/>
<circle cx="200.21" cy="571.75" r="0.75" fill="rgb(231,155,135)"/>
<circle cx="203.96" cy="587.25" r="0.75" fill="rgb(231,155,134)"/>
<circle cx="203.59" cy="585.59" r="0.75" fill="rgb(231,155,134)"/>
<circle cx="201.91" cy="578.31" r="0.75" fill="rgb(231,154,134)"/>
<circle cx="200.29" cy="571.30" r="0.75" fill="rgb(231,154,134)"/>
<circle cx="201.78" cy="577.43" r="0.75" fill="rgb(231,154,134)"/>
<circle cx="203.25" cy="583.60" r="0.75" fill="rgb(231,154,134)"/>
<circle cx="203.52" cy="584.59" r="0.75" fill="rgb(230,154,133)"/>
<circle cx="204.15" cy="587.00" r="0.75" fill="rgb(230,154,133)"/>
<circle cx="201.72" cy="575.90" r="0.75" fill="rgb(230,153,132)"/>
<circle cx="204.21" cy="586.23" r="0.75" fill="rgb(230,153,132)"/>
<circle cx="204.69" cy="588.19" r="0.75" fill="rgb(230,153,132)"/>
<circle cx="200.94" cy="572.01" r="0.75" fill="rgb(230,152,132)"/>
<circle cx="205.05" cy="589.35" r="0.75" fill="rgb(230,152,132)"/>
<circle cx="203.62" cy="582.86" r="0.75" fill="rgb(230,152,131)"/>
<circle cx="203.26" cy="581.33" r="0.75" fill="rgb(230,152,131)"/>
<circle cx="204.73" cy="587.38" r="0.75" fill="rgb(230,152,131)"/>
<circle cx="203.67" cy="581.81" r="0.75" fill="rgb(230,151,130)"/>
<circle cx="205.33" cy="588.83" r="0.75" fill="rgb(230,151,130)"/>
<circle cx="205.15" cy="587.92" r="0.75" fill="rgb(230,151,130)"/>
<circle cx="202.79" cy="577.68" r="0.75" fill="rgb(229,150,129)"/>
<circle cx="205.18" cy="587.70" r="0.75" fill="rgb(229,150,129)"/>
<circle cx="201.72" cy="572.96" r="0.75" fill="rgb(229,150,129)"/>
<circle cx="201.93" cy="573.79" r="0.75" fill="rgb(229,150,129)"/>
<circle cx="204.10" cy="582.71" r="0.75" fill="rgb(229,150,129)"/>
<circle cx="205.38" cy="587.98" r="0.75" fill="rgb(229,150,129)"/>
<circle cx="204.93" cy="585.90" r="0.75" fill="rgb(229,150,128)"/>
<circle cx="202.00" cy="573.50" r="0.75" fill="rgb(229,150,128)"/>
<circle cx="201.31" cy="570.44" r="0.75" fill="rgb(229,149,128)"/>
<circle cx="205.73" cy="589.03" r="0.75" fill="rgb(229,149,128)"/>
<circle cx="204.32" cy="582.75" r="0.75" fill="rgb(229,149,128)"/>
<circle cx="203.88" cy="580.63" r="0.75" fill="rgb(229,149,128)"/>
<circle cx="201.10" cy="568.88" r="0.75" fill="rgb(229,149,128)"/>
<circle cx="202.88" cy="575.95" r="0.75" fill="rgb(229,148,127)"/>
<circle cx="205.92" cy="588.29" r="0.75" fill="rgb(229,148,126)"/>
<circle cx="204.78" cy="583.36" r="0.75" fill="rgb(229,148,126)"/>
<circle cx="202.55" cy="573.89" r="0.75" fill="rgb(229,148,126)"/>
<circle cx="206.17" cy="588.77" r="0.75" fill="rgb(229,147,126)"/>
<circle cx="204.75" cy="582.41" r="0.75" fill="rgb(228,147,125)"/>
<circle cx="204.30" cy="580.03" r="0.75" fill="rgb(228,147,125)"/>
<circle cx="206.07" cy="587.44" r="0.75" fill="rgb(228,147,125)"/>
<circle cx="201.00" cy="565.83" r="0.75" fill="rgb(228,146,125)"/>
<circle cx="203.53" cy="576.28" r="0.75" fill="rgb(228,146,124)"/>
<circle cx="202.73" cy="572.43" r="0.75" fill="rgb(228,146,124)"/>
<circle cx="205.13" cy="582.57" r="0.75" fill="rgb(228,146,124)"/>
<circle cx="203.57" cy="574.81" r="0.75" fill="rgb(228,145,123)"/>
<circle cx="204.96" cy="580.64" r="0.75" fill="rgb(228,145,123)"/>
<circle cx="203.04" cy="572.29" r="0.75" fill="rgb(228,144,122)"/>
<circle cx="201.68" cy="566.02" r="0.75" fill="rgb(228,144,122)"/>
<circle cx="200.59" cy="561.42" r="0.75" fill="rgb(228,144,122)"/>
<circle cx="206.67" cy="586.99" r="0.75" fill="rgb(228,144,122)"/>
<circle cx="205.96" cy="583.58" r="0.75" fill="rgb(227,143,121)"/>
<circle cx="206.37" cy="585.33" r="0.75" fill="rgb(227,143,121)"/>
<circle cx="207.02" cy="587.86" r="0.75" fill="rgb(227,143,121)"/>
<circle cx="204.78" cy="578.24" r="0.75" fill="rgb(227,143,121)"/>
<circle cx="205.15" cy="579.69" r="0.75" fill="rgb(227,143,121)"/>
<circle cx="206.98" cy="587.24" r="0.75" fill="rgb(227,143,121)"/>
<circle cx="206.87" cy="586.73" r="0.75" fill="rgb(227,143,121)"/>
<circle cx="205.70" cy="581.78" r="0.75" fill="rgb(227,143,121)"/>
<circle cx="206.65" cy="585.25" r="0.75" fill="rgb(227,142,120)"/>
<circle cx="207.01" cy="586.76" r="0.75" fill="rgb(227,142,120)"/>
<circle cx="203.72" cy="572.52" r="0.75" fill="rgb(227,142,120)"/>
<circle cx="206.46" cy="583.84" r="0.75" fill="rgb(227,142,119)"/>
<circle cx="204.40" cy="574.77" r="0.75" fill="rgb(227,141,119)"/>
<circle cx="206.12" cy="581.89" r="0.75" fill="rgb(227,141,119)"/>
<circle cx="204.95" cy="576.86" r="0.75" fill="rgb(227,141,119)"/>
<circle cx="206.78" cy="584.40" r="0.75" fill="rgb(227,141,119)"/>
<circle cx="206.16" cy="581.61" r="0.75" fill="rgb(227,141,118)"/>
<circle cx="204.06" cy="572.42" r="0.75" fill="rgb(227,141,118)"/>
<circle cx="204.90" cy="575.30" r="0.75" fill="rgb(226,140,117)"/>
<circle cx="207.14" cy="584.28" r="0.75" fill="rgb(226,139,117)"/>
<circle cx="206.91" cy="583.15" r="0.75" fill="rgb(226,139,117)"/>
<circle cx="206.73" cy="582.35" r="0.75" fill="rgb(226,139,117)"/>
<circle cx="206.98" cy="583.00" r="0.75" fill="rgb(226,139,116)"/>
<circle cx="207.82" cy="586.40" r="0.75" fill="rgb(226,139,116)"/>
<circle cx="205.94" cy="577.99" r="0.75" fill="rgb(226,138,116)"/>
<circle cx="206.80" cy="581.61" r="0.75" fill="rgb(226,138,116)"/>
<circle cx="206.06" cy="578.36" r="0.75" fill="rgb(226,138,115)"/>
<circle cx="207.91" cy="585.86" r="0.75" fill="rgb(226,138,115)"/>
<circle cx="206.56" cy="578.64" r="0.75" fill="rgb(226,137,114)"/>
<circle cx="205.82" cy="574.80" r="0.75" fill="rgb(225,136,113)"/>
<circle cx="205.99" cy="574.19" r="0.75" fill="rgb(225,135,111)"/>
<circle cx="207.56" cy="580.75" r="0.75" fill="rgb(225,135,111)"/>
<circle cx="205.48" cy="571.59" r="0.75" fill="rgb(225,134,111)"/>
<circle cx="208.46" cy="583.93" r="0.75" fill="rgb(225,134,111)"/>
<circle cx="207.63" cy="580.14" r="0.75" fill="rgb(225,134,110)"/>
<circle cx="206.93" cy="577.18" r="0.75" fill="rgb(225,134,110)"/>
<circle cx="206.39" cy="574.55" r="0.75" fill="rgb(225,134,110)"/>
<circle cx="208.08" cy="580.75" r="0.75" fill="rgb(224,133,109)"/>
<circle cx="208.51" cy="582.09" r="0.75" fill="rgb(224,132,109)"/>
<circle cx="208.28" cy="580.07" r="0.75" fill="rgb(224,131,108)"/>
<circle cx="208.00" cy="578.80" r="0.75" fill="rgb(224,131,108)"/>
<circle cx="208.38" cy="580.10" r="0.75" fill="rgb(224,131,107)"/>
<circle cx="208.93" cy="581.71" r="0.75" fill="rgb(224,130,107)"/>
<circle cx="207.70" cy="575.56" r="0.75" fill="rgb(224,130,106)"/>
<circle cx="208.76" cy="579.96" r="0.75" fill="rgb(223,129,105)"/>
<circle cx="206.90" cy="572.06" r="0.75" fill="rgb(223,129,105)"/>
<circle cx="208.99" cy="580.72" r="0.75" fill="rgb(223,129,105)"/>
<circle cx="209.32" cy="580.96" r="0.75" fill="rgb(223,128,104)"/>
<circle cx="204.34" cy="559.51" r="0.75" fill="rgb(223,128,104)"/>
<circle cx="205.95" cy="565.75" r="0.75" fill="rgb(223,127,103)"/>
<circle cx="209.74" cy="581.06" r="0.75" fill="rgb(223,127,102)"/>
<circle cx="209.95" cy="581.55" r="0.75" fill="rgb(223,126,102)"/>
<circle cx="204.42" cy="558.05" r="0.75" fill="rgb(223,126,102)"/>
<circle cx="210.18" cy="582.30" r="0.75" fill="rgb(223,126,102)"/>
<circle cx="210.05" cy="580.78" r="0.75" fill="rgb(222,125,101)"/>
<circle cx="209.85" cy="579.47" r="0.75" fill="rgb(222,125,100)"/>
<circle cx="209.43" cy="577.60" r="0.75" fill="rgb(222,125,100)"/>
<circle cx="205.51" cy="561.02" r="0.75" fill="rgb(222,125,100)"/>
<circle cx="210.64" cy="582.11" r="0.75" fill="rgb(222,124,100)"/>
<circle cx="207.51" cy="568.85" r="0.75" fill="rgb(222,124,100)"/>
<circle cx="210.26" cy="580.02" r="0.75" fill="rgb(222,124,99)"/>
<circle cx="209.81" cy="577.89" r="0.75" fill="rgb(222,124,99)"/>
<circle cx="210.55" cy="580.87" r="0.75" fill="rgb(222,124,99)"/>
<circle cx="207.58" cy="567.71" r="0.75" fill="rgb(222,123,98)"/>
<circle cx="209.07" cy="573.77" r="0.75" fill="rgb(222,123,98)"/>
<circle cx="204.36" cy="553.59" r="0.75" fill="rgb(222,123,98)"/>
<circle cx="206.50" cy="562.03" r="0.75" fill="rgb(221,122,97)"/>
<circle cx="211.34" cy="581.76" r="0.75" fill="rgb(221,121,96)"/>
<circle cx="209.64" cy="574.37" r="0.75" fill="rgb(221,121,96)"/>
<circle cx="211.76" cy="583.24" r="0.75" fill="rgb(221,121,96)"/>
<circle cx="207.15" cy="562.02" r="0.75" fill="rgb(221,120,94)"/>
<circle cx="204.35" cy="549.89" r="0.75" fill="rgb(221,119,94)"/>
<circle cx="210.35" cy="575.22" r="0.75" fill="rgb(221,119,94)"/>
<circle cx="210.30" cy="574.70" r="0.75" fill="rgb(221,119,94)"/>
<circle cx="208.60" cy="567.11" r="0.75" fill="rgb(220,119,93)"/>
<circle cx="211.06" cy="576.90" r="0.75" fill="rgb(220,118,93)"/>
<circle cx="212.24" cy="581.49" r="0.75" fill="rgb(220,118,92)"/>
<circle cx="210.62" cy="574.04" r="0.75" fill="rgb(220,117,92)"/>
<circle cx="211.44" cy="576.75" r="0.75" fill="rgb(220,117,91)"/>
<circle cx="212.61" cy="581.68" r="0.75" fill="rgb(220,117,91)"/>
<circle cx="212.89" cy="582.50" r="0.75" fill="rgb(220,116,91)"/>
<circle cx="208.16" cy="561.99" r="0.75" fill="rgb(220,116,90)"/>
<circle cx="211.49" cy="575.94" r="0.75" fill="rgb(220,116,90)"/>
<circle cx="211.59" cy="576.19" r="0.75" fill="rgb(220,116,90)"/>
<circle cx="213.16" cy="581.46" r="0.75" fill="rgb(219,115,88)"/>
<circle cx="211.12" cy="572.26" r="0.75" fill="rgb(219,114,88)"/>
<circle cx="208.05" cy="559.10" r="0.75" fill="rgb(219,114,88)"/>
<circle cx="212.37" cy="576.48" r="0.75" fill="rgb(219,113,87)"/>
<circle cx="211.33" cy="571.92" r="0.75" fill="rgb(219,113,87)"/>
<circle cx="212.44" cy="576.00" r="0.75" fill="rgb(219,113,86)"/>
<circle cx="211.83" cy="573.28" r="0.75" fill="rgb(219,112,86)"/>
<circle cx="212.09" cy="574.40" r="0.75" fill="rgb(219,112,86)"/>
<circle cx="212.17" cy="573.71" r="0.75" fill="rgb(218,112,85)"/>
<circle cx="207.91" cy="555.68" r="0.75" fill="rgb(218,112,85)"/>
<circle cx="213.78" cy="579.99" r="0.75" fill="rgb(218,111,85)"/>
<circle cx="212.42" cy="573.86" r="0.75" fill="rgb(218,111,84)"/>
<circle cx="208.52" cy="557.20" r="0.75" fill="rgb(218,111,84)"/>
<circle cx="209.16" cy="559.20" r="0.75" fill="rgb(218,110,83)"/>
<circle cx="214.38" cy="581.10" r="0.75" fill="rgb(218,110,83)"/>
<circle cx="212.31" cy="572.28" r="0.75" fill="rgb(218,110,83)"/>
<circle cx="212.75" cy="572.78" r="0.75" fill="rgb(218,109,82)"/>
<circle cx="213.87" cy="576.46" r="0.75" fill="rgb(217,108,81)"/>
<circle cx="210.18" cy="560.26" r="0.75" fill="rgb(217,107,80)"/>
<circle cx="211.77" cy="565.69" r="0.75" fill="rgb(217,106,79)"/>
<circle cx="209.62" cy="555.70" r="0.75" fill="rgb(217,106,78)"/>
<circle cx="213.54" cy="570.49" r="0.75" fill="rgb(216,104,76)"/>
<circle cx="215.20" cy="576.73" r="0.75" fill="rgb(216,103,76)"/>
<circle cx="214.24" cy="572.29" r="0.75" fill="rgb(216,103,75)"/>
<circle cx="214.75" cy="573.92" r="0.75" fill="rgb(216,103,75)"/>
<circle cx="214.41" cy="571.88" r="0.75" fill="rgb(216,102,74)"/>
<circle cx="214.39" cy="571.69" r="0.75" fill="rgb(216,102,74)"/>
<circle cx="215.56" cy="575.29" r="0.75" fill="rgb(215,101,73)"/>
<circle cx="213.27" cy="564.90" r="0.75" fill="rgb(215,100,72)"/>
<circle cx="215.98" cy="575.71" r="0.75" fill="rgb(215,100,72)"/>
<circle cx="215.71" cy="573.14" r="0.75" fill="rgb(215,99,70)"/>
<circle cx="209.43" cy="546.18" r="0.75" fill="rgb(215,98,70)"/>
<circle cx="216.39" cy="575.54" r="0.75" fill="rgb(215,98,70)"/>
<circle cx="208.14" cy="540.45" r="0.75" fill="rgb(215,98,70)"/>
<circle cx="214.97" cy="568.56" r="0.75" fill="rgb(214,97,69)"/>
<circle cx="212.85" cy="558.84" r="0.75" fill="rgb(214,97,68)"/>
<circle cx="217.53" cy="576.61" r="0.75" fill="rgb(214,95,66)"/>
<circle cx="217.51" cy="576.06" r="0.75" fill="rgb(214,95,66)"/>
<circle cx="212.61" cy="554.94" r="0.75" fill="rgb(213,94,65)"/>
<circle cx="217.96" cy="576.70" r="0.75" fill="rgb(213,94,65)"/>
<circle cx="212.36" cy="551.54" r="0.75" fill="rgb(213,93,63)"/>
<circle cx="208.88" cy="536.19" r="0.75" fill="rgb(213,92,63)"/>
<circle cx="218.66" cy="575.04" r="0.75" fill="rgb(212,90,60)"/>
<circle cx="214.27" cy="554.96" r="0.75" fill="rgb(212,89,59)"/>
<circle cx="209.14" cy="532.39" r="0.75" fill="rgb(212,88,58)"/>
<circle cx="219.50" cy="574.82" r="0.75" fill="rgb(212,88,58)"/>
<circle cx="209.14" cy="529.92" r="0.75" fill="rgb(212,88,58)"/>
<circle cx="219.83" cy="574.12" r="0.75" fill="rgb(212,88,58)"/>
<circle cx="215.07" cy="553.27" r="0.75" fill="rgb(212,88,58)"/>
<circle cx="215.61" cy="552.88" r="0.75" fill="rgb(212,88,58)"/>
<circle cx="222.03" cy="545.05" r="0.9" fill="#d01a10"/>
<circle cx="221.51" cy="565.63" r="0.9" fill="#d01a10"/>
<circle cx="209.73" cy="524.47" r="0.9" fill="#d01a10"/>
<circle cx="217.41" cy="578.08" r="0.9" fill="#d01a10"/>
<circle cx="214.85" cy="548.30" r="0.9" fill="#d01a10"/>
<circle cx="212.29" cy="536.39" r="0.9" fill="#d01a10"/>
<circle cx="189.14" cy="596.37" r="0.75" fill="rgb(226,216,249)"/>
<circle cx="190.24" cy="599.12" r="0.75" fill="rgb(229,220,249)"/>
<circle cx="189.51" cy="598.67" r="0.75" fill="rgb(227,217,249)"/>
<circle cx="183.90" cy="592.23" r="0.75" fill="rgb(211,197,247)"/>
<circle cx="178.80" cy="594.72" r="0.75" fill="rgb(197,178,245)"/>
<circle cx="185.10" cy="591.90" r="0.75" fill="rgb(215,201,247)"/>
<circle cx="189.59" cy="598.83" r="0.75" fill="rgb(227,218,249)"/>
<circle cx="176.95" cy="582.46" r="0.75" fill="rgb(192,171,245)"/>
<circle cx="175.90" cy="591.81" r="0.75" fill="rgb(190,168,245)"/>
<circle cx="180.23" cy="590.61" r="0.75" fill="rgb(201,183,246)"/>
<circle cx="184.36" cy="597.89" r="0.75" fill="rgb(213,198,247)"/>
<circle cx="181.70" cy="593.77" r="0.75" fill="rgb(205,189,246)"/>
<circle cx="187.33" cy="598.50" r="0.75" fill="rgb(221,209,248)"/>
<circle cx="179.74" cy="593.09" r="0.75" fill="rgb(200,182,246)"/>
<circle cx="183.66" cy="596.32" r="0.75" fill="rgb(211,196,247)"/>
<circle cx="191.12" cy="599.07" r="0.75" fill="rgb(231,223,249)"/>
<circle cx="176.52" cy="584.04" r="0.75" fill="rgb(191,170,245)"/>
<circle cx="183.36" cy="588.84" r="0.75" fill="rgb(210,195,247)"/>
<circle cx="182.20" cy="594.38" r="0.75" fill="rgb(207,191,246)"/>
<circle cx="181.52" cy="595.50" r="0.75" fill="rgb(205,188,246)"/>
<circle cx="184.17" cy="594.05" r="0.75" fill="rgb(212,198,247)"/>
<circle cx="175.99" cy="590.43" r="0.75" fill="rgb(190,168,245)"/>
<circle cx="180.21" cy="586.74" r="0.75" fill="rgb(201,183,246)"/>
<circle cx="176.41" cy="594.76" r="0.75" fill="rgb(191,169,245)"/>
<circle cx="177.04" cy="590.31" r="0.75" fill="rgb(193,172,245)"/>
<circle cx="184.16" cy="592.48" r="0.75" fill="rgb(212,198,247)"/>
<circle cx="185.43" cy="597.81" r="0.75" fill="rgb(216,202,247)"/>
<circle cx="183.86" cy="593.46" r="0.75" fill="rgb(211,197,247)"/>
<circle cx="189.41" cy="596.66" r="0.75" fill="rgb(227,217,249)"/>
<circle cx="189.08" cy="597.94" r="0.75" fill="rgb(226,216,249)"/>
<circle cx="181.30" cy="596.88" r="0.75" fill="rgb(204,187,246)"/>
<circle cx="176.68" cy="594.13" r="0.75" fill="rgb(192,170,245)"/>
<circle cx="181.58" cy="593.35" r="0.75" fill="rgb(205,188,246)"/>
<circle cx="180.00" cy="587.47" r="0.75" fill="rgb(201,182,246)"/>
<circle cx="180.24" cy="587.29" r="0.75" fill="rgb(201,183,246)"/>
<circle cx="179.18" cy="590.17" r="0.75" fill="rgb(198,179,245)"/>
<circle cx="190.29" cy="599.06" r="0.75" fill="rgb(229,220,249)"/>
<circle cx="181.90" cy="597.17" r="0.75" fill="rgb(206,189,246)"/>
<circle cx="178.45" cy="588.39" r="0.75" fill="rgb(196,177,245)"/>
<circle cx="180.21" cy="586.95" r="0.75" fill="rgb(201,183,246)"/>
<circle cx="177.38" cy="591.36" r="0.75" fill="rgb(194,173,245)"/>
<circle cx="179.80" cy="592.64" r="0.75" fill="rgb(200,182,246)"/>
<circle cx="176.28" cy="593.42" r="0.75" fill="rgb(191,169,245)"/>
<circle cx="179.33" cy="590.91" r="0.75" fill="rgb(199,180,246)"/>
<circle cx="177.58" cy="584.05" r="0.75" fill="rgb(194,174,245)"/>
<circle cx="182.36" cy="590.22" r="0.75" fill="rgb(207,191,246)"/>
<circle cx="176.55" cy="591.52" r="0.75" fill="rgb(191,170,245)"/>
<circle cx="180.37" cy="587.01" r="0.75" fill="rgb(202,184,246)"/>
<circle cx="184.99" cy="597.35" r="0.75" fill="rgb(214,201,247)"/>
<circle cx="187.65" cy="595.18" r="0.75" fill="rgb(222,210,248)"/>
<circle cx="180.20" cy="591.65" r="0.75" fill="rgb(201,183,246)"/>
<circle cx="179.34" cy="587.15" r="0.75" fill="rgb(199,180,246)"/>
<circle cx="178.55" cy="586.36" r="0.75" fill="rgb(197,177,245)"/>
<circle cx="184.60" cy="596.22" r="0.75" fill="rgb(213,199,247)"/>
<circle cx="191.28" cy="599.11" r="0.75" fill="rgb(232,224,249)"/>
<circle cx="182.28" cy="590.55" r="0.75" fill="rgb(207,191,246)"/>
<circle cx="183.01" cy="592.24" r="0.75" fill="rgb(209,194,247)"/>
<circle cx="187.16" cy="597.26" r="0.75" fill="rgb(220,209,248)"/>
<circle cx="181.18" cy="596.53" r="0.75" fill="rgb(204,187,246)"/>
<circle cx="182.26" cy="596.78" r="0.75" fill="rgb(207,191,246)"/>
<circle cx="182.47" cy="587.57" r="0.75" fill="rgb(208,192,247)"/>
<circle cx="179.15" cy="592.08" r="0.75" fill="rgb(198,179,245)"/>
<circle cx="177.32" cy="581.17" r="0.75" fill="rgb(193,173,245)"/>
<circle cx="179.26" cy="595.24" r="0.75" fill="rgb(199,180,246)"/>
<circle cx="190.02" cy="597.83" r="0.75" fill="rgb(228,219,249)"/>
<circle cx="179.03" cy="592.06" r="0.75" fill="rgb(198,179,245)"/>
<circle cx="186.58" cy="595.86" r="0.75" fill="rgb(219,207,248)"/>
<circle cx="191.25" cy="598.52" r="0.75" fill="rgb(232,224,249)"/>
<circle cx="177.98" cy="596.20" r="0.75" fill="rgb(195,175,245)"/>
<circle cx="177.24" cy="595.58" r="0.75" fill="rgb(193,172,245)"/>
<circle cx="190.82" cy="598.73" r="0.75" fill="rgb(230,222,249)"/>
<circle cx="177.26" cy="592.08" r="0.75" fill="rgb(193,172,245)"/>
<circle cx="181.82" cy="591.35" r="0.75" fill="rgb(206,189,246)"/>
<circle cx="189.33" cy="598.21" r="0.75" fill="rgb(226,217,249)"/>
<circle cx="190.15" cy="598.59" r="0.75" fill="rgb(229,220,249)"/>
<circle cx="182.46" cy="590.97" r="0.75" fill="rgb(207,191,246)"/>
<circle cx="185.63" cy="595.39" r="0.75" fill="rgb(216,203,247)"/>
<circle cx="185.24" cy="595.34" r="0.75" fill="rgb(215,202,247)"/>
<circle cx="177.00" cy="590.19" r="0.75" fill="rgb(193,172,245)"/>
<circle cx="190.96" cy="598.26" r="0.75" fill="rgb(231,223,249)"/>
<circle cx="183.86" cy="591.93" r="0.75" fill="rgb(211,197,247)"/>
<circle cx="184.83" cy="597.88" r="0.75" fill="rgb(214,200,247)"/>
<circle cx="179.04" cy="584.64" r="0.75" fill="rgb(198,179,245)"/>
<circle cx="188.65" cy="596.02" r="0.75" fill="rgb(224,214,248)"/>
<circle cx="182.38" cy="590.30" r="0.75" fill="rgb(207,191,246)"/>
<circle cx="181.96" cy="591.63" r="0.75" fill="rgb(206,190,246)"/>
<circle cx="188.31" cy="597.06" r="0.75" fill="rgb(224,213,248)"/>
<circle cx="190.72" cy="598.95" r="0.75" fill="rgb(230,222,249)"/>
<circle cx="177.90" cy="581.91" r="0.75" fill="rgb(195,175,245)"/>
<circle cx="185.89" cy="595.21" r="0.75" fill="rgb(217,204,248)"/>
<circle cx="184.83" cy="593.05" r="0.75" fill="rgb(214,200,247)"/>
<circle cx="177.75" cy="592.70" r="0.75" fill="rgb(195,174,245)"/>
<circle cx="179.11" cy="595.33" r="0.75" fill="rgb(198,179,245)"/>
<circle cx="179.90" cy="586.57" r="0.75" fill="rgb(200,182,246)"/>
<circle cx="186.40" cy="597.87" r="0.75" fill="rgb(218,206,248)"/>
<circle cx="180.47" cy="596.87" r="0.75" fill="rgb(202,184,246)"/>
<circle cx="180.34" cy="588.59" r="0.75" fill="rgb(202,184,246)"/>
<circle cx="180.10" cy="588.63" r="0.75" fill="rgb(201,183,246)"/>
<circle cx="177.22" cy="590.76" r="0.75" fill="rgb(193,172,245)"/>
<circle cx="181.39" cy="591.69" r="0.75" fill="rgb(205,188,246)"/>
<circle cx="187.24" cy="597.67" r="0.75" fill="rgb(221,209,248)"/>
<circle cx="183.98" cy="596.00" r="0.75" fill="rgb(212,197,247)"/>
<circle cx="180.53" cy="589.86" r="0.75" fill="rgb(202,184,246)"/>
<circle cx="182.07" cy="594.61" r="0.75" fill="rgb(206,190,246)"/>
<circle cx="181.08" cy="593.28" r="0.75" fill="rgb(204,186,246)"/>
<circle cx="182.12" cy="590.35" r="0.75" fill="rgb(207,190,246)"/>
<circle cx="182.17" cy="592.58" r="0.75" fill="rgb(207,190,246)"/>
<circle cx="177.97" cy="593.92" r="0.75" fill="rgb(195,175,245)"/>
<circle cx="178.93" cy="589.16" r="0.75" fill="rgb(198,179,245)"/>
<circle cx="180.39" cy="590.92" r="0.75" fill="rgb(202,184,246)"/>
<circle cx="177.63" cy="582.85" r="0.75" fill="rgb(194,174,245)"/>
<circle cx="179.90" cy="596.27" r="0.75" fill="rgb(200,182,246)"/>
<circle cx="180.35" cy="596.47" r="0.75" fill="rgb(202,184,246)"/>
<circle cx="190.46" cy="597.87" r="0.75" fill="rgb(229,221,249)"/>
<circle cx="186.87" cy="598.15" r="0.75" fill="rgb(220,208,248)"/>
<circle cx="186.25" cy="592.00" r="0.75" fill="rgb(218,205,248)"/>
<circle cx="177.96" cy="586.65" r="0.75" fill="rgb(195,175,245)"/>
<circle cx="180.17" cy="595.50" r="0.75" fill="rgb(201,183,246)"/>
<circle cx="191.10" cy="598.77" r="0.75" fill="rgb(231,223,249)"/>
<circle cx="189.68" cy="597.69" r="0.75" fill="rgb(227,218,249)"/>
<circle cx="182.96" cy="589.33" r="0.75" fill="rgb(209,193,247)"/>
<circle cx="182.61" cy="587.84" r="0.75" fill="rgb(208,192,247)"/>
<circle cx="190.62" cy="598.70" r="0.75" fill="rgb(230,221,249)"/>
<circle cx="187.00" cy="594.29" r="0.75" fill="rgb(220,208,248)"/>
<circle cx="186.70" cy="597.91" r="0.75" fill="rgb(219,207,248)"/>
<circle cx="176.65" cy="589.90" r="0.75" fill="rgb(192,170,245)"/>
<circle cx="182.12" cy="595.14" r="0.75" fill="rgb(207,190,246)"/>
<circle cx="178.38" cy="590.67" r="0.75" fill="rgb(196,177,245)"/>
<circle cx="183.02" cy="597.25" r="0.75" fill="rgb(209,194,247)"/>
<circle cx="180.78" cy="595.30" r="0.75" fill="rgb(203,185,246)"/>
<circle cx="190.05" cy="596.64" r="0.75" fill="rgb(228,219,249)"/>
<circle cx="179.59" cy="588.04" r="0.75" fill="rgb(200,181,246)"/>
<circle cx="184.80" cy="591.80" r="0.75" fill="rgb(214,200,247)"/>
<circle cx="186.67" cy="595.39" r="0.75" fill="rgb(219,207,248)"/>
<circle cx="186.15" cy="597.40" r="0.75" fill="rgb(218,205,248)"/>
<circle cx="178.55" cy="593.86" r="0.75" fill="rgb(197,177,245)"/>
<circle cx="178.92" cy="593.24" r="0.75" fill="rgb(198,179,245)"/>
<circle cx="182.68" cy="596.82" r="0.75" fill="rgb(208,192,247)"/>
<circle cx="188.00" cy="596.31" r="0.75" fill="rgb(223,212,248)"/>
<circle cx="186.62" cy="597.58" r="0.75" fill="rgb(219,207,248)"/>
<circle cx="188.24" cy="596.71" r="0.75" fill="rgb(223,213,248)"/>
<circle cx="189.94" cy="597.70" r="0.75" fill="rgb(228,219,249)"/>
<circle cx="178.59" cy="585.16" r="0.75" fill="rgb(197,177,245)"/>
<circle cx="186.42" cy="598.36" r="0.75" fill="rgb(218,206,248)"/>
<circle cx="186.93" cy="597.85" r="0.75" fill="rgb(220,208,248)"/>
<circle cx="184.98" cy="597.29" r="0.75" fill="rgb(214,201,247)"/>
<circle cx="180.53" cy="587.57" r="0.75" fill="rgb(202,184,246)"/>
<circle cx="176.46" cy="589.87" r="0.75" fill="rgb(191,170,245)"/>
<circle cx="183.28" cy="592.95" r="0.75" fill="rgb(210,194,247)"/>
<circle cx="176.15" cy="590.37" r="0.75" fill="rgb(190,168,245)"/>
<circle cx="176.57" cy="586.13" r="0.75" fill="rgb(191,170,245)"/>
<circle cx="180.10" cy="589.28" r="0.75" fill="rgb(201,183,246)"/>
<circle cx="183.36" cy="592.92" r="0.75" fill="rgb(210,195,247)"/>
<circle cx="178.57" cy="594.64" r="0.75" fill="rgb(197,177,245)"/>
<circle cx="186.44" cy="595.85" r="0.75" fill="rgb(218,206,248)"/>
<circle cx="178.85" cy="593.09" r="0.75" fill="rgb(198,178,245)"/>
<circle cx="179.58" cy="596.27" r="0.75" fill="rgb(200,181,246)"/>
<circle cx="185.99" cy="591.55" r="0.75" fill="rgb(217,204,248)"/>
<circle cx="180.03" cy="594.42" r="0.75" fill="rgb(201,183,246)"/>
<circle cx="177.27" cy="591.79" r="0.75" fill="rgb(193,173,245)"/>
<circle cx="177.80" cy="581.91" r="0.75" fill="rgb(195,174,245)"/>
<circle cx="180.43" cy="591.34" r="0.75" fill="rgb(202,184,246)"/>
<circle cx="185.82" cy="595.98" r="0.75" fill="rgb(217,204,248)"/>
<circle cx="178.88" cy="586.45" r="0.75" fill="rgb(198,178,245)"/>
<circle cx="182.86" cy="588.29" r="0.75" fill="rgb(209,193,247)"/>
<circle cx="177.62" cy="586.50" r="0.75" fill="rgb(194,174,245)"/>
<circle cx="180.55" cy="595.67" r="0.75" fill="rgb(202,185,246)"/>
<circle cx="180.64" cy="593.40" r="0.75" fill="rgb(203,185,246)"/>
<circle cx="176.66" cy="589.96" r="0.75" fill="rgb(192,170,245)"/>
<circle cx="185.49" cy="596.29" r="0.75" fill="rgb(216,203,247)"/>
<circle cx="162.58" cy="542.88" r="0.85" fill="#4a3ee8"/>
<circle cx="166.68" cy="555.34" r="0.85" fill="#4a3ee8"/>
<circle cx="168.73" cy="555.88" r="0.85" fill="#4a3ee8"/>
<circle cx="170.78" cy="558.05" r="0.85" fill="#4a3ee8"/>
<circle cx="174.88" cy="560.21" r="0.85" fill="#4a3ee8"/>
<circle cx="175.90" cy="562.38" r="0.85" fill="#4a3ee8"/>
<circle cx="170.78" cy="568.88" r="0.85" fill="#4a3ee8"/>
<circle cx="172.83" cy="571.04" r="0.85" fill="#4a3ee8"/>
<circle cx="174.88" cy="574.29" r="0.85" fill="#4a3ee8"/>
<circle cx="159.50" cy="573.21" r="0.85" fill="#4a3ee8"/>
<circle cx="163.60" cy="577.54" r="0.85" fill="#4a3ee8"/>
<circle cx="166.68" cy="579.71" r="0.85" fill="#4a3ee8"/>
<circle cx="168.73" cy="577.54" r="0.85" fill="#4a3ee8"/>
<circle cx="171.80" cy="581.87" r="0.85" fill="#4a3ee8"/>
<circle cx="173.85" cy="580.79" r="0.85" fill="#4a3ee8"/>
<circle cx="165.65" cy="582.96" r="0.85" fill="#4a3ee8"/>
<circle cx="169.75" cy="585.12" r="0.85" fill="#4a3ee8"/>
<circle cx="172.83" cy="586.20" r="0.85" fill="#4a3ee8"/>
<circle cx="167.70" cy="588.37" r="0.85" fill="#4a3ee8"/>
<circle cx="175.90" cy="588.37" r="0.85" fill="#4a3ee8"/>
<circle cx="170.78" cy="589.45" r="0.85" fill="#4a3ee8"/>
<circle cx="176.93" cy="590.54" r="0.85" fill="#4a3ee8"/>
<circle cx="173.85" cy="591.62" r="0.85" fill="#4a3ee8"/>
<circle cx="164.62" cy="585.12" r="0.85" fill="#4a3ee8"/>
<circle cx="177.95" cy="584.04" r="0.85" fill="#4a3ee8"/>
<circle cx="178.98" cy="576.46" r="0.85" fill="#4a3ee8"/>
<text x="160.01" y="541.47" font-size="3.6" text-anchor="middle" fill="#3a6ec8" style="stroke:#3a6ec8;stroke-width:0.04px">Gata1</text>
<text x="168.73" y="552.30" font-size="3.6" text-anchor="middle" fill="#3a6ec8" style="stroke:#3a6ec8;stroke-width:0.04px">Gata1</text>
<text x="163.60" y="557.18" font-size="3.6" text-anchor="middle" fill="#3a6ec8" style="stroke:#3a6ec8;stroke-width:0.04px">Gata2</text>
<text x="167.19" y="571.80" font-size="3.6" text-anchor="middle" fill="#3a6ec8" style="stroke:#3a6ec8;stroke-width:0.04px">Tal1</text>
<text x="155.40" y="573.42" font-size="3.6" text-anchor="middle" fill="#3a6ec8" style="stroke:#3a6ec8;stroke-width:0.04px">Mef2a</text>
<text x="164.62" y="578.29" font-size="3.6" text-anchor="middle" fill="#3a6ec8" style="stroke:#3a6ec8;stroke-width:0.04px">Mef2c</text>
<text x="174.36" y="578.29" font-size="3.6" text-anchor="middle" fill="#3a6ec8" style="stroke:#3a6ec8;stroke-width:0.04px">Nlrp1</text>
<text x="172.83" y="583.17" font-size="3.6" text-anchor="middle" fill="#3a6ec8" style="stroke:#3a6ec8;stroke-width:0.04px">Nfe2</text>
<text x="169.75" y="587.50" font-size="3.6" text-anchor="middle" fill="#3a6ec8" style="stroke:#3a6ec8;stroke-width:0.04px">Klf1</text>
<text x="180.51" y="586.42" font-size="3.6" text-anchor="middle" fill="#3a6ec8" style="stroke:#3a6ec8;stroke-width:0.04px">Nfe2l1</text>
<text x="172.83" y="591.29" font-size="3.6" text-anchor="middle" fill="#3a6ec8" style="stroke:#3a6ec8;stroke-width:0.04px">Tal1</text>
<text x="223.56" y="539.85" font-size="3.6" text-anchor="middle" fill="#9c2a22" style="stroke:#9c2a22;stroke-width:0.04px">Sp1</text>
<text x="212.80" y="555.55" font-size="3.6" text-anchor="middle" fill="#9c2a22" style="stroke:#9c2a22;stroke-width:0.04px">Fli1</text>
<text x="215.88" y="561.51" font-size="3.6" text-anchor="middle" fill="#9c2a22" style="stroke:#9c2a22;stroke-width:0.04px">Fli1</text>
<text x="217.41" y="566.38" font-size="3.6" text-anchor="middle" fill="#9c2a22" style="stroke:#9c2a22;stroke-width:0.04px">Etv1</text>
<text x="211.78" y="572.34" font-size="3.6" text-anchor="middle" fill="#9c2a22" style="stroke:#9c2a22;stroke-width:0.04px">Elf1</text>
<text x="217.41" y="576.67" font-size="3.6" text-anchor="middle" fill="#9c2a22" style="stroke:#9c2a22;stroke-width:0.04px">Ets2</text>
<text x="201.53" y="580.46" font-size="3.6" text-anchor="middle" fill="#9c2a22" style="stroke:#9c2a22;stroke-width:0.04px">Maff</text>
<text x="209.73" y="584.79" font-size="3.6" text-anchor="middle" fill="#9c2a22" style="stroke:#9c2a22;stroke-width:0.04px">Elk4</text>
<text x="217.93" y="588.58" font-size="3.6" text-anchor="middle" fill="#9c2a22" style="stroke:#9c2a22;stroke-width:0.04px">Nrf1</text>
<text x="211.26" y="547.43" font-size="3.6" text-anchor="middle" fill="#9c2a22" style="stroke:#9c2a22;stroke-width:0.04px">Irf1</text>
<text x="206.65" y="579.92" font-size="3.6" text-anchor="middle" fill="#9c2a22" style="stroke:#9c2a22;stroke-width:0.04px">Elk1</text>
<text x="253.00" y="512.29" font-size="10.6" font-weight="bold" fill="#000" style="stroke:#000;stroke-width:0.25px" textLength="7.2" lengthAdjust="spacingAndGlyphs">K</text>
<text x="280.14" y="524.23" font-size="8.428" text-anchor="middle" style="stroke-width:0.14px" textLength="41.22" lengthAdjust="spacingAndGlyphs">BAHD1-V5</text>
<text x="331.98" y="524.15" font-size="8.204" text-anchor="middle" style="stroke-width:0.14px" textLength="25.68" lengthAdjust="spacingAndGlyphs">GATA1</text>
<circle cx="287.4" cy="556.6" r="18.4" fill="#d48597" stroke="#6e6e6e" stroke-width="0.7"/>
<circle cx="310.4" cy="556.8" r="30.6" fill="#c3dcac" stroke="#6e6e6e" stroke-width="0.7"/>
<clipPath id="cpK"><circle cx="287.4" cy="556.6" r="18.4"/></clipPath>
<circle cx="310.4" cy="556.8" r="30.6" fill="#f1cb94" clip-path="url(#cpK)"/>
<circle cx="310.4" cy="556.8" r="30.6" fill="none" stroke="#2b2b2b" stroke-width="0.8" clip-path="url(#cpK)"/>
<clipPath id="cpK2"><circle cx="310.4" cy="556.8" r="30.6"/></clipPath>
<circle cx="287.4" cy="556.6" r="18.4" fill="none" stroke="#2b2b2b" stroke-width="0.8" clip-path="url(#cpK2)"/>
<text x="272.99" y="557.74" font-size="4.823" text-anchor="middle" style="stroke-width:0.04px" textLength="12.07" lengthAdjust="spacingAndGlyphs">6,179</text>
<text x="291.59" y="558.13" font-size="5.908" text-anchor="middle" style="stroke-width:0.04px" textLength="18.07" lengthAdjust="spacingAndGlyphs">14,305</text>
<text x="319.57" y="558.04" font-size="5.676" text-anchor="middle" style="stroke-width:0.04px" textLength="17.36" lengthAdjust="spacingAndGlyphs">44,779</text>
<text x="304.35" y="595.54" font-size="6.772" text-anchor="middle" style="stroke-width:0.08px" textLength="35.08" lengthAdjust="spacingAndGlyphs"><tspan font-style="italic">P</tspan> = 2.1e-70</text>
<text x="361.70" y="512.09" font-size="10.6" font-weight="bold" fill="#000" style="stroke:#000;stroke-width:0.25px" textLength="5.6" lengthAdjust="spacingAndGlyphs">L</text>
<text x="440.14" y="520.72" font-size="6.731" text-anchor="middle" style="stroke-width:0.08px" textLength="32.55" lengthAdjust="spacingAndGlyphs">Decreased</text>
<line x1="392.60" y1="525.40" x2="488.00" y2="525.40" stroke="#444" stroke-width="1.1" />
<line x1="392.60" y1="528.80" x2="392.60" y2="597.40" stroke="#9a9a9a" stroke-width="0.6" />
<line x1="392.60" y1="597.40" x2="423.00" y2="597.40" stroke="#9a9a9a" stroke-width="0.6" />
<line x1="389.60" y1="535.80" x2="392.00" y2="535.80" stroke="#231f20" stroke-width="1.0" />
<text x="387.12" y="537.89" font-size="5.816" text-anchor="end" style="stroke-width:0.04px" textLength="14.55" lengthAdjust="spacingAndGlyphs">100.0</text>
<line x1="389.60" y1="555.20" x2="392.00" y2="555.20" stroke="#231f20" stroke-width="1.0" />
<text x="387.11" y="557.32" font-size="5.886" text-anchor="end" style="stroke-width:0.04px" textLength="11.46" lengthAdjust="spacingAndGlyphs">10.0</text>
<line x1="389.60" y1="574.50" x2="392.00" y2="574.50" stroke="#231f20" stroke-width="1.0" />
<text x="387.12" y="576.75" font-size="6.25" text-anchor="end" style="stroke-width:0.06px" textLength="8.69" lengthAdjust="spacingAndGlyphs">1.0</text>
<line x1="389.60" y1="593.90" x2="392.00" y2="593.90" stroke="#231f20" stroke-width="1.0" />
<text x="387.18" y="596.10" font-size="6.107" text-anchor="end" style="stroke-width:0.05px" textLength="8.49" lengthAdjust="spacingAndGlyphs">0.1</text>
<g transform="translate(364.90 563.50) rotate(-90)">
<text x="0.00" y="2.88" font-size="8.0" text-anchor="middle" style="stroke-width:0.14px" textLength="45.10" lengthAdjust="spacingAndGlyphs">H3K27ace signal</text>
</g>
<path d="M399.60 539.60V536.80H412.10V539.60" fill="none" stroke="#231f20" stroke-width="1.0"/>
<text x="405.91" y="533.91" font-size="4.466" text-anchor="middle" style="stroke-width:0.04px" textLength="23.14" lengthAdjust="spacingAndGlyphs"><tspan font-style="italic">P</tspan> &lt; 2.2e-16</text>
<line x1="399.60" y1="576.00" x2="399.60" y2="590.40" stroke="#231f20" stroke-width="0.8" />
<path d="M399.60 546.00 L399.75 546.50 L399.97 547.00 L400.23 547.50 L400.50 548.00 L400.76 548.50 L401.00 549.00 L401.16 549.50 L401.31 550.00 L401.46 550.50 L401.60 551.00 L401.74 551.50 L401.89 552.00 L402.04 552.50 L402.20 553.00 L402.33 553.50 L402.47 554.00 L402.61 554.50 L402.76 555.00 L402.90 555.50 L403.04 556.00 L403.19 556.50 L403.33 557.00 L403.47 557.50 L403.60 558.00 L403.73 558.50 L403.87 559.00 L404.01 559.50 L404.14 560.00 L404.28 560.50 L404.40 561.00 L404.52 561.50 L404.63 562.00 L404.72 562.50 L404.80 563.00 L404.90 563.50 L404.98 564.00 L405.04 564.50 L405.07 565.00 L405.07 565.50 L405.03 566.00 L404.96 566.50 L404.86 567.00 L404.73 567.50 L404.58 568.00 L404.41 568.50 L404.22 569.00 L404.02 569.50 L403.80 570.00 L403.57 570.50 L403.32 571.00 L403.04 571.50 L402.75 572.00 L402.45 572.50 L402.16 573.00 L401.87 573.50 L401.60 574.00 L401.23 574.50 L400.84 575.00 L400.46 575.50 L400.11 576.00 L399.82 576.50 L399.60 577.00 L399.60 577.00 L399.38 576.50 L399.09 576.00 L398.74 575.50 L398.36 575.00 L397.97 574.50 L397.60 574.00 L397.33 573.50 L397.04 573.00 L396.75 572.50 L396.45 572.00 L396.16 571.50 L395.88 571.00 L395.63 570.50 L395.40 570.00 L395.18 569.50 L394.98 569.00 L394.79 568.50 L394.62 568.00 L394.47 567.50 L394.34 567.00 L394.24 566.50 L394.17 566.00 L394.13 565.50 L394.13 565.00 L394.16 564.50 L394.22 564.00 L394.30 563.50 L394.40 563.00 L394.48 562.50 L394.57 562.00 L394.68 561.50 L394.80 561.00 L394.93 560.50 L395.06 560.00 L395.19 559.50 L395.33 559.00 L395.47 558.50 L395.60 558.00 L395.73 557.50 L395.87 557.00 L396.01 556.50 L396.16 556.00 L396.30 555.50 L396.44 555.00 L396.59 554.50 L396.73 554.00 L396.87 553.50 L397.00 553.00 L397.16 552.50 L397.31 552.00 L397.46 551.50 L397.60 551.00 L397.74 550.50 L397.89 550.00 L398.04 549.50 L398.20 549.00 L398.44 548.50 L398.70 548.00 L398.98 547.50 L399.23 547.00 L399.45 546.50 L399.60 546.00Z" fill="#5aa2de" stroke="#231f20" stroke-width="0.4"/>
<path d="M399.60 540.00 L399.64 540.50 L399.71 541.00 L399.78 541.50 L399.85 542.00 L399.88 542.50 L399.91 543.00 L399.94 543.50 L399.97 544.00 L400.01 544.50 L400.04 545.00 L400.07 545.50 L400.10 546.00 L400.13 546.50 L400.15 547.00 L400.19 547.50 L400.24 548.00 L400.29 548.50 L400.32 549.00 L400.33 549.50 L400.30 550.00 L400.17 550.50 L399.96 551.00 L399.75 551.50 L399.60 552.00 L399.60 552.00 L399.45 551.50 L399.24 551.00 L399.03 550.50 L398.90 550.00 L398.87 549.50 L398.88 549.00 L398.91 548.50 L398.96 548.00 L399.01 547.50 L399.05 547.00 L399.07 546.50 L399.10 546.00 L399.13 545.50 L399.16 545.00 L399.19 544.50 L399.23 544.00 L399.26 543.50 L399.29 543.00 L399.32 542.50 L399.35 542.00 L399.42 541.50 L399.49 541.00 L399.56 540.50 L399.60 540.00Z" fill="#111" stroke="#231f20" stroke-width="0.15"/>
<rect x="398.70" y="561.50" width="1.8" height="8.50" fill="#fff" stroke="#231f20" stroke-width="0.45"/>
<line x1="398.70" y1="565.50" x2="400.50" y2="565.50" stroke="#231f20" stroke-width="0.5" />
<line x1="411.70" y1="580.00" x2="411.70" y2="589.60" stroke="#231f20" stroke-width="0.8" />
<path d="M411.70 553.00 L411.83 553.50 L412.01 554.00 L412.22 554.50 L412.46 555.00 L412.69 555.50 L412.90 556.00 L413.04 556.50 L413.18 557.00 L413.31 557.50 L413.45 558.00 L413.59 558.50 L413.74 559.00 L413.91 559.50 L414.10 560.00 L414.27 560.50 L414.45 561.00 L414.65 561.50 L414.86 562.00 L415.07 562.50 L415.28 563.00 L415.50 563.50 L415.71 564.00 L415.91 564.50 L416.10 565.00 L416.25 565.50 L416.42 566.00 L416.59 566.50 L416.76 567.00 L416.93 567.50 L417.10 568.00 L417.26 568.50 L417.41 569.00 L417.54 569.50 L417.65 570.00 L417.73 570.50 L417.78 571.00 L417.80 571.50 L417.76 572.00 L417.67 572.50 L417.52 573.00 L417.32 573.50 L417.09 574.00 L416.84 574.50 L416.57 575.00 L416.30 575.50 L415.94 576.00 L415.51 576.50 L415.05 577.00 L414.57 577.50 L414.10 578.00 L413.67 578.50 L413.30 579.00 L412.76 579.50 L412.31 580.00 L411.95 580.50 L411.70 581.00 L411.70 581.00 L411.45 580.50 L411.09 580.00 L410.64 579.50 L410.10 579.00 L409.73 578.50 L409.30 578.00 L408.83 577.50 L408.35 577.00 L407.89 576.50 L407.46 576.00 L407.10 575.50 L406.83 575.00 L406.56 574.50 L406.31 574.00 L406.08 573.50 L405.88 573.00 L405.73 572.50 L405.64 572.00 L405.60 571.50 L405.62 571.00 L405.67 570.50 L405.75 570.00 L405.86 569.50 L405.99 569.00 L406.14 568.50 L406.30 568.00 L406.47 567.50 L406.64 567.00 L406.81 566.50 L406.98 566.00 L407.15 565.50 L407.30 565.00 L407.49 564.50 L407.69 564.00 L407.90 563.50 L408.12 563.00 L408.33 562.50 L408.54 562.00 L408.75 561.50 L408.95 561.00 L409.13 560.50 L409.30 560.00 L409.49 559.50 L409.66 559.00 L409.81 558.50 L409.95 558.00 L410.09 557.50 L410.22 557.00 L410.36 556.50 L410.50 556.00 L410.71 555.50 L410.94 555.00 L411.18 554.50 L411.39 554.00 L411.57 553.50 L411.70 553.00Z" fill="#5aa2de" stroke="#231f20" stroke-width="0.4"/>
<path d="M411.70 547.00 L411.74 547.50 L411.81 548.00 L411.88 548.50 L411.95 549.00 L411.98 549.50 L412.01 550.00 L412.04 550.50 L412.07 551.00 L412.11 551.50 L412.14 552.00 L412.17 552.50 L412.20 553.00 L412.23 553.50 L412.25 554.00 L412.29 554.50 L412.34 555.00 L412.39 555.50 L412.42 556.00 L412.43 556.50 L412.40 557.00 L412.27 557.50 L412.06 558.00 L411.85 558.50 L411.70 559.00 L411.70 559.00 L411.55 558.50 L411.34 558.00 L411.13 557.50 L411.00 557.00 L410.97 556.50 L410.98 556.00 L411.01 555.50 L411.06 555.00 L411.11 554.50 L411.15 554.00 L411.17 553.50 L411.20 553.00 L411.23 552.50 L411.26 552.00 L411.29 551.50 L411.33 551.00 L411.36 550.50 L411.39 550.00 L411.42 549.50 L411.45 549.00 L411.52 548.50 L411.59 548.00 L411.66 547.50 L411.70 547.00Z" fill="#111" stroke="#231f20" stroke-width="0.15"/>
<rect x="410.80" y="566.00" width="1.8" height="9.00" fill="#fff" stroke="#231f20" stroke-width="0.45"/>
<line x1="410.80" y1="570.50" x2="412.60" y2="570.50" stroke="#231f20" stroke-width="0.5" />
<line x1="399.60" y1="597.40" x2="399.60" y2="600.00" stroke="#231f20" stroke-width="0.9" />
<g transform="translate(401.20 602.60) rotate(-45)"><text x="0" y="2.30" font-size="6.4" text-anchor="end" textLength="7.8" lengthAdjust="spacingAndGlyphs">WT</text></g>
<line x1="411.70" y1="597.40" x2="411.70" y2="600.00" stroke="#231f20" stroke-width="0.9" />
<g transform="translate(413.30 602.60) rotate(-45)"><text x="0" y="2.30" font-size="6.4" text-anchor="end" textLength="17.5" lengthAdjust="spacingAndGlyphs">F11KO</text></g>
<line x1="461.70" y1="529.00" x2="461.70" y2="596.80" stroke="#9a9a9a" stroke-width="0.6" />
<line x1="461.70" y1="596.80" x2="488.00" y2="596.80" stroke="#9a9a9a" stroke-width="0.6" />
<line x1="458.70" y1="535.00" x2="461.10" y2="535.00" stroke="#231f20" stroke-width="1.0" />
<text x="456.00" y="537.08" font-size="5.768" text-anchor="end" style="stroke-width:0.04px" textLength="12.83" lengthAdjust="spacingAndGlyphs">1000</text>
<line x1="458.70" y1="553.00" x2="461.10" y2="553.00" stroke="#231f20" stroke-width="1.0" />
<text x="456.02" y="555.08" font-size="5.788" text-anchor="end" style="stroke-width:0.04px" textLength="9.66" lengthAdjust="spacingAndGlyphs">100</text>
<line x1="458.70" y1="570.50" x2="461.10" y2="570.50" stroke="#231f20" stroke-width="1.0" />
<text x="456.02" y="572.66" font-size="6.0" text-anchor="end" style="stroke-width:0.04px" textLength="6.67" lengthAdjust="spacingAndGlyphs">10</text>
<line x1="458.70" y1="588.00" x2="461.10" y2="588.00" stroke="#231f20" stroke-width="1.0" />
<text x="456.12" y="590.48" font-size="6.897" text-anchor="end" style="stroke-width:0.09px" textLength="3.84" lengthAdjust="spacingAndGlyphs">1</text>
<g transform="translate(436.10 562.80) rotate(-90)">
<text x="0.00" y="2.88" font-size="8.0" text-anchor="middle" style="stroke-width:0.14px" textLength="41.70" lengthAdjust="spacingAndGlyphs">H3K9ace signal</text>
</g>
<path d="M468.30 539.00V536.20H479.30V539.00" fill="none" stroke="#231f20" stroke-width="1.0"/>
<text x="475.41" y="533.84" font-size="4.545" text-anchor="middle" style="stroke-width:0.04px" textLength="23.54" lengthAdjust="spacingAndGlyphs"><tspan font-style="italic">P</tspan> = 3.7e-15</text>
<line x1="468.30" y1="582.00" x2="468.30" y2="591.30" stroke="#231f20" stroke-width="0.8" />
<path d="M468.30 548.00 L468.47 548.50 L468.71 549.00 L468.99 549.50 L469.30 550.01 L469.61 550.51 L469.90 551.01 L470.08 551.51 L470.26 552.01 L470.46 552.51 L470.65 553.01 L470.84 553.52 L471.03 554.02 L471.22 554.52 L471.39 555.02 L471.56 555.52 L471.70 556.02 L471.81 556.52 L471.91 557.03 L472.01 557.53 L472.11 558.03 L472.20 558.53 L472.29 559.03 L472.38 559.53 L472.45 560.03 L472.52 560.54 L472.58 561.04 L472.63 561.54 L472.67 562.04 L472.69 562.54 L472.70 563.04 L472.69 563.54 L472.67 564.05 L472.63 564.55 L472.58 565.05 L472.51 565.55 L472.43 566.05 L472.35 566.55 L472.26 567.06 L472.17 567.56 L472.07 568.06 L471.98 568.56 L471.89 569.06 L471.79 569.56 L471.69 570.06 L471.57 570.57 L471.45 571.07 L471.33 571.57 L471.21 572.07 L471.08 572.57 L470.96 573.07 L470.83 573.57 L470.71 574.08 L470.59 574.58 L470.48 575.08 L470.35 575.58 L470.22 576.08 L470.10 576.58 L469.98 577.08 L469.85 577.59 L469.74 578.09 L469.62 578.59 L469.50 579.09 L469.39 579.59 L469.26 580.09 L469.04 580.59 L468.81 581.10 L468.60 581.60 L468.43 582.10 L468.30 582.60 L468.30 582.60 L468.17 582.10 L468.00 581.60 L467.79 581.10 L467.56 580.59 L467.34 580.09 L467.21 579.59 L467.10 579.09 L466.98 578.59 L466.86 578.09 L466.75 577.59 L466.62 577.08 L466.50 576.58 L466.38 576.08 L466.25 575.58 L466.12 575.08 L466.01 574.58 L465.89 574.08 L465.77 573.57 L465.64 573.07 L465.52 572.57 L465.39 572.07 L465.27 571.57 L465.15 571.07 L465.03 570.57 L464.91 570.06 L464.81 569.56 L464.71 569.06 L464.62 568.56 L464.53 568.06 L464.43 567.56 L464.34 567.06 L464.25 566.55 L464.17 566.05 L464.09 565.55 L464.02 565.05 L463.97 564.55 L463.93 564.05 L463.91 563.54 L463.90 563.04 L463.91 562.54 L463.93 562.04 L463.97 561.54 L464.02 561.04 L464.08 560.54 L464.15 560.03 L464.22 559.53 L464.31 559.03 L464.40 558.53 L464.49 558.03 L464.59 557.53 L464.69 557.03 L464.79 556.52 L464.90 556.02 L465.04 555.52 L465.21 555.02 L465.38 554.52 L465.57 554.02 L465.76 553.52 L465.95 553.01 L466.14 552.51 L466.34 552.01 L466.52 551.51 L466.70 551.01 L466.99 550.51 L467.30 550.01 L467.61 549.50 L467.89 549.00 L468.13 548.50 L468.30 548.00Z" fill="#a3122e" stroke="#231f20" stroke-width="0.4"/>
<path d="M468.30 544.00 L468.34 544.50 L468.41 545.00 L468.48 545.50 L468.55 546.00 L468.62 546.50 L468.71 547.00 L468.78 547.50 L468.85 548.00 L468.89 548.50 L468.94 549.00 L468.99 549.50 L469.02 550.00 L469.03 550.50 L469.00 551.00 L468.87 551.50 L468.66 552.00 L468.45 552.50 L468.30 553.00 L468.30 553.00 L468.15 552.50 L467.94 552.00 L467.73 551.50 L467.60 551.00 L467.57 550.50 L467.58 550.00 L467.61 549.50 L467.66 549.00 L467.71 548.50 L467.75 548.00 L467.82 547.50 L467.89 547.00 L467.98 546.50 L468.05 546.00 L468.12 545.50 L468.19 545.00 L468.26 544.50 L468.30 544.00Z" fill="#111" stroke="#231f20" stroke-width="0.15"/>
<rect x="467.10" y="556.50" width="2.4" height="11.00" fill="#fff" stroke="#231f20" stroke-width="0.45"/>
<line x1="467.10" y1="561.50" x2="469.50" y2="561.50" stroke="#231f20" stroke-width="0.5" />
<line x1="479.30" y1="586.00" x2="479.30" y2="592.00" stroke="#231f20" stroke-width="0.8" />
<path d="M479.30 549.00 L479.39 549.50 L479.51 550.00 L479.64 550.50 L479.80 551.00 L479.97 551.50 L480.14 552.00 L480.32 552.50 L480.50 553.00 L480.60 553.50 L480.71 554.00 L480.83 554.50 L480.94 555.00 L481.06 555.50 L481.18 556.00 L481.31 556.50 L481.43 557.00 L481.55 557.50 L481.67 558.00 L481.78 558.50 L481.89 559.00 L482.00 559.50 L482.10 560.00 L482.19 560.50 L482.29 561.00 L482.39 561.50 L482.49 562.00 L482.58 562.50 L482.68 563.00 L482.77 563.50 L482.85 564.00 L482.93 564.50 L483.00 565.00 L483.07 565.50 L483.12 566.00 L483.16 566.50 L483.19 567.00 L483.20 567.50 L483.21 568.00 L483.19 568.50 L483.17 569.00 L483.13 569.50 L483.08 570.00 L483.02 570.50 L482.96 571.00 L482.89 571.50 L482.82 572.00 L482.74 572.50 L482.66 573.00 L482.58 573.50 L482.50 574.00 L482.42 574.50 L482.33 575.00 L482.24 575.50 L482.15 576.00 L482.04 576.50 L481.94 577.00 L481.83 577.50 L481.72 578.00 L481.61 578.50 L481.51 579.00 L481.40 579.50 L481.30 580.00 L481.20 580.50 L481.10 581.00 L480.94 581.50 L480.77 582.00 L480.61 582.50 L480.45 583.00 L480.30 583.50 L480.15 584.00 L480.02 584.50 L479.90 585.00 L479.69 585.50 L479.53 586.00 L479.39 586.50 L479.30 587.00 L479.30 587.00 L479.21 586.50 L479.07 586.00 L478.91 585.50 L478.70 585.00 L478.58 584.50 L478.45 584.00 L478.30 583.50 L478.15 583.00 L477.99 582.50 L477.83 582.00 L477.66 581.50 L477.50 581.00 L477.40 580.50 L477.30 580.00 L477.20 579.50 L477.09 579.00 L476.99 578.50 L476.88 578.00 L476.77 577.50 L476.66 577.00 L476.56 576.50 L476.45 576.00 L476.36 575.50 L476.27 575.00 L476.18 574.50 L476.10 574.00 L476.02 573.50 L475.94 573.00 L475.86 572.50 L475.78 572.00 L475.71 571.50 L475.64 571.00 L475.58 570.50 L475.52 570.00 L475.47 569.50 L475.43 569.00 L475.41 568.50 L475.39 568.00 L475.40 567.50 L475.41 567.00 L475.44 566.50 L475.48 566.00 L475.53 565.50 L475.60 565.00 L475.67 564.50 L475.75 564.00 L475.83 563.50 L475.92 563.00 L476.02 562.50 L476.11 562.00 L476.21 561.50 L476.31 561.00 L476.41 560.50 L476.50 560.00 L476.60 559.50 L476.71 559.00 L476.82 558.50 L476.93 558.00 L477.05 557.50 L477.17 557.00 L477.29 556.50 L477.42 556.00 L477.54 555.50 L477.66 555.00 L477.77 554.50 L477.89 554.00 L478.00 553.50 L478.10 553.00 L478.28 552.50 L478.46 552.00 L478.63 551.50 L478.80 551.00 L478.96 550.50 L479.09 550.00 L479.21 549.50 L479.30 549.00Z" fill="#a3122e" stroke="#231f20" stroke-width="0.4"/>
<path d="M479.30 543.00 L479.34 543.50 L479.41 544.00 L479.48 544.50 L479.55 545.00 L479.59 545.50 L479.62 546.00 L479.67 546.50 L479.71 547.00 L479.75 547.50 L479.78 548.00 L479.82 548.50 L479.85 549.00 L479.89 549.50 L479.94 550.00 L479.99 550.50 L480.02 551.00 L480.03 551.50 L480.00 552.00 L479.87 552.50 L479.66 553.00 L479.45 553.50 L479.30 554.00 L479.30 554.00 L479.15 553.50 L478.94 553.00 L478.73 552.50 L478.60 552.00 L478.57 551.50 L478.58 551.00 L478.61 550.50 L478.66 550.00 L478.71 549.50 L478.75 549.00 L478.78 548.50 L478.82 548.00 L478.85 547.50 L478.89 547.00 L478.93 546.50 L478.98 546.00 L479.01 545.50 L479.05 545.00 L479.12 544.50 L479.19 544.00 L479.26 543.50 L479.30 543.00Z" fill="#111" stroke="#231f20" stroke-width="0.15"/>
<rect x="478.10" y="561.00" width="2.4" height="12.00" fill="#fff" stroke="#231f20" stroke-width="0.45"/>
<line x1="478.10" y1="567.00" x2="480.50" y2="567.00" stroke="#231f20" stroke-width="0.5" />
<line x1="468.30" y1="596.80" x2="468.30" y2="599.40" stroke="#231f20" stroke-width="0.9" />
<g transform="translate(469.90 602.00) rotate(-45)"><text x="0" y="2.30" font-size="6.4" text-anchor="end" textLength="7.8" lengthAdjust="spacingAndGlyphs">WT</text></g>
<line x1="479.30" y1="596.80" x2="479.30" y2="599.40" stroke="#231f20" stroke-width="0.9" />
<g transform="translate(480.90 602.00) rotate(-45)"><text x="0" y="2.30" font-size="6.4" text-anchor="end" textLength="17.5" lengthAdjust="spacingAndGlyphs">F11KO</text></g>
<path fill="#000" d="M0 0H520V1.15H0Z M0 0H1.2V634H0Z M518.7 0H520V634H518.7Z M0 632.7H520V634H0Z"/>
</svg></body></html>
